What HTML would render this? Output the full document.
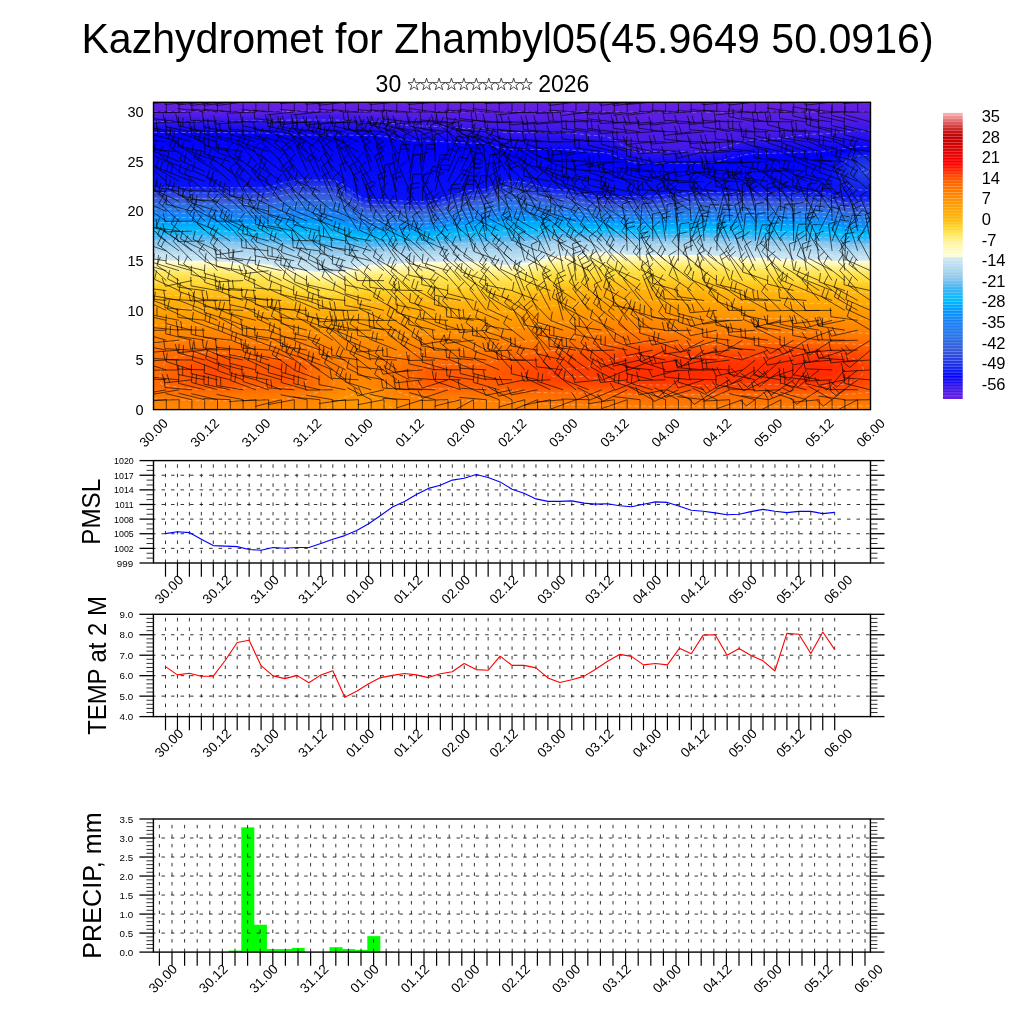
<!DOCTYPE html><html><head><meta charset="utf-8"><style>html,body{margin:0;padding:0;background:#fff;width:1024px;height:1024px;overflow:hidden}svg{display:block;will-change:transform}text{font-family:"Liberation Sans", sans-serif;fill:#000}</style></head><body><svg width="1024" height="1024" viewBox="0 0 1024 1024"><rect width="1024" height="1024" fill="#fff"/><text x="81.4" y="53.1" font-size="42.7" text-anchor="start" textLength="852.2" lengthAdjust="spacingAndGlyphs">Kazhydromet for Zhambyl05(45.9649 50.0916)</text><text x="375.6" y="92.3" font-size="23.0" text-anchor="start" >30</text><text x="589.4" y="92.3" font-size="23.0" text-anchor="end" >2026</text><polygon points="414.10,78.20 415.54,82.62 420.19,82.62 416.43,85.36 417.86,89.78 414.10,87.04 410.34,89.78 411.77,85.36 408.01,82.62 412.66,82.62" fill="none" stroke="#000" stroke-width="0.7"/><polygon points="426.55,78.20 427.99,82.62 432.64,82.62 428.88,85.36 430.31,89.78 426.55,87.04 422.79,89.78 424.22,85.36 420.46,82.62 425.11,82.62" fill="none" stroke="#000" stroke-width="0.7"/><polygon points="439.00,78.20 440.44,82.62 445.09,82.62 441.33,85.36 442.76,89.78 439.00,87.04 435.24,89.78 436.67,85.36 432.91,82.62 437.56,82.62" fill="none" stroke="#000" stroke-width="0.7"/><polygon points="451.45,78.20 452.89,82.62 457.54,82.62 453.78,85.36 455.21,89.78 451.45,87.04 447.69,89.78 449.12,85.36 445.36,82.62 450.01,82.62" fill="none" stroke="#000" stroke-width="0.7"/><polygon points="463.90,78.20 465.34,82.62 469.99,82.62 466.23,85.36 467.66,89.78 463.90,87.04 460.14,89.78 461.57,85.36 457.81,82.62 462.46,82.62" fill="none" stroke="#000" stroke-width="0.7"/><polygon points="476.35,78.20 477.79,82.62 482.44,82.62 478.68,85.36 480.11,89.78 476.35,87.04 472.59,89.78 474.02,85.36 470.26,82.62 474.91,82.62" fill="none" stroke="#000" stroke-width="0.7"/><polygon points="488.80,78.20 490.24,82.62 494.89,82.62 491.13,85.36 492.56,89.78 488.80,87.04 485.04,89.78 486.47,85.36 482.71,82.62 487.36,82.62" fill="none" stroke="#000" stroke-width="0.7"/><polygon points="501.25,78.20 502.69,82.62 507.34,82.62 503.58,85.36 505.01,89.78 501.25,87.04 497.49,89.78 498.92,85.36 495.16,82.62 499.81,82.62" fill="none" stroke="#000" stroke-width="0.7"/><polygon points="513.70,78.20 515.14,82.62 519.79,82.62 516.03,85.36 517.46,89.78 513.70,87.04 509.94,89.78 511.37,85.36 507.61,82.62 512.26,82.62" fill="none" stroke="#000" stroke-width="0.7"/><polygon points="526.15,78.20 527.59,82.62 532.24,82.62 528.48,85.36 529.91,89.78 526.15,87.04 522.39,89.78 523.82,85.36 520.06,82.62 524.71,82.62" fill="none" stroke="#000" stroke-width="0.7"/><defs><linearGradient id="g0" x2="0" y2="1"><stop offset="0.000" stop-color="#6920e0"/><stop offset="0.033" stop-color="#5c1ee2"/><stop offset="0.078" stop-color="#2010f0"/><stop offset="0.107" stop-color="#0101fe"/><stop offset="0.270" stop-color="#0911f7"/><stop offset="0.273" stop-color="#0a14f6"/><stop offset="0.293" stop-color="#2139e7"/><stop offset="0.312" stop-color="#3757d9"/><stop offset="0.316" stop-color="#375ad9"/><stop offset="0.345" stop-color="#2878e8"/><stop offset="0.364" stop-color="#1880f8"/><stop offset="0.384" stop-color="#0099ff"/><stop offset="0.410" stop-color="#00b9ff"/><stop offset="0.417" stop-color="#07bbfe"/><stop offset="0.436" stop-color="#3fb4f4"/><stop offset="0.449" stop-color="#73c1ef"/><stop offset="0.459" stop-color="#91c9ec"/><stop offset="0.488" stop-color="#b9ddf0"/><stop offset="0.511" stop-color="#cee7f4"/><stop offset="0.514" stop-color="#fffedd"/><stop offset="0.521" stop-color="#fffac1"/><stop offset="0.530" stop-color="#fff7ab"/><stop offset="0.547" stop-color="#ffec6f"/><stop offset="0.586" stop-color="#ffd831"/><stop offset="0.628" stop-color="#ffb810"/><stop offset="0.687" stop-color="#ffa000"/><stop offset="0.836" stop-color="#ff6c00"/><stop offset="0.921" stop-color="#ff6900"/><stop offset="1.000" stop-color="#ff8b00"/></linearGradient><linearGradient id="g1" x2="0" y2="1"><stop offset="0.000" stop-color="#6920e0"/><stop offset="0.033" stop-color="#5c1ee2"/><stop offset="0.078" stop-color="#2010f0"/><stop offset="0.107" stop-color="#0101fe"/><stop offset="0.270" stop-color="#0911f7"/><stop offset="0.273" stop-color="#0a14f6"/><stop offset="0.293" stop-color="#2139e7"/><stop offset="0.312" stop-color="#3757d9"/><stop offset="0.316" stop-color="#375ad9"/><stop offset="0.345" stop-color="#2878e8"/><stop offset="0.364" stop-color="#1880f8"/><stop offset="0.384" stop-color="#0099ff"/><stop offset="0.413" stop-color="#01bcff"/><stop offset="0.436" stop-color="#3eb4f4"/><stop offset="0.449" stop-color="#72c1ef"/><stop offset="0.459" stop-color="#91c9ec"/><stop offset="0.488" stop-color="#b9ddf0"/><stop offset="0.511" stop-color="#cde7f4"/><stop offset="0.514" stop-color="#fffede"/><stop offset="0.521" stop-color="#fffac3"/><stop offset="0.530" stop-color="#fff7ac"/><stop offset="0.547" stop-color="#ffec6f"/><stop offset="0.586" stop-color="#ffd932"/><stop offset="0.628" stop-color="#ffb810"/><stop offset="0.690" stop-color="#ff9f00"/><stop offset="0.836" stop-color="#ff6900"/><stop offset="0.918" stop-color="#ff6700"/><stop offset="1.000" stop-color="#ff8b00"/></linearGradient><linearGradient id="g2" x2="0" y2="1"><stop offset="0.000" stop-color="#6920e0"/><stop offset="0.033" stop-color="#5c1ee2"/><stop offset="0.078" stop-color="#2010f0"/><stop offset="0.107" stop-color="#0101fe"/><stop offset="0.270" stop-color="#0911f7"/><stop offset="0.273" stop-color="#0a14f6"/><stop offset="0.293" stop-color="#2139e7"/><stop offset="0.312" stop-color="#3756d9"/><stop offset="0.316" stop-color="#375ad9"/><stop offset="0.345" stop-color="#2878e8"/><stop offset="0.364" stop-color="#1980f7"/><stop offset="0.384" stop-color="#0099ff"/><stop offset="0.413" stop-color="#00bcff"/><stop offset="0.436" stop-color="#3db4f5"/><stop offset="0.452" stop-color="#7dc3ee"/><stop offset="0.459" stop-color="#90c8ec"/><stop offset="0.488" stop-color="#b9dcf0"/><stop offset="0.514" stop-color="#d0e8f4"/><stop offset="0.517" stop-color="#fffcd3"/><stop offset="0.521" stop-color="#fffbc5"/><stop offset="0.530" stop-color="#fff8ae"/><stop offset="0.547" stop-color="#ffec70"/><stop offset="0.589" stop-color="#ffd72f"/><stop offset="0.628" stop-color="#ffb810"/><stop offset="0.690" stop-color="#ff9f00"/><stop offset="0.797" stop-color="#ff7800"/><stop offset="0.836" stop-color="#ff6500"/><stop offset="0.856" stop-color="#ff6200"/><stop offset="0.918" stop-color="#ff6300"/><stop offset="0.953" stop-color="#ff7900"/><stop offset="1.000" stop-color="#ff8b00"/></linearGradient><linearGradient id="g3" x2="0" y2="1"><stop offset="0.000" stop-color="#6920e0"/><stop offset="0.033" stop-color="#5c1ee2"/><stop offset="0.078" stop-color="#2010f0"/><stop offset="0.107" stop-color="#0101fe"/><stop offset="0.270" stop-color="#0911f7"/><stop offset="0.273" stop-color="#0a14f6"/><stop offset="0.293" stop-color="#2139e7"/><stop offset="0.316" stop-color="#375ad9"/><stop offset="0.345" stop-color="#2877e8"/><stop offset="0.364" stop-color="#1980f7"/><stop offset="0.384" stop-color="#0098ff"/><stop offset="0.413" stop-color="#00bcff"/><stop offset="0.420" stop-color="#0ebafd"/><stop offset="0.436" stop-color="#3cb5f5"/><stop offset="0.452" stop-color="#7bc3ee"/><stop offset="0.459" stop-color="#8fc8ec"/><stop offset="0.488" stop-color="#b8dcf0"/><stop offset="0.514" stop-color="#cfe8f4"/><stop offset="0.517" stop-color="#fffdd5"/><stop offset="0.524" stop-color="#fffabe"/><stop offset="0.530" stop-color="#fff8b0"/><stop offset="0.547" stop-color="#ffec72"/><stop offset="0.550" stop-color="#ffeb6c"/><stop offset="0.589" stop-color="#ffd72f"/><stop offset="0.631" stop-color="#ffb70f"/><stop offset="0.690" stop-color="#ffa000"/><stop offset="0.794" stop-color="#ff7800"/><stop offset="0.836" stop-color="#ff6000"/><stop offset="0.859" stop-color="#ff5b00"/><stop offset="0.918" stop-color="#ff5f00"/><stop offset="0.953" stop-color="#ff7800"/><stop offset="1.000" stop-color="#ff8b00"/></linearGradient><linearGradient id="g4" x2="0" y2="1"><stop offset="0.000" stop-color="#6920e0"/><stop offset="0.033" stop-color="#5c1ee2"/><stop offset="0.078" stop-color="#2010f0"/><stop offset="0.107" stop-color="#0101fe"/><stop offset="0.270" stop-color="#0911f7"/><stop offset="0.273" stop-color="#0a14f6"/><stop offset="0.293" stop-color="#2139e8"/><stop offset="0.316" stop-color="#375ad9"/><stop offset="0.345" stop-color="#2877e8"/><stop offset="0.364" stop-color="#197ff7"/><stop offset="0.384" stop-color="#0098ff"/><stop offset="0.413" stop-color="#00bbff"/><stop offset="0.420" stop-color="#0cbafd"/><stop offset="0.439" stop-color="#45b5f4"/><stop offset="0.452" stop-color="#79c2ee"/><stop offset="0.459" stop-color="#8ec7ec"/><stop offset="0.488" stop-color="#b7dcf0"/><stop offset="0.514" stop-color="#cee7f4"/><stop offset="0.517" stop-color="#fffdd8"/><stop offset="0.524" stop-color="#fffabf"/><stop offset="0.530" stop-color="#fff8b2"/><stop offset="0.547" stop-color="#ffed75"/><stop offset="0.550" stop-color="#ffeb6d"/><stop offset="0.589" stop-color="#ffd830"/><stop offset="0.631" stop-color="#ffb710"/><stop offset="0.690" stop-color="#ffa000"/><stop offset="0.791" stop-color="#ff7800"/><stop offset="0.840" stop-color="#ff5900"/><stop offset="0.859" stop-color="#ff5500"/><stop offset="0.918" stop-color="#ff5c00"/><stop offset="0.957" stop-color="#ff7800"/><stop offset="1.000" stop-color="#ff8b00"/></linearGradient><linearGradient id="g5" x2="0" y2="1"><stop offset="0.000" stop-color="#6920e0"/><stop offset="0.033" stop-color="#5c1ee2"/><stop offset="0.078" stop-color="#2010f0"/><stop offset="0.107" stop-color="#0101fe"/><stop offset="0.270" stop-color="#0911f7"/><stop offset="0.273" stop-color="#0a14f6"/><stop offset="0.293" stop-color="#2139e8"/><stop offset="0.316" stop-color="#375ad9"/><stop offset="0.345" stop-color="#2977e7"/><stop offset="0.364" stop-color="#197ff7"/><stop offset="0.384" stop-color="#0197ff"/><stop offset="0.413" stop-color="#00bbff"/><stop offset="0.420" stop-color="#0bbbfd"/><stop offset="0.436" stop-color="#39b5f5"/><stop offset="0.452" stop-color="#78c2ee"/><stop offset="0.459" stop-color="#8cc7ec"/><stop offset="0.488" stop-color="#b6dbf0"/><stop offset="0.514" stop-color="#cee7f4"/><stop offset="0.517" stop-color="#fffddb"/><stop offset="0.524" stop-color="#fffac0"/><stop offset="0.534" stop-color="#fff7a9"/><stop offset="0.550" stop-color="#ffeb6e"/><stop offset="0.589" stop-color="#ffd831"/><stop offset="0.631" stop-color="#ffb810"/><stop offset="0.690" stop-color="#ffa000"/><stop offset="0.788" stop-color="#ff7800"/><stop offset="0.840" stop-color="#ff5500"/><stop offset="0.862" stop-color="#ff5000"/><stop offset="0.918" stop-color="#ff5800"/><stop offset="0.957" stop-color="#ff7800"/><stop offset="1.000" stop-color="#ff8b00"/></linearGradient><linearGradient id="g6" x2="0" y2="1"><stop offset="0.000" stop-color="#6920e0"/><stop offset="0.033" stop-color="#5c1ee2"/><stop offset="0.078" stop-color="#2010f0"/><stop offset="0.107" stop-color="#0101fe"/><stop offset="0.270" stop-color="#0911f7"/><stop offset="0.273" stop-color="#0a14f6"/><stop offset="0.293" stop-color="#2139e8"/><stop offset="0.316" stop-color="#375ad9"/><stop offset="0.345" stop-color="#2977e7"/><stop offset="0.364" stop-color="#197ff7"/><stop offset="0.384" stop-color="#0197ff"/><stop offset="0.413" stop-color="#00bbff"/><stop offset="0.420" stop-color="#0bbbfd"/><stop offset="0.439" stop-color="#42b5f4"/><stop offset="0.452" stop-color="#77c2ef"/><stop offset="0.462" stop-color="#93c9ec"/><stop offset="0.488" stop-color="#b6dbf0"/><stop offset="0.514" stop-color="#cee7f4"/><stop offset="0.517" stop-color="#fffedc"/><stop offset="0.524" stop-color="#fffac1"/><stop offset="0.534" stop-color="#fff7aa"/><stop offset="0.550" stop-color="#ffec6e"/><stop offset="0.589" stop-color="#ffd831"/><stop offset="0.631" stop-color="#ffb810"/><stop offset="0.690" stop-color="#ffa000"/><stop offset="0.784" stop-color="#ff7900"/><stop offset="0.814" stop-color="#ff6800"/><stop offset="0.840" stop-color="#ff5200"/><stop offset="0.862" stop-color="#ff4b00"/><stop offset="0.885" stop-color="#ff4c00"/><stop offset="0.918" stop-color="#ff5600"/><stop offset="0.957" stop-color="#ff7700"/><stop offset="1.000" stop-color="#ff8b00"/></linearGradient><linearGradient id="g7" x2="0" y2="1"><stop offset="0.000" stop-color="#6920e0"/><stop offset="0.033" stop-color="#5c1ee2"/><stop offset="0.078" stop-color="#2010f0"/><stop offset="0.107" stop-color="#0101fe"/><stop offset="0.270" stop-color="#0911f7"/><stop offset="0.273" stop-color="#0a14f6"/><stop offset="0.293" stop-color="#2139e8"/><stop offset="0.316" stop-color="#375ad9"/><stop offset="0.345" stop-color="#2977e7"/><stop offset="0.364" stop-color="#197ff7"/><stop offset="0.384" stop-color="#0197ff"/><stop offset="0.413" stop-color="#00baff"/><stop offset="0.420" stop-color="#0bbbfd"/><stop offset="0.439" stop-color="#42b5f4"/><stop offset="0.452" stop-color="#76c2ef"/><stop offset="0.462" stop-color="#92c9ec"/><stop offset="0.488" stop-color="#b6dbf0"/><stop offset="0.514" stop-color="#cde7f4"/><stop offset="0.517" stop-color="#fffedd"/><stop offset="0.524" stop-color="#fffac1"/><stop offset="0.534" stop-color="#fff7ab"/><stop offset="0.550" stop-color="#ffec6f"/><stop offset="0.589" stop-color="#ffd831"/><stop offset="0.631" stop-color="#ffb810"/><stop offset="0.690" stop-color="#ffa000"/><stop offset="0.784" stop-color="#ff7900"/><stop offset="0.814" stop-color="#ff6800"/><stop offset="0.840" stop-color="#ff5100"/><stop offset="0.862" stop-color="#ff4a00"/><stop offset="0.885" stop-color="#ff4b00"/><stop offset="0.918" stop-color="#ff5600"/><stop offset="0.957" stop-color="#ff7700"/><stop offset="1.000" stop-color="#ff8a00"/></linearGradient><linearGradient id="g8" x2="0" y2="1"><stop offset="0.000" stop-color="#6920e0"/><stop offset="0.033" stop-color="#5c1ee2"/><stop offset="0.078" stop-color="#2010f0"/><stop offset="0.107" stop-color="#0101ff"/><stop offset="0.270" stop-color="#0911f7"/><stop offset="0.273" stop-color="#0a14f6"/><stop offset="0.293" stop-color="#2139e8"/><stop offset="0.316" stop-color="#375ad9"/><stop offset="0.345" stop-color="#2976e7"/><stop offset="0.364" stop-color="#1a7ff6"/><stop offset="0.384" stop-color="#0296ff"/><stop offset="0.413" stop-color="#00baff"/><stop offset="0.420" stop-color="#09bbfd"/><stop offset="0.439" stop-color="#3fb4f4"/><stop offset="0.452" stop-color="#73c1ef"/><stop offset="0.462" stop-color="#91c9ec"/><stop offset="0.491" stop-color="#b9dcf0"/><stop offset="0.517" stop-color="#cfe8f4"/><stop offset="0.521" stop-color="#fffcd3"/><stop offset="0.524" stop-color="#fffbc6"/><stop offset="0.534" stop-color="#fff8af"/><stop offset="0.550" stop-color="#ffec70"/><stop offset="0.592" stop-color="#ffd72f"/><stop offset="0.631" stop-color="#ffb810"/><stop offset="0.693" stop-color="#ff9f00"/><stop offset="0.788" stop-color="#ff7800"/><stop offset="0.814" stop-color="#ff6900"/><stop offset="0.840" stop-color="#ff5300"/><stop offset="0.862" stop-color="#ff4d00"/><stop offset="0.882" stop-color="#ff4d00"/><stop offset="0.918" stop-color="#ff5700"/><stop offset="0.957" stop-color="#ff7700"/><stop offset="1.000" stop-color="#ff8b00"/></linearGradient><linearGradient id="g9" x2="0" y2="1"><stop offset="0.000" stop-color="#6920e0"/><stop offset="0.033" stop-color="#5c1ee2"/><stop offset="0.078" stop-color="#2010f0"/><stop offset="0.107" stop-color="#0000ff"/><stop offset="0.111" stop-color="#0204fd"/><stop offset="0.114" stop-color="#0000ff"/><stop offset="0.270" stop-color="#0911f7"/><stop offset="0.273" stop-color="#0a14f6"/><stop offset="0.293" stop-color="#2038e8"/><stop offset="0.316" stop-color="#3759d9"/><stop offset="0.348" stop-color="#2779e9"/><stop offset="0.368" stop-color="#1880f8"/><stop offset="0.387" stop-color="#0099ff"/><stop offset="0.417" stop-color="#00bcff"/><stop offset="0.439" stop-color="#3cb5f5"/><stop offset="0.456" stop-color="#7ac3ee"/><stop offset="0.462" stop-color="#8ec8ec"/><stop offset="0.491" stop-color="#b7dbf0"/><stop offset="0.517" stop-color="#cee7f4"/><stop offset="0.521" stop-color="#fffddc"/><stop offset="0.527" stop-color="#fffac1"/><stop offset="0.537" stop-color="#fff7aa"/><stop offset="0.553" stop-color="#ffeb6e"/><stop offset="0.592" stop-color="#ffd831"/><stop offset="0.635" stop-color="#ffb710"/><stop offset="0.693" stop-color="#ffa000"/><stop offset="0.788" stop-color="#ff7900"/><stop offset="0.817" stop-color="#ff6900"/><stop offset="0.840" stop-color="#ff5600"/><stop offset="0.862" stop-color="#ff5100"/><stop offset="0.918" stop-color="#ff5900"/><stop offset="0.957" stop-color="#ff7800"/><stop offset="1.000" stop-color="#ff8b00"/></linearGradient><linearGradient id="g10" x2="0" y2="1"><stop offset="0.000" stop-color="#6920e0"/><stop offset="0.033" stop-color="#5c1ee2"/><stop offset="0.078" stop-color="#2010f0"/><stop offset="0.107" stop-color="#0000ff"/><stop offset="0.270" stop-color="#0911f7"/><stop offset="0.273" stop-color="#0a14f6"/><stop offset="0.293" stop-color="#2038e8"/><stop offset="0.316" stop-color="#3859d8"/><stop offset="0.348" stop-color="#2878e8"/><stop offset="0.368" stop-color="#1880f8"/><stop offset="0.387" stop-color="#0098ff"/><stop offset="0.417" stop-color="#00bbff"/><stop offset="0.423" stop-color="#0bbbfd"/><stop offset="0.443" stop-color="#40b4f4"/><stop offset="0.456" stop-color="#73c1ef"/><stop offset="0.465" stop-color="#91c9ec"/><stop offset="0.495" stop-color="#b8dcf0"/><stop offset="0.521" stop-color="#cee7f4"/><stop offset="0.524" stop-color="#fffdd8"/><stop offset="0.530" stop-color="#fffabf"/><stop offset="0.537" stop-color="#fff8b2"/><stop offset="0.553" stop-color="#ffed74"/><stop offset="0.556" stop-color="#ffeb6d"/><stop offset="0.596" stop-color="#ffd72f"/><stop offset="0.635" stop-color="#ffb911"/><stop offset="0.696" stop-color="#ff9f00"/><stop offset="0.794" stop-color="#ff7800"/><stop offset="0.843" stop-color="#ff5900"/><stop offset="0.862" stop-color="#ff5500"/><stop offset="0.918" stop-color="#ff5c00"/><stop offset="0.957" stop-color="#ff7900"/><stop offset="1.000" stop-color="#ff8b00"/></linearGradient><linearGradient id="g11" x2="0" y2="1"><stop offset="0.000" stop-color="#6920e0"/><stop offset="0.033" stop-color="#5c1ee2"/><stop offset="0.049" stop-color="#4419e7"/><stop offset="0.078" stop-color="#2010f0"/><stop offset="0.107" stop-color="#0101fe"/><stop offset="0.270" stop-color="#0911f7"/><stop offset="0.273" stop-color="#0a14f6"/><stop offset="0.293" stop-color="#2038e8"/><stop offset="0.316" stop-color="#3858d8"/><stop offset="0.351" stop-color="#2679ea"/><stop offset="0.368" stop-color="#197ff7"/><stop offset="0.387" stop-color="#0197ff"/><stop offset="0.417" stop-color="#00b9ff"/><stop offset="0.423" stop-color="#07bbfe"/><stop offset="0.443" stop-color="#3cb4f5"/><stop offset="0.459" stop-color="#7ac2ee"/><stop offset="0.465" stop-color="#8dc7ec"/><stop offset="0.495" stop-color="#b6dbf0"/><stop offset="0.524" stop-color="#cfe8f4"/><stop offset="0.527" stop-color="#fffcd4"/><stop offset="0.534" stop-color="#fffabd"/><stop offset="0.540" stop-color="#fff8af"/><stop offset="0.556" stop-color="#ffec70"/><stop offset="0.596" stop-color="#ffd932"/><stop offset="0.638" stop-color="#ffb810"/><stop offset="0.696" stop-color="#ffa000"/><stop offset="0.797" stop-color="#ff7800"/><stop offset="0.843" stop-color="#ff5d00"/><stop offset="0.862" stop-color="#ff5800"/><stop offset="0.918" stop-color="#ff5e00"/><stop offset="0.953" stop-color="#ff7700"/><stop offset="1.000" stop-color="#ff8b00"/></linearGradient><linearGradient id="g12" x2="0" y2="1"><stop offset="0.000" stop-color="#6920e0"/><stop offset="0.033" stop-color="#5c1ee2"/><stop offset="0.049" stop-color="#4319e7"/><stop offset="0.078" stop-color="#2010f0"/><stop offset="0.107" stop-color="#0201fe"/><stop offset="0.270" stop-color="#0911f7"/><stop offset="0.273" stop-color="#0a14f6"/><stop offset="0.293" stop-color="#2038e8"/><stop offset="0.316" stop-color="#3858d8"/><stop offset="0.351" stop-color="#2679ea"/><stop offset="0.371" stop-color="#1682f8"/><stop offset="0.390" stop-color="#009aff"/><stop offset="0.420" stop-color="#00bcff"/><stop offset="0.426" stop-color="#0dbafd"/><stop offset="0.446" stop-color="#43b5f4"/><stop offset="0.459" stop-color="#75c1ef"/><stop offset="0.469" stop-color="#91c9ec"/><stop offset="0.498" stop-color="#b8dcf0"/><stop offset="0.524" stop-color="#cee7f4"/><stop offset="0.527" stop-color="#fffdda"/><stop offset="0.534" stop-color="#fffac0"/><stop offset="0.540" stop-color="#fff8b2"/><stop offset="0.556" stop-color="#ffed76"/><stop offset="0.560" stop-color="#ffeb6d"/><stop offset="0.599" stop-color="#ffd830"/><stop offset="0.638" stop-color="#ffb911"/><stop offset="0.700" stop-color="#ff9f00"/><stop offset="0.801" stop-color="#ff7800"/><stop offset="0.846" stop-color="#ff5d00"/><stop offset="0.862" stop-color="#ff5a00"/><stop offset="0.918" stop-color="#ff5f00"/><stop offset="0.953" stop-color="#ff7800"/><stop offset="1.000" stop-color="#ff8b00"/></linearGradient><linearGradient id="g13" x2="0" y2="1"><stop offset="0.000" stop-color="#6920e0"/><stop offset="0.033" stop-color="#5c1ee2"/><stop offset="0.049" stop-color="#4319e7"/><stop offset="0.078" stop-color="#2010f0"/><stop offset="0.107" stop-color="#0201fe"/><stop offset="0.270" stop-color="#0911f7"/><stop offset="0.293" stop-color="#2038e8"/><stop offset="0.316" stop-color="#3858d8"/><stop offset="0.351" stop-color="#2679ea"/><stop offset="0.371" stop-color="#1781f8"/><stop offset="0.390" stop-color="#009aff"/><stop offset="0.420" stop-color="#00bbff"/><stop offset="0.426" stop-color="#0cbafd"/><stop offset="0.446" stop-color="#42b4f4"/><stop offset="0.459" stop-color="#74c1ef"/><stop offset="0.469" stop-color="#91c9ec"/><stop offset="0.498" stop-color="#b7dcf0"/><stop offset="0.524" stop-color="#cee7f4"/><stop offset="0.527" stop-color="#fffedd"/><stop offset="0.534" stop-color="#fffac1"/><stop offset="0.543" stop-color="#fff7aa"/><stop offset="0.560" stop-color="#ffeb6e"/><stop offset="0.599" stop-color="#ffd830"/><stop offset="0.641" stop-color="#ffb70f"/><stop offset="0.700" stop-color="#ff9f00"/><stop offset="0.801" stop-color="#ff7800"/><stop offset="0.846" stop-color="#ff5d00"/><stop offset="0.866" stop-color="#ff5900"/><stop offset="0.918" stop-color="#ff5f00"/><stop offset="0.953" stop-color="#ff7800"/><stop offset="1.000" stop-color="#ff8b00"/></linearGradient><linearGradient id="g14" x2="0" y2="1"><stop offset="0.000" stop-color="#6920e0"/><stop offset="0.033" stop-color="#5c1ee2"/><stop offset="0.049" stop-color="#4218e8"/><stop offset="0.078" stop-color="#2010f0"/><stop offset="0.111" stop-color="#0001ff"/><stop offset="0.267" stop-color="#0911f7"/><stop offset="0.270" stop-color="#0a13f6"/><stop offset="0.290" stop-color="#1f37e8"/><stop offset="0.312" stop-color="#3757d9"/><stop offset="0.316" stop-color="#375ad9"/><stop offset="0.348" stop-color="#2778e9"/><stop offset="0.368" stop-color="#1980f7"/><stop offset="0.387" stop-color="#0296ff"/><stop offset="0.420" stop-color="#00bbff"/><stop offset="0.426" stop-color="#0cbbfd"/><stop offset="0.446" stop-color="#40b4f4"/><stop offset="0.462" stop-color="#7cc3ee"/><stop offset="0.469" stop-color="#8fc8ec"/><stop offset="0.501" stop-color="#b9dcf0"/><stop offset="0.527" stop-color="#cee7f4"/><stop offset="0.530" stop-color="#fffdd8"/><stop offset="0.537" stop-color="#fffabf"/><stop offset="0.543" stop-color="#fff8b1"/><stop offset="0.560" stop-color="#ffed73"/><stop offset="0.563" stop-color="#ffeb6c"/><stop offset="0.602" stop-color="#ffd72f"/><stop offset="0.641" stop-color="#ffb810"/><stop offset="0.700" stop-color="#ffa000"/><stop offset="0.801" stop-color="#ff7900"/><stop offset="0.846" stop-color="#ff5c00"/><stop offset="0.866" stop-color="#ff5700"/><stop offset="0.918" stop-color="#ff5e00"/><stop offset="0.953" stop-color="#ff7800"/><stop offset="1.000" stop-color="#ff8b00"/></linearGradient><linearGradient id="g15" x2="0" y2="1"><stop offset="0.000" stop-color="#6920e0"/><stop offset="0.033" stop-color="#5c1ee2"/><stop offset="0.046" stop-color="#4419e7"/><stop offset="0.078" stop-color="#2010f0"/><stop offset="0.111" stop-color="#0201fe"/><stop offset="0.260" stop-color="#0911f7"/><stop offset="0.283" stop-color="#1e36e9"/><stop offset="0.309" stop-color="#3859d8"/><stop offset="0.345" stop-color="#2778e9"/><stop offset="0.364" stop-color="#1a7ff6"/><stop offset="0.387" stop-color="#0098ff"/><stop offset="0.420" stop-color="#00bbff"/><stop offset="0.426" stop-color="#0bbbfd"/><stop offset="0.446" stop-color="#3cb4f5"/><stop offset="0.462" stop-color="#75c1ef"/><stop offset="0.472" stop-color="#91c8ec"/><stop offset="0.504" stop-color="#b8dcf0"/><stop offset="0.534" stop-color="#d0e8f4"/><stop offset="0.537" stop-color="#fffcd2"/><stop offset="0.540" stop-color="#fffbc4"/><stop offset="0.550" stop-color="#fff7ad"/><stop offset="0.566" stop-color="#ffec6f"/><stop offset="0.605" stop-color="#ffd830"/><stop offset="0.644" stop-color="#ffb810"/><stop offset="0.703" stop-color="#ffa000"/><stop offset="0.804" stop-color="#ff7800"/><stop offset="0.849" stop-color="#ff5900"/><stop offset="0.866" stop-color="#ff5500"/><stop offset="0.888" stop-color="#ff5500"/><stop offset="0.918" stop-color="#ff5d00"/><stop offset="0.953" stop-color="#ff7800"/><stop offset="1.000" stop-color="#ff8c00"/></linearGradient><linearGradient id="g16" x2="0" y2="1"><stop offset="0.000" stop-color="#6920e0"/><stop offset="0.029" stop-color="#5f1ee2"/><stop offset="0.046" stop-color="#4218e8"/><stop offset="0.078" stop-color="#2010f0"/><stop offset="0.114" stop-color="#0101ff"/><stop offset="0.254" stop-color="#0911f7"/><stop offset="0.277" stop-color="#1f36e9"/><stop offset="0.303" stop-color="#3858d8"/><stop offset="0.342" stop-color="#2778e9"/><stop offset="0.364" stop-color="#1880f8"/><stop offset="0.387" stop-color="#009aff"/><stop offset="0.420" stop-color="#00bbff"/><stop offset="0.426" stop-color="#0abbfd"/><stop offset="0.449" stop-color="#41b4f4"/><stop offset="0.465" stop-color="#79c2ee"/><stop offset="0.475" stop-color="#91c9ec"/><stop offset="0.508" stop-color="#b7dcf0"/><stop offset="0.537" stop-color="#cde7f4"/><stop offset="0.540" stop-color="#fffede"/><stop offset="0.547" stop-color="#fffac2"/><stop offset="0.556" stop-color="#fff7aa"/><stop offset="0.569" stop-color="#ffed76"/><stop offset="0.573" stop-color="#ffeb6d"/><stop offset="0.612" stop-color="#ffd72f"/><stop offset="0.651" stop-color="#ffb710"/><stop offset="0.706" stop-color="#ffa000"/><stop offset="0.804" stop-color="#ff7900"/><stop offset="0.853" stop-color="#ff5800"/><stop offset="0.866" stop-color="#ff5500"/><stop offset="0.888" stop-color="#ff5500"/><stop offset="0.918" stop-color="#ff5d00"/><stop offset="0.953" stop-color="#ff7900"/><stop offset="1.000" stop-color="#ff8c00"/></linearGradient><linearGradient id="g17" x2="0" y2="1"><stop offset="0.000" stop-color="#6920e0"/><stop offset="0.029" stop-color="#5f1ee2"/><stop offset="0.033" stop-color="#5b1de3"/><stop offset="0.042" stop-color="#4319e7"/><stop offset="0.078" stop-color="#2110f0"/><stop offset="0.117" stop-color="#0000ff"/><stop offset="0.247" stop-color="#0911f7"/><stop offset="0.273" stop-color="#2139e7"/><stop offset="0.299" stop-color="#3859d8"/><stop offset="0.338" stop-color="#2778e9"/><stop offset="0.361" stop-color="#1980f7"/><stop offset="0.384" stop-color="#0098ff"/><stop offset="0.420" stop-color="#00bbff"/><stop offset="0.426" stop-color="#09bbfd"/><stop offset="0.449" stop-color="#3eb4f4"/><stop offset="0.465" stop-color="#73c1ef"/><stop offset="0.475" stop-color="#8dc7ec"/><stop offset="0.511" stop-color="#b7dcf0"/><stop offset="0.543" stop-color="#cfe7f4"/><stop offset="0.547" stop-color="#fffdd6"/><stop offset="0.553" stop-color="#fffabd"/><stop offset="0.560" stop-color="#fff8af"/><stop offset="0.576" stop-color="#ffec6f"/><stop offset="0.615" stop-color="#ffd72f"/><stop offset="0.654" stop-color="#ffb810"/><stop offset="0.709" stop-color="#ffa000"/><stop offset="0.807" stop-color="#ff7900"/><stop offset="0.853" stop-color="#ff5b00"/><stop offset="0.866" stop-color="#ff5700"/><stop offset="0.888" stop-color="#ff5800"/><stop offset="0.918" stop-color="#ff6000"/><stop offset="0.950" stop-color="#ff7800"/><stop offset="1.000" stop-color="#ff8c00"/></linearGradient><linearGradient id="g18" x2="0" y2="1"><stop offset="0.000" stop-color="#6920e0"/><stop offset="0.029" stop-color="#5f1ee2"/><stop offset="0.033" stop-color="#5b1de3"/><stop offset="0.042" stop-color="#4319e7"/><stop offset="0.078" stop-color="#2110f0"/><stop offset="0.117" stop-color="#0100ff"/><stop offset="0.244" stop-color="#0911f7"/><stop offset="0.270" stop-color="#1f37e8"/><stop offset="0.299" stop-color="#375ad9"/><stop offset="0.338" stop-color="#2779e9"/><stop offset="0.361" stop-color="#1880f8"/><stop offset="0.384" stop-color="#0098ff"/><stop offset="0.420" stop-color="#00bbff"/><stop offset="0.426" stop-color="#09bbfe"/><stop offset="0.449" stop-color="#3db4f5"/><stop offset="0.469" stop-color="#7bc3ee"/><stop offset="0.478" stop-color="#92c9ec"/><stop offset="0.514" stop-color="#b9dcf0"/><stop offset="0.543" stop-color="#cee7f4"/><stop offset="0.547" stop-color="#fffedc"/><stop offset="0.553" stop-color="#fffac0"/><stop offset="0.560" stop-color="#fff8b2"/><stop offset="0.576" stop-color="#ffec73"/><stop offset="0.579" stop-color="#ffeb6c"/><stop offset="0.615" stop-color="#ffd830"/><stop offset="0.654" stop-color="#ffb810"/><stop offset="0.713" stop-color="#ff9f00"/><stop offset="0.810" stop-color="#ff7800"/><stop offset="0.862" stop-color="#ff5e00"/><stop offset="0.885" stop-color="#ff5e00"/><stop offset="0.918" stop-color="#ff6500"/><stop offset="0.953" stop-color="#ff7c00"/><stop offset="1.000" stop-color="#ff8d00"/></linearGradient><linearGradient id="g19" x2="0" y2="1"><stop offset="0.000" stop-color="#6920e0"/><stop offset="0.029" stop-color="#5f1ee2"/><stop offset="0.033" stop-color="#5b1de3"/><stop offset="0.042" stop-color="#4319e7"/><stop offset="0.078" stop-color="#2110f0"/><stop offset="0.117" stop-color="#0100ff"/><stop offset="0.244" stop-color="#0911f7"/><stop offset="0.270" stop-color="#1f37e8"/><stop offset="0.299" stop-color="#3759d9"/><stop offset="0.338" stop-color="#2778e9"/><stop offset="0.361" stop-color="#1980f7"/><stop offset="0.384" stop-color="#0197ff"/><stop offset="0.420" stop-color="#00baff"/><stop offset="0.426" stop-color="#07bbfe"/><stop offset="0.452" stop-color="#42b4f4"/><stop offset="0.469" stop-color="#77c2ef"/><stop offset="0.478" stop-color="#90c8ec"/><stop offset="0.514" stop-color="#b8dcf0"/><stop offset="0.547" stop-color="#cfe7f4"/><stop offset="0.550" stop-color="#fffdd7"/><stop offset="0.556" stop-color="#fffabd"/><stop offset="0.563" stop-color="#fff8af"/><stop offset="0.579" stop-color="#ffec6f"/><stop offset="0.618" stop-color="#ffd72f"/><stop offset="0.657" stop-color="#ffb710"/><stop offset="0.713" stop-color="#ffa000"/><stop offset="0.859" stop-color="#ff6600"/><stop offset="0.918" stop-color="#ff6b00"/><stop offset="0.960" stop-color="#ff8200"/><stop offset="1.000" stop-color="#ff8f00"/></linearGradient><linearGradient id="g20" x2="0" y2="1"><stop offset="0.000" stop-color="#6920e0"/><stop offset="0.029" stop-color="#5f1ee2"/><stop offset="0.033" stop-color="#5b1de3"/><stop offset="0.042" stop-color="#4319e7"/><stop offset="0.078" stop-color="#2110f0"/><stop offset="0.117" stop-color="#0100ff"/><stop offset="0.244" stop-color="#0911f7"/><stop offset="0.270" stop-color="#1f36e9"/><stop offset="0.299" stop-color="#3859d8"/><stop offset="0.338" stop-color="#2878e8"/><stop offset="0.361" stop-color="#1a7ff6"/><stop offset="0.387" stop-color="#0098ff"/><stop offset="0.423" stop-color="#00bbff"/><stop offset="0.430" stop-color="#08bbfe"/><stop offset="0.456" stop-color="#44b5f4"/><stop offset="0.472" stop-color="#78c2ee"/><stop offset="0.482" stop-color="#90c8ec"/><stop offset="0.517" stop-color="#b7dcf0"/><stop offset="0.550" stop-color="#cee7f4"/><stop offset="0.553" stop-color="#fffdd9"/><stop offset="0.560" stop-color="#fffabf"/><stop offset="0.566" stop-color="#fff8b1"/><stop offset="0.582" stop-color="#ffec70"/><stop offset="0.622" stop-color="#ffd72f"/><stop offset="0.661" stop-color="#ffb710"/><stop offset="0.716" stop-color="#ffa000"/><stop offset="0.859" stop-color="#ff6d00"/><stop offset="0.921" stop-color="#ff7200"/><stop offset="0.960" stop-color="#ff8500"/><stop offset="1.000" stop-color="#ff9100"/></linearGradient><linearGradient id="g21" x2="0" y2="1"><stop offset="0.000" stop-color="#6920e0"/><stop offset="0.029" stop-color="#5f1ee2"/><stop offset="0.033" stop-color="#5b1de3"/><stop offset="0.042" stop-color="#4319e7"/><stop offset="0.078" stop-color="#2110f0"/><stop offset="0.117" stop-color="#0100ff"/><stop offset="0.244" stop-color="#0911f7"/><stop offset="0.270" stop-color="#1f36e9"/><stop offset="0.299" stop-color="#3858d8"/><stop offset="0.342" stop-color="#2779e9"/><stop offset="0.364" stop-color="#1880f8"/><stop offset="0.387" stop-color="#0197ff"/><stop offset="0.426" stop-color="#00bcff"/><stop offset="0.456" stop-color="#3eb4f4"/><stop offset="0.475" stop-color="#7ac3ee"/><stop offset="0.485" stop-color="#91c9ec"/><stop offset="0.521" stop-color="#b8dcf0"/><stop offset="0.553" stop-color="#cee7f4"/><stop offset="0.556" stop-color="#fffdd9"/><stop offset="0.563" stop-color="#fffabf"/><stop offset="0.569" stop-color="#fff8b0"/><stop offset="0.586" stop-color="#ffec6f"/><stop offset="0.625" stop-color="#ffd72f"/><stop offset="0.664" stop-color="#ffb70f"/><stop offset="0.719" stop-color="#ffa000"/><stop offset="0.791" stop-color="#ff8500"/><stop offset="0.859" stop-color="#ff7400"/><stop offset="0.921" stop-color="#ff7900"/><stop offset="0.960" stop-color="#ff8900"/><stop offset="1.000" stop-color="#ff9300"/></linearGradient><linearGradient id="g22" x2="0" y2="1"><stop offset="0.000" stop-color="#6920e0"/><stop offset="0.029" stop-color="#5f1ee2"/><stop offset="0.033" stop-color="#5b1de3"/><stop offset="0.042" stop-color="#4319e7"/><stop offset="0.078" stop-color="#2110f0"/><stop offset="0.117" stop-color="#0100ff"/><stop offset="0.247" stop-color="#0911f7"/><stop offset="0.270" stop-color="#1e35e9"/><stop offset="0.299" stop-color="#3858d8"/><stop offset="0.342" stop-color="#2779e9"/><stop offset="0.364" stop-color="#1980f7"/><stop offset="0.390" stop-color="#009aff"/><stop offset="0.426" stop-color="#00bcff"/><stop offset="0.433" stop-color="#0abbfd"/><stop offset="0.456" stop-color="#3db4f5"/><stop offset="0.475" stop-color="#79c2ee"/><stop offset="0.485" stop-color="#91c8ec"/><stop offset="0.521" stop-color="#b7dcf0"/><stop offset="0.553" stop-color="#cee7f4"/><stop offset="0.556" stop-color="#fffddb"/><stop offset="0.563" stop-color="#fffabf"/><stop offset="0.569" stop-color="#fff8b1"/><stop offset="0.586" stop-color="#ffec70"/><stop offset="0.625" stop-color="#ffd72f"/><stop offset="0.664" stop-color="#ffb710"/><stop offset="0.719" stop-color="#ffa000"/><stop offset="0.791" stop-color="#ff8600"/><stop offset="0.859" stop-color="#ff7900"/><stop offset="0.921" stop-color="#ff7e00"/><stop offset="0.960" stop-color="#ff8d00"/><stop offset="1.000" stop-color="#ff9500"/></linearGradient><linearGradient id="g23" x2="0" y2="1"><stop offset="0.000" stop-color="#6920e0"/><stop offset="0.029" stop-color="#5f1ee2"/><stop offset="0.033" stop-color="#5b1de3"/><stop offset="0.042" stop-color="#4419e7"/><stop offset="0.078" stop-color="#2110f0"/><stop offset="0.117" stop-color="#0100ff"/><stop offset="0.257" stop-color="#0911f7"/><stop offset="0.280" stop-color="#1e35e9"/><stop offset="0.309" stop-color="#3759d9"/><stop offset="0.348" stop-color="#2779e9"/><stop offset="0.371" stop-color="#1781f8"/><stop offset="0.394" stop-color="#0099ff"/><stop offset="0.426" stop-color="#00baff"/><stop offset="0.433" stop-color="#07bbfe"/><stop offset="0.456" stop-color="#3bb5f5"/><stop offset="0.475" stop-color="#7ac3ee"/><stop offset="0.485" stop-color="#92c9ec"/><stop offset="0.517" stop-color="#b7dbf0"/><stop offset="0.550" stop-color="#cfe7f4"/><stop offset="0.553" stop-color="#fffdd7"/><stop offset="0.560" stop-color="#fffabe"/><stop offset="0.566" stop-color="#fff8b0"/><stop offset="0.582" stop-color="#ffec6f"/><stop offset="0.622" stop-color="#ffd830"/><stop offset="0.661" stop-color="#ffb810"/><stop offset="0.719" stop-color="#ffa000"/><stop offset="0.791" stop-color="#ff8700"/><stop offset="0.853" stop-color="#ff7e00"/><stop offset="0.921" stop-color="#ff8300"/><stop offset="0.960" stop-color="#ff9100"/><stop offset="1.000" stop-color="#ff9800"/></linearGradient><linearGradient id="g24" x2="0" y2="1"><stop offset="0.000" stop-color="#6920e0"/><stop offset="0.033" stop-color="#5c1ee2"/><stop offset="0.046" stop-color="#4319e7"/><stop offset="0.081" stop-color="#1f10f0"/><stop offset="0.117" stop-color="#0100ff"/><stop offset="0.277" stop-color="#0912f7"/><stop offset="0.296" stop-color="#1e35e9"/><stop offset="0.322" stop-color="#3858d8"/><stop offset="0.358" stop-color="#2778e9"/><stop offset="0.377" stop-color="#197ff7"/><stop offset="0.400" stop-color="#0099ff"/><stop offset="0.430" stop-color="#00b9ff"/><stop offset="0.436" stop-color="#07bbfe"/><stop offset="0.459" stop-color="#41b4f4"/><stop offset="0.475" stop-color="#7cc3ee"/><stop offset="0.482" stop-color="#8fc8ec"/><stop offset="0.514" stop-color="#b8dcf0"/><stop offset="0.543" stop-color="#d0e8f4"/><stop offset="0.547" stop-color="#fffcd3"/><stop offset="0.550" stop-color="#fffbc5"/><stop offset="0.560" stop-color="#fff8ae"/><stop offset="0.576" stop-color="#ffec70"/><stop offset="0.615" stop-color="#ffd932"/><stop offset="0.657" stop-color="#ffb810"/><stop offset="0.719" stop-color="#ff9f00"/><stop offset="0.791" stop-color="#ff8800"/><stop offset="0.840" stop-color="#ff8100"/><stop offset="0.866" stop-color="#ff8000"/><stop offset="0.921" stop-color="#ff8700"/><stop offset="0.960" stop-color="#ff9400"/><stop offset="1.000" stop-color="#ff9900"/></linearGradient><linearGradient id="g25" x2="0" y2="1"><stop offset="0.000" stop-color="#6920e0"/><stop offset="0.033" stop-color="#5c1ee2"/><stop offset="0.046" stop-color="#4519e7"/><stop offset="0.081" stop-color="#2010f0"/><stop offset="0.117" stop-color="#0100ff"/><stop offset="0.296" stop-color="#0912f7"/><stop offset="0.316" stop-color="#2038e8"/><stop offset="0.338" stop-color="#375ad9"/><stop offset="0.368" stop-color="#2877e8"/><stop offset="0.387" stop-color="#1980f7"/><stop offset="0.407" stop-color="#0099ff"/><stop offset="0.433" stop-color="#00b9ff"/><stop offset="0.439" stop-color="#07bbfe"/><stop offset="0.459" stop-color="#3fb4f4"/><stop offset="0.472" stop-color="#73c1ef"/><stop offset="0.482" stop-color="#92c9ec"/><stop offset="0.508" stop-color="#b6dbf0"/><stop offset="0.534" stop-color="#cee7f4"/><stop offset="0.537" stop-color="#fffddb"/><stop offset="0.543" stop-color="#fffac1"/><stop offset="0.553" stop-color="#fff7ac"/><stop offset="0.569" stop-color="#ffec70"/><stop offset="0.612" stop-color="#ffd830"/><stop offset="0.654" stop-color="#ffb810"/><stop offset="0.716" stop-color="#ffa000"/><stop offset="0.794" stop-color="#ff8800"/><stop offset="0.833" stop-color="#ff8300"/><stop offset="0.866" stop-color="#ff8100"/><stop offset="0.918" stop-color="#ff8800"/><stop offset="0.960" stop-color="#ff9500"/><stop offset="1.000" stop-color="#ff9a00"/></linearGradient><linearGradient id="g26" x2="0" y2="1"><stop offset="0.000" stop-color="#6920e0"/><stop offset="0.033" stop-color="#5c1ee2"/><stop offset="0.049" stop-color="#4319e7"/><stop offset="0.081" stop-color="#2110f0"/><stop offset="0.117" stop-color="#0100ff"/><stop offset="0.309" stop-color="#0912f7"/><stop offset="0.325" stop-color="#1e35e9"/><stop offset="0.348" stop-color="#375ad9"/><stop offset="0.377" stop-color="#2679ea"/><stop offset="0.394" stop-color="#1880f8"/><stop offset="0.410" stop-color="#0197ff"/><stop offset="0.436" stop-color="#00b9ff"/><stop offset="0.443" stop-color="#0abbfd"/><stop offset="0.459" stop-color="#3db4f5"/><stop offset="0.472" stop-color="#75c1ef"/><stop offset="0.478" stop-color="#8cc7ec"/><stop offset="0.504" stop-color="#b5dbf0"/><stop offset="0.530" stop-color="#d0e8f4"/><stop offset="0.534" stop-color="#fffcd4"/><stop offset="0.540" stop-color="#fffabe"/><stop offset="0.547" stop-color="#fff8b1"/><stop offset="0.566" stop-color="#ffeb6e"/><stop offset="0.609" stop-color="#ffd830"/><stop offset="0.651" stop-color="#ffb911"/><stop offset="0.716" stop-color="#ffa000"/><stop offset="0.794" stop-color="#ff8900"/><stop offset="0.836" stop-color="#ff8300"/><stop offset="0.869" stop-color="#ff8100"/><stop offset="0.918" stop-color="#ff8700"/><stop offset="0.960" stop-color="#ff9500"/><stop offset="1.000" stop-color="#ff9a00"/></linearGradient><linearGradient id="g27" x2="0" y2="1"><stop offset="0.000" stop-color="#6920e0"/><stop offset="0.033" stop-color="#5c1ee2"/><stop offset="0.049" stop-color="#4319e7"/><stop offset="0.081" stop-color="#2110f0"/><stop offset="0.117" stop-color="#0101fe"/><stop offset="0.309" stop-color="#0911f7"/><stop offset="0.312" stop-color="#0a14f6"/><stop offset="0.329" stop-color="#1f37e8"/><stop offset="0.348" stop-color="#3857d8"/><stop offset="0.377" stop-color="#2878e8"/><stop offset="0.394" stop-color="#197ff7"/><stop offset="0.413" stop-color="#009aff"/><stop offset="0.436" stop-color="#00b9ff"/><stop offset="0.443" stop-color="#09bbfd"/><stop offset="0.459" stop-color="#3cb4f5"/><stop offset="0.472" stop-color="#75c1ef"/><stop offset="0.478" stop-color="#8dc7ec"/><stop offset="0.504" stop-color="#b6dbf0"/><stop offset="0.527" stop-color="#cde7f4"/><stop offset="0.530" stop-color="#fffedc"/><stop offset="0.537" stop-color="#fffac3"/><stop offset="0.547" stop-color="#fff8ae"/><stop offset="0.563" stop-color="#ffed74"/><stop offset="0.566" stop-color="#ffeb6d"/><stop offset="0.609" stop-color="#ffd72f"/><stop offset="0.651" stop-color="#ffb810"/><stop offset="0.716" stop-color="#ffa000"/><stop offset="0.794" stop-color="#ff8900"/><stop offset="0.846" stop-color="#ff8100"/><stop offset="0.921" stop-color="#ff8500"/><stop offset="0.960" stop-color="#ff9300"/><stop offset="1.000" stop-color="#ff9900"/></linearGradient><linearGradient id="g28" x2="0" y2="1"><stop offset="0.000" stop-color="#6920e0"/><stop offset="0.033" stop-color="#5c1ee2"/><stop offset="0.049" stop-color="#4519e7"/><stop offset="0.085" stop-color="#2010f0"/><stop offset="0.120" stop-color="#0000ff"/><stop offset="0.312" stop-color="#0912f7"/><stop offset="0.329" stop-color="#1e36e9"/><stop offset="0.348" stop-color="#3757d9"/><stop offset="0.377" stop-color="#2878e8"/><stop offset="0.394" stop-color="#197ff7"/><stop offset="0.413" stop-color="#009aff"/><stop offset="0.436" stop-color="#00b9ff"/><stop offset="0.443" stop-color="#0abbfd"/><stop offset="0.459" stop-color="#3eb4f4"/><stop offset="0.472" stop-color="#78c2ee"/><stop offset="0.478" stop-color="#8fc8ec"/><stop offset="0.504" stop-color="#b8dcf0"/><stop offset="0.527" stop-color="#cee7f4"/><stop offset="0.530" stop-color="#fffdd8"/><stop offset="0.537" stop-color="#fffac0"/><stop offset="0.547" stop-color="#fff7ab"/><stop offset="0.563" stop-color="#ffec71"/><stop offset="0.605" stop-color="#ffd932"/><stop offset="0.651" stop-color="#ffb810"/><stop offset="0.716" stop-color="#ffa000"/><stop offset="0.797" stop-color="#ff8700"/><stop offset="0.866" stop-color="#ff7d00"/><stop offset="0.921" stop-color="#ff8100"/><stop offset="0.960" stop-color="#ff9000"/><stop offset="1.000" stop-color="#ff9700"/></linearGradient><linearGradient id="g29" x2="0" y2="1"><stop offset="0.000" stop-color="#6920e0"/><stop offset="0.033" stop-color="#5c1ee2"/><stop offset="0.052" stop-color="#4419e7"/><stop offset="0.088" stop-color="#2010f0"/><stop offset="0.124" stop-color="#0100ff"/><stop offset="0.312" stop-color="#0911f7"/><stop offset="0.332" stop-color="#213ae7"/><stop offset="0.351" stop-color="#375ad9"/><stop offset="0.381" stop-color="#2579eb"/><stop offset="0.394" stop-color="#197ff7"/><stop offset="0.410" stop-color="#0296fe"/><stop offset="0.436" stop-color="#00baff"/><stop offset="0.443" stop-color="#0cbafd"/><stop offset="0.459" stop-color="#41b4f4"/><stop offset="0.472" stop-color="#7cc3ee"/><stop offset="0.478" stop-color="#92c9ec"/><stop offset="0.504" stop-color="#b9ddf0"/><stop offset="0.524" stop-color="#cde7f4"/><stop offset="0.527" stop-color="#fffedd"/><stop offset="0.534" stop-color="#fffbc4"/><stop offset="0.543" stop-color="#fff8b0"/><stop offset="0.563" stop-color="#ffeb6e"/><stop offset="0.605" stop-color="#ffd831"/><stop offset="0.651" stop-color="#ffb810"/><stop offset="0.716" stop-color="#ffa000"/><stop offset="0.797" stop-color="#ff8700"/><stop offset="0.869" stop-color="#ff7800"/><stop offset="0.921" stop-color="#ff7c00"/><stop offset="0.960" stop-color="#ff8b00"/><stop offset="1.000" stop-color="#ff9500"/></linearGradient><linearGradient id="g30" x2="0" y2="1"><stop offset="0.000" stop-color="#6920e0"/><stop offset="0.033" stop-color="#5d1ee2"/><stop offset="0.091" stop-color="#2010f0"/><stop offset="0.130" stop-color="#0101ff"/><stop offset="0.312" stop-color="#0911f7"/><stop offset="0.316" stop-color="#0913f6"/><stop offset="0.332" stop-color="#2038e8"/><stop offset="0.351" stop-color="#3859d8"/><stop offset="0.381" stop-color="#2679ea"/><stop offset="0.397" stop-color="#1682f9"/><stop offset="0.410" stop-color="#0296fe"/><stop offset="0.436" stop-color="#00bbff"/><stop offset="0.443" stop-color="#0fbafc"/><stop offset="0.456" stop-color="#3ab5f5"/><stop offset="0.475" stop-color="#8dc7ec"/><stop offset="0.501" stop-color="#b8dcf0"/><stop offset="0.524" stop-color="#d0e8f4"/><stop offset="0.527" stop-color="#fffdd4"/><stop offset="0.534" stop-color="#fffabe"/><stop offset="0.543" stop-color="#fff7a9"/><stop offset="0.560" stop-color="#ffec70"/><stop offset="0.605" stop-color="#ffd72f"/><stop offset="0.651" stop-color="#ffb710"/><stop offset="0.716" stop-color="#ffa000"/><stop offset="0.869" stop-color="#ff7400"/><stop offset="0.921" stop-color="#ff7600"/><stop offset="0.960" stop-color="#ff8700"/><stop offset="1.000" stop-color="#ff9200"/></linearGradient><linearGradient id="g31" x2="0" y2="1"><stop offset="0.000" stop-color="#6920e0"/><stop offset="0.033" stop-color="#5d1ee2"/><stop offset="0.094" stop-color="#2110f0"/><stop offset="0.133" stop-color="#0000ff"/><stop offset="0.316" stop-color="#0911f7"/><stop offset="0.332" stop-color="#1e35e9"/><stop offset="0.351" stop-color="#3858d8"/><stop offset="0.381" stop-color="#2679ea"/><stop offset="0.397" stop-color="#1682f9"/><stop offset="0.410" stop-color="#0197ff"/><stop offset="0.436" stop-color="#00bcff"/><stop offset="0.456" stop-color="#3db4f4"/><stop offset="0.469" stop-color="#7ac2ee"/><stop offset="0.475" stop-color="#91c8ec"/><stop offset="0.498" stop-color="#b6dbf0"/><stop offset="0.521" stop-color="#cee7f4"/><stop offset="0.524" stop-color="#fffdd8"/><stop offset="0.530" stop-color="#fffac0"/><stop offset="0.540" stop-color="#fff7ad"/><stop offset="0.556" stop-color="#ffed74"/><stop offset="0.560" stop-color="#ffeb6d"/><stop offset="0.602" stop-color="#ffd831"/><stop offset="0.648" stop-color="#ffb810"/><stop offset="0.716" stop-color="#ffa000"/><stop offset="0.872" stop-color="#ff6e00"/><stop offset="0.921" stop-color="#ff6f00"/><stop offset="0.960" stop-color="#ff8300"/><stop offset="1.000" stop-color="#ff9000"/></linearGradient><linearGradient id="g32" x2="0" y2="1"><stop offset="0.000" stop-color="#6920e0"/><stop offset="0.033" stop-color="#5d1ee2"/><stop offset="0.098" stop-color="#2010f0"/><stop offset="0.137" stop-color="#0000ff"/><stop offset="0.316" stop-color="#0911f7"/><stop offset="0.351" stop-color="#3757d9"/><stop offset="0.381" stop-color="#2679ea"/><stop offset="0.397" stop-color="#1682f9"/><stop offset="0.410" stop-color="#0197ff"/><stop offset="0.433" stop-color="#00b8ff"/><stop offset="0.436" stop-color="#01bcff"/><stop offset="0.439" stop-color="#09bbfe"/><stop offset="0.456" stop-color="#40b4f4"/><stop offset="0.469" stop-color="#7dc3ee"/><stop offset="0.475" stop-color="#93c9ec"/><stop offset="0.498" stop-color="#b8dcf0"/><stop offset="0.517" stop-color="#cde6f3"/><stop offset="0.521" stop-color="#fffedf"/><stop offset="0.527" stop-color="#fffbc6"/><stop offset="0.540" stop-color="#fff6a8"/><stop offset="0.556" stop-color="#ffec70"/><stop offset="0.602" stop-color="#ffd830"/><stop offset="0.648" stop-color="#ffb810"/><stop offset="0.716" stop-color="#ffa000"/><stop offset="0.872" stop-color="#ff6900"/><stop offset="0.921" stop-color="#ff6a00"/><stop offset="0.960" stop-color="#ff7f00"/><stop offset="1.000" stop-color="#ff8e00"/></linearGradient><linearGradient id="g33" x2="0" y2="1"><stop offset="0.000" stop-color="#6920e0"/><stop offset="0.033" stop-color="#5d1ee2"/><stop offset="0.098" stop-color="#2110f0"/><stop offset="0.137" stop-color="#0100ff"/><stop offset="0.316" stop-color="#0911f7"/><stop offset="0.319" stop-color="#0a14f6"/><stop offset="0.335" stop-color="#2139e7"/><stop offset="0.351" stop-color="#3757d9"/><stop offset="0.381" stop-color="#2679ea"/><stop offset="0.397" stop-color="#1682f9"/><stop offset="0.410" stop-color="#0197ff"/><stop offset="0.433" stop-color="#00b8ff"/><stop offset="0.436" stop-color="#01bcff"/><stop offset="0.439" stop-color="#09bbfd"/><stop offset="0.456" stop-color="#41b4f4"/><stop offset="0.469" stop-color="#7ec4ee"/><stop offset="0.475" stop-color="#93caec"/><stop offset="0.498" stop-color="#b8dcf0"/><stop offset="0.517" stop-color="#cde7f4"/><stop offset="0.521" stop-color="#fffedd"/><stop offset="0.527" stop-color="#fffbc4"/><stop offset="0.537" stop-color="#fff8b1"/><stop offset="0.556" stop-color="#ffec6f"/><stop offset="0.602" stop-color="#ffd830"/><stop offset="0.648" stop-color="#ffb810"/><stop offset="0.716" stop-color="#ffa000"/><stop offset="0.882" stop-color="#ff6200"/><stop offset="0.918" stop-color="#ff6300"/><stop offset="0.953" stop-color="#ff7a00"/><stop offset="1.000" stop-color="#ff8d00"/></linearGradient><linearGradient id="g34" x2="0" y2="1"><stop offset="0.000" stop-color="#6920e0"/><stop offset="0.033" stop-color="#5d1ee2"/><stop offset="0.098" stop-color="#2110f0"/><stop offset="0.137" stop-color="#0100ff"/><stop offset="0.316" stop-color="#0911f7"/><stop offset="0.332" stop-color="#1f37e8"/><stop offset="0.351" stop-color="#3759d9"/><stop offset="0.377" stop-color="#2878e8"/><stop offset="0.394" stop-color="#1880f8"/><stop offset="0.410" stop-color="#0099ff"/><stop offset="0.433" stop-color="#00b9ff"/><stop offset="0.439" stop-color="#0cbbfd"/><stop offset="0.452" stop-color="#38b5f5"/><stop offset="0.456" stop-color="#44b5f4"/><stop offset="0.465" stop-color="#73c1ef"/><stop offset="0.472" stop-color="#8cc7ec"/><stop offset="0.498" stop-color="#b9dcf0"/><stop offset="0.517" stop-color="#cde7f4"/><stop offset="0.521" stop-color="#fffedd"/><stop offset="0.527" stop-color="#fffbc4"/><stop offset="0.537" stop-color="#fff8b1"/><stop offset="0.556" stop-color="#ffec6f"/><stop offset="0.602" stop-color="#ffd830"/><stop offset="0.648" stop-color="#ffb810"/><stop offset="0.716" stop-color="#ff9f00"/><stop offset="0.810" stop-color="#ff7f00"/><stop offset="0.872" stop-color="#ff5f00"/><stop offset="0.885" stop-color="#ff5d00"/><stop offset="0.921" stop-color="#ff5f00"/><stop offset="0.953" stop-color="#ff7800"/><stop offset="1.000" stop-color="#ff8c00"/></linearGradient><linearGradient id="g35" x2="0" y2="1"><stop offset="0.000" stop-color="#6920e0"/><stop offset="0.033" stop-color="#5d1ee2"/><stop offset="0.098" stop-color="#2211ef"/><stop offset="0.137" stop-color="#0201fe"/><stop offset="0.309" stop-color="#0911f7"/><stop offset="0.329" stop-color="#213ae7"/><stop offset="0.345" stop-color="#3656d9"/><stop offset="0.348" stop-color="#375ad9"/><stop offset="0.374" stop-color="#2778e9"/><stop offset="0.390" stop-color="#1880f8"/><stop offset="0.407" stop-color="#0098ff"/><stop offset="0.430" stop-color="#00b8ff"/><stop offset="0.433" stop-color="#01bcff"/><stop offset="0.436" stop-color="#08bbfe"/><stop offset="0.452" stop-color="#3db4f4"/><stop offset="0.465" stop-color="#79c2ee"/><stop offset="0.472" stop-color="#90c8ec"/><stop offset="0.498" stop-color="#b9ddf0"/><stop offset="0.517" stop-color="#cde7f4"/><stop offset="0.521" stop-color="#fffedd"/><stop offset="0.527" stop-color="#fffbc4"/><stop offset="0.537" stop-color="#fff8b1"/><stop offset="0.556" stop-color="#ffec6f"/><stop offset="0.602" stop-color="#ffd72f"/><stop offset="0.648" stop-color="#ffb810"/><stop offset="0.713" stop-color="#ffa000"/><stop offset="0.810" stop-color="#ff7e00"/><stop offset="0.869" stop-color="#ff5e00"/><stop offset="0.885" stop-color="#ff5b00"/><stop offset="0.921" stop-color="#ff5d00"/><stop offset="0.957" stop-color="#ff7800"/><stop offset="1.000" stop-color="#ff8b00"/></linearGradient><linearGradient id="g36" x2="0" y2="1"><stop offset="0.000" stop-color="#6920e0"/><stop offset="0.033" stop-color="#5d1ee2"/><stop offset="0.068" stop-color="#4118e8"/><stop offset="0.101" stop-color="#2010f0"/><stop offset="0.140" stop-color="#0000ff"/><stop offset="0.303" stop-color="#0911f7"/><stop offset="0.322" stop-color="#213ae7"/><stop offset="0.342" stop-color="#375ad9"/><stop offset="0.368" stop-color="#2977e7"/><stop offset="0.384" stop-color="#1a7ff6"/><stop offset="0.404" stop-color="#0099ff"/><stop offset="0.430" stop-color="#00bcff"/><stop offset="0.436" stop-color="#11bafc"/><stop offset="0.452" stop-color="#47b6f3"/><stop offset="0.465" stop-color="#80c4ee"/><stop offset="0.472" stop-color="#93c9ec"/><stop offset="0.495" stop-color="#b6dbf0"/><stop offset="0.517" stop-color="#cde7f4"/><stop offset="0.521" stop-color="#fffedd"/><stop offset="0.527" stop-color="#fffbc4"/><stop offset="0.537" stop-color="#fff8b0"/><stop offset="0.556" stop-color="#ffec6f"/><stop offset="0.602" stop-color="#ffd72f"/><stop offset="0.644" stop-color="#ffb911"/><stop offset="0.713" stop-color="#ffa000"/><stop offset="0.810" stop-color="#ff7d00"/><stop offset="0.869" stop-color="#ff5d00"/><stop offset="0.885" stop-color="#ff5a00"/><stop offset="0.921" stop-color="#ff5c00"/><stop offset="0.957" stop-color="#ff7800"/><stop offset="1.000" stop-color="#ff8b00"/></linearGradient><linearGradient id="g37" x2="0" y2="1"><stop offset="0.000" stop-color="#6920e0"/><stop offset="0.033" stop-color="#5d1ee2"/><stop offset="0.065" stop-color="#4519e7"/><stop offset="0.104" stop-color="#1f10f0"/><stop offset="0.140" stop-color="#0101fe"/><stop offset="0.293" stop-color="#0911f7"/><stop offset="0.296" stop-color="#0a13f6"/><stop offset="0.312" stop-color="#1e36e9"/><stop offset="0.335" stop-color="#375ad9"/><stop offset="0.364" stop-color="#2779e9"/><stop offset="0.381" stop-color="#1980f7"/><stop offset="0.400" stop-color="#009aff"/><stop offset="0.423" stop-color="#00b8ff"/><stop offset="0.426" stop-color="#01bcff"/><stop offset="0.430" stop-color="#07bbfe"/><stop offset="0.446" stop-color="#38b5f5"/><stop offset="0.462" stop-color="#7cc3ee"/><stop offset="0.469" stop-color="#91c8ec"/><stop offset="0.495" stop-color="#b7dcf0"/><stop offset="0.517" stop-color="#cde7f4"/><stop offset="0.521" stop-color="#fffedd"/><stop offset="0.527" stop-color="#fffac4"/><stop offset="0.537" stop-color="#fff8b0"/><stop offset="0.556" stop-color="#ffeb6e"/><stop offset="0.599" stop-color="#ffd932"/><stop offset="0.644" stop-color="#ffb810"/><stop offset="0.709" stop-color="#ffa000"/><stop offset="0.807" stop-color="#ff7e00"/><stop offset="0.866" stop-color="#ff5f00"/><stop offset="0.885" stop-color="#ff5b00"/><stop offset="0.921" stop-color="#ff5d00"/><stop offset="0.957" stop-color="#ff7800"/><stop offset="1.000" stop-color="#ff8b00"/></linearGradient><linearGradient id="g38" x2="0" y2="1"><stop offset="0.000" stop-color="#6920e0"/><stop offset="0.033" stop-color="#5d1ee2"/><stop offset="0.068" stop-color="#4419e7"/><stop offset="0.104" stop-color="#2110f0"/><stop offset="0.143" stop-color="#0001ff"/><stop offset="0.286" stop-color="#0911f7"/><stop offset="0.306" stop-color="#1f36e9"/><stop offset="0.329" stop-color="#375ad9"/><stop offset="0.358" stop-color="#2878e8"/><stop offset="0.374" stop-color="#1a7ff6"/><stop offset="0.394" stop-color="#0197ff"/><stop offset="0.423" stop-color="#00bcff"/><stop offset="0.446" stop-color="#40b4f4"/><stop offset="0.459" stop-color="#77c2ef"/><stop offset="0.465" stop-color="#8dc7ec"/><stop offset="0.495" stop-color="#b8dcf0"/><stop offset="0.517" stop-color="#cde7f4"/><stop offset="0.521" stop-color="#fffedd"/><stop offset="0.527" stop-color="#fffac4"/><stop offset="0.537" stop-color="#fff8b0"/><stop offset="0.556" stop-color="#ffeb6e"/><stop offset="0.599" stop-color="#ffd831"/><stop offset="0.644" stop-color="#ffb810"/><stop offset="0.709" stop-color="#ffa000"/><stop offset="0.807" stop-color="#ff7e00"/><stop offset="0.862" stop-color="#ff6100"/><stop offset="0.882" stop-color="#ff5d00"/><stop offset="0.921" stop-color="#ff5e00"/><stop offset="0.957" stop-color="#ff7800"/><stop offset="1.000" stop-color="#ff8a00"/></linearGradient><linearGradient id="g39" x2="0" y2="1"><stop offset="0.000" stop-color="#6920e0"/><stop offset="0.033" stop-color="#5d1ee2"/><stop offset="0.068" stop-color="#4519e7"/><stop offset="0.104" stop-color="#2210f0"/><stop offset="0.143" stop-color="#0000ff"/><stop offset="0.280" stop-color="#0911f7"/><stop offset="0.322" stop-color="#3858d8"/><stop offset="0.355" stop-color="#2778e9"/><stop offset="0.374" stop-color="#1781f8"/><stop offset="0.390" stop-color="#0197ff"/><stop offset="0.420" stop-color="#00bbff"/><stop offset="0.426" stop-color="#0dbafd"/><stop offset="0.443" stop-color="#3cb5f5"/><stop offset="0.459" stop-color="#7cc3ee"/><stop offset="0.465" stop-color="#90c8ec"/><stop offset="0.495" stop-color="#b9dcf0"/><stop offset="0.517" stop-color="#cee7f4"/><stop offset="0.521" stop-color="#fffedd"/><stop offset="0.527" stop-color="#fffac3"/><stop offset="0.537" stop-color="#fff8b0"/><stop offset="0.556" stop-color="#ffeb6e"/><stop offset="0.599" stop-color="#ffd830"/><stop offset="0.644" stop-color="#ffb810"/><stop offset="0.709" stop-color="#ffa000"/><stop offset="0.820" stop-color="#ff7800"/><stop offset="0.862" stop-color="#ff6200"/><stop offset="0.882" stop-color="#ff5e00"/><stop offset="0.921" stop-color="#ff5f00"/><stop offset="0.957" stop-color="#ff7800"/><stop offset="1.000" stop-color="#ff8a00"/></linearGradient><linearGradient id="g40" x2="0" y2="1"><stop offset="0.000" stop-color="#6920e0"/><stop offset="0.033" stop-color="#5d1ee2"/><stop offset="0.072" stop-color="#4319e7"/><stop offset="0.107" stop-color="#1f10f0"/><stop offset="0.143" stop-color="#0100ff"/><stop offset="0.277" stop-color="#0811f7"/><stop offset="0.280" stop-color="#0a13f6"/><stop offset="0.299" stop-color="#2139e8"/><stop offset="0.319" stop-color="#3756d9"/><stop offset="0.322" stop-color="#375ad9"/><stop offset="0.351" stop-color="#2878e8"/><stop offset="0.371" stop-color="#1980f7"/><stop offset="0.390" stop-color="#0099ff"/><stop offset="0.417" stop-color="#00b9ff"/><stop offset="0.423" stop-color="#07bbfe"/><stop offset="0.443" stop-color="#3eb4f4"/><stop offset="0.456" stop-color="#73c1ef"/><stop offset="0.465" stop-color="#91c9ec"/><stop offset="0.495" stop-color="#b9ddf0"/><stop offset="0.517" stop-color="#cee7f4"/><stop offset="0.521" stop-color="#fffedd"/><stop offset="0.527" stop-color="#fffac3"/><stop offset="0.537" stop-color="#fff8b0"/><stop offset="0.556" stop-color="#ffeb6e"/><stop offset="0.599" stop-color="#ffd830"/><stop offset="0.644" stop-color="#ffb710"/><stop offset="0.709" stop-color="#ff9f00"/><stop offset="0.817" stop-color="#ff7900"/><stop offset="0.862" stop-color="#ff6200"/><stop offset="0.879" stop-color="#ff5f00"/><stop offset="0.921" stop-color="#ff5f00"/><stop offset="0.957" stop-color="#ff7800"/><stop offset="1.000" stop-color="#ff8a00"/></linearGradient><linearGradient id="g41" x2="0" y2="1"><stop offset="0.000" stop-color="#6920e0"/><stop offset="0.033" stop-color="#5d1ee2"/><stop offset="0.072" stop-color="#4419e7"/><stop offset="0.107" stop-color="#2010f0"/><stop offset="0.146" stop-color="#0001ff"/><stop offset="0.277" stop-color="#0911f7"/><stop offset="0.296" stop-color="#1f37e8"/><stop offset="0.319" stop-color="#3859d8"/><stop offset="0.351" stop-color="#2778e9"/><stop offset="0.371" stop-color="#1781f8"/><stop offset="0.390" stop-color="#009aff"/><stop offset="0.417" stop-color="#00b9ff"/><stop offset="0.423" stop-color="#08bbfe"/><stop offset="0.443" stop-color="#3fb4f4"/><stop offset="0.456" stop-color="#73c1ef"/><stop offset="0.465" stop-color="#91c9ec"/><stop offset="0.495" stop-color="#b9dcf0"/><stop offset="0.517" stop-color="#cde6f3"/><stop offset="0.521" stop-color="#fffedf"/><stop offset="0.527" stop-color="#fffbc6"/><stop offset="0.537" stop-color="#fff8b1"/><stop offset="0.556" stop-color="#ffeb6e"/><stop offset="0.599" stop-color="#ffd830"/><stop offset="0.644" stop-color="#ffb710"/><stop offset="0.706" stop-color="#ffa000"/><stop offset="0.817" stop-color="#ff7800"/><stop offset="0.859" stop-color="#ff6200"/><stop offset="0.879" stop-color="#ff5e00"/><stop offset="0.921" stop-color="#ff5f00"/><stop offset="0.957" stop-color="#ff7800"/><stop offset="1.000" stop-color="#ff8a00"/></linearGradient><linearGradient id="g42" x2="0" y2="1"><stop offset="0.000" stop-color="#6920e0"/><stop offset="0.033" stop-color="#5d1ee2"/><stop offset="0.075" stop-color="#4419e7"/><stop offset="0.114" stop-color="#1f10f0"/><stop offset="0.153" stop-color="#0000ff"/><stop offset="0.267" stop-color="#0911f7"/><stop offset="0.286" stop-color="#1e35e9"/><stop offset="0.312" stop-color="#3759d9"/><stop offset="0.345" stop-color="#2878e8"/><stop offset="0.364" stop-color="#197ff7"/><stop offset="0.384" stop-color="#0197ff"/><stop offset="0.417" stop-color="#00bcff"/><stop offset="0.423" stop-color="#0dbafd"/><stop offset="0.443" stop-color="#42b5f4"/><stop offset="0.456" stop-color="#74c1ef"/><stop offset="0.465" stop-color="#91c8ec"/><stop offset="0.495" stop-color="#b7dcf0"/><stop offset="0.521" stop-color="#cde7f4"/><stop offset="0.524" stop-color="#fffedf"/><stop offset="0.530" stop-color="#fffbc5"/><stop offset="0.540" stop-color="#fff8af"/><stop offset="0.556" stop-color="#ffed73"/><stop offset="0.560" stop-color="#ffeb6c"/><stop offset="0.599" stop-color="#ffd831"/><stop offset="0.641" stop-color="#ffb911"/><stop offset="0.706" stop-color="#ff9f00"/><stop offset="0.810" stop-color="#ff7800"/><stop offset="0.856" stop-color="#ff6000"/><stop offset="0.875" stop-color="#ff5c00"/><stop offset="0.921" stop-color="#ff5e00"/><stop offset="0.957" stop-color="#ff7700"/><stop offset="1.000" stop-color="#ff8900"/></linearGradient><linearGradient id="g43" x2="0" y2="1"><stop offset="0.000" stop-color="#6920e0"/><stop offset="0.033" stop-color="#5d1ee2"/><stop offset="0.078" stop-color="#4419e7"/><stop offset="0.120" stop-color="#1f0ff0"/><stop offset="0.159" stop-color="#0201fe"/><stop offset="0.254" stop-color="#0811f7"/><stop offset="0.277" stop-color="#1f36e9"/><stop offset="0.303" stop-color="#3859d8"/><stop offset="0.338" stop-color="#2778e9"/><stop offset="0.358" stop-color="#1a7ff6"/><stop offset="0.381" stop-color="#0098ff"/><stop offset="0.413" stop-color="#00bbff"/><stop offset="0.420" stop-color="#0bbbfd"/><stop offset="0.439" stop-color="#3cb5f5"/><stop offset="0.456" stop-color="#75c1ef"/><stop offset="0.465" stop-color="#91c8ec"/><stop offset="0.498" stop-color="#b8dcf0"/><stop offset="0.527" stop-color="#cfe8f4"/><stop offset="0.530" stop-color="#fffcd4"/><stop offset="0.537" stop-color="#fffabd"/><stop offset="0.543" stop-color="#fff8af"/><stop offset="0.560" stop-color="#ffec71"/><stop offset="0.602" stop-color="#ffd72f"/><stop offset="0.641" stop-color="#ffb810"/><stop offset="0.703" stop-color="#ff9f00"/><stop offset="0.804" stop-color="#ff7800"/><stop offset="0.849" stop-color="#ff5e00"/><stop offset="0.872" stop-color="#ff5900"/><stop offset="0.918" stop-color="#ff5a00"/><stop offset="0.960" stop-color="#ff7800"/><stop offset="1.000" stop-color="#ff8900"/></linearGradient><linearGradient id="g44" x2="0" y2="1"><stop offset="0.000" stop-color="#6920e0"/><stop offset="0.033" stop-color="#5d1ee2"/><stop offset="0.081" stop-color="#4319e7"/><stop offset="0.124" stop-color="#1f0ff0"/><stop offset="0.166" stop-color="#0000ff"/><stop offset="0.247" stop-color="#0811f7"/><stop offset="0.273" stop-color="#2139e7"/><stop offset="0.299" stop-color="#375ad9"/><stop offset="0.335" stop-color="#2778e9"/><stop offset="0.355" stop-color="#1a7ff6"/><stop offset="0.377" stop-color="#0197ff"/><stop offset="0.410" stop-color="#00b9ff"/><stop offset="0.417" stop-color="#06bbfe"/><stop offset="0.439" stop-color="#3db4f4"/><stop offset="0.456" stop-color="#75c1ef"/><stop offset="0.465" stop-color="#90c8ec"/><stop offset="0.498" stop-color="#b7dcf0"/><stop offset="0.527" stop-color="#cee7f4"/><stop offset="0.530" stop-color="#fffedc"/><stop offset="0.537" stop-color="#fffac1"/><stop offset="0.547" stop-color="#fff7a9"/><stop offset="0.560" stop-color="#ffed76"/><stop offset="0.563" stop-color="#ffeb6d"/><stop offset="0.602" stop-color="#ffd72f"/><stop offset="0.641" stop-color="#ffb810"/><stop offset="0.700" stop-color="#ffa000"/><stop offset="0.801" stop-color="#ff7800"/><stop offset="0.846" stop-color="#ff5b00"/><stop offset="0.872" stop-color="#ff5500"/><stop offset="0.918" stop-color="#ff5700"/><stop offset="0.960" stop-color="#ff7700"/><stop offset="1.000" stop-color="#ff8800"/></linearGradient><linearGradient id="g45" x2="0" y2="1"><stop offset="0.000" stop-color="#6920e0"/><stop offset="0.033" stop-color="#5d1ee2"/><stop offset="0.081" stop-color="#4319e7"/><stop offset="0.124" stop-color="#1f0ff0"/><stop offset="0.166" stop-color="#0000ff"/><stop offset="0.251" stop-color="#0911f7"/><stop offset="0.273" stop-color="#2038e8"/><stop offset="0.299" stop-color="#3759d9"/><stop offset="0.335" stop-color="#2878e8"/><stop offset="0.355" stop-color="#1a7ff6"/><stop offset="0.377" stop-color="#0197ff"/><stop offset="0.410" stop-color="#00b9ff"/><stop offset="0.417" stop-color="#07bbfe"/><stop offset="0.439" stop-color="#3fb4f4"/><stop offset="0.456" stop-color="#78c2ee"/><stop offset="0.465" stop-color="#91c9ec"/><stop offset="0.498" stop-color="#b8dcf0"/><stop offset="0.527" stop-color="#cfe7f4"/><stop offset="0.530" stop-color="#fffdd6"/><stop offset="0.537" stop-color="#fffabe"/><stop offset="0.543" stop-color="#fff8b0"/><stop offset="0.560" stop-color="#ffec71"/><stop offset="0.599" stop-color="#ffd832"/><stop offset="0.641" stop-color="#ffb710"/><stop offset="0.700" stop-color="#ff9f00"/><stop offset="0.797" stop-color="#ff7800"/><stop offset="0.846" stop-color="#ff5700"/><stop offset="0.872" stop-color="#ff5100"/><stop offset="0.918" stop-color="#ff5400"/><stop offset="0.960" stop-color="#ff7600"/><stop offset="1.000" stop-color="#ff8800"/></linearGradient><linearGradient id="g46" x2="0" y2="1"><stop offset="0.000" stop-color="#6920e0"/><stop offset="0.033" stop-color="#5d1ee2"/><stop offset="0.081" stop-color="#4319e7"/><stop offset="0.124" stop-color="#1f0ff0"/><stop offset="0.166" stop-color="#0000ff"/><stop offset="0.254" stop-color="#0811f7"/><stop offset="0.277" stop-color="#1f37e8"/><stop offset="0.303" stop-color="#3759d9"/><stop offset="0.338" stop-color="#2679ea"/><stop offset="0.358" stop-color="#1880f8"/><stop offset="0.377" stop-color="#0296ff"/><stop offset="0.410" stop-color="#00baff"/><stop offset="0.417" stop-color="#09bbfe"/><stop offset="0.436" stop-color="#3bb5f5"/><stop offset="0.452" stop-color="#74c1ef"/><stop offset="0.462" stop-color="#90c8ec"/><stop offset="0.495" stop-color="#b9dcf0"/><stop offset="0.521" stop-color="#cde7f4"/><stop offset="0.524" stop-color="#fffede"/><stop offset="0.530" stop-color="#fffac3"/><stop offset="0.540" stop-color="#fff7ac"/><stop offset="0.556" stop-color="#ffec6e"/><stop offset="0.596" stop-color="#ffd830"/><stop offset="0.638" stop-color="#ffb70f"/><stop offset="0.696" stop-color="#ff9f00"/><stop offset="0.791" stop-color="#ff7900"/><stop offset="0.820" stop-color="#ff6800"/><stop offset="0.843" stop-color="#ff5500"/><stop offset="0.875" stop-color="#ff4b00"/><stop offset="0.918" stop-color="#ff5100"/><stop offset="0.960" stop-color="#ff7500"/><stop offset="1.000" stop-color="#ff8700"/></linearGradient><linearGradient id="g47" x2="0" y2="1"><stop offset="0.000" stop-color="#6920e0"/><stop offset="0.033" stop-color="#5d1ee2"/><stop offset="0.081" stop-color="#4319e7"/><stop offset="0.124" stop-color="#1f0ff0"/><stop offset="0.166" stop-color="#0000ff"/><stop offset="0.260" stop-color="#0811f7"/><stop offset="0.283" stop-color="#2038e8"/><stop offset="0.306" stop-color="#3858d8"/><stop offset="0.342" stop-color="#2679ea"/><stop offset="0.361" stop-color="#1781f8"/><stop offset="0.381" stop-color="#009aff"/><stop offset="0.410" stop-color="#00bbff"/><stop offset="0.417" stop-color="#0cbafd"/><stop offset="0.436" stop-color="#41b4f4"/><stop offset="0.449" stop-color="#73c1ef"/><stop offset="0.459" stop-color="#91c8ec"/><stop offset="0.488" stop-color="#b7dcf0"/><stop offset="0.514" stop-color="#cde7f4"/><stop offset="0.517" stop-color="#fffedd"/><stop offset="0.524" stop-color="#fffac2"/><stop offset="0.534" stop-color="#fff7ab"/><stop offset="0.550" stop-color="#ffec6f"/><stop offset="0.589" stop-color="#ffd831"/><stop offset="0.631" stop-color="#ffb810"/><stop offset="0.690" stop-color="#ffa000"/><stop offset="0.788" stop-color="#ff7900"/><stop offset="0.817" stop-color="#ff6700"/><stop offset="0.840" stop-color="#ff5300"/><stop offset="0.875" stop-color="#ff4600"/><stop offset="0.918" stop-color="#ff4d00"/><stop offset="0.953" stop-color="#ff6f00"/><stop offset="1.000" stop-color="#ff8700"/></linearGradient><linearGradient id="g48" x2="0" y2="1"><stop offset="0.000" stop-color="#6920e0"/><stop offset="0.033" stop-color="#5d1ee2"/><stop offset="0.081" stop-color="#4319e7"/><stop offset="0.124" stop-color="#1f0ff0"/><stop offset="0.166" stop-color="#0000ff"/><stop offset="0.267" stop-color="#0811f7"/><stop offset="0.270" stop-color="#0912f6"/><stop offset="0.290" stop-color="#2039e8"/><stop offset="0.312" stop-color="#375ad9"/><stop offset="0.342" stop-color="#2878e8"/><stop offset="0.361" stop-color="#1880f8"/><stop offset="0.381" stop-color="#0099ff"/><stop offset="0.407" stop-color="#00b9ff"/><stop offset="0.413" stop-color="#08bbfe"/><stop offset="0.433" stop-color="#3fb4f4"/><stop offset="0.446" stop-color="#74c1ef"/><stop offset="0.456" stop-color="#92c9ec"/><stop offset="0.482" stop-color="#b6dbf0"/><stop offset="0.508" stop-color="#cee7f4"/><stop offset="0.511" stop-color="#fffdda"/><stop offset="0.517" stop-color="#fffac0"/><stop offset="0.527" stop-color="#fff7a9"/><stop offset="0.543" stop-color="#ffeb6e"/><stop offset="0.582" stop-color="#ffd832"/><stop offset="0.625" stop-color="#ffb810"/><stop offset="0.687" stop-color="#ffa000"/><stop offset="0.784" stop-color="#ff7900"/><stop offset="0.810" stop-color="#ff6900"/><stop offset="0.833" stop-color="#ff5300"/><stop offset="0.875" stop-color="#ff4300"/><stop offset="0.918" stop-color="#ff4a00"/><stop offset="0.947" stop-color="#ff6a00"/><stop offset="1.000" stop-color="#ff8700"/></linearGradient><linearGradient id="g49" x2="0" y2="1"><stop offset="0.000" stop-color="#6920e0"/><stop offset="0.033" stop-color="#5d1ee2"/><stop offset="0.081" stop-color="#4319e7"/><stop offset="0.124" stop-color="#1f0ff0"/><stop offset="0.166" stop-color="#0000ff"/><stop offset="0.273" stop-color="#0811f7"/><stop offset="0.296" stop-color="#223be6"/><stop offset="0.316" stop-color="#3759d9"/><stop offset="0.345" stop-color="#2778e9"/><stop offset="0.361" stop-color="#1a7ff6"/><stop offset="0.381" stop-color="#0098ff"/><stop offset="0.407" stop-color="#00baff"/><stop offset="0.413" stop-color="#0bbbfd"/><stop offset="0.430" stop-color="#3cb5f5"/><stop offset="0.446" stop-color="#7ec4ee"/><stop offset="0.452" stop-color="#92c9ec"/><stop offset="0.478" stop-color="#b8dcf0"/><stop offset="0.501" stop-color="#cde7f4"/><stop offset="0.504" stop-color="#fffedd"/><stop offset="0.511" stop-color="#fffac2"/><stop offset="0.521" stop-color="#fff7ac"/><stop offset="0.537" stop-color="#ffec70"/><stop offset="0.579" stop-color="#ffd72f"/><stop offset="0.622" stop-color="#ffb710"/><stop offset="0.680" stop-color="#ffa000"/><stop offset="0.778" stop-color="#ff7b00"/><stop offset="0.807" stop-color="#ff6900"/><stop offset="0.830" stop-color="#ff5300"/><stop offset="0.875" stop-color="#ff4000"/><stop offset="0.895" stop-color="#ff4100"/><stop offset="0.918" stop-color="#ff4900"/><stop offset="0.947" stop-color="#ff6900"/><stop offset="1.000" stop-color="#ff8600"/></linearGradient><linearGradient id="g50" x2="0" y2="1"><stop offset="0.000" stop-color="#6920e0"/><stop offset="0.033" stop-color="#5d1ee2"/><stop offset="0.081" stop-color="#4319e7"/><stop offset="0.124" stop-color="#1f0ff0"/><stop offset="0.166" stop-color="#0000ff"/><stop offset="0.277" stop-color="#0911f7"/><stop offset="0.316" stop-color="#3757d9"/><stop offset="0.348" stop-color="#2679ea"/><stop offset="0.364" stop-color="#1781f8"/><stop offset="0.381" stop-color="#0098ff"/><stop offset="0.407" stop-color="#00bbff"/><stop offset="0.413" stop-color="#0dbafd"/><stop offset="0.430" stop-color="#3fb4f4"/><stop offset="0.443" stop-color="#78c2ee"/><stop offset="0.449" stop-color="#8fc8ec"/><stop offset="0.475" stop-color="#b7dbf0"/><stop offset="0.498" stop-color="#cde7f4"/><stop offset="0.501" stop-color="#fffede"/><stop offset="0.508" stop-color="#fffac3"/><stop offset="0.517" stop-color="#fff8ad"/><stop offset="0.534" stop-color="#ffec71"/><stop offset="0.576" stop-color="#ffd830"/><stop offset="0.618" stop-color="#ffb810"/><stop offset="0.680" stop-color="#ffa000"/><stop offset="0.774" stop-color="#ff7b00"/><stop offset="0.807" stop-color="#ff6800"/><stop offset="0.830" stop-color="#ff5200"/><stop offset="0.872" stop-color="#ff4000"/><stop offset="0.895" stop-color="#ff4000"/><stop offset="0.918" stop-color="#ff4800"/><stop offset="0.947" stop-color="#ff6900"/><stop offset="1.000" stop-color="#ff8600"/></linearGradient><linearGradient id="g51" x2="0" y2="1"><stop offset="0.000" stop-color="#6920e0"/><stop offset="0.033" stop-color="#5d1ee2"/><stop offset="0.081" stop-color="#4319e7"/><stop offset="0.124" stop-color="#1f10f0"/><stop offset="0.166" stop-color="#0000ff"/><stop offset="0.280" stop-color="#0912f7"/><stop offset="0.296" stop-color="#1e35e9"/><stop offset="0.319" stop-color="#375ad9"/><stop offset="0.345" stop-color="#2976e7"/><stop offset="0.361" stop-color="#1b7ff5"/><stop offset="0.381" stop-color="#0098ff"/><stop offset="0.407" stop-color="#00baff"/><stop offset="0.413" stop-color="#0dbafd"/><stop offset="0.430" stop-color="#3fb4f4"/><stop offset="0.443" stop-color="#79c2ee"/><stop offset="0.449" stop-color="#90c8ec"/><stop offset="0.475" stop-color="#b7dcf0"/><stop offset="0.498" stop-color="#cee7f4"/><stop offset="0.501" stop-color="#fffddb"/><stop offset="0.508" stop-color="#fffac1"/><stop offset="0.517" stop-color="#fff7ab"/><stop offset="0.534" stop-color="#ffec6f"/><stop offset="0.576" stop-color="#ffd72f"/><stop offset="0.618" stop-color="#ffb710"/><stop offset="0.677" stop-color="#ffa000"/><stop offset="0.774" stop-color="#ff7b00"/><stop offset="0.804" stop-color="#ff6900"/><stop offset="0.830" stop-color="#ff5100"/><stop offset="0.872" stop-color="#ff3f00"/><stop offset="0.892" stop-color="#ff4000"/><stop offset="0.918" stop-color="#ff4800"/><stop offset="0.947" stop-color="#ff6900"/><stop offset="1.000" stop-color="#ff8600"/></linearGradient><linearGradient id="g52" x2="0" y2="1"><stop offset="0.000" stop-color="#6920e0"/><stop offset="0.081" stop-color="#4519e7"/><stop offset="0.169" stop-color="#0001ff"/><stop offset="0.283" stop-color="#0911f7"/><stop offset="0.303" stop-color="#213ae7"/><stop offset="0.322" stop-color="#375ad9"/><stop offset="0.351" stop-color="#2579eb"/><stop offset="0.368" stop-color="#1682f9"/><stop offset="0.384" stop-color="#009aff"/><stop offset="0.407" stop-color="#00b9ff"/><stop offset="0.413" stop-color="#0bbbfd"/><stop offset="0.430" stop-color="#3fb4f4"/><stop offset="0.443" stop-color="#7ac3ee"/><stop offset="0.449" stop-color="#91c8ec"/><stop offset="0.475" stop-color="#b9dcf0"/><stop offset="0.498" stop-color="#d0e8f4"/><stop offset="0.501" stop-color="#fffcd3"/><stop offset="0.504" stop-color="#fffbc5"/><stop offset="0.514" stop-color="#fff8af"/><stop offset="0.530" stop-color="#ffec72"/><stop offset="0.534" stop-color="#ffeb6c"/><stop offset="0.573" stop-color="#ffd830"/><stop offset="0.615" stop-color="#ffb810"/><stop offset="0.677" stop-color="#ffa000"/><stop offset="0.771" stop-color="#ff7b00"/><stop offset="0.804" stop-color="#ff6700"/><stop offset="0.827" stop-color="#ff5200"/><stop offset="0.872" stop-color="#ff3f00"/><stop offset="0.892" stop-color="#ff4000"/><stop offset="0.918" stop-color="#ff4800"/><stop offset="0.947" stop-color="#ff6900"/><stop offset="1.000" stop-color="#ff8600"/></linearGradient><linearGradient id="g53" x2="0" y2="1"><stop offset="0.000" stop-color="#6920e0"/><stop offset="0.085" stop-color="#4419e7"/><stop offset="0.127" stop-color="#2110f0"/><stop offset="0.172" stop-color="#0001ff"/><stop offset="0.290" stop-color="#0911f7"/><stop offset="0.309" stop-color="#223ae7"/><stop offset="0.325" stop-color="#3857d8"/><stop offset="0.355" stop-color="#2679ea"/><stop offset="0.371" stop-color="#1682f9"/><stop offset="0.384" stop-color="#0197ff"/><stop offset="0.410" stop-color="#00bcff"/><stop offset="0.413" stop-color="#08bbfe"/><stop offset="0.430" stop-color="#3eb4f4"/><stop offset="0.443" stop-color="#7cc3ee"/><stop offset="0.449" stop-color="#92c9ec"/><stop offset="0.472" stop-color="#b7dbf0"/><stop offset="0.495" stop-color="#cfe8f4"/><stop offset="0.498" stop-color="#fffdd4"/><stop offset="0.504" stop-color="#fffabd"/><stop offset="0.511" stop-color="#fff8b0"/><stop offset="0.527" stop-color="#ffec73"/><stop offset="0.530" stop-color="#ffeb6c"/><stop offset="0.569" stop-color="#ffd830"/><stop offset="0.612" stop-color="#ffb710"/><stop offset="0.670" stop-color="#ffa000"/><stop offset="0.768" stop-color="#ff7b00"/><stop offset="0.797" stop-color="#ff6900"/><stop offset="0.820" stop-color="#ff5400"/><stop offset="0.869" stop-color="#ff3f00"/><stop offset="0.892" stop-color="#ff4000"/><stop offset="0.918" stop-color="#ff4900"/><stop offset="0.947" stop-color="#ff6900"/><stop offset="1.000" stop-color="#ff8500"/></linearGradient><linearGradient id="g54" x2="0" y2="1"><stop offset="0.000" stop-color="#6920e0"/><stop offset="0.088" stop-color="#4419e7"/><stop offset="0.130" stop-color="#2010f0"/><stop offset="0.172" stop-color="#0101fe"/><stop offset="0.296" stop-color="#0911f7"/><stop offset="0.312" stop-color="#1e35e9"/><stop offset="0.332" stop-color="#3759d9"/><stop offset="0.358" stop-color="#2679ea"/><stop offset="0.371" stop-color="#197ff7"/><stop offset="0.387" stop-color="#0098ff"/><stop offset="0.410" stop-color="#00bbff"/><stop offset="0.417" stop-color="#10bafc"/><stop offset="0.430" stop-color="#3eb4f4"/><stop offset="0.443" stop-color="#7dc3ee"/><stop offset="0.449" stop-color="#93c9ec"/><stop offset="0.472" stop-color="#b9ddf0"/><stop offset="0.491" stop-color="#cfe7f4"/><stop offset="0.495" stop-color="#fffdd6"/><stop offset="0.501" stop-color="#fffabe"/><stop offset="0.508" stop-color="#fff8b1"/><stop offset="0.524" stop-color="#ffed73"/><stop offset="0.527" stop-color="#ffeb6c"/><stop offset="0.566" stop-color="#ffd830"/><stop offset="0.609" stop-color="#ffb710"/><stop offset="0.667" stop-color="#ffa000"/><stop offset="0.768" stop-color="#ff7900"/><stop offset="0.794" stop-color="#ff6900"/><stop offset="0.817" stop-color="#ff5300"/><stop offset="0.869" stop-color="#ff3e00"/><stop offset="0.892" stop-color="#ff3f00"/><stop offset="0.918" stop-color="#ff4800"/><stop offset="0.947" stop-color="#ff6900"/><stop offset="1.000" stop-color="#ff8500"/></linearGradient><linearGradient id="g55" x2="0" y2="1"><stop offset="0.000" stop-color="#6920e0"/><stop offset="0.091" stop-color="#4319e7"/><stop offset="0.133" stop-color="#1f0ff1"/><stop offset="0.176" stop-color="#0000ff"/><stop offset="0.299" stop-color="#0911f7"/><stop offset="0.319" stop-color="#233ce6"/><stop offset="0.335" stop-color="#375ad9"/><stop offset="0.358" stop-color="#2877e8"/><stop offset="0.371" stop-color="#1b7ef5"/><stop offset="0.387" stop-color="#0296fe"/><stop offset="0.410" stop-color="#00baff"/><stop offset="0.417" stop-color="#0ebafd"/><stop offset="0.430" stop-color="#3db4f4"/><stop offset="0.446" stop-color="#8bc7ec"/><stop offset="0.469" stop-color="#b6dbf0"/><stop offset="0.488" stop-color="#cde6f3"/><stop offset="0.491" stop-color="#fffedd"/><stop offset="0.498" stop-color="#fffac2"/><stop offset="0.508" stop-color="#fff7ab"/><stop offset="0.524" stop-color="#ffec6f"/><stop offset="0.563" stop-color="#ffd832"/><stop offset="0.605" stop-color="#ffb810"/><stop offset="0.664" stop-color="#ffa000"/><stop offset="0.761" stop-color="#ff7a00"/><stop offset="0.791" stop-color="#ff6900"/><stop offset="0.814" stop-color="#ff5300"/><stop offset="0.866" stop-color="#ff3d00"/><stop offset="0.888" stop-color="#ff3d00"/><stop offset="0.918" stop-color="#ff4800"/><stop offset="0.947" stop-color="#ff6800"/><stop offset="1.000" stop-color="#ff8500"/></linearGradient><linearGradient id="g56" x2="0" y2="1"><stop offset="0.000" stop-color="#6920e0"/><stop offset="0.091" stop-color="#4419e7"/><stop offset="0.133" stop-color="#2010f0"/><stop offset="0.176" stop-color="#0100ff"/><stop offset="0.299" stop-color="#0911f7"/><stop offset="0.303" stop-color="#0a14f5"/><stop offset="0.316" stop-color="#1e35e9"/><stop offset="0.335" stop-color="#375ad9"/><stop offset="0.361" stop-color="#2579eb"/><stop offset="0.374" stop-color="#1880f8"/><stop offset="0.387" stop-color="#0296fe"/><stop offset="0.410" stop-color="#00b9ff"/><stop offset="0.417" stop-color="#0dbafd"/><stop offset="0.430" stop-color="#3db4f5"/><stop offset="0.443" stop-color="#7dc3ee"/><stop offset="0.449" stop-color="#93caec"/><stop offset="0.469" stop-color="#b6dbf0"/><stop offset="0.488" stop-color="#cde6f3"/><stop offset="0.491" stop-color="#fffedd"/><stop offset="0.498" stop-color="#fffac2"/><stop offset="0.508" stop-color="#fff7ac"/><stop offset="0.524" stop-color="#ffec6f"/><stop offset="0.563" stop-color="#ffd831"/><stop offset="0.605" stop-color="#ffb810"/><stop offset="0.664" stop-color="#ffa000"/><stop offset="0.758" stop-color="#ff7b00"/><stop offset="0.791" stop-color="#ff6700"/><stop offset="0.814" stop-color="#ff5100"/><stop offset="0.843" stop-color="#ff4100"/><stop offset="0.866" stop-color="#ff3a00"/><stop offset="0.888" stop-color="#ff3b00"/><stop offset="0.918" stop-color="#ff4600"/><stop offset="0.947" stop-color="#ff6800"/><stop offset="1.000" stop-color="#ff8500"/></linearGradient><linearGradient id="g57" x2="0" y2="1"><stop offset="0.000" stop-color="#6920e0"/><stop offset="0.104" stop-color="#4419e7"/><stop offset="0.143" stop-color="#2010f0"/><stop offset="0.182" stop-color="#0100ff"/><stop offset="0.299" stop-color="#0811f7"/><stop offset="0.303" stop-color="#0a14f6"/><stop offset="0.316" stop-color="#1e35e9"/><stop offset="0.335" stop-color="#3759d9"/><stop offset="0.361" stop-color="#2679ea"/><stop offset="0.374" stop-color="#1980f7"/><stop offset="0.390" stop-color="#009aff"/><stop offset="0.410" stop-color="#00b8ff"/><stop offset="0.413" stop-color="#02bcff"/><stop offset="0.417" stop-color="#0bbbfd"/><stop offset="0.430" stop-color="#39b5f5"/><stop offset="0.443" stop-color="#79c2ee"/><stop offset="0.449" stop-color="#92c9ec"/><stop offset="0.472" stop-color="#b9dcf0"/><stop offset="0.491" stop-color="#cfe7f4"/><stop offset="0.495" stop-color="#fffdd5"/><stop offset="0.501" stop-color="#fffabd"/><stop offset="0.508" stop-color="#fff8b0"/><stop offset="0.524" stop-color="#ffec71"/><stop offset="0.563" stop-color="#ffd932"/><stop offset="0.605" stop-color="#ffb810"/><stop offset="0.664" stop-color="#ffa000"/><stop offset="0.758" stop-color="#ff7a00"/><stop offset="0.788" stop-color="#ff6800"/><stop offset="0.820" stop-color="#ff4a00"/><stop offset="0.846" stop-color="#ff3c00"/><stop offset="0.866" stop-color="#ff3700"/><stop offset="0.888" stop-color="#ff3900"/><stop offset="0.918" stop-color="#ff4500"/><stop offset="0.950" stop-color="#ff6a00"/><stop offset="1.000" stop-color="#ff8400"/></linearGradient><linearGradient id="g58" x2="0" y2="1"><stop offset="0.000" stop-color="#6920e0"/><stop offset="0.120" stop-color="#4419e7"/><stop offset="0.156" stop-color="#2010f0"/><stop offset="0.192" stop-color="#0000ff"/><stop offset="0.299" stop-color="#0811f7"/><stop offset="0.303" stop-color="#0a14f6"/><stop offset="0.316" stop-color="#1d34e9"/><stop offset="0.335" stop-color="#3759d9"/><stop offset="0.361" stop-color="#2679ea"/><stop offset="0.374" stop-color="#197ff7"/><stop offset="0.390" stop-color="#0099ff"/><stop offset="0.413" stop-color="#00bbff"/><stop offset="0.417" stop-color="#07bbfe"/><stop offset="0.433" stop-color="#40b4f4"/><stop offset="0.443" stop-color="#72c1ef"/><stop offset="0.449" stop-color="#8ec7ec"/><stop offset="0.472" stop-color="#b6dbf0"/><stop offset="0.491" stop-color="#cde6f3"/><stop offset="0.495" stop-color="#fffedd"/><stop offset="0.501" stop-color="#fffac1"/><stop offset="0.511" stop-color="#fff7aa"/><stop offset="0.527" stop-color="#ffeb6d"/><stop offset="0.566" stop-color="#ffd72f"/><stop offset="0.605" stop-color="#ffb810"/><stop offset="0.664" stop-color="#ffa000"/><stop offset="0.758" stop-color="#ff7900"/><stop offset="0.784" stop-color="#ff6900"/><stop offset="0.817" stop-color="#ff4900"/><stop offset="0.843" stop-color="#ff3a00"/><stop offset="0.862" stop-color="#ff3400"/><stop offset="0.888" stop-color="#ff3600"/><stop offset="0.918" stop-color="#ff4300"/><stop offset="0.950" stop-color="#ff6900"/><stop offset="1.000" stop-color="#ff8400"/></linearGradient><linearGradient id="g59" x2="0" y2="1"><stop offset="0.000" stop-color="#6920e0"/><stop offset="0.137" stop-color="#4419e7"/><stop offset="0.169" stop-color="#2010f0"/><stop offset="0.202" stop-color="#0000ff"/><stop offset="0.299" stop-color="#0811f7"/><stop offset="0.303" stop-color="#0a14f6"/><stop offset="0.316" stop-color="#1d34e9"/><stop offset="0.335" stop-color="#3859d8"/><stop offset="0.361" stop-color="#2779e9"/><stop offset="0.374" stop-color="#1a7ff6"/><stop offset="0.390" stop-color="#0197ff"/><stop offset="0.413" stop-color="#00baff"/><stop offset="0.420" stop-color="#0ebafd"/><stop offset="0.433" stop-color="#3cb5f5"/><stop offset="0.446" stop-color="#7bc3ee"/><stop offset="0.452" stop-color="#92c9ec"/><stop offset="0.475" stop-color="#b9dcf0"/><stop offset="0.495" stop-color="#cee7f4"/><stop offset="0.498" stop-color="#fffdd7"/><stop offset="0.504" stop-color="#fffabe"/><stop offset="0.511" stop-color="#fff8b0"/><stop offset="0.527" stop-color="#ffec70"/><stop offset="0.566" stop-color="#ffd830"/><stop offset="0.605" stop-color="#ffb810"/><stop offset="0.664" stop-color="#ffa000"/><stop offset="0.758" stop-color="#ff7800"/><stop offset="0.781" stop-color="#ff6900"/><stop offset="0.817" stop-color="#ff4700"/><stop offset="0.843" stop-color="#ff3700"/><stop offset="0.862" stop-color="#ff3100"/><stop offset="0.888" stop-color="#ff3400"/><stop offset="0.918" stop-color="#ff4100"/><stop offset="0.950" stop-color="#ff6900"/><stop offset="1.000" stop-color="#ff8400"/></linearGradient><linearGradient id="g60" x2="0" y2="1"><stop offset="0.000" stop-color="#6920e0"/><stop offset="0.033" stop-color="#5d1ee2"/><stop offset="0.146" stop-color="#4419e7"/><stop offset="0.176" stop-color="#2110f0"/><stop offset="0.205" stop-color="#0101fe"/><stop offset="0.299" stop-color="#0811f7"/><stop offset="0.303" stop-color="#0a14f6"/><stop offset="0.316" stop-color="#1d34e9"/><stop offset="0.335" stop-color="#3858d8"/><stop offset="0.361" stop-color="#2778e9"/><stop offset="0.377" stop-color="#1781f8"/><stop offset="0.390" stop-color="#0296ff"/><stop offset="0.413" stop-color="#00b9ff"/><stop offset="0.417" stop-color="#03bcff"/><stop offset="0.420" stop-color="#0cbbfd"/><stop offset="0.433" stop-color="#39b5f5"/><stop offset="0.446" stop-color="#78c2ee"/><stop offset="0.452" stop-color="#91c8ec"/><stop offset="0.475" stop-color="#b8dcf0"/><stop offset="0.495" stop-color="#cde7f4"/><stop offset="0.498" stop-color="#fffddc"/><stop offset="0.504" stop-color="#fffac0"/><stop offset="0.511" stop-color="#fff8b2"/><stop offset="0.527" stop-color="#ffec72"/><stop offset="0.530" stop-color="#ffeb6c"/><stop offset="0.566" stop-color="#ffd830"/><stop offset="0.605" stop-color="#ffb810"/><stop offset="0.661" stop-color="#ffa100"/><stop offset="0.758" stop-color="#ff7800"/><stop offset="0.781" stop-color="#ff6800"/><stop offset="0.817" stop-color="#ff4500"/><stop offset="0.843" stop-color="#ff3500"/><stop offset="0.862" stop-color="#ff2f00"/><stop offset="0.888" stop-color="#ff3200"/><stop offset="0.918" stop-color="#ff3f00"/><stop offset="0.950" stop-color="#ff6800"/><stop offset="1.000" stop-color="#ff8400"/></linearGradient><linearGradient id="g61" x2="0" y2="1"><stop offset="0.000" stop-color="#6920e0"/><stop offset="0.033" stop-color="#5d1ee2"/><stop offset="0.150" stop-color="#4319e7"/><stop offset="0.179" stop-color="#1e0ff1"/><stop offset="0.208" stop-color="#0102fe"/><stop offset="0.299" stop-color="#0811f7"/><stop offset="0.335" stop-color="#3859d8"/><stop offset="0.361" stop-color="#2778e9"/><stop offset="0.377" stop-color="#1781f8"/><stop offset="0.390" stop-color="#0197ff"/><stop offset="0.413" stop-color="#00b9ff"/><stop offset="0.420" stop-color="#0cbbfd"/><stop offset="0.433" stop-color="#39b5f5"/><stop offset="0.446" stop-color="#78c2ee"/><stop offset="0.452" stop-color="#91c8ec"/><stop offset="0.475" stop-color="#b7dcf0"/><stop offset="0.495" stop-color="#cde7f4"/><stop offset="0.498" stop-color="#fffedc"/><stop offset="0.504" stop-color="#fffac0"/><stop offset="0.511" stop-color="#fff8b2"/><stop offset="0.527" stop-color="#ffec73"/><stop offset="0.530" stop-color="#ffeb6c"/><stop offset="0.566" stop-color="#ffd830"/><stop offset="0.605" stop-color="#ffb810"/><stop offset="0.664" stop-color="#ff9f00"/><stop offset="0.755" stop-color="#ff7900"/><stop offset="0.781" stop-color="#ff6800"/><stop offset="0.817" stop-color="#ff4400"/><stop offset="0.843" stop-color="#ff3400"/><stop offset="0.862" stop-color="#ff2e00"/><stop offset="0.888" stop-color="#ff3000"/><stop offset="0.918" stop-color="#ff3e00"/><stop offset="0.950" stop-color="#ff6700"/><stop offset="1.000" stop-color="#ff8300"/></linearGradient><linearGradient id="g62" x2="0" y2="1"><stop offset="0.000" stop-color="#6920e0"/><stop offset="0.033" stop-color="#5d1ee2"/><stop offset="0.150" stop-color="#4319e7"/><stop offset="0.179" stop-color="#1e0ff1"/><stop offset="0.208" stop-color="#0102fe"/><stop offset="0.299" stop-color="#0911f7"/><stop offset="0.316" stop-color="#1f37e8"/><stop offset="0.335" stop-color="#375ad9"/><stop offset="0.361" stop-color="#2679ea"/><stop offset="0.374" stop-color="#1a7ff6"/><stop offset="0.390" stop-color="#0098ff"/><stop offset="0.413" stop-color="#00baff"/><stop offset="0.420" stop-color="#0dbafd"/><stop offset="0.433" stop-color="#3bb5f5"/><stop offset="0.446" stop-color="#79c2ee"/><stop offset="0.452" stop-color="#91c9ec"/><stop offset="0.475" stop-color="#b8dcf0"/><stop offset="0.495" stop-color="#cde7f4"/><stop offset="0.498" stop-color="#fffedc"/><stop offset="0.504" stop-color="#fffac0"/><stop offset="0.511" stop-color="#fff8b2"/><stop offset="0.527" stop-color="#ffed73"/><stop offset="0.530" stop-color="#ffeb6c"/><stop offset="0.566" stop-color="#ffd831"/><stop offset="0.605" stop-color="#ffb810"/><stop offset="0.664" stop-color="#ffa000"/><stop offset="0.758" stop-color="#ff7800"/><stop offset="0.781" stop-color="#ff6800"/><stop offset="0.817" stop-color="#ff4400"/><stop offset="0.843" stop-color="#ff3400"/><stop offset="0.862" stop-color="#ff2d00"/><stop offset="0.888" stop-color="#ff2f00"/><stop offset="0.918" stop-color="#ff3d00"/><stop offset="0.950" stop-color="#ff6700"/><stop offset="1.000" stop-color="#ff8300"/></linearGradient><linearGradient id="g63" x2="0" y2="1"><stop offset="0.000" stop-color="#6920e0"/><stop offset="0.033" stop-color="#5d1ee2"/><stop offset="0.150" stop-color="#4319e7"/><stop offset="0.179" stop-color="#1e0ff1"/><stop offset="0.208" stop-color="#0102fe"/><stop offset="0.296" stop-color="#0811f7"/><stop offset="0.332" stop-color="#3858d8"/><stop offset="0.358" stop-color="#2878e8"/><stop offset="0.374" stop-color="#1880f8"/><stop offset="0.390" stop-color="#0099ff"/><stop offset="0.413" stop-color="#00bbff"/><stop offset="0.417" stop-color="#06bbfe"/><stop offset="0.433" stop-color="#3db4f4"/><stop offset="0.446" stop-color="#7bc3ee"/><stop offset="0.452" stop-color="#92c9ec"/><stop offset="0.475" stop-color="#b8dcf0"/><stop offset="0.495" stop-color="#cde7f4"/><stop offset="0.498" stop-color="#fffedc"/><stop offset="0.504" stop-color="#fffac0"/><stop offset="0.511" stop-color="#fff8b2"/><stop offset="0.527" stop-color="#ffed73"/><stop offset="0.530" stop-color="#ffeb6c"/><stop offset="0.566" stop-color="#ffd831"/><stop offset="0.609" stop-color="#ffb70f"/><stop offset="0.664" stop-color="#ffa000"/><stop offset="0.758" stop-color="#ff7900"/><stop offset="0.781" stop-color="#ff6900"/><stop offset="0.807" stop-color="#ff4c00"/><stop offset="0.823" stop-color="#ff4000"/><stop offset="0.846" stop-color="#ff3200"/><stop offset="0.866" stop-color="#ff2c00"/><stop offset="0.888" stop-color="#ff2f00"/><stop offset="0.918" stop-color="#ff3d00"/><stop offset="0.950" stop-color="#ff6700"/><stop offset="1.000" stop-color="#ff8300"/></linearGradient><linearGradient id="g64" x2="0" y2="1"><stop offset="0.000" stop-color="#6920e0"/><stop offset="0.033" stop-color="#5d1ee2"/><stop offset="0.150" stop-color="#4319e7"/><stop offset="0.179" stop-color="#1e0ff1"/><stop offset="0.208" stop-color="#0102fe"/><stop offset="0.293" stop-color="#0811f7"/><stop offset="0.296" stop-color="#0a13f6"/><stop offset="0.312" stop-color="#2139e8"/><stop offset="0.329" stop-color="#3756d9"/><stop offset="0.332" stop-color="#375bd9"/><stop offset="0.358" stop-color="#2679ea"/><stop offset="0.371" stop-color="#1a7ff6"/><stop offset="0.387" stop-color="#0197ff"/><stop offset="0.410" stop-color="#00b8ff"/><stop offset="0.413" stop-color="#01bcff"/><stop offset="0.417" stop-color="#09bbfe"/><stop offset="0.433" stop-color="#40b4f4"/><stop offset="0.446" stop-color="#7ec3ee"/><stop offset="0.452" stop-color="#93c9ec"/><stop offset="0.475" stop-color="#b8dcf0"/><stop offset="0.495" stop-color="#cde7f4"/><stop offset="0.498" stop-color="#fffedc"/><stop offset="0.504" stop-color="#fffac0"/><stop offset="0.511" stop-color="#fff8b3"/><stop offset="0.527" stop-color="#ffed74"/><stop offset="0.530" stop-color="#ffeb6c"/><stop offset="0.566" stop-color="#ffd932"/><stop offset="0.609" stop-color="#ffb70f"/><stop offset="0.664" stop-color="#ffa000"/><stop offset="0.758" stop-color="#ff7900"/><stop offset="0.784" stop-color="#ff6800"/><stop offset="0.810" stop-color="#ff4b00"/><stop offset="0.827" stop-color="#ff3f00"/><stop offset="0.866" stop-color="#ff2c00"/><stop offset="0.888" stop-color="#ff2e00"/><stop offset="0.918" stop-color="#ff3d00"/><stop offset="0.950" stop-color="#ff6700"/><stop offset="1.000" stop-color="#ff8300"/></linearGradient><linearGradient id="g65" x2="0" y2="1"><stop offset="0.000" stop-color="#6920e0"/><stop offset="0.033" stop-color="#5d1ee2"/><stop offset="0.150" stop-color="#4319e7"/><stop offset="0.179" stop-color="#1e0ff1"/><stop offset="0.208" stop-color="#0102fe"/><stop offset="0.293" stop-color="#0911f7"/><stop offset="0.309" stop-color="#2037e8"/><stop offset="0.329" stop-color="#3759d9"/><stop offset="0.355" stop-color="#2878e8"/><stop offset="0.371" stop-color="#1880f8"/><stop offset="0.387" stop-color="#0099ff"/><stop offset="0.410" stop-color="#00baff"/><stop offset="0.417" stop-color="#0cbafd"/><stop offset="0.430" stop-color="#38b5f5"/><stop offset="0.449" stop-color="#8dc7ec"/><stop offset="0.475" stop-color="#b9dcf0"/><stop offset="0.495" stop-color="#cde7f4"/><stop offset="0.498" stop-color="#fffedc"/><stop offset="0.504" stop-color="#fffac0"/><stop offset="0.514" stop-color="#fff7a8"/><stop offset="0.527" stop-color="#ffed75"/><stop offset="0.530" stop-color="#ffeb6d"/><stop offset="0.569" stop-color="#ffd72f"/><stop offset="0.609" stop-color="#ffb710"/><stop offset="0.664" stop-color="#ffa000"/><stop offset="0.761" stop-color="#ff7800"/><stop offset="0.784" stop-color="#ff6900"/><stop offset="0.810" stop-color="#ff4c00"/><stop offset="0.830" stop-color="#ff3d00"/><stop offset="0.849" stop-color="#ff3100"/><stop offset="0.869" stop-color="#ff2b00"/><stop offset="0.892" stop-color="#ff2e00"/><stop offset="0.918" stop-color="#ff3c00"/><stop offset="0.953" stop-color="#ff6a00"/><stop offset="1.000" stop-color="#ff8300"/></linearGradient><linearGradient id="g66" x2="0" y2="1"><stop offset="0.000" stop-color="#6920e0"/><stop offset="0.033" stop-color="#5d1ee2"/><stop offset="0.150" stop-color="#4319e7"/><stop offset="0.179" stop-color="#1e0ff1"/><stop offset="0.208" stop-color="#0102fe"/><stop offset="0.290" stop-color="#0911f7"/><stop offset="0.306" stop-color="#1e35e9"/><stop offset="0.325" stop-color="#3858d8"/><stop offset="0.355" stop-color="#2679ea"/><stop offset="0.371" stop-color="#1682f8"/><stop offset="0.387" stop-color="#009bff"/><stop offset="0.410" stop-color="#00bbff"/><stop offset="0.417" stop-color="#0fbafc"/><stop offset="0.430" stop-color="#3ab5f5"/><stop offset="0.443" stop-color="#76c1ef"/><stop offset="0.449" stop-color="#8fc8ec"/><stop offset="0.475" stop-color="#b9dcf0"/><stop offset="0.495" stop-color="#cde7f4"/><stop offset="0.498" stop-color="#fffedc"/><stop offset="0.504" stop-color="#fffac1"/><stop offset="0.514" stop-color="#fff7a9"/><stop offset="0.527" stop-color="#ffed75"/><stop offset="0.530" stop-color="#ffeb6d"/><stop offset="0.569" stop-color="#ffd72f"/><stop offset="0.609" stop-color="#ffb810"/><stop offset="0.667" stop-color="#ffa000"/><stop offset="0.761" stop-color="#ff7900"/><stop offset="0.788" stop-color="#ff6800"/><stop offset="0.814" stop-color="#ff4a00"/><stop offset="0.830" stop-color="#ff3e00"/><stop offset="0.853" stop-color="#ff2f00"/><stop offset="0.869" stop-color="#ff2a00"/><stop offset="0.892" stop-color="#ff2d00"/><stop offset="0.918" stop-color="#ff3b00"/><stop offset="0.953" stop-color="#ff6a00"/><stop offset="1.000" stop-color="#ff8300"/></linearGradient><linearGradient id="g67" x2="0" y2="1"><stop offset="0.000" stop-color="#6920e0"/><stop offset="0.033" stop-color="#5d1ee2"/><stop offset="0.150" stop-color="#4319e7"/><stop offset="0.179" stop-color="#1e0ff1"/><stop offset="0.208" stop-color="#0102fe"/><stop offset="0.286" stop-color="#0811f7"/><stop offset="0.290" stop-color="#0913f6"/><stop offset="0.306" stop-color="#2038e8"/><stop offset="0.325" stop-color="#3759d9"/><stop offset="0.351" stop-color="#2878e8"/><stop offset="0.368" stop-color="#197ff7"/><stop offset="0.384" stop-color="#0197ff"/><stop offset="0.410" stop-color="#00bcff"/><stop offset="0.413" stop-color="#07bbfe"/><stop offset="0.430" stop-color="#3cb4f5"/><stop offset="0.443" stop-color="#78c2ee"/><stop offset="0.449" stop-color="#90c8ec"/><stop offset="0.475" stop-color="#b9ddf0"/><stop offset="0.495" stop-color="#cde7f4"/><stop offset="0.498" stop-color="#fffedc"/><stop offset="0.504" stop-color="#fffac1"/><stop offset="0.514" stop-color="#fff7a9"/><stop offset="0.527" stop-color="#ffed76"/><stop offset="0.530" stop-color="#ffeb6d"/><stop offset="0.569" stop-color="#ffd72f"/><stop offset="0.609" stop-color="#ffb810"/><stop offset="0.667" stop-color="#ffa000"/><stop offset="0.765" stop-color="#ff7800"/><stop offset="0.788" stop-color="#ff6800"/><stop offset="0.814" stop-color="#ff4b00"/><stop offset="0.833" stop-color="#ff3c00"/><stop offset="0.869" stop-color="#ff2a00"/><stop offset="0.892" stop-color="#ff2d00"/><stop offset="0.918" stop-color="#ff3b00"/><stop offset="0.953" stop-color="#ff6a00"/><stop offset="1.000" stop-color="#ff8300"/></linearGradient><linearGradient id="g68" x2="0" y2="1"><stop offset="0.000" stop-color="#6920e0"/><stop offset="0.033" stop-color="#5d1ee2"/><stop offset="0.150" stop-color="#4319e7"/><stop offset="0.179" stop-color="#1e0ff1"/><stop offset="0.208" stop-color="#0102fe"/><stop offset="0.286" stop-color="#0811f7"/><stop offset="0.290" stop-color="#0a14f6"/><stop offset="0.306" stop-color="#2038e8"/><stop offset="0.325" stop-color="#375ad9"/><stop offset="0.351" stop-color="#2878e8"/><stop offset="0.368" stop-color="#1980f7"/><stop offset="0.384" stop-color="#0197ff"/><stop offset="0.410" stop-color="#00bcff"/><stop offset="0.430" stop-color="#3cb4f5"/><stop offset="0.443" stop-color="#78c2ee"/><stop offset="0.449" stop-color="#90c8ec"/><stop offset="0.475" stop-color="#b9ddf0"/><stop offset="0.495" stop-color="#cde7f4"/><stop offset="0.498" stop-color="#fffedc"/><stop offset="0.504" stop-color="#fffac1"/><stop offset="0.514" stop-color="#fff7a9"/><stop offset="0.527" stop-color="#ffed76"/><stop offset="0.530" stop-color="#ffeb6d"/><stop offset="0.569" stop-color="#ffd72f"/><stop offset="0.609" stop-color="#ffb810"/><stop offset="0.667" stop-color="#ffa000"/><stop offset="0.765" stop-color="#ff7800"/><stop offset="0.788" stop-color="#ff6900"/><stop offset="0.814" stop-color="#ff4b00"/><stop offset="0.833" stop-color="#ff3c00"/><stop offset="0.869" stop-color="#ff2b00"/><stop offset="0.892" stop-color="#ff2d00"/><stop offset="0.918" stop-color="#ff3b00"/><stop offset="0.953" stop-color="#ff6a00"/><stop offset="1.000" stop-color="#ff8300"/></linearGradient><linearGradient id="g69" x2="0" y2="1"><stop offset="0.000" stop-color="#6920e0"/><stop offset="0.033" stop-color="#5d1ee2"/><stop offset="0.146" stop-color="#4419e7"/><stop offset="0.176" stop-color="#1f10f0"/><stop offset="0.205" stop-color="#0000ff"/><stop offset="0.286" stop-color="#0811f7"/><stop offset="0.290" stop-color="#0a14f6"/><stop offset="0.306" stop-color="#2038e8"/><stop offset="0.325" stop-color="#3759d9"/><stop offset="0.351" stop-color="#2878e8"/><stop offset="0.368" stop-color="#197ff7"/><stop offset="0.384" stop-color="#0197ff"/><stop offset="0.410" stop-color="#00bcff"/><stop offset="0.413" stop-color="#07bbfe"/><stop offset="0.430" stop-color="#3bb5f5"/><stop offset="0.443" stop-color="#76c2ef"/><stop offset="0.449" stop-color="#8fc8ec"/><stop offset="0.475" stop-color="#b9dcf0"/><stop offset="0.495" stop-color="#cde6f3"/><stop offset="0.498" stop-color="#fffedf"/><stop offset="0.504" stop-color="#fffac2"/><stop offset="0.514" stop-color="#fff7ab"/><stop offset="0.530" stop-color="#ffeb6e"/><stop offset="0.569" stop-color="#ffd72f"/><stop offset="0.609" stop-color="#ffb810"/><stop offset="0.667" stop-color="#ffa000"/><stop offset="0.765" stop-color="#ff7800"/><stop offset="0.788" stop-color="#ff6900"/><stop offset="0.814" stop-color="#ff4c00"/><stop offset="0.833" stop-color="#ff3d00"/><stop offset="0.869" stop-color="#ff2c00"/><stop offset="0.892" stop-color="#ff2e00"/><stop offset="0.918" stop-color="#ff3c00"/><stop offset="0.950" stop-color="#ff6700"/><stop offset="0.973" stop-color="#ff7700"/><stop offset="1.000" stop-color="#ff8300"/></linearGradient><linearGradient id="g70" x2="0" y2="1"><stop offset="0.000" stop-color="#6920e0"/><stop offset="0.140" stop-color="#4419e7"/><stop offset="0.169" stop-color="#2210f0"/><stop offset="0.202" stop-color="#0001ff"/><stop offset="0.286" stop-color="#0811f7"/><stop offset="0.290" stop-color="#0a14f6"/><stop offset="0.306" stop-color="#2038e8"/><stop offset="0.325" stop-color="#3759d9"/><stop offset="0.355" stop-color="#2579eb"/><stop offset="0.371" stop-color="#1682f9"/><stop offset="0.384" stop-color="#0296fe"/><stop offset="0.410" stop-color="#00bbff"/><stop offset="0.417" stop-color="#0ebafd"/><stop offset="0.433" stop-color="#44b5f4"/><stop offset="0.446" stop-color="#7fc4ee"/><stop offset="0.452" stop-color="#93caec"/><stop offset="0.475" stop-color="#b7dcf0"/><stop offset="0.498" stop-color="#cfe7f4"/><stop offset="0.501" stop-color="#fffdd6"/><stop offset="0.508" stop-color="#fffabd"/><stop offset="0.514" stop-color="#fff8b0"/><stop offset="0.530" stop-color="#ffec70"/><stop offset="0.569" stop-color="#ffd830"/><stop offset="0.609" stop-color="#ffb911"/><stop offset="0.667" stop-color="#ffa000"/><stop offset="0.765" stop-color="#ff7800"/><stop offset="0.788" stop-color="#ff6900"/><stop offset="0.814" stop-color="#ff4c00"/><stop offset="0.830" stop-color="#ff4000"/><stop offset="0.869" stop-color="#ff2e00"/><stop offset="0.892" stop-color="#ff3000"/><stop offset="0.918" stop-color="#ff3d00"/><stop offset="0.950" stop-color="#ff6800"/><stop offset="1.000" stop-color="#ff8300"/></linearGradient><linearGradient id="g71" x2="0" y2="1"><stop offset="0.000" stop-color="#6920e0"/><stop offset="0.133" stop-color="#4419e7"/><stop offset="0.163" stop-color="#2110f0"/><stop offset="0.195" stop-color="#0000ff"/><stop offset="0.286" stop-color="#0811f7"/><stop offset="0.290" stop-color="#0a14f6"/><stop offset="0.306" stop-color="#2038e8"/><stop offset="0.325" stop-color="#3859d8"/><stop offset="0.355" stop-color="#2679ea"/><stop offset="0.371" stop-color="#1781f8"/><stop offset="0.387" stop-color="#009aff"/><stop offset="0.410" stop-color="#00b9ff"/><stop offset="0.417" stop-color="#0abbfd"/><stop offset="0.433" stop-color="#3fb4f4"/><stop offset="0.446" stop-color="#7bc3ee"/><stop offset="0.452" stop-color="#91c8ec"/><stop offset="0.478" stop-color="#b9ddf0"/><stop offset="0.498" stop-color="#cde6f3"/><stop offset="0.501" stop-color="#fffede"/><stop offset="0.508" stop-color="#fffac1"/><stop offset="0.517" stop-color="#fff7a9"/><stop offset="0.530" stop-color="#ffed75"/><stop offset="0.534" stop-color="#ffeb6d"/><stop offset="0.569" stop-color="#ffd932"/><stop offset="0.612" stop-color="#ffb710"/><stop offset="0.667" stop-color="#ffa000"/><stop offset="0.761" stop-color="#ff7900"/><stop offset="0.788" stop-color="#ff6800"/><stop offset="0.814" stop-color="#ff4c00"/><stop offset="0.827" stop-color="#ff4300"/><stop offset="0.849" stop-color="#ff3500"/><stop offset="0.869" stop-color="#ff2f00"/><stop offset="0.892" stop-color="#ff3200"/><stop offset="0.918" stop-color="#ff3f00"/><stop offset="0.950" stop-color="#ff6800"/><stop offset="1.000" stop-color="#ff8300"/></linearGradient><linearGradient id="g72" x2="0" y2="1"><stop offset="0.000" stop-color="#6920e0"/><stop offset="0.124" stop-color="#4419e7"/><stop offset="0.156" stop-color="#2010f0"/><stop offset="0.189" stop-color="#0100ff"/><stop offset="0.286" stop-color="#0811f7"/><stop offset="0.325" stop-color="#3858d8"/><stop offset="0.355" stop-color="#2779e9"/><stop offset="0.368" stop-color="#1b7ff5"/><stop offset="0.387" stop-color="#0098ff"/><stop offset="0.413" stop-color="#00bcff"/><stop offset="0.433" stop-color="#3bb5f5"/><stop offset="0.452" stop-color="#8cc7ec"/><stop offset="0.478" stop-color="#b7dbf0"/><stop offset="0.501" stop-color="#cee7f4"/><stop offset="0.504" stop-color="#fffdd8"/><stop offset="0.511" stop-color="#fffabe"/><stop offset="0.517" stop-color="#fff8b1"/><stop offset="0.534" stop-color="#ffec70"/><stop offset="0.573" stop-color="#ffd830"/><stop offset="0.612" stop-color="#ffb810"/><stop offset="0.667" stop-color="#ffa000"/><stop offset="0.761" stop-color="#ff7900"/><stop offset="0.788" stop-color="#ff6800"/><stop offset="0.820" stop-color="#ff4700"/><stop offset="0.846" stop-color="#ff3700"/><stop offset="0.866" stop-color="#ff3100"/><stop offset="0.888" stop-color="#ff3300"/><stop offset="0.918" stop-color="#ff4000"/><stop offset="0.950" stop-color="#ff6800"/><stop offset="1.000" stop-color="#ff8300"/></linearGradient><linearGradient id="g73" x2="0" y2="1"><stop offset="0.000" stop-color="#6920e0"/><stop offset="0.117" stop-color="#4319e7"/><stop offset="0.150" stop-color="#1f10f0"/><stop offset="0.182" stop-color="#0101fe"/><stop offset="0.286" stop-color="#0811f7"/><stop offset="0.325" stop-color="#3858d8"/><stop offset="0.355" stop-color="#2778e9"/><stop offset="0.371" stop-color="#1980f7"/><stop offset="0.387" stop-color="#0197ff"/><stop offset="0.413" stop-color="#00bbff"/><stop offset="0.420" stop-color="#0dbafd"/><stop offset="0.436" stop-color="#41b4f4"/><stop offset="0.449" stop-color="#7cc3ee"/><stop offset="0.456" stop-color="#91c9ec"/><stop offset="0.482" stop-color="#b9dcf0"/><stop offset="0.504" stop-color="#d0e8f4"/><stop offset="0.508" stop-color="#fffcd2"/><stop offset="0.511" stop-color="#fffac4"/><stop offset="0.521" stop-color="#fff7ab"/><stop offset="0.534" stop-color="#ffed76"/><stop offset="0.537" stop-color="#ffeb6d"/><stop offset="0.573" stop-color="#ffd932"/><stop offset="0.612" stop-color="#ffb810"/><stop offset="0.670" stop-color="#ff9f00"/><stop offset="0.761" stop-color="#ff7900"/><stop offset="0.788" stop-color="#ff6700"/><stop offset="0.814" stop-color="#ff4b00"/><stop offset="0.843" stop-color="#ff3900"/><stop offset="0.866" stop-color="#ff3200"/><stop offset="0.888" stop-color="#ff3400"/><stop offset="0.918" stop-color="#ff4100"/><stop offset="0.950" stop-color="#ff6800"/><stop offset="1.000" stop-color="#ff8300"/></linearGradient><linearGradient id="g74" x2="0" y2="1"><stop offset="0.000" stop-color="#6920e0"/><stop offset="0.111" stop-color="#4319e7"/><stop offset="0.143" stop-color="#2110f0"/><stop offset="0.179" stop-color="#0000ff"/><stop offset="0.286" stop-color="#0811f7"/><stop offset="0.325" stop-color="#3858d8"/><stop offset="0.355" stop-color="#2778e9"/><stop offset="0.371" stop-color="#197ff7"/><stop offset="0.387" stop-color="#0296fe"/><stop offset="0.413" stop-color="#00b9ff"/><stop offset="0.420" stop-color="#0bbbfd"/><stop offset="0.436" stop-color="#3eb4f4"/><stop offset="0.449" stop-color="#78c2ee"/><stop offset="0.456" stop-color="#8fc8ec"/><stop offset="0.482" stop-color="#b7dcf0"/><stop offset="0.504" stop-color="#cee7f4"/><stop offset="0.508" stop-color="#fffdd9"/><stop offset="0.514" stop-color="#fffabe"/><stop offset="0.521" stop-color="#fff8b0"/><stop offset="0.537" stop-color="#ffec6f"/><stop offset="0.576" stop-color="#ffd72f"/><stop offset="0.615" stop-color="#ffb70f"/><stop offset="0.670" stop-color="#ffa000"/><stop offset="0.761" stop-color="#ff7900"/><stop offset="0.788" stop-color="#ff6700"/><stop offset="0.814" stop-color="#ff4a00"/><stop offset="0.840" stop-color="#ff3a00"/><stop offset="0.862" stop-color="#ff3200"/><stop offset="0.888" stop-color="#ff3400"/><stop offset="0.918" stop-color="#ff4100"/><stop offset="0.950" stop-color="#ff6800"/><stop offset="1.000" stop-color="#ff8300"/></linearGradient><linearGradient id="g75" x2="0" y2="1"><stop offset="0.000" stop-color="#6920e0"/><stop offset="0.107" stop-color="#4319e7"/><stop offset="0.140" stop-color="#2110f0"/><stop offset="0.176" stop-color="#0101fe"/><stop offset="0.286" stop-color="#0811f7"/><stop offset="0.325" stop-color="#3858d8"/><stop offset="0.355" stop-color="#2878e8"/><stop offset="0.371" stop-color="#197ff7"/><stop offset="0.390" stop-color="#009aff"/><stop offset="0.413" stop-color="#00b9ff"/><stop offset="0.420" stop-color="#09bbfd"/><stop offset="0.436" stop-color="#3cb4f5"/><stop offset="0.449" stop-color="#75c1ef"/><stop offset="0.456" stop-color="#8dc7ec"/><stop offset="0.482" stop-color="#b6dbf0"/><stop offset="0.504" stop-color="#cde7f4"/><stop offset="0.508" stop-color="#fffddc"/><stop offset="0.514" stop-color="#fffac0"/><stop offset="0.521" stop-color="#fff8b2"/><stop offset="0.524" stop-color="#fff6a6"/><stop offset="0.537" stop-color="#ffec71"/><stop offset="0.576" stop-color="#ffd72f"/><stop offset="0.615" stop-color="#ffb710"/><stop offset="0.670" stop-color="#ffa000"/><stop offset="0.761" stop-color="#ff7900"/><stop offset="0.784" stop-color="#ff6900"/><stop offset="0.814" stop-color="#ff4800"/><stop offset="0.840" stop-color="#ff3800"/><stop offset="0.862" stop-color="#ff3100"/><stop offset="0.888" stop-color="#ff3300"/><stop offset="0.918" stop-color="#ff4000"/><stop offset="0.950" stop-color="#ff6800"/><stop offset="1.000" stop-color="#ff8300"/></linearGradient><linearGradient id="g76" x2="0" y2="1"><stop offset="0.000" stop-color="#6920e0"/><stop offset="0.107" stop-color="#4319e7"/><stop offset="0.140" stop-color="#2110f0"/><stop offset="0.176" stop-color="#0100ff"/><stop offset="0.286" stop-color="#0811f7"/><stop offset="0.325" stop-color="#3858d8"/><stop offset="0.355" stop-color="#2878e8"/><stop offset="0.371" stop-color="#197ff7"/><stop offset="0.390" stop-color="#009aff"/><stop offset="0.413" stop-color="#00b9ff"/><stop offset="0.420" stop-color="#09bbfd"/><stop offset="0.436" stop-color="#3cb5f5"/><stop offset="0.449" stop-color="#75c1ef"/><stop offset="0.456" stop-color="#8cc7ec"/><stop offset="0.482" stop-color="#b6dbf0"/><stop offset="0.504" stop-color="#cde7f4"/><stop offset="0.508" stop-color="#fffedd"/><stop offset="0.514" stop-color="#fffac0"/><stop offset="0.524" stop-color="#fff6a7"/><stop offset="0.537" stop-color="#ffec71"/><stop offset="0.576" stop-color="#ffd72f"/><stop offset="0.615" stop-color="#ffb710"/><stop offset="0.670" stop-color="#ffa000"/><stop offset="0.761" stop-color="#ff7800"/><stop offset="0.784" stop-color="#ff6900"/><stop offset="0.814" stop-color="#ff4700"/><stop offset="0.840" stop-color="#ff3700"/><stop offset="0.862" stop-color="#ff3000"/><stop offset="0.888" stop-color="#ff3300"/><stop offset="0.918" stop-color="#ff4000"/><stop offset="0.950" stop-color="#ff6800"/><stop offset="1.000" stop-color="#ff8300"/></linearGradient><linearGradient id="g77" x2="0" y2="1"><stop offset="0.000" stop-color="#6920e0"/><stop offset="0.104" stop-color="#4419e7"/><stop offset="0.140" stop-color="#2010f0"/><stop offset="0.176" stop-color="#0100ff"/><stop offset="0.286" stop-color="#0811f7"/><stop offset="0.325" stop-color="#3857d8"/><stop offset="0.355" stop-color="#2878e8"/><stop offset="0.374" stop-color="#1682f9"/><stop offset="0.390" stop-color="#009aff"/><stop offset="0.413" stop-color="#00b8ff"/><stop offset="0.420" stop-color="#08bbfe"/><stop offset="0.436" stop-color="#3bb5f5"/><stop offset="0.452" stop-color="#7fc4ee"/><stop offset="0.459" stop-color="#93c9ec"/><stop offset="0.482" stop-color="#b5dbf0"/><stop offset="0.504" stop-color="#cde6f3"/><stop offset="0.508" stop-color="#fffedf"/><stop offset="0.514" stop-color="#fffac2"/><stop offset="0.524" stop-color="#fff7a9"/><stop offset="0.537" stop-color="#ffed73"/><stop offset="0.540" stop-color="#ffeb6c"/><stop offset="0.576" stop-color="#ffd830"/><stop offset="0.615" stop-color="#ffb810"/><stop offset="0.670" stop-color="#ffa000"/><stop offset="0.761" stop-color="#ff7800"/><stop offset="0.784" stop-color="#ff6800"/><stop offset="0.814" stop-color="#ff4600"/><stop offset="0.840" stop-color="#ff3600"/><stop offset="0.862" stop-color="#ff2f00"/><stop offset="0.888" stop-color="#ff3200"/><stop offset="0.918" stop-color="#ff3f00"/><stop offset="0.950" stop-color="#ff6800"/><stop offset="1.000" stop-color="#ff8300"/></linearGradient><linearGradient id="g78" x2="0" y2="1"><stop offset="0.000" stop-color="#6920e0"/><stop offset="0.101" stop-color="#4319e7"/><stop offset="0.137" stop-color="#2110f0"/><stop offset="0.176" stop-color="#0100ff"/><stop offset="0.286" stop-color="#0811f7"/><stop offset="0.325" stop-color="#3757d8"/><stop offset="0.355" stop-color="#2878e8"/><stop offset="0.374" stop-color="#1682f8"/><stop offset="0.390" stop-color="#0099ff"/><stop offset="0.417" stop-color="#00bcff"/><stop offset="0.423" stop-color="#10bafc"/><stop offset="0.439" stop-color="#44b5f4"/><stop offset="0.452" stop-color="#7dc3ee"/><stop offset="0.459" stop-color="#91c9ec"/><stop offset="0.485" stop-color="#b9dcf0"/><stop offset="0.508" stop-color="#cfe7f4"/><stop offset="0.511" stop-color="#fffdd5"/><stop offset="0.514" stop-color="#fffbc7"/><stop offset="0.524" stop-color="#fff7ad"/><stop offset="0.540" stop-color="#ffeb6d"/><stop offset="0.576" stop-color="#ffd831"/><stop offset="0.615" stop-color="#ffb810"/><stop offset="0.670" stop-color="#ffa000"/><stop offset="0.761" stop-color="#ff7800"/><stop offset="0.784" stop-color="#ff6800"/><stop offset="0.814" stop-color="#ff4500"/><stop offset="0.840" stop-color="#ff3500"/><stop offset="0.862" stop-color="#ff2e00"/><stop offset="0.888" stop-color="#ff3000"/><stop offset="0.918" stop-color="#ff3e00"/><stop offset="0.950" stop-color="#ff6700"/><stop offset="1.000" stop-color="#ff8300"/></linearGradient><linearGradient id="g79" x2="0" y2="1"><stop offset="0.000" stop-color="#6920e0"/><stop offset="0.094" stop-color="#4419e7"/><stop offset="0.133" stop-color="#2110f0"/><stop offset="0.176" stop-color="#0000ff"/><stop offset="0.286" stop-color="#0811f7"/><stop offset="0.325" stop-color="#3757d9"/><stop offset="0.358" stop-color="#2679ea"/><stop offset="0.374" stop-color="#1781f8"/><stop offset="0.390" stop-color="#0098ff"/><stop offset="0.417" stop-color="#00bbff"/><stop offset="0.423" stop-color="#0dbafd"/><stop offset="0.439" stop-color="#40b4f4"/><stop offset="0.452" stop-color="#79c2ee"/><stop offset="0.459" stop-color="#90c8ec"/><stop offset="0.485" stop-color="#b7dcf0"/><stop offset="0.508" stop-color="#cee7f4"/><stop offset="0.511" stop-color="#fffddb"/><stop offset="0.517" stop-color="#fffabf"/><stop offset="0.524" stop-color="#fff8b1"/><stop offset="0.540" stop-color="#ffec6f"/><stop offset="0.576" stop-color="#ffd933"/><stop offset="0.615" stop-color="#ffb810"/><stop offset="0.670" stop-color="#ffa000"/><stop offset="0.761" stop-color="#ff7800"/><stop offset="0.784" stop-color="#ff6800"/><stop offset="0.814" stop-color="#ff4400"/><stop offset="0.840" stop-color="#ff3400"/><stop offset="0.862" stop-color="#ff2c00"/><stop offset="0.888" stop-color="#ff2f00"/><stop offset="0.918" stop-color="#ff3e00"/><stop offset="0.953" stop-color="#ff6a00"/><stop offset="1.000" stop-color="#ff8300"/></linearGradient><linearGradient id="g80" x2="0" y2="1"><stop offset="0.000" stop-color="#6920e0"/><stop offset="0.091" stop-color="#4419e7"/><stop offset="0.133" stop-color="#1f10f0"/><stop offset="0.176" stop-color="#0000ff"/><stop offset="0.286" stop-color="#0811f7"/><stop offset="0.325" stop-color="#3756d9"/><stop offset="0.329" stop-color="#375ad9"/><stop offset="0.355" stop-color="#2977e7"/><stop offset="0.371" stop-color="#1b7ff5"/><stop offset="0.390" stop-color="#0197ff"/><stop offset="0.417" stop-color="#00baff"/><stop offset="0.423" stop-color="#0bbbfd"/><stop offset="0.439" stop-color="#3db4f5"/><stop offset="0.452" stop-color="#75c1ef"/><stop offset="0.459" stop-color="#8cc7ec"/><stop offset="0.485" stop-color="#b5dbf0"/><stop offset="0.511" stop-color="#cfe8f4"/><stop offset="0.514" stop-color="#fffcd3"/><stop offset="0.517" stop-color="#fffac4"/><stop offset="0.527" stop-color="#fff7aa"/><stop offset="0.540" stop-color="#ffed73"/><stop offset="0.543" stop-color="#ffeb6c"/><stop offset="0.579" stop-color="#ffd72f"/><stop offset="0.618" stop-color="#ffb70f"/><stop offset="0.670" stop-color="#ffa000"/><stop offset="0.761" stop-color="#ff7800"/><stop offset="0.784" stop-color="#ff6700"/><stop offset="0.814" stop-color="#ff4300"/><stop offset="0.840" stop-color="#ff3200"/><stop offset="0.862" stop-color="#ff2b00"/><stop offset="0.888" stop-color="#ff2e00"/><stop offset="0.918" stop-color="#ff3d00"/><stop offset="0.953" stop-color="#ff6a00"/><stop offset="1.000" stop-color="#ff8300"/></linearGradient><linearGradient id="g81" x2="0" y2="1"><stop offset="0.000" stop-color="#6920e0"/><stop offset="0.088" stop-color="#4319e7"/><stop offset="0.130" stop-color="#2010f0"/><stop offset="0.176" stop-color="#0000ff"/><stop offset="0.286" stop-color="#0911f7"/><stop offset="0.290" stop-color="#0a14f6"/><stop offset="0.309" stop-color="#233ce6"/><stop offset="0.329" stop-color="#375ad9"/><stop offset="0.355" stop-color="#2976e7"/><stop offset="0.374" stop-color="#1880f8"/><stop offset="0.390" stop-color="#0197ff"/><stop offset="0.417" stop-color="#00b9ff"/><stop offset="0.423" stop-color="#09bbfd"/><stop offset="0.439" stop-color="#3bb5f5"/><stop offset="0.456" stop-color="#7ec4ee"/><stop offset="0.462" stop-color="#92c9ec"/><stop offset="0.488" stop-color="#b8dcf0"/><stop offset="0.511" stop-color="#cee7f4"/><stop offset="0.514" stop-color="#fffdd8"/><stop offset="0.521" stop-color="#fffabd"/><stop offset="0.527" stop-color="#fff8ae"/><stop offset="0.543" stop-color="#ffeb6d"/><stop offset="0.579" stop-color="#ffd830"/><stop offset="0.618" stop-color="#ffb70f"/><stop offset="0.670" stop-color="#ffa000"/><stop offset="0.761" stop-color="#ff7800"/><stop offset="0.784" stop-color="#ff6700"/><stop offset="0.814" stop-color="#ff4200"/><stop offset="0.840" stop-color="#ff3100"/><stop offset="0.862" stop-color="#ff2a00"/><stop offset="0.888" stop-color="#ff2d00"/><stop offset="0.918" stop-color="#ff3c00"/><stop offset="0.953" stop-color="#ff6900"/><stop offset="1.000" stop-color="#ff8300"/></linearGradient><linearGradient id="g82" x2="0" y2="1"><stop offset="0.000" stop-color="#6920e0"/><stop offset="0.085" stop-color="#4419e7"/><stop offset="0.176" stop-color="#0001ff"/><stop offset="0.286" stop-color="#0911f7"/><stop offset="0.290" stop-color="#0a14f6"/><stop offset="0.309" stop-color="#233ce6"/><stop offset="0.329" stop-color="#375ad9"/><stop offset="0.358" stop-color="#2779e9"/><stop offset="0.374" stop-color="#1980f7"/><stop offset="0.390" stop-color="#0296fe"/><stop offset="0.417" stop-color="#00b8ff"/><stop offset="0.423" stop-color="#08bbfe"/><stop offset="0.439" stop-color="#39b5f5"/><stop offset="0.456" stop-color="#7cc3ee"/><stop offset="0.462" stop-color="#91c9ec"/><stop offset="0.488" stop-color="#b8dcf0"/><stop offset="0.511" stop-color="#cee7f4"/><stop offset="0.514" stop-color="#fffddb"/><stop offset="0.521" stop-color="#fffabf"/><stop offset="0.527" stop-color="#fff8b1"/><stop offset="0.543" stop-color="#ffec6f"/><stop offset="0.579" stop-color="#ffd831"/><stop offset="0.618" stop-color="#ffb710"/><stop offset="0.670" stop-color="#ffa000"/><stop offset="0.761" stop-color="#ff7700"/><stop offset="0.784" stop-color="#ff6700"/><stop offset="0.814" stop-color="#ff4200"/><stop offset="0.840" stop-color="#ff3100"/><stop offset="0.862" stop-color="#ff2900"/><stop offset="0.888" stop-color="#ff2c00"/><stop offset="0.918" stop-color="#ff3b00"/><stop offset="0.953" stop-color="#ff6900"/><stop offset="1.000" stop-color="#ff8300"/></linearGradient><linearGradient id="g83" x2="0" y2="1"><stop offset="0.000" stop-color="#6920e0"/><stop offset="0.085" stop-color="#4319e7"/><stop offset="0.127" stop-color="#2110f0"/><stop offset="0.172" stop-color="#0000ff"/><stop offset="0.179" stop-color="#0204fd"/><stop offset="0.286" stop-color="#0912f7"/><stop offset="0.290" stop-color="#0a14f5"/><stop offset="0.309" stop-color="#233ce6"/><stop offset="0.329" stop-color="#375ad9"/><stop offset="0.358" stop-color="#2779e9"/><stop offset="0.374" stop-color="#1980f7"/><stop offset="0.394" stop-color="#009aff"/><stop offset="0.420" stop-color="#01bcff"/><stop offset="0.443" stop-color="#44b5f4"/><stop offset="0.456" stop-color="#7cc3ee"/><stop offset="0.462" stop-color="#91c8ec"/><stop offset="0.488" stop-color="#b7dcf0"/><stop offset="0.511" stop-color="#cde7f4"/><stop offset="0.514" stop-color="#fffedc"/><stop offset="0.521" stop-color="#fffac0"/><stop offset="0.527" stop-color="#fff8b1"/><stop offset="0.543" stop-color="#ffec6f"/><stop offset="0.579" stop-color="#ffd831"/><stop offset="0.618" stop-color="#ffb710"/><stop offset="0.670" stop-color="#ffa000"/><stop offset="0.761" stop-color="#ff7700"/><stop offset="0.784" stop-color="#ff6700"/><stop offset="0.814" stop-color="#ff4200"/><stop offset="0.840" stop-color="#ff3100"/><stop offset="0.862" stop-color="#ff2900"/><stop offset="0.888" stop-color="#ff2c00"/><stop offset="0.918" stop-color="#ff3b00"/><stop offset="0.953" stop-color="#ff6900"/><stop offset="1.000" stop-color="#ff8300"/></linearGradient><linearGradient id="g84" x2="0" y2="1"><stop offset="0.000" stop-color="#6920e0"/><stop offset="0.033" stop-color="#5d1ee2"/><stop offset="0.081" stop-color="#4419e7"/><stop offset="0.127" stop-color="#2010f0"/><stop offset="0.169" stop-color="#0000ff"/><stop offset="0.179" stop-color="#0408fb"/><stop offset="0.221" stop-color="#080ff8"/><stop offset="0.293" stop-color="#0a13f6"/><stop offset="0.309" stop-color="#1e35e9"/><stop offset="0.332" stop-color="#375ad9"/><stop offset="0.361" stop-color="#2679ea"/><stop offset="0.377" stop-color="#1880f8"/><stop offset="0.394" stop-color="#0197ff"/><stop offset="0.420" stop-color="#00baff"/><stop offset="0.426" stop-color="#0bbbfd"/><stop offset="0.443" stop-color="#3db4f4"/><stop offset="0.456" stop-color="#76c1ef"/><stop offset="0.462" stop-color="#8dc7ec"/><stop offset="0.488" stop-color="#b6dbf0"/><stop offset="0.511" stop-color="#cde6f3"/><stop offset="0.514" stop-color="#fffedf"/><stop offset="0.521" stop-color="#fffac1"/><stop offset="0.527" stop-color="#fff8b2"/><stop offset="0.543" stop-color="#ffec70"/><stop offset="0.579" stop-color="#ffd932"/><stop offset="0.618" stop-color="#ffb810"/><stop offset="0.670" stop-color="#ffa000"/><stop offset="0.761" stop-color="#ff7800"/><stop offset="0.784" stop-color="#ff6700"/><stop offset="0.814" stop-color="#ff4300"/><stop offset="0.840" stop-color="#ff3200"/><stop offset="0.862" stop-color="#ff2a00"/><stop offset="0.888" stop-color="#ff2d00"/><stop offset="0.918" stop-color="#ff3c00"/><stop offset="0.953" stop-color="#ff6900"/><stop offset="1.000" stop-color="#ff8300"/></linearGradient><linearGradient id="g85" x2="0" y2="1"><stop offset="0.000" stop-color="#6920e0"/><stop offset="0.033" stop-color="#5d1ee2"/><stop offset="0.081" stop-color="#4218e8"/><stop offset="0.124" stop-color="#2010f0"/><stop offset="0.163" stop-color="#0101fe"/><stop offset="0.179" stop-color="#070ef8"/><stop offset="0.221" stop-color="#0d1af3"/><stop offset="0.299" stop-color="#0a14f6"/><stop offset="0.319" stop-color="#223ae7"/><stop offset="0.338" stop-color="#375ad9"/><stop offset="0.368" stop-color="#2679ea"/><stop offset="0.384" stop-color="#1781f8"/><stop offset="0.400" stop-color="#0099ff"/><stop offset="0.423" stop-color="#00b9ff"/><stop offset="0.430" stop-color="#09bbfd"/><stop offset="0.446" stop-color="#3db4f5"/><stop offset="0.459" stop-color="#77c2ef"/><stop offset="0.465" stop-color="#8fc8ec"/><stop offset="0.491" stop-color="#b8dcf0"/><stop offset="0.514" stop-color="#cfe7f4"/><stop offset="0.517" stop-color="#fffdd6"/><stop offset="0.521" stop-color="#fffbc7"/><stop offset="0.530" stop-color="#fff7ac"/><stop offset="0.543" stop-color="#ffed75"/><stop offset="0.547" stop-color="#ffeb6c"/><stop offset="0.582" stop-color="#ffd72f"/><stop offset="0.618" stop-color="#ffb810"/><stop offset="0.674" stop-color="#ff9f00"/><stop offset="0.761" stop-color="#ff7800"/><stop offset="0.784" stop-color="#ff6800"/><stop offset="0.814" stop-color="#ff4500"/><stop offset="0.840" stop-color="#ff3400"/><stop offset="0.862" stop-color="#ff2d00"/><stop offset="0.888" stop-color="#ff3000"/><stop offset="0.918" stop-color="#ff3e00"/><stop offset="0.950" stop-color="#ff6700"/><stop offset="1.000" stop-color="#ff8300"/></linearGradient><linearGradient id="g86" x2="0" y2="1"><stop offset="0.000" stop-color="#6920e0"/><stop offset="0.033" stop-color="#5d1ee2"/><stop offset="0.081" stop-color="#4018e8"/><stop offset="0.120" stop-color="#2110f0"/><stop offset="0.159" stop-color="#0101ff"/><stop offset="0.179" stop-color="#0c17f4"/><stop offset="0.218" stop-color="#1427ee"/><stop offset="0.241" stop-color="#1426ee"/><stop offset="0.306" stop-color="#0a14f5"/><stop offset="0.342" stop-color="#3757d9"/><stop offset="0.371" stop-color="#2778e9"/><stop offset="0.387" stop-color="#1880f8"/><stop offset="0.404" stop-color="#0098ff"/><stop offset="0.426" stop-color="#00b8ff"/><stop offset="0.433" stop-color="#09bbfd"/><stop offset="0.449" stop-color="#3eb4f4"/><stop offset="0.462" stop-color="#7ac3ee"/><stop offset="0.469" stop-color="#91c8ec"/><stop offset="0.495" stop-color="#b9ddf0"/><stop offset="0.514" stop-color="#cde7f4"/><stop offset="0.517" stop-color="#fffddb"/><stop offset="0.524" stop-color="#fffabf"/><stop offset="0.530" stop-color="#fff8b0"/><stop offset="0.547" stop-color="#ffeb6e"/><stop offset="0.582" stop-color="#ffd830"/><stop offset="0.618" stop-color="#ffb810"/><stop offset="0.674" stop-color="#ffa000"/><stop offset="0.761" stop-color="#ff7800"/><stop offset="0.784" stop-color="#ff6900"/><stop offset="0.814" stop-color="#ff4800"/><stop offset="0.840" stop-color="#ff3800"/><stop offset="0.862" stop-color="#ff3100"/><stop offset="0.888" stop-color="#ff3400"/><stop offset="0.918" stop-color="#ff4100"/><stop offset="0.950" stop-color="#ff6800"/><stop offset="1.000" stop-color="#ff8300"/></linearGradient><linearGradient id="g87" x2="0" y2="1"><stop offset="0.000" stop-color="#6920e0"/><stop offset="0.033" stop-color="#5d1ee2"/><stop offset="0.081" stop-color="#3f18e8"/><stop offset="0.120" stop-color="#2010f0"/><stop offset="0.153" stop-color="#0101fe"/><stop offset="0.179" stop-color="#1121f0"/><stop offset="0.218" stop-color="#1d34e9"/><stop offset="0.241" stop-color="#1b31ea"/><stop offset="0.306" stop-color="#0b16f5"/><stop offset="0.309" stop-color="#0c18f4"/><stop offset="0.325" stop-color="#2139e7"/><stop offset="0.345" stop-color="#375ad9"/><stop offset="0.371" stop-color="#2878e8"/><stop offset="0.387" stop-color="#1980f7"/><stop offset="0.404" stop-color="#0197ff"/><stop offset="0.430" stop-color="#00bcff"/><stop offset="0.449" stop-color="#3db4f5"/><stop offset="0.462" stop-color="#78c2ee"/><stop offset="0.469" stop-color="#90c8ec"/><stop offset="0.495" stop-color="#b9ddf0"/><stop offset="0.514" stop-color="#cde7f4"/><stop offset="0.517" stop-color="#fffddc"/><stop offset="0.524" stop-color="#fffabf"/><stop offset="0.530" stop-color="#fff8b1"/><stop offset="0.547" stop-color="#ffeb6e"/><stop offset="0.582" stop-color="#ffd830"/><stop offset="0.618" stop-color="#ffb911"/><stop offset="0.674" stop-color="#ffa000"/><stop offset="0.761" stop-color="#ff7900"/><stop offset="0.788" stop-color="#ff6700"/><stop offset="0.814" stop-color="#ff4c00"/><stop offset="0.859" stop-color="#ff3700"/><stop offset="0.885" stop-color="#ff3800"/><stop offset="0.918" stop-color="#ff4500"/><stop offset="0.950" stop-color="#ff6900"/><stop offset="1.000" stop-color="#ff8300"/></linearGradient><linearGradient id="g88" x2="0" y2="1"><stop offset="0.000" stop-color="#6920e0"/><stop offset="0.033" stop-color="#5d1ee2"/><stop offset="0.078" stop-color="#4018e8"/><stop offset="0.117" stop-color="#2110f0"/><stop offset="0.153" stop-color="#0101fe"/><stop offset="0.179" stop-color="#1426ee"/><stop offset="0.205" stop-color="#2038e8"/><stop offset="0.218" stop-color="#233ce6"/><stop offset="0.241" stop-color="#2039e8"/><stop offset="0.286" stop-color="#0f1ef1"/><stop offset="0.306" stop-color="#0b17f4"/><stop offset="0.309" stop-color="#0c19f3"/><stop offset="0.325" stop-color="#213ae7"/><stop offset="0.345" stop-color="#375ad9"/><stop offset="0.371" stop-color="#2878e8"/><stop offset="0.387" stop-color="#1980f7"/><stop offset="0.404" stop-color="#0197ff"/><stop offset="0.430" stop-color="#00bcff"/><stop offset="0.449" stop-color="#3db4f5"/><stop offset="0.462" stop-color="#78c2ee"/><stop offset="0.469" stop-color="#90c8ec"/><stop offset="0.495" stop-color="#b9ddf0"/><stop offset="0.514" stop-color="#cde7f4"/><stop offset="0.517" stop-color="#fffddc"/><stop offset="0.524" stop-color="#fffabf"/><stop offset="0.530" stop-color="#fff8b1"/><stop offset="0.547" stop-color="#ffeb6e"/><stop offset="0.582" stop-color="#ffd830"/><stop offset="0.618" stop-color="#ffb911"/><stop offset="0.674" stop-color="#ffa000"/><stop offset="0.761" stop-color="#ff7900"/><stop offset="0.788" stop-color="#ff6900"/><stop offset="0.814" stop-color="#ff5000"/><stop offset="0.859" stop-color="#ff3e00"/><stop offset="0.885" stop-color="#ff3f00"/><stop offset="0.918" stop-color="#ff4900"/><stop offset="0.947" stop-color="#ff6800"/><stop offset="1.000" stop-color="#ff8400"/></linearGradient><linearGradient id="g89" x2="0" y2="1"><stop offset="0.000" stop-color="#6920e0"/><stop offset="0.033" stop-color="#5d1ee2"/><stop offset="0.078" stop-color="#3f18e8"/><stop offset="0.117" stop-color="#2110f0"/><stop offset="0.153" stop-color="#0102fe"/><stop offset="0.179" stop-color="#1426ee"/><stop offset="0.205" stop-color="#2038e8"/><stop offset="0.218" stop-color="#233ce6"/><stop offset="0.241" stop-color="#2039e8"/><stop offset="0.286" stop-color="#0f1ef1"/><stop offset="0.306" stop-color="#0b17f4"/><stop offset="0.309" stop-color="#0c19f3"/><stop offset="0.325" stop-color="#213ae7"/><stop offset="0.345" stop-color="#375ad9"/><stop offset="0.371" stop-color="#2878e8"/><stop offset="0.387" stop-color="#1980f7"/><stop offset="0.404" stop-color="#0197ff"/><stop offset="0.430" stop-color="#00bcff"/><stop offset="0.449" stop-color="#3db4f5"/><stop offset="0.462" stop-color="#78c2ee"/><stop offset="0.469" stop-color="#90c8ec"/><stop offset="0.495" stop-color="#b9ddf0"/><stop offset="0.514" stop-color="#cde7f4"/><stop offset="0.517" stop-color="#fffddc"/><stop offset="0.524" stop-color="#fffabf"/><stop offset="0.530" stop-color="#fff8b1"/><stop offset="0.547" stop-color="#ffeb6e"/><stop offset="0.582" stop-color="#ffd830"/><stop offset="0.618" stop-color="#ffb911"/><stop offset="0.674" stop-color="#ffa000"/><stop offset="0.765" stop-color="#ff7800"/><stop offset="0.791" stop-color="#ff6800"/><stop offset="0.814" stop-color="#ff5400"/><stop offset="0.859" stop-color="#ff4600"/><stop offset="0.885" stop-color="#ff4600"/><stop offset="0.918" stop-color="#ff4e00"/><stop offset="0.947" stop-color="#ff6a00"/><stop offset="1.000" stop-color="#ff8400"/></linearGradient></defs><rect x="153.0" y="102.3" width="8.0" height="307.3" fill="url(#g0)"/><rect x="161.0" y="102.3" width="8.0" height="307.3" fill="url(#g1)"/><rect x="169.0" y="102.3" width="8.0" height="307.3" fill="url(#g2)"/><rect x="177.0" y="102.3" width="8.0" height="307.3" fill="url(#g3)"/><rect x="185.0" y="102.3" width="8.0" height="307.3" fill="url(#g4)"/><rect x="193.0" y="102.3" width="8.0" height="307.3" fill="url(#g5)"/><rect x="201.0" y="102.3" width="8.0" height="307.3" fill="url(#g6)"/><rect x="209.0" y="102.3" width="8.0" height="307.3" fill="url(#g7)"/><rect x="217.0" y="102.3" width="8.0" height="307.3" fill="url(#g8)"/><rect x="225.0" y="102.3" width="8.0" height="307.3" fill="url(#g9)"/><rect x="233.0" y="102.3" width="8.0" height="307.3" fill="url(#g10)"/><rect x="241.0" y="102.3" width="8.0" height="307.3" fill="url(#g11)"/><rect x="249.0" y="102.3" width="8.0" height="307.3" fill="url(#g12)"/><rect x="257.0" y="102.3" width="8.0" height="307.3" fill="url(#g13)"/><rect x="265.0" y="102.3" width="8.0" height="307.3" fill="url(#g14)"/><rect x="273.0" y="102.3" width="8.0" height="307.3" fill="url(#g15)"/><rect x="281.0" y="102.3" width="8.0" height="307.3" fill="url(#g16)"/><rect x="289.0" y="102.3" width="8.0" height="307.3" fill="url(#g17)"/><rect x="297.0" y="102.3" width="8.0" height="307.3" fill="url(#g18)"/><rect x="305.0" y="102.3" width="8.0" height="307.3" fill="url(#g19)"/><rect x="313.0" y="102.3" width="8.0" height="307.3" fill="url(#g20)"/><rect x="321.0" y="102.3" width="8.0" height="307.3" fill="url(#g21)"/><rect x="329.0" y="102.3" width="8.0" height="307.3" fill="url(#g22)"/><rect x="337.0" y="102.3" width="8.0" height="307.3" fill="url(#g23)"/><rect x="345.0" y="102.3" width="8.0" height="307.3" fill="url(#g24)"/><rect x="353.0" y="102.3" width="8.0" height="307.3" fill="url(#g25)"/><rect x="361.0" y="102.3" width="8.0" height="307.3" fill="url(#g26)"/><rect x="369.0" y="102.3" width="8.0" height="307.3" fill="url(#g27)"/><rect x="377.0" y="102.3" width="8.0" height="307.3" fill="url(#g28)"/><rect x="385.0" y="102.3" width="8.0" height="307.3" fill="url(#g29)"/><rect x="393.0" y="102.3" width="8.0" height="307.3" fill="url(#g30)"/><rect x="401.0" y="102.3" width="8.0" height="307.3" fill="url(#g31)"/><rect x="409.0" y="102.3" width="8.0" height="307.3" fill="url(#g32)"/><rect x="417.0" y="102.3" width="8.0" height="307.3" fill="url(#g33)"/><rect x="425.0" y="102.3" width="8.0" height="307.3" fill="url(#g34)"/><rect x="433.0" y="102.3" width="8.0" height="307.3" fill="url(#g35)"/><rect x="441.0" y="102.3" width="8.0" height="307.3" fill="url(#g36)"/><rect x="449.0" y="102.3" width="8.0" height="307.3" fill="url(#g37)"/><rect x="457.0" y="102.3" width="8.0" height="307.3" fill="url(#g38)"/><rect x="465.0" y="102.3" width="8.0" height="307.3" fill="url(#g39)"/><rect x="473.0" y="102.3" width="8.0" height="307.3" fill="url(#g40)"/><rect x="481.0" y="102.3" width="8.0" height="307.3" fill="url(#g41)"/><rect x="489.0" y="102.3" width="8.0" height="307.3" fill="url(#g42)"/><rect x="497.0" y="102.3" width="8.0" height="307.3" fill="url(#g43)"/><rect x="505.0" y="102.3" width="8.0" height="307.3" fill="url(#g44)"/><rect x="513.0" y="102.3" width="8.0" height="307.3" fill="url(#g45)"/><rect x="521.0" y="102.3" width="8.0" height="307.3" fill="url(#g46)"/><rect x="529.0" y="102.3" width="8.0" height="307.3" fill="url(#g47)"/><rect x="537.0" y="102.3" width="8.0" height="307.3" fill="url(#g48)"/><rect x="545.0" y="102.3" width="8.0" height="307.3" fill="url(#g49)"/><rect x="553.0" y="102.3" width="8.0" height="307.3" fill="url(#g50)"/><rect x="561.0" y="102.3" width="8.0" height="307.3" fill="url(#g51)"/><rect x="569.0" y="102.3" width="8.0" height="307.3" fill="url(#g52)"/><rect x="577.0" y="102.3" width="8.0" height="307.3" fill="url(#g53)"/><rect x="585.0" y="102.3" width="8.0" height="307.3" fill="url(#g54)"/><rect x="593.0" y="102.3" width="8.0" height="307.3" fill="url(#g55)"/><rect x="601.0" y="102.3" width="8.0" height="307.3" fill="url(#g56)"/><rect x="609.0" y="102.3" width="8.0" height="307.3" fill="url(#g57)"/><rect x="617.0" y="102.3" width="8.0" height="307.3" fill="url(#g58)"/><rect x="625.0" y="102.3" width="8.0" height="307.3" fill="url(#g59)"/><rect x="633.0" y="102.3" width="8.0" height="307.3" fill="url(#g60)"/><rect x="641.0" y="102.3" width="8.0" height="307.3" fill="url(#g61)"/><rect x="649.0" y="102.3" width="8.0" height="307.3" fill="url(#g62)"/><rect x="657.0" y="102.3" width="8.0" height="307.3" fill="url(#g63)"/><rect x="665.0" y="102.3" width="8.0" height="307.3" fill="url(#g64)"/><rect x="673.0" y="102.3" width="8.0" height="307.3" fill="url(#g65)"/><rect x="681.0" y="102.3" width="8.0" height="307.3" fill="url(#g66)"/><rect x="689.0" y="102.3" width="8.0" height="307.3" fill="url(#g67)"/><rect x="697.0" y="102.3" width="8.0" height="307.3" fill="url(#g68)"/><rect x="705.0" y="102.3" width="8.0" height="307.3" fill="url(#g69)"/><rect x="713.0" y="102.3" width="8.0" height="307.3" fill="url(#g70)"/><rect x="721.0" y="102.3" width="8.0" height="307.3" fill="url(#g71)"/><rect x="729.0" y="102.3" width="8.0" height="307.3" fill="url(#g72)"/><rect x="737.0" y="102.3" width="8.0" height="307.3" fill="url(#g73)"/><rect x="745.0" y="102.3" width="8.0" height="307.3" fill="url(#g74)"/><rect x="753.0" y="102.3" width="8.0" height="307.3" fill="url(#g75)"/><rect x="761.0" y="102.3" width="8.0" height="307.3" fill="url(#g76)"/><rect x="769.0" y="102.3" width="8.0" height="307.3" fill="url(#g77)"/><rect x="777.0" y="102.3" width="8.0" height="307.3" fill="url(#g78)"/><rect x="785.0" y="102.3" width="8.0" height="307.3" fill="url(#g79)"/><rect x="793.0" y="102.3" width="8.0" height="307.3" fill="url(#g80)"/><rect x="801.0" y="102.3" width="8.0" height="307.3" fill="url(#g81)"/><rect x="809.0" y="102.3" width="8.0" height="307.3" fill="url(#g82)"/><rect x="817.0" y="102.3" width="8.0" height="307.3" fill="url(#g83)"/><rect x="825.0" y="102.3" width="8.0" height="307.3" fill="url(#g84)"/><rect x="833.0" y="102.3" width="8.0" height="307.3" fill="url(#g85)"/><rect x="841.0" y="102.3" width="8.0" height="307.3" fill="url(#g86)"/><rect x="849.0" y="102.3" width="8.0" height="307.3" fill="url(#g87)"/><rect x="857.0" y="102.3" width="8.0" height="307.3" fill="url(#g88)"/><rect x="865.0" y="102.3" width="5.5" height="307.3" fill="url(#g89)"/><clipPath id="pc"><rect x="153.5" y="102.3" width="717.0" height="307.3"/></clipPath><path d="M153.5 111.5 157.5 111.5 161.5 111.5 165.5 111.5 169.5 111.5 173.5 111.5 177.5 111.5 181.5 111.5 185.5 111.5 189.5 111.5 193.5 111.5 197.5 111.5 201.5 111.5 205.5 111.5 209.5 111.5 213.5 111.5 217.5 111.5 221.5 111.5 225.5 111.5 229.5 111.5 233.5 111.5 237.5 111.5 241.5 111.5 245.5 111.5 249.5 111.4 253.5 111.4 257.5 111.4 261.5 111.4 265.5 111.4 269.5 111.4 273.5 111.4 277.5 111.4 281.5 111.3 285.5 111.3 289.5 111.2 293.5 111.2 297.5 111.2 301.5 111.2 305.5 111.2 309.5 111.2 313.5 111.2 317.5 111.2 321.5 111.2 325.5 111.2 329.5 111.2 333.5 111.2 337.5 111.2 341.5 111.2 345.5 111.3 349.5 111.3 353.5 111.4 357.5 111.4 361.5 111.4 365.5 111.4 369.5 111.4 373.5 111.4 377.5 111.5 381.5 111.5 385.5 111.5 389.5 111.6 393.5 111.6 397.5 111.6 401.5 111.6 405.5 111.7 409.5 111.7 413.5 111.7 417.5 111.7 421.5 111.7 425.5 111.7 429.5 111.7 433.5 111.7 437.5 111.7 441.5 111.7 445.5 111.8 449.5 111.8 453.5 111.8 457.5 111.8 461.5 111.8 465.5 111.8 469.5 111.8 473.5 111.8 477.5 111.8 481.5 111.8 485.5 111.8 489.5 111.8 493.5 111.9 497.5 111.9 501.5 111.9 505.5 111.9 509.5 111.9 513.5 111.9 517.5 111.9 521.5 111.9 525.5 111.9 529.5 111.9 533.5 111.9 537.5 111.9 541.5 111.9 545.5 111.9 549.5 111.9 553.5 111.9 557.5 111.9 561.5 111.9 565.5 111.9 569.5 111.9 573.5 111.9 577.5 111.9 581.5 111.9 585.5 111.9 589.5 111.9 593.5 112.0 597.5 112.0 601.5 112.0 605.5 112.0 609.5 112.0 613.5 112.0 617.5 112.0 621.5 112.1 625.5 112.1 629.5 112.1 633.5 112.1 637.5 112.1 641.5 112.1 645.5 112.1 649.5 112.1 653.5 112.1 657.5 112.1 661.5 112.1 665.5 112.1 669.5 112.1 673.5 112.1 677.5 112.1 681.5 112.1 685.5 112.1 689.5 112.1 693.5 112.1 697.5 112.1 701.5 112.1 705.5 112.1 709.5 112.1 713.5 112.1 717.5 112.1 721.5 112.1 725.5 112.1 729.5 112.1 733.5 112.1 737.5 112.1 741.5 112.0 745.5 112.0 749.5 112.0 753.5 112.0 757.5 112.0 761.5 112.0 765.5 112.0 769.5 112.0 773.5 112.0 777.5 112.0 781.5 112.0 785.5 112.0 789.5 112.0 793.5 112.0 797.5 112.0 801.5 111.9 805.5 111.9 809.5 111.9 813.5 111.9 817.5 111.9 821.5 111.9 825.5 111.9 829.5 111.9 833.5 111.9 837.5 111.9 841.5 111.9 845.5 111.9 849.5 111.8 853.5 111.8 857.5 111.8 861.5 111.8 865.5 111.8 869.5 111.8 869.5 111.8M153.5 121.6 157.5 121.6 161.5 121.6 165.5 121.6 169.5 121.6 173.5 121.6 177.5 121.6 181.5 121.6 185.5 121.6 189.5 121.6 193.5 121.6 197.5 121.6 201.5 121.6 205.5 121.6 209.5 121.6 213.5 121.6 217.5 121.6 221.5 121.5 225.5 121.5 229.5 121.4 233.5 121.3 237.5 121.3 241.5 121.2 245.5 121.1 249.5 121.1 253.5 121.0 257.5 121.0 261.5 121.0 265.5 121.0 269.5 120.9 273.5 120.7 277.5 120.6 281.5 120.4 285.2 120.3 287.5 120.2 291.5 120.1 295.5 120.0 299.5 120.0 303.5 120.0 307.5 120.0 311.5 120.0 315.5 120.0 319.5 120.0 323.5 120.0 327.5 120.0 331.5 120.0 335.5 120.1 339.5 120.2 341.5 120.3 345.5 120.5 349.5 120.8 353.5 121.0 357.5 121.2 361.5 121.4 365.5 121.6 369.5 121.6 373.5 121.7 377.5 121.8 381.5 122.1 383.5 122.3 387.5 122.8 391.5 123.3 395.5 123.9 398.7 124.3 401.5 124.7 405.5 125.1 409.5 125.5 413.5 125.8 417.5 126.0 421.5 126.0 425.5 126.1 429.5 126.2 432.7 126.3 435.5 126.4 439.5 126.7 443.5 126.9 447.5 127.2 451.5 127.5 455.5 127.8 459.5 128.1 463.3 128.3 465.5 128.4 469.5 128.6 473.5 128.7 477.5 128.8 481.5 128.8 485.5 129.1 489.5 129.7 493.0 130.3 495.5 130.8 499.5 131.6 503.5 132.2 505.5 132.4 509.5 132.6 513.5 132.6 517.5 132.6 521.5 132.6 525.5 132.6 529.5 132.6 533.5 132.6 537.5 132.6 541.5 132.6 545.5 132.6 549.5 132.6 553.5 132.6 557.5 132.6 561.5 132.6 565.5 132.7 569.5 133.0 573.5 133.4 577.5 133.8 581.5 134.3 583.5 134.5 587.5 134.9 591.5 135.3 595.5 135.5 599.5 135.6 603.5 135.9 605.5 136.3 609.5 137.8 611.5 138.7 614.5 140.3 617.5 142.1 619.5 143.4 621.5 144.7 624.2 146.3 627.5 148.2 629.5 149.2 632.2 150.3 635.5 151.3 639.5 151.8 643.5 151.8 647.5 151.8 651.5 151.8 655.5 151.8 659.5 151.8 663.5 151.8 667.5 151.8 671.5 151.8 675.5 151.8 679.5 151.8 683.5 151.8 687.5 151.8 691.5 151.8 695.5 151.8 699.5 151.8 703.5 151.7 707.5 151.3 711.5 150.7 713.7 150.3 717.5 149.4 721.5 148.3 723.5 147.7 727.5 146.5 729.5 145.9 733.5 144.6 735.5 144.0 739.5 142.8 741.5 142.2 745.5 141.3 749.5 140.5 751.5 140.2 755.5 139.8 759.5 139.6 763.5 139.6 767.5 139.4 771.5 139.1 775.5 138.7 779.2 138.3 781.5 138.0 785.5 137.5 789.5 136.9 793.4 136.3 795.5 136.0 799.5 135.5 803.5 135.0 807.5 134.6 811.1 134.3 813.5 134.2 817.5 134.0 821.5 134.0 825.5 133.8 829.5 133.4 833.5 132.9 837.5 132.4 839.5 132.2 843.5 131.8 847.5 131.5 851.5 131.4 855.5 131.3 859.5 131.1 863.5 130.9 867.5 130.7 869.5 130.7M153.5 132.4 157.5 132.4 161.5 132.4 165.5 132.4 169.5 132.4 173.5 132.4 177.5 132.4 181.5 132.4 185.5 132.4 189.5 132.4 193.5 132.4 197.5 132.4 201.5 132.4 205.5 132.4 209.5 132.4 213.5 132.4 217.5 132.4 221.5 132.5 225.5 132.5 229.5 132.6 233.5 132.7 237.5 132.7 241.5 132.8 245.5 132.9 249.5 132.9 253.5 133.0 257.5 133.0 261.5 133.0 265.5 133.1 269.5 133.3 273.5 133.5 277.5 133.8 281.5 134.1 283.9 134.3 287.5 134.6 291.5 134.8 295.5 134.9 299.5 135.0 303.5 135.0 307.5 135.0 311.5 135.0 315.5 135.0 319.5 135.0 323.5 135.0 327.5 135.0 331.5 135.0 335.5 135.0 339.5 135.1 343.5 135.1 347.5 135.2 351.5 135.2 355.5 135.3 359.5 135.3 363.5 135.4 367.5 135.4 371.5 135.4 375.5 135.6 379.5 135.9 383.1 136.3 385.5 136.6 389.5 137.3 393.5 137.9 395.6 138.3 399.5 139.0 403.5 139.6 407.5 140.2 409.5 140.4 413.5 140.8 417.5 141.0 421.5 141.0 425.5 141.0 429.5 141.1 433.5 141.3 437.5 141.4 441.5 141.6 445.5 141.8 449.5 142.1 453.5 142.3 455.5 142.4 459.5 142.6 463.5 142.8 467.5 143.0 471.5 143.1 475.5 143.2 479.5 143.2 483.5 143.4 487.5 144.1 489.5 144.6 493.5 145.8 495.5 146.5 499.5 147.7 501.7 148.3 505.5 149.1 509.5 149.4 513.5 149.4 517.5 149.4 521.5 149.4 525.5 149.4 529.5 149.4 533.5 149.4 537.5 149.4 541.5 149.4 545.5 149.4 549.5 149.4 553.5 149.4 557.5 149.4 561.5 149.4 565.5 149.5 569.5 149.8 573.5 150.2 575.5 150.4 579.5 150.8 583.5 151.3 587.5 151.7 591.5 152.1 595.4 152.3 597.5 152.4 601.5 152.4 605.5 152.9 609.5 153.8 611.5 154.5 615.5 155.9 617.5 156.7 621.2 158.3 623.5 159.3 626.1 160.3 629.5 161.5 632.6 162.3 635.5 162.9 639.5 163.2 643.5 163.2 647.5 163.2 651.5 163.2 655.5 163.2 659.5 163.2 663.5 163.2 667.5 163.2 671.5 163.2 675.5 163.2 679.5 163.2 683.5 163.2 687.5 163.2 691.5 163.2 695.5 163.2 699.5 163.2 703.5 163.1 707.5 162.8 711.5 162.3 713.5 162.0 717.5 161.3 721.5 160.4 723.5 159.9 727.5 158.9 730.0 158.3 733.5 157.4 737.5 156.4 739.5 156.0 743.5 155.1 747.5 154.4 749.5 154.1 753.5 153.7 757.5 153.4 761.5 153.4 765.5 153.4 769.5 153.3 773.5 153.2 777.5 153.1 781.5 153.0 785.5 152.9 789.5 152.7 793.5 152.6 797.5 152.4 801.1 152.3 803.5 152.2 807.5 152.1 811.5 152.0 815.5 151.8 819.5 151.6 823.5 151.3 827.5 150.9 831.5 150.4 833.5 150.0 837.5 149.3 841.5 148.7 843.7 148.3 847.5 147.7 851.5 147.2 855.5 146.8 859.5 146.6 863.5 146.4 867.5 146.4 869.5 146.4M869.5 189.9 865.5 190.1 861.5 190.0 857.5 189.4 853.9 188.3 851.5 187.4 849.3 186.3 846.1 184.3 843.8 182.3 842.1 180.3 840.8 178.3 839.6 174.3 839.8 170.3 841.4 166.3 842.8 164.3 844.7 162.3 847.3 160.3 849.5 159.0 851.5 158.0 855.4 156.3 857.5 155.9 861.5 155.5 865.5 155.4 869.5 155.6 869.5 155.6M153.5 187.7 157.5 187.7 161.5 187.7 165.5 187.7 169.5 187.7 173.5 187.7 177.5 187.7 181.5 187.7 185.5 187.7 189.5 187.7 193.5 187.7 197.5 187.7 201.5 187.7 205.5 187.7 209.5 187.7 213.5 187.8 217.5 187.8 221.5 187.8 225.5 187.8 229.5 187.8 233.5 187.8 237.5 187.8 241.5 187.8 245.5 187.8 249.5 187.8 253.5 187.8 257.5 187.8 261.5 187.8 265.5 187.5 269.5 186.8 271.7 186.3 275.5 185.3 278.9 184.3 281.5 183.5 285.5 182.4 287.5 181.9 291.5 181.0 295.5 180.4 297.5 180.2 301.5 180.1 305.5 180.2 309.5 180.2 313.5 180.2 317.5 180.2 321.5 180.2 325.5 180.2 329.5 180.2 331.6 180.3 335.5 181.1 338.5 182.3 341.5 183.9 343.5 185.2 345.5 186.5 347.9 188.3 350.5 190.3 353.2 192.3 355.5 193.9 357.5 195.3 359.5 196.5 363.4 198.3 365.5 199.0 369.5 199.6 373.5 199.6 377.5 199.7 381.5 199.8 385.5 200.0 389.5 200.2 391.5 200.3 395.5 200.5 399.5 200.8 403.5 201.0 407.5 201.2 411.5 201.3 415.5 201.4 419.5 201.4 423.5 201.3 427.5 201.0 431.5 200.4 433.5 200.0 437.5 199.2 440.8 198.3 443.5 197.5 447.5 196.4 449.5 195.7 453.5 194.5 455.5 193.9 459.5 192.8 461.5 192.3 465.5 191.3 469.5 190.6 471.5 190.3 475.5 189.9 479.5 189.7 483.5 189.4 487.5 188.4 489.5 187.7 492.9 186.3 495.5 185.1 497.5 184.2 501.5 182.6 503.5 182.0 507.5 181.2 511.5 181.0 515.5 181.3 519.5 181.7 522.7 182.3 525.5 182.9 529.5 183.8 531.5 184.4 535.5 185.4 538.8 186.3 541.5 187.0 545.5 187.9 547.5 188.3 551.5 189.0 555.5 189.4 559.5 189.6 563.5 189.7 567.5 190.1 569.5 190.5 573.5 191.3 577.5 192.3 579.5 192.8 583.5 193.9 585.5 194.4 589.5 195.3 593.5 195.9 597.5 196.3 599.5 196.4 603.5 196.4 607.5 196.4 611.5 196.4 615.5 196.4 619.5 196.4 623.5 196.4 627.5 196.4 631.5 196.4 635.5 196.4 639.5 196.4 643.5 196.4 646.1 196.3 649.5 196.1 653.5 195.9 657.5 195.6 661.5 195.3 665.5 194.9 669.5 194.5 671.5 194.3 675.5 193.9 679.5 193.5 683.5 193.2 687.5 192.9 691.5 192.7 695.5 192.5 699.5 192.5 703.5 192.5 707.5 192.5 711.5 192.5 715.5 192.5 719.5 192.5 723.5 192.5 727.5 192.5 731.5 192.5 735.5 192.5 739.5 192.5 743.5 192.6 747.5 192.6 751.5 192.6 755.5 192.6 759.5 192.6 763.5 192.6 767.5 192.6 771.5 192.6 775.5 192.6 779.5 192.6 783.5 192.6 787.5 192.6 791.5 192.6 795.5 192.6 799.5 192.6 803.5 192.6 807.5 192.6 811.5 192.6 815.5 192.6 819.5 192.6 823.5 192.7 827.5 193.3 831.4 194.3 833.5 194.9 837.5 196.0 839.5 196.6 843.5 197.6 847.5 198.0 851.5 198.0 855.5 197.9 859.5 197.9 863.5 197.8 867.5 197.8 869.5 197.8M867.5 172.8 863.5 173.2 861.5 171.7 861.5 170.0 865.5 168.4 868.6 170.3 867.5 172.8 867.5 172.8M153.5 192.9 157.5 192.9 161.5 192.9 165.5 192.9 169.5 192.9 173.5 192.9 177.5 192.9 181.5 193.0 185.5 193.0 189.5 193.0 193.5 193.0 197.5 193.0 201.5 193.0 205.5 193.0 209.5 193.0 213.5 193.0 217.5 193.0 221.5 193.0 225.5 193.1 229.5 193.1 233.5 193.1 237.5 193.2 241.5 193.2 245.5 193.2 249.5 193.3 253.5 193.3 257.5 193.3 261.5 193.3 265.5 193.0 269.5 192.4 271.5 192.0 275.5 191.1 278.6 190.3 281.5 189.5 285.5 188.5 287.5 188.1 291.5 187.3 295.5 186.8 299.5 186.6 303.5 186.6 307.5 186.6 311.5 186.7 315.5 186.7 319.5 186.8 323.5 186.8 327.5 186.9 331.5 186.9 335.5 187.7 337.5 188.3 341.5 190.2 343.5 191.3 345.5 192.6 348.1 194.3 351.1 196.3 353.5 197.9 355.5 199.2 357.5 200.4 361.3 202.3 363.5 203.1 367.5 204.1 371.5 204.3 375.5 204.3 377.5 204.3 381.5 204.4 385.5 204.6 389.5 204.8 393.5 204.9 397.5 205.1 401.5 205.3 405.5 205.5 409.5 205.6 413.5 205.7 417.5 205.8 421.5 205.8 425.5 205.6 429.5 205.1 433.5 204.5 435.5 204.1 439.5 203.2 443.0 202.3 445.5 201.6 449.5 200.5 451.5 199.9 455.5 198.8 457.5 198.3 461.5 197.3 465.5 196.4 467.5 196.0 471.5 195.4 475.5 195.1 479.5 194.9 483.5 194.6 485.5 194.3 489.5 193.1 491.7 192.3 495.5 190.8 497.5 189.9 501.5 188.5 503.5 187.9 507.5 187.2 511.5 187.0 515.5 187.2 519.5 187.7 523.5 188.3 525.5 188.6 529.5 189.4 533.3 190.3 535.5 190.8 539.5 191.7 542.3 192.3 545.5 192.9 549.5 193.6 553.5 194.0 557.5 194.3 559.5 194.3 563.5 194.5 567.5 194.9 571.5 195.5 575.4 196.3 577.5 196.8 581.5 197.7 583.9 198.3 587.5 199.1 591.5 199.8 595.5 200.2 597.5 200.4 601.5 200.4 605.5 200.4 609.5 200.4 613.5 200.5 617.5 200.5 621.5 200.5 625.5 200.5 629.5 200.6 633.5 200.6 637.5 200.6 641.5 200.6 645.5 200.5 649.5 200.4 651.5 200.3 655.5 200.0 659.5 199.7 663.5 199.4 667.5 199.0 671.5 198.6 675.2 198.3 677.5 198.1 681.5 197.8 685.5 197.5 689.5 197.2 693.5 197.1 697.5 197.0 701.5 197.0 705.5 197.0 709.5 197.0 713.5 197.0 717.5 197.0 721.5 197.1 725.5 197.1 729.5 197.1 733.5 197.1 737.5 197.2 741.5 197.2 745.5 197.2 749.5 197.2 753.5 197.2 757.5 197.3 761.5 197.3 765.5 197.3 769.5 197.3 773.5 197.3 777.5 197.3 781.5 197.3 785.5 197.3 789.5 197.3 793.5 197.4 797.5 197.4 801.5 197.4 805.5 197.4 809.5 197.4 813.5 197.4 817.5 197.4 821.5 197.4 825.5 197.8 828.0 198.3 831.5 199.1 835.5 200.3 837.5 200.8 841.5 201.9 843.8 202.3 847.5 202.8 851.5 202.8 855.5 202.8 859.5 202.8 863.5 202.8 867.5 202.8 869.5 202.8M153.5 198.2 157.5 198.2 161.5 198.2 165.5 198.2 169.5 198.2 173.5 198.3 177.5 198.3 181.5 198.3 183.5 198.3 187.5 198.3 191.5 198.3 195.5 198.4 199.5 198.4 203.5 198.4 207.5 198.4 211.5 198.4 215.5 198.4 219.5 198.4 223.5 198.5 227.5 198.5 231.5 198.6 235.5 198.6 239.5 198.7 243.5 198.7 247.5 198.8 251.5 198.8 255.5 198.9 259.5 198.9 263.5 198.8 267.5 198.4 269.5 198.1 273.5 197.4 277.5 196.6 279.5 196.1 283.5 195.3 287.5 194.4 289.5 194.1 293.5 193.5 297.5 193.2 301.5 193.2 305.5 193.2 309.5 193.3 313.5 193.4 317.5 193.5 321.5 193.6 325.5 193.6 329.5 193.7 333.5 194.0 335.5 194.4 339.5 195.7 341.5 196.6 344.8 198.3 347.5 199.9 349.5 201.1 351.6 202.3 355.0 204.3 357.5 205.6 359.5 206.6 363.5 208.1 365.5 208.6 369.5 209.0 373.5 209.1 377.5 209.1 381.5 209.2 385.5 209.3 389.5 209.4 393.5 209.6 397.5 209.7 401.5 209.9 405.5 210.0 409.5 210.1 413.5 210.2 417.5 210.2 421.5 210.2 425.5 210.0 429.5 209.6 433.5 209.0 437.4 208.3 439.5 207.8 443.5 206.9 445.9 206.3 449.5 205.4 453.5 204.3 455.5 203.8 459.5 202.8 461.9 202.3 465.5 201.6 469.5 200.9 473.5 200.5 476.5 200.3 479.5 200.2 483.5 200.0 487.5 199.2 490.5 198.3 493.5 197.2 496.1 196.3 499.5 195.1 502.2 194.3 505.5 193.6 509.5 193.2 513.5 193.3 517.5 193.5 521.5 193.9 524.1 194.3 527.5 194.8 531.5 195.5 535.5 196.3 537.5 196.7 541.5 197.4 545.5 198.1 547.5 198.3 551.5 198.8 555.5 199.1 559.5 199.2 563.5 199.3 567.5 199.7 571.5 200.2 573.5 200.6 577.5 201.4 581.5 202.2 583.5 202.6 587.5 203.4 591.5 204.0 594.3 204.3 597.5 204.5 601.5 204.6 605.5 204.6 609.5 204.6 613.5 204.7 617.5 204.7 621.5 204.8 625.5 204.8 629.5 204.8 633.5 204.9 637.5 204.9 641.5 204.9 645.5 204.8 649.5 204.7 653.5 204.5 656.7 204.3 659.5 204.1 663.5 203.8 667.5 203.4 671.5 203.1 675.5 202.8 679.5 202.4 681.5 202.3 685.5 202.0 689.5 201.8 693.5 201.7 697.5 201.6 701.5 201.6 705.5 201.6 709.5 201.6 713.5 201.6 717.5 201.7 721.5 201.7 725.5 201.7 729.5 201.8 733.5 201.9 737.5 201.9 741.5 201.9 745.5 202.0 749.5 202.0 753.5 202.0 757.5 202.1 761.5 202.1 765.5 202.1 769.5 202.1 773.5 202.1 777.5 202.1 781.5 202.1 785.5 202.2 789.5 202.2 793.5 202.3 797.5 202.3 799.7 202.3 803.5 202.3 807.5 202.3 811.5 202.4 815.5 202.4 819.5 202.4 823.5 202.5 827.5 203.1 831.5 204.0 833.5 204.5 837.5 205.6 840.3 206.3 843.5 206.9 847.5 207.4 851.5 207.5 855.5 207.5 859.5 207.5 863.5 207.5 867.5 207.5 869.5 207.5M153.5 203.8 157.5 203.8 161.5 203.8 165.5 203.8 169.5 203.8 173.5 203.8 177.5 203.9 181.5 203.9 185.5 203.9 189.5 203.9 193.5 204.0 197.5 204.0 201.5 204.0 205.5 204.0 209.5 204.0 213.5 204.0 217.5 204.0 221.5 204.1 225.5 204.2 229.5 204.2 232.3 204.3 235.5 204.4 239.5 204.5 243.5 204.5 247.5 204.6 251.5 204.7 255.5 204.7 259.5 204.7 263.5 204.6 267.5 204.3 269.5 204.1 273.5 203.5 277.5 202.9 280.6 202.3 283.5 201.8 287.5 201.1 291.5 200.6 294.5 200.3 297.5 200.1 301.5 200.1 305.5 200.1 309.5 200.2 311.5 200.3 315.5 200.5 319.5 200.6 323.5 200.7 327.5 200.8 331.5 200.8 335.5 201.4 338.7 202.3 341.5 203.3 343.7 204.3 347.5 206.1 349.5 207.2 351.7 208.3 355.5 210.2 357.5 211.1 360.5 212.3 363.5 213.2 367.5 214.0 371.5 214.1 375.5 214.1 379.5 214.1 383.5 214.2 387.5 214.3 389.5 214.3 393.5 214.4 397.5 214.5 401.5 214.6 405.5 214.7 409.5 214.8 413.5 214.8 417.5 214.9 421.5 214.9 425.5 214.7 429.5 214.3 431.5 214.1 435.5 213.5 439.5 212.7 441.5 212.3 445.5 211.4 449.5 210.4 451.5 210.0 455.5 209.0 458.8 208.3 461.5 207.7 465.5 207.0 469.5 206.4 471.5 206.2 475.5 205.9 479.5 205.8 483.5 205.6 487.5 204.9 489.7 204.3 493.5 203.2 496.3 202.3 499.5 201.3 503.5 200.3 505.5 200.0 509.5 199.6 513.5 199.7 517.5 199.9 521.5 200.2 523.5 200.4 527.5 200.9 531.5 201.5 535.5 202.1 537.5 202.3 541.5 202.9 545.5 203.4 549.5 203.8 553.5 204.1 557.5 204.3 559.5 204.3 563.5 204.4 567.5 204.7 571.5 205.2 575.5 205.8 578.2 206.3 581.5 206.9 585.5 207.6 589.5 208.2 591.5 208.4 595.5 208.8 599.5 208.9 603.5 208.9 607.5 209.0 611.5 209.0 615.5 209.1 619.5 209.2 623.5 209.2 627.5 209.3 631.5 209.3 635.5 209.4 639.5 209.4 643.5 209.4 647.5 209.3 651.5 209.1 655.5 208.9 659.5 208.7 663.5 208.4 665.5 208.2 669.5 207.9 673.5 207.6 677.5 207.3 681.5 207.0 685.5 206.8 689.5 206.6 693.5 206.4 697.5 206.4 701.5 206.4 705.5 206.4 709.5 206.4 713.5 206.4 717.5 206.5 721.5 206.6 725.5 206.6 729.5 206.7 733.5 206.8 737.5 206.9 741.5 206.9 745.5 207.0 749.5 207.0 753.5 207.1 757.5 207.1 761.5 207.1 765.5 207.1 769.5 207.1 773.5 207.1 777.5 207.2 781.5 207.2 785.5 207.3 789.5 207.3 793.5 207.4 797.5 207.4 801.5 207.5 805.5 207.5 809.5 207.5 813.5 207.5 817.5 207.6 821.5 207.6 825.5 207.9 827.7 208.3 831.5 209.1 835.5 210.1 837.5 210.6 841.5 211.5 845.5 212.1 848.3 212.3 851.5 212.3 855.5 212.3 859.5 212.3 863.5 212.3 867.5 212.3 869.5 212.3M153.5 208.9 157.5 208.9 161.5 208.9 165.5 208.9 169.5 208.9 173.5 208.9 177.5 209.0 181.5 209.0 185.5 209.0 189.5 209.1 193.5 209.1 197.5 209.1 201.5 209.2 205.5 209.2 209.5 209.2 213.5 209.2 217.5 209.2 221.5 209.3 225.5 209.4 229.5 209.5 233.5 209.6 237.5 209.7 241.5 209.8 245.5 209.9 249.5 210.0 253.5 210.0 257.5 210.1 261.5 210.1 265.5 209.9 269.5 209.6 273.5 209.2 277.5 208.6 279.7 208.3 283.5 207.8 287.5 207.2 291.5 206.8 295.5 206.5 299.5 206.4 303.5 206.4 307.5 206.6 311.5 206.7 315.5 206.9 319.5 207.1 323.5 207.2 327.5 207.3 331.5 207.4 335.5 207.9 337.5 208.3 341.5 209.5 343.6 210.3 347.5 211.9 349.5 212.8 352.9 214.3 355.5 215.4 357.9 216.3 361.5 217.5 365.3 218.3 367.5 218.6 371.5 218.7 375.5 218.7 379.5 218.7 383.5 218.8 387.5 218.8 391.5 218.9 395.5 218.9 399.5 219.0 403.5 219.0 407.5 219.1 411.5 219.1 415.5 219.1 419.5 219.2 423.5 219.1 427.5 218.8 431.5 218.4 433.5 218.1 437.5 217.5 441.5 216.8 443.9 216.3 447.5 215.5 451.5 214.7 453.5 214.2 457.5 213.4 461.5 212.7 463.6 212.3 467.5 211.7 471.5 211.3 475.5 211.0 479.5 210.9 483.5 210.7 486.3 210.3 489.5 209.7 493.5 208.6 495.5 208.1 499.5 207.0 502.8 206.3 505.5 205.9 509.5 205.6 513.5 205.6 517.5 205.8 521.5 206.0 525.3 206.3 527.5 206.5 531.5 206.9 535.5 207.3 539.5 207.8 543.5 208.2 545.5 208.3 549.5 208.6 553.5 208.9 557.5 209.0 561.5 209.0 565.5 209.2 569.5 209.5 573.5 210.0 575.6 210.3 579.5 210.9 583.5 211.5 587.5 212.0 589.6 212.3 593.5 212.7 597.5 212.9 601.5 212.9 605.5 212.9 609.5 213.0 613.5 213.1 617.5 213.2 621.5 213.3 625.5 213.4 629.5 213.4 633.5 213.5 637.5 213.5 641.5 213.5 645.5 213.5 649.5 213.4 653.5 213.2 657.5 213.0 661.5 212.7 665.5 212.5 667.9 212.3 671.5 212.0 675.5 211.7 679.5 211.5 683.5 211.3 687.5 211.1 691.5 210.9 695.5 210.8 699.5 210.8 703.5 210.8 707.5 210.8 711.5 210.9 715.5 210.9 719.5 211.0 723.5 211.1 727.5 211.2 731.5 211.3 735.5 211.4 739.5 211.5 743.5 211.5 747.5 211.6 751.5 211.6 755.5 211.7 759.5 211.7 763.5 211.7 767.5 211.7 771.5 211.7 775.5 211.8 779.5 211.8 783.5 211.9 787.5 211.9 791.5 212.0 795.5 212.1 799.5 212.1 803.5 212.2 807.5 212.2 811.5 212.3 814.5 212.3 817.5 212.3 821.5 212.3 825.5 212.7 829.5 213.3 833.5 214.2 835.5 214.7 839.5 215.5 843.5 216.3 845.5 216.5 849.5 216.8 853.5 216.8 857.5 216.8 861.5 216.8 865.5 216.8 869.5 216.8 869.5 216.8M153.5 213.1 157.5 213.1 161.5 213.1 165.5 213.1 169.5 213.1 173.5 213.2 177.5 213.2 181.5 213.2 185.5 213.3 189.5 213.3 193.5 213.3 197.5 213.4 201.5 213.4 205.5 213.4 209.5 213.4 213.5 213.4 217.5 213.5 221.5 213.6 225.5 213.7 229.5 213.8 233.5 213.9 237.5 214.1 241.5 214.2 245.5 214.3 247.5 214.4 251.5 214.4 255.5 214.5 259.5 214.5 263.5 214.5 267.0 214.3 269.5 214.1 273.5 213.8 277.5 213.4 281.5 212.9 285.5 212.5 287.5 212.3 291.5 211.9 295.5 211.7 299.5 211.6 303.5 211.7 307.5 211.8 311.5 212.0 315.5 212.2 317.5 212.3 321.5 212.5 325.5 212.7 329.5 212.7 333.5 212.9 337.5 213.6 340.5 214.3 343.5 215.2 346.5 216.3 349.5 217.4 351.8 218.3 355.5 219.7 357.5 220.3 361.5 221.4 365.5 222.2 367.5 222.4 371.5 222.5 375.5 222.5 379.5 222.5 383.5 222.5 387.5 222.5 391.5 222.6 395.5 222.6 399.5 222.6 403.5 222.6 407.5 222.6 411.5 222.7 415.5 222.7 419.5 222.7 423.5 222.6 427.5 222.4 429.5 222.2 433.5 221.8 437.5 221.2 441.5 220.5 443.5 220.1 447.5 219.4 451.5 218.6 453.5 218.2 457.5 217.4 461.5 216.7 464.1 216.3 467.5 215.8 471.5 215.4 475.5 215.2 479.5 215.1 483.5 214.9 487.5 214.4 489.5 214.0 493.5 213.1 496.9 212.3 499.5 211.7 503.5 211.0 507.5 210.5 511.5 210.4 515.5 210.5 519.5 210.6 523.5 210.8 527.5 211.1 531.5 211.4 535.5 211.7 539.5 212.0 543.5 212.3 545.5 212.4 549.5 212.6 553.5 212.8 557.5 212.8 561.5 212.9 565.5 213.0 569.5 213.3 573.5 213.7 577.5 214.2 579.5 214.5 583.5 215.0 587.5 215.5 591.5 215.8 595.5 216.1 599.5 216.2 603.5 216.2 607.5 216.3 609.5 216.3 613.5 216.4 617.5 216.5 621.5 216.6 625.5 216.7 629.5 216.8 633.5 216.9 637.5 216.9 641.5 216.9 645.5 216.9 649.5 216.8 653.5 216.6 657.5 216.4 660.0 216.3 663.5 216.1 667.5 215.8 671.5 215.6 675.5 215.3 679.5 215.1 683.5 214.8 687.5 214.7 691.5 214.5 695.5 214.4 699.5 214.4 703.5 214.4 707.5 214.4 711.5 214.5 715.5 214.6 719.5 214.7 723.5 214.8 727.5 214.9 731.5 215.0 735.5 215.1 739.5 215.2 743.5 215.3 747.5 215.4 751.5 215.4 755.5 215.5 759.5 215.5 763.5 215.5 767.5 215.5 771.5 215.6 775.5 215.6 779.5 215.7 783.5 215.7 787.5 215.8 791.5 215.9 795.5 216.0 799.5 216.0 803.5 216.1 807.5 216.1 811.5 216.2 815.5 216.2 819.5 216.2 822.4 216.3 825.5 216.6 829.5 217.2 833.5 218.0 835.5 218.4 839.5 219.3 843.5 219.9 847.2 220.3 849.5 220.4 853.5 220.4 857.5 220.4 861.5 220.4 865.5 220.4 869.5 220.4 869.5 220.4M153.5 217.2 157.5 217.3 161.5 217.3 165.5 217.3 169.5 217.3 173.5 217.4 177.5 217.4 181.5 217.5 185.5 217.5 189.5 217.5 193.5 217.6 197.5 217.6 201.5 217.6 205.5 217.7 209.5 217.7 213.5 217.7 217.5 217.7 221.5 217.8 225.5 217.9 229.5 218.1 233.5 218.2 235.5 218.3 239.5 218.5 243.5 218.6 247.5 218.7 251.5 218.8 255.5 218.9 259.5 218.9 263.5 218.9 267.5 218.8 271.5 218.5 274.8 218.3 277.5 218.1 281.5 217.8 285.5 217.5 289.5 217.2 293.5 217.0 297.5 216.9 301.5 216.9 305.5 216.9 309.5 217.1 313.5 217.4 317.5 217.6 321.5 217.9 325.5 218.0 329.5 218.1 333.5 218.3 335.5 218.5 339.5 219.2 343.5 220.2 345.5 220.8 349.5 222.0 351.5 222.7 355.5 223.9 357.5 224.5 361.5 225.4 365.5 226.0 369.5 226.3 373.5 226.3 377.5 226.3 381.5 226.3 385.5 226.3 389.5 226.3 393.5 226.2 397.5 226.2 401.5 226.2 405.5 226.2 409.5 226.2 413.5 226.2 417.5 226.2 421.5 226.2 425.5 226.0 429.5 225.8 433.5 225.3 437.5 224.8 440.9 224.3 443.5 223.9 447.5 223.2 451.5 222.4 453.5 222.1 457.5 221.4 461.5 220.7 464.7 220.3 467.5 220.0 471.5 219.6 475.5 219.3 479.5 219.2 483.5 219.1 487.5 218.7 489.8 218.3 493.5 217.6 497.5 216.8 500.0 216.3 503.5 215.7 507.5 215.4 511.5 215.3 515.5 215.4 519.5 215.4 523.5 215.5 527.5 215.7 531.5 215.9 535.5 216.0 539.5 216.2 541.8 216.3 545.5 216.4 549.5 216.6 553.5 216.7 557.5 216.7 561.5 216.7 565.5 216.8 569.5 217.1 573.5 217.4 577.5 217.8 581.5 218.3 583.5 218.5 587.5 218.9 591.5 219.2 595.5 219.4 599.5 219.5 603.5 219.5 607.5 219.6 611.5 219.6 615.5 219.8 619.5 219.9 623.5 220.0 627.5 220.1 631.5 220.2 635.0 220.3 637.5 220.3 641.5 220.3 644.5 220.3 647.5 220.2 651.5 220.1 655.5 220.0 659.5 219.8 663.5 219.6 667.5 219.3 671.5 219.1 675.5 218.8 679.5 218.6 683.5 218.4 686.5 218.3 689.5 218.2 693.5 218.1 697.5 218.0 701.5 218.0 705.5 218.0 709.5 218.1 713.5 218.2 717.5 218.3 719.5 218.3 723.5 218.4 727.5 218.6 731.5 218.7 735.5 218.8 739.5 219.0 743.5 219.1 747.5 219.2 751.5 219.2 755.5 219.3 759.5 219.3 763.5 219.3 767.5 219.3 771.5 219.4 775.5 219.4 779.5 219.5 783.5 219.6 787.5 219.7 791.5 219.7 795.5 219.8 799.5 219.9 803.5 220.0 807.5 220.0 811.5 220.1 815.5 220.1 819.5 220.1 823.5 220.3 825.5 220.4 829.5 221.0 833.5 221.8 836.1 222.3 839.5 223.0 843.5 223.6 847.5 224.0 851.5 224.0 855.5 224.0 859.5 224.0 863.5 224.0 867.5 224.0 869.5 224.0M153.5 222.6 157.5 222.6 161.5 222.7 165.5 222.7 169.5 222.7 173.5 222.8 177.5 222.8 181.5 222.9 185.5 222.9 189.5 223.0 193.5 223.0 197.5 223.1 201.5 223.1 205.5 223.1 209.5 223.1 213.5 223.1 217.5 223.2 221.5 223.3 225.5 223.5 229.5 223.6 233.5 223.8 237.5 224.0 241.5 224.2 244.9 224.3 247.5 224.4 251.5 224.5 255.5 224.6 259.5 224.6 263.5 224.6 267.5 224.5 271.5 224.4 274.5 224.3 277.5 224.2 281.5 224.0 285.5 223.9 289.5 223.7 293.5 223.6 297.5 223.6 301.5 223.5 305.5 223.7 309.5 223.9 313.5 224.2 315.5 224.3 319.5 224.6 323.5 224.9 327.5 225.0 331.5 225.0 335.5 225.3 339.5 225.8 342.0 226.3 345.5 227.0 349.5 228.0 351.5 228.5 355.5 229.4 359.5 230.2 361.5 230.5 365.5 231.0 369.5 231.2 373.5 231.2 377.5 231.1 381.5 231.1 385.5 231.1 389.5 231.0 393.5 230.9 397.5 230.9 401.5 230.8 405.5 230.8 409.5 230.7 413.5 230.7 417.5 230.7 421.5 230.7 425.5 230.6 429.5 230.3 431.5 230.2 435.5 229.7 439.5 229.2 443.5 228.7 445.9 228.3 449.5 227.7 453.5 227.1 457.5 226.5 459.5 226.2 463.5 225.7 467.5 225.3 471.5 224.9 475.5 224.7 479.5 224.6 483.5 224.5 486.3 224.3 489.5 223.9 493.5 223.3 497.5 222.7 500.3 222.3 503.5 221.9 507.5 221.6 511.5 221.6 515.5 221.6 519.5 221.6 523.5 221.6 527.5 221.6 531.5 221.6 535.5 221.6 539.5 221.6 543.5 221.6 547.5 221.6 551.5 221.7 555.5 221.7 559.5 221.7 563.5 221.7 567.5 221.8 571.5 222.1 575.1 222.3 577.5 222.5 581.5 222.8 585.5 223.1 589.5 223.4 593.5 223.6 597.5 223.7 601.5 223.7 605.5 223.8 609.5 223.8 613.5 224.0 617.5 224.1 621.5 224.3 623.5 224.3 627.5 224.5 631.5 224.6 635.5 224.7 639.5 224.7 643.5 224.7 647.5 224.6 651.5 224.5 655.5 224.4 657.6 224.3 661.5 224.1 665.5 223.9 669.5 223.7 673.5 223.5 677.5 223.3 681.5 223.1 685.5 223.0 689.5 222.8 693.5 222.7 697.5 222.7 701.5 222.7 705.5 222.7 709.5 222.8 713.5 222.9 717.5 223.0 721.5 223.1 725.5 223.2 729.5 223.4 733.5 223.6 737.5 223.7 741.5 223.8 745.5 224.0 749.5 224.1 753.5 224.1 757.5 224.2 761.5 224.2 765.5 224.2 769.5 224.2 773.5 224.3 775.5 224.3 779.5 224.4 783.5 224.5 787.5 224.6 791.5 224.7 795.5 224.8 799.5 224.9 803.5 225.0 807.5 225.1 811.5 225.1 815.5 225.1 819.5 225.2 823.5 225.3 827.5 225.7 831.5 226.3 833.5 226.6 837.5 227.4 841.5 228.0 843.6 228.3 847.5 228.6 851.5 228.7 855.5 228.7 859.5 228.7 863.5 228.7 867.5 228.7 869.5 228.7M153.5 230.4 157.5 230.4 161.5 230.4 165.5 230.4 169.5 230.4 173.5 230.5 177.5 230.5 181.5 230.6 185.5 230.6 189.5 230.7 193.5 230.7 197.5 230.8 201.5 230.8 205.5 230.8 209.5 230.8 213.5 230.8 217.5 230.9 221.5 231.0 225.5 231.2 229.5 231.4 233.5 231.7 237.5 231.9 241.5 232.2 243.5 232.3 247.5 232.5 251.5 232.6 255.5 232.6 259.5 232.7 263.5 232.7 267.5 232.7 271.5 232.7 275.5 232.8 279.5 232.8 283.5 232.9 287.5 232.9 291.5 233.0 295.5 233.0 299.5 233.0 303.5 233.1 307.5 233.3 311.5 233.6 315.5 234.1 317.5 234.3 321.5 234.6 325.5 234.7 329.5 234.8 333.5 234.9 337.5 235.1 341.5 235.4 345.5 235.9 347.6 236.3 351.5 236.7 355.5 237.1 359.5 237.5 363.5 237.9 367.5 238.1 371.5 238.2 375.5 238.1 379.5 238.0 383.5 237.9 387.5 237.8 391.5 237.6 395.5 237.5 399.5 237.4 403.5 237.2 407.5 237.1 411.5 237.1 415.5 237.0 419.5 237.0 423.5 237.0 427.5 236.8 431.5 236.6 435.5 236.4 437.5 236.2 441.5 235.7 445.5 235.2 449.5 234.7 453.5 234.3 455.5 234.0 459.5 233.5 463.5 233.0 467.5 232.7 471.5 232.5 475.5 232.4 479.5 232.4 483.5 232.3 485.5 232.2 489.5 231.9 493.5 231.5 497.5 231.1 501.5 230.8 505.5 230.6 509.5 230.5 513.5 230.5 517.5 230.4 521.5 230.4 523.5 230.3 527.5 230.0 531.5 229.7 535.5 229.5 539.5 229.2 543.5 229.0 547.5 228.9 551.5 228.8 555.5 228.7 559.5 228.7 563.5 228.7 567.5 228.7 571.5 228.8 575.5 228.9 579.5 229.1 583.5 229.2 587.5 229.4 591.5 229.5 595.5 229.6 599.5 229.6 603.5 229.7 607.5 229.8 611.5 229.9 615.5 230.1 618.0 230.3 621.5 230.4 625.5 230.5 629.5 230.7 633.5 230.8 637.5 230.8 641.5 230.8 645.5 230.8 649.5 230.7 653.5 230.7 657.5 230.6 661.5 230.5 665.5 230.4 667.6 230.3 671.5 230.1 675.5 229.8 679.5 229.7 683.5 229.5 687.5 229.4 691.5 229.3 695.5 229.2 699.5 229.2 703.5 229.2 707.5 229.3 711.5 229.4 715.5 229.5 719.5 229.7 723.5 229.9 727.5 230.1 730.2 230.3 733.5 230.4 737.5 230.5 741.5 230.7 745.5 230.8 749.5 230.9 753.5 231.0 757.5 231.0 761.5 231.0 765.5 231.0 769.5 231.1 773.5 231.1 777.5 231.2 781.5 231.3 785.5 231.5 789.5 231.6 793.5 231.8 797.5 231.9 801.5 232.1 805.5 232.2 809.0 232.3 811.5 232.3 815.5 232.4 819.5 232.4 823.5 232.4 827.5 232.7 831.5 233.2 835.5 233.9 837.6 234.3 841.5 234.7 845.5 235.0 849.5 235.2 853.5 235.2 857.5 235.2 861.5 235.2 865.5 235.2 869.5 235.2 869.5 235.2M153.5 235.6 157.5 235.6 161.5 235.6 165.5 235.7 169.5 235.7 173.5 235.8 177.5 235.8 181.5 235.9 185.5 236.0 189.5 236.1 193.5 236.1 197.5 236.2 201.5 236.2 205.5 236.2 209.5 236.2 213.5 236.3 215.5 236.3 219.5 236.4 223.5 236.6 227.5 236.8 231.5 237.0 235.5 237.3 239.5 237.5 243.5 237.8 247.5 238.0 251.5 238.1 255.5 238.2 259.5 238.3 263.5 238.3 265.5 238.3 269.5 238.4 273.5 238.6 277.5 238.8 281.5 239.0 285.5 239.2 289.5 239.4 293.5 239.6 297.5 239.6 301.5 239.7 305.5 239.8 309.5 240.1 311.6 240.3 315.5 240.7 319.5 241.1 323.5 241.4 327.5 241.6 331.5 241.7 335.5 241.7 339.5 241.8 343.5 242.0 347.5 242.1 350.6 242.3 353.5 242.4 357.5 242.6 361.5 242.8 365.5 242.9 369.5 242.9 373.5 242.9 377.5 242.8 381.5 242.7 385.5 242.6 389.5 242.4 393.0 242.3 395.5 242.2 399.5 242.0 403.5 241.9 407.5 241.7 411.5 241.6 415.5 241.6 419.5 241.5 423.5 241.5 427.5 241.4 431.5 241.2 435.5 240.9 439.5 240.6 442.7 240.3 445.5 240.0 449.5 239.6 453.5 239.2 457.5 238.8 461.5 238.4 463.5 238.3 467.5 238.0 471.5 237.8 475.5 237.6 479.5 237.6 483.5 237.5 487.5 237.4 491.5 237.3 495.5 237.1 499.5 236.9 503.5 236.7 507.5 236.6 511.5 236.6 515.5 236.5 519.5 236.4 521.5 236.2 525.5 235.9 529.5 235.6 533.5 235.2 537.5 234.9 541.5 234.5 543.6 234.3 547.5 234.0 551.5 233.8 555.5 233.6 559.5 233.6 563.5 233.6 567.5 233.6 571.5 233.6 575.5 233.7 579.5 233.7 583.5 233.8 587.5 233.8 591.5 233.8 595.5 233.9 599.5 233.9 603.5 233.9 607.5 234.0 611.5 234.1 615.5 234.3 617.5 234.4 621.5 234.6 625.5 234.8 629.5 235.0 633.5 235.1 637.5 235.2 641.5 235.2 645.5 235.2 649.5 235.1 653.5 235.0 657.5 234.9 661.5 234.8 665.5 234.7 669.5 234.6 673.5 234.4 677.1 234.3 679.5 234.2 683.5 234.1 687.5 234.0 691.5 233.9 695.5 233.9 699.5 233.9 703.5 233.9 707.5 234.0 711.5 234.1 715.5 234.2 718.1 234.3 721.5 234.5 725.5 234.7 729.5 234.9 733.5 235.1 737.5 235.3 741.5 235.5 745.5 235.6 749.5 235.7 753.5 235.8 757.5 235.9 761.5 235.9 765.5 235.9 769.5 236.0 773.5 236.1 777.5 236.2 781.5 236.3 783.5 236.3 787.5 236.5 791.5 236.6 795.5 236.8 799.5 236.9 803.5 237.0 807.5 237.1 811.5 237.2 815.5 237.2 819.5 237.2 823.5 237.3 827.5 237.6 831.5 238.1 833.5 238.3 837.5 238.9 841.5 239.4 845.5 239.7 849.5 239.9 853.5 239.9 857.5 239.9 861.5 239.9 865.5 239.9 869.5 239.9 869.5 239.9M153.5 240.9 157.5 240.9 161.5 240.9 165.5 240.9 169.5 241.0 173.5 241.1 177.5 241.2 181.5 241.3 185.5 241.3 189.5 241.4 193.5 241.5 197.5 241.5 201.5 241.6 205.5 241.6 209.5 241.6 213.5 241.6 217.5 241.7 221.5 241.9 225.5 242.0 229.5 242.2 231.5 242.4 235.5 242.7 239.5 243.0 243.5 243.3 247.5 243.5 251.5 243.7 255.5 243.8 259.5 243.8 263.5 243.9 267.5 244.0 271.5 244.2 273.5 244.3 277.5 244.8 281.5 245.2 285.5 245.5 289.5 245.8 293.5 246.0 297.5 246.1 301.5 246.1 305.5 246.3 307.5 246.4 311.5 246.9 315.5 247.4 319.5 247.8 323.5 248.1 327.5 248.3 331.5 248.3 335.5 248.3 339.5 248.2 343.5 248.2 347.5 248.1 351.5 248.0 355.5 247.9 359.5 247.8 363.5 247.7 367.5 247.7 371.5 247.7 375.5 247.6 379.5 247.6 383.5 247.4 387.5 247.2 391.5 247.0 395.5 246.8 399.5 246.5 403.5 246.3 405.5 246.2 409.5 246.1 413.5 246.0 417.5 246.0 421.5 246.0 425.5 245.9 429.5 245.8 433.5 245.6 437.5 245.4 441.5 245.1 445.5 244.8 449.5 244.4 451.5 244.2 455.5 244.0 459.5 243.7 463.5 243.4 467.5 243.2 471.5 243.0 475.5 242.9 479.5 242.9 483.5 242.9 487.5 242.8 491.5 242.8 495.5 242.8 499.5 242.8 503.5 242.7 507.5 242.7 511.5 242.7 515.5 242.6 519.1 242.3 521.5 242.1 525.5 241.8 529.5 241.3 533.5 240.8 536.4 240.3 539.5 240.0 543.5 239.5 547.5 239.1 551.5 238.7 555.5 238.4 559.5 238.3 563.5 238.3 565.8 238.3 569.5 238.3 573.5 238.2 577.5 238.2 581.5 238.1 585.5 238.1 589.5 238.0 593.5 238.0 597.5 238.0 601.5 238.0 605.5 238.0 609.5 238.2 613.5 238.3 615.5 238.4 619.5 238.7 623.5 239.0 627.5 239.2 631.5 239.4 635.5 239.5 639.5 239.5 643.5 239.5 647.5 239.5 651.5 239.4 655.5 239.4 659.5 239.3 663.5 239.2 667.5 239.1 671.5 238.9 675.5 238.8 679.5 238.7 683.5 238.6 687.5 238.5 691.5 238.4 695.5 238.4 699.5 238.4 703.5 238.4 707.5 238.5 711.5 238.6 715.5 238.8 719.5 239.0 723.5 239.2 727.5 239.4 731.5 239.7 735.5 239.9 739.5 240.1 743.5 240.2 746.1 240.3 749.5 240.4 753.5 240.6 757.5 240.6 761.5 240.6 765.5 240.7 769.5 240.8 773.5 240.9 777.5 241.0 781.5 241.1 785.5 241.3 789.5 241.4 793.5 241.6 797.5 241.7 801.5 241.8 805.5 241.9 809.5 242.0 813.5 242.1 817.5 242.1 821.5 242.1 825.5 242.3 827.5 242.4 831.5 242.9 835.5 243.4 839.5 243.8 843.5 244.1 846.9 244.3 849.5 244.4 853.5 244.4 857.5 244.4 861.5 244.4 865.5 244.4 869.5 244.4 869.5 244.4M153.5 247.4 157.5 247.4 161.5 247.5 165.5 247.5 169.5 247.6 173.5 247.7 177.5 247.7 181.5 247.8 185.5 247.9 189.5 248.0 193.5 248.1 197.5 248.2 201.5 248.2 205.5 248.2 209.5 248.2 213.5 248.3 215.5 248.3 219.5 248.5 223.5 248.7 227.5 248.9 231.5 249.2 235.5 249.5 239.5 249.8 243.5 250.1 246.2 250.3 249.5 250.5 253.5 250.6 257.5 250.7 261.5 250.8 265.5 250.9 269.5 251.2 273.5 251.7 277.5 252.2 279.5 252.5 283.5 253.0 287.5 253.6 291.5 254.0 295.5 254.2 297.5 254.3 301.5 254.4 305.5 254.6 309.5 254.9 313.5 255.4 317.5 255.9 320.7 256.3 323.5 256.6 327.5 256.8 331.5 256.8 335.5 256.7 339.5 256.4 341.5 256.2 345.5 255.8 349.5 255.3 353.5 254.8 357.5 254.3 359.5 254.1 363.5 253.8 367.5 253.6 371.5 253.6 375.5 253.5 379.5 253.4 383.5 253.2 387.5 253.0 391.5 252.8 395.5 252.5 398.5 252.3 401.5 252.1 405.5 251.9 409.5 251.7 413.5 251.5 417.5 251.5 421.5 251.5 425.5 251.4 429.5 251.3 433.5 251.2 437.5 251.1 441.5 250.9 445.5 250.7 449.5 250.5 452.6 250.3 455.5 250.2 459.5 250.0 463.5 249.8 467.5 249.6 471.5 249.5 475.5 249.4 479.5 249.4 483.5 249.5 487.5 249.6 491.5 249.7 495.5 249.9 499.5 250.1 503.5 250.3 505.5 250.3 509.5 250.4 513.5 250.3 515.5 250.2 519.5 249.9 523.5 249.4 527.5 248.8 530.1 248.3 533.5 247.7 537.5 246.9 541.1 246.3 543.5 245.9 547.5 245.3 551.5 244.9 555.5 244.6 559.5 244.4 563.5 244.4 567.5 244.3 569.5 244.3 573.5 244.1 577.5 243.9 581.5 243.7 585.5 243.5 589.5 243.3 593.5 243.2 597.5 243.2 601.5 243.1 605.5 243.2 609.5 243.4 613.5 243.6 617.5 243.8 621.5 244.1 625.2 244.3 627.5 244.4 631.5 244.6 635.5 244.7 639.5 244.8 643.5 244.8 647.5 244.8 651.5 244.7 655.5 244.7 659.5 244.6 663.5 244.6 667.5 244.5 671.5 244.4 675.5 244.4 679.4 244.3 681.5 244.3 685.5 244.2 689.5 244.2 693.5 244.1 697.5 244.1 701.5 244.1 705.5 244.2 709.5 244.3 711.5 244.3 715.5 244.5 719.5 244.7 723.5 244.9 727.5 245.2 731.5 245.5 735.5 245.7 739.5 246.0 743.5 246.2 746.3 246.3 749.5 246.4 753.5 246.5 757.5 246.6 761.5 246.6 765.5 246.6 769.5 246.7 773.5 246.8 777.5 246.9 781.5 247.1 785.5 247.2 789.5 247.4 793.5 247.6 797.5 247.8 801.5 247.9 805.5 248.0 809.5 248.1 813.5 248.2 817.5 248.3 821.5 248.3 823.5 248.3 827.5 248.5 831.5 248.9 835.5 249.2 839.5 249.6 843.5 249.9 847.5 250.1 851.5 250.1 855.5 250.1 859.5 250.1 863.5 250.1 867.5 250.1 869.5 250.1M153.5 254.9 157.5 254.9 161.5 254.9 165.5 255.0 169.5 255.1 173.5 255.1 177.5 255.2 181.5 255.3 185.5 255.4 189.5 255.5 193.5 255.6 197.5 255.7 201.5 255.8 205.5 255.8 209.5 255.8 213.5 255.8 217.5 256.0 221.5 256.2 223.8 256.3 227.5 256.6 231.5 256.9 235.5 257.2 239.5 257.6 243.5 257.9 247.5 258.2 249.5 258.3 253.5 258.5 257.5 258.6 261.5 258.6 265.5 258.8 269.5 259.3 273.5 259.9 275.8 260.3 279.5 261.0 283.5 261.8 286.3 262.3 289.5 262.8 293.5 263.3 297.5 263.6 301.5 263.6 305.5 263.9 309.5 264.3 311.5 264.5 315.5 265.1 319.5 265.7 323.5 266.1 326.1 266.3 329.5 266.4 333.5 266.3 335.5 266.1 339.5 265.6 343.5 264.9 346.1 264.3 349.5 263.5 353.5 262.6 355.5 262.1 359.5 261.3 363.5 260.7 367.5 260.4 371.5 260.4 374.7 260.3 377.5 260.2 381.5 260.0 385.5 259.8 389.5 259.5 393.5 259.2 397.5 258.8 401.5 258.5 404.3 258.3 407.5 258.1 411.5 257.9 415.5 257.8 419.5 257.7 423.5 257.7 427.5 257.7 431.5 257.6 435.5 257.6 439.5 257.5 443.5 257.4 447.5 257.3 451.5 257.3 455.5 257.2 459.5 257.1 463.5 257.0 467.5 257.0 471.5 256.9 475.5 256.9 479.5 256.9 483.5 256.9 487.5 257.2 491.5 257.6 495.5 258.0 498.1 258.3 501.5 258.6 505.5 258.9 509.5 259.0 513.5 259.0 517.5 258.6 520.0 258.3 523.5 257.7 527.5 256.9 530.3 256.3 533.5 255.5 537.5 254.6 539.5 254.1 543.5 253.2 547.5 252.4 549.5 252.1 553.5 251.6 557.5 251.3 561.5 251.3 565.5 251.2 569.5 251.0 573.5 250.7 577.5 250.4 579.5 250.2 583.5 249.8 587.5 249.5 591.5 249.2 595.5 249.1 599.5 249.0 603.5 249.0 607.5 249.1 611.5 249.3 615.5 249.6 619.5 249.9 623.5 250.2 625.5 250.3 629.5 250.5 633.5 250.7 637.5 250.8 641.5 250.8 645.5 250.8 649.5 250.8 653.5 250.8 657.5 250.8 661.5 250.8 665.5 250.7 669.5 250.7 673.5 250.7 677.5 250.7 681.5 250.6 685.5 250.6 689.5 250.6 693.5 250.6 697.5 250.6 701.5 250.6 705.5 250.6 709.5 250.7 713.5 250.9 717.5 251.1 721.5 251.4 725.5 251.6 729.5 251.9 733.5 252.2 735.5 252.4 739.5 252.6 743.5 252.9 747.5 253.1 751.5 253.2 755.5 253.3 759.5 253.4 763.5 253.4 767.5 253.4 771.5 253.5 775.5 253.6 779.5 253.8 783.5 254.0 787.5 254.2 790.2 254.3 793.5 254.5 797.5 254.6 801.5 254.8 805.5 255.0 809.5 255.1 813.5 255.2 817.5 255.2 821.5 255.2 825.5 255.3 829.5 255.5 833.5 255.8 837.5 256.1 841.2 256.3 843.5 256.4 847.5 256.5 851.5 256.6 855.5 256.6 859.5 256.6 863.5 256.6 867.5 256.6 869.5 256.6M153.5 261.1 157.5 261.1 161.5 261.1 165.5 261.2 169.5 261.3 173.5 261.4 177.5 261.4 181.5 261.5 185.5 261.6 189.5 261.7 193.5 261.8 197.5 261.9 201.5 261.9 205.5 262.0 209.5 262.0 213.5 262.0 217.5 262.2 219.5 262.3 223.5 262.6 227.5 262.9 231.5 263.2 235.5 263.5 239.5 263.9 243.2 264.3 245.5 264.5 249.5 264.8 253.5 265.0 257.5 265.0 261.5 265.1 265.5 265.3 269.5 265.7 272.0 266.3 275.5 267.0 279.5 267.8 281.5 268.4 285.5 269.3 289.5 270.0 291.5 270.4 295.5 270.9 299.5 271.0 303.5 271.1 307.5 271.4 311.5 271.9 313.7 272.3 317.5 272.9 321.5 273.4 325.5 273.7 329.5 273.9 333.5 273.7 337.5 273.3 341.5 272.5 343.5 271.9 347.5 270.9 349.5 270.2 353.5 269.0 356.0 268.3 359.5 267.4 363.5 266.7 366.5 266.3 369.5 266.1 373.5 266.1 377.5 265.9 381.5 265.7 385.5 265.5 389.5 265.2 393.5 264.8 397.5 264.5 399.5 264.2 403.5 263.9 407.5 263.6 411.5 263.4 415.5 263.3 419.5 263.2 423.5 263.2 427.5 263.2 431.5 263.2 435.5 263.2 439.5 263.2 443.5 263.2 447.5 263.2 451.5 263.2 455.5 263.2 459.5 263.2 463.5 263.2 467.5 263.2 471.5 263.2 475.5 263.2 479.5 263.2 483.5 263.3 487.5 263.5 491.5 264.0 493.5 264.4 497.5 265.0 501.5 265.5 505.5 265.8 509.5 265.9 513.5 265.8 517.5 265.5 521.5 265.0 524.5 264.3 527.5 263.5 531.5 262.6 533.5 261.9 537.5 260.9 539.6 260.3 543.5 259.3 547.5 258.4 549.5 258.0 553.5 257.4 557.5 257.2 561.5 257.1 565.5 257.0 569.5 256.7 573.5 256.3 575.5 256.0 579.5 255.6 583.5 255.2 587.5 254.8 591.5 254.4 593.5 254.3 597.5 254.0 601.5 254.0 605.5 254.1 608.8 254.3 611.5 254.5 615.5 254.8 619.5 255.0 623.5 255.3 627.5 255.5 631.5 255.7 635.5 255.9 639.5 255.9 643.5 255.9 647.5 255.9 651.5 255.9 655.5 255.9 659.5 255.9 663.5 255.9 667.5 255.9 671.5 255.9 675.5 256.0 679.5 256.0 683.5 256.0 687.5 256.0 691.5 256.0 695.5 256.0 699.5 256.0 703.5 256.0 707.5 256.1 711.4 256.3 713.5 256.4 717.5 256.7 721.5 256.9 725.5 257.2 729.5 257.4 733.5 257.7 737.5 258.0 740.6 258.3 743.5 258.5 747.5 258.7 751.5 258.9 755.5 259.0 759.5 259.0 763.5 259.0 767.5 259.1 771.5 259.2 775.5 259.3 779.5 259.4 783.5 259.6 787.5 259.7 791.5 260.0 795.5 260.3 797.5 260.4 801.5 260.6 805.5 260.8 809.5 260.9 813.5 261.0 817.5 261.0 821.5 261.0 825.5 261.1 829.5 261.2 833.5 261.3 837.5 261.5 841.5 261.7 845.5 261.8 849.5 261.8 853.5 261.8 857.5 261.8 861.5 261.8 865.5 261.8 869.5 261.8 869.5 261.8M153.5 264.9 157.5 264.9 161.5 264.9 165.5 265.0 169.5 265.1 173.5 265.2 177.5 265.3 181.5 265.4 185.5 265.5 189.5 265.6 193.5 265.7 197.5 265.8 201.5 265.8 205.5 265.9 209.5 265.9 213.5 265.9 217.5 266.0 221.5 266.2 223.5 266.4 227.5 266.7 231.5 267.0 235.5 267.4 239.5 267.8 243.5 268.1 246.3 268.3 249.5 268.5 253.5 268.7 257.5 268.8 261.5 268.8 265.5 269.1 269.5 269.6 273.5 270.3 275.5 270.7 279.5 271.6 282.6 272.3 285.5 272.9 289.5 273.7 293.5 274.3 295.5 274.4 299.5 274.6 303.5 274.7 307.5 275.1 311.5 275.6 315.5 276.2 317.5 276.5 321.5 277.0 325.5 277.4 329.5 277.6 333.5 277.4 337.5 276.9 340.8 276.3 343.5 275.7 347.5 274.6 349.5 274.0 353.5 272.9 355.6 272.3 359.5 271.4 363.5 270.7 367.0 270.3 369.5 270.2 373.5 270.2 377.5 270.0 381.5 269.9 385.5 269.6 389.5 269.3 393.5 268.9 397.5 268.6 401.2 268.3 403.5 268.1 407.5 267.8 411.5 267.6 415.5 267.5 419.5 267.4 423.5 267.4 427.5 267.4 431.5 267.4 435.5 267.4 439.5 267.4 443.5 267.4 447.5 267.4 451.5 267.3 455.5 267.3 459.5 267.3 463.5 267.3 467.5 267.3 471.5 267.3 475.5 267.3 479.5 267.3 483.5 267.3 487.5 267.6 491.5 268.1 493.5 268.3 497.5 268.8 501.5 269.3 505.5 269.6 509.5 269.7 513.5 269.6 517.5 269.3 521.5 268.7 523.5 268.3 527.5 267.4 531.5 266.3 533.5 265.8 537.5 264.7 539.5 264.2 543.5 263.2 547.4 262.3 549.5 261.9 553.5 261.4 557.5 261.1 561.5 261.0 565.5 260.9 569.5 260.6 572.6 260.3 575.5 260.0 579.5 259.5 583.5 259.0 587.5 258.6 590.4 258.3 593.5 258.1 597.5 257.9 601.5 257.9 605.5 258.0 609.5 258.1 613.1 258.3 615.5 258.4 619.5 258.7 623.5 259.0 627.5 259.2 631.5 259.4 635.5 259.6 639.5 259.6 643.5 259.6 647.5 259.6 651.5 259.6 655.5 259.6 659.5 259.7 663.5 259.7 667.5 259.7 671.5 259.7 675.5 259.7 679.5 259.7 683.5 259.7 687.5 259.7 691.5 259.7 695.5 259.7 699.5 259.7 703.5 259.8 707.5 259.9 711.5 260.0 715.5 260.2 717.5 260.3 721.5 260.6 725.5 260.8 729.5 261.1 733.5 261.4 737.5 261.7 741.5 262.0 745.5 262.2 748.2 262.3 751.5 262.4 755.5 262.5 759.5 262.6 763.5 262.6 767.5 262.6 771.5 262.7 775.5 262.9 779.5 263.0 783.5 263.2 787.5 263.4 791.5 263.6 795.5 263.8 799.5 263.9 803.5 264.1 807.5 264.2 809.7 264.3 813.5 264.4 817.5 264.4 821.5 264.4 825.5 264.5 829.5 264.6 833.5 264.8 837.5 265.0 841.5 265.2 845.5 265.3 849.5 265.4 853.5 265.4 857.5 265.4 861.5 265.4 865.5 265.4 869.5 265.4 869.5 265.4M153.5 270.2 157.5 270.2 161.5 270.2 165.5 270.2 169.5 270.3 173.5 270.3 175.5 270.4 179.5 270.6 183.5 270.8 187.5 271.0 191.5 271.2 195.5 271.3 199.5 271.4 203.5 271.4 207.5 271.4 211.5 271.5 215.5 271.5 219.5 271.7 223.5 271.9 227.5 272.1 231.5 272.2 233.5 272.3 237.5 273.0 241.5 273.5 245.5 273.7 249.5 273.9 253.5 274.0 257.5 274.1 261.5 274.1 265.5 274.2 267.5 274.4 271.5 275.4 275.5 276.0 277.9 276.3 281.5 277.5 285.5 278.1 287.6 278.3 291.5 279.3 295.5 279.7 299.5 279.9 303.5 279.9 307.5 280.1 310.2 280.3 313.5 281.1 317.5 281.7 321.5 282.1 325.5 282.3 327.5 282.3 331.5 282.4 333.5 282.3 337.5 282.1 341.5 281.5 345.2 280.3 347.5 280.0 351.5 278.9 353.5 278.2 357.5 277.6 361.5 276.5 363.5 276.2 367.5 276.0 371.5 276.0 375.5 275.9 379.5 275.8 383.5 275.7 387.5 275.4 391.5 275.0 395.5 274.5 397.5 274.3 401.5 274.1 405.5 274.0 409.5 273.8 413.5 273.7 417.5 273.6 421.5 273.6 425.5 273.6 429.5 273.6 433.5 273.6 437.5 273.5 441.5 273.5 445.5 273.5 449.5 273.4 453.5 273.4 457.5 273.3 461.5 273.3 465.5 273.3 469.5 273.2 473.5 273.2 477.5 273.2 481.5 273.2 485.5 273.4 489.5 273.7 493.5 273.9 497.5 274.2 500.1 274.3 503.5 274.8 507.5 275.1 511.5 275.1 515.5 274.7 517.5 274.3 521.5 274.0 525.5 273.3 528.5 272.3 531.5 271.8 535.5 270.5 537.5 270.1 541.5 269.2 544.0 268.3 547.5 267.9 551.5 267.3 555.5 266.6 558.8 266.3 561.5 266.3 565.5 266.2 569.5 266.1 573.5 265.8 577.5 265.4 581.5 264.6 583.5 264.3 587.5 264.0 591.5 263.8 595.5 263.5 599.5 263.4 603.5 263.5 607.5 263.6 611.5 263.7 615.5 263.9 619.5 264.0 623.5 264.1 627.5 264.2 630.3 264.3 633.5 264.5 637.5 264.7 641.5 264.7 645.5 264.7 649.5 264.7 653.5 264.8 657.5 264.8 661.5 264.8 665.5 264.9 669.5 264.9 673.5 265.0 677.5 265.0 681.5 265.0 685.5 265.1 689.5 265.1 693.5 265.1 697.5 265.1 701.5 265.1 705.5 265.2 709.5 265.3 713.5 265.5 717.5 265.7 721.5 265.9 725.5 266.0 729.5 266.2 733.5 266.3 735.5 266.6 739.5 267.0 743.5 267.3 747.5 267.5 751.5 267.7 755.5 267.7 759.5 267.8 763.5 267.8 767.5 267.8 771.5 267.9 775.5 268.0 779.5 268.0 783.5 268.1 787.5 268.2 791.5 268.3 793.5 268.5 797.5 268.8 801.5 269.1 805.5 269.3 809.5 269.4 813.5 269.5 817.5 269.5 821.5 269.5 825.5 269.6 829.5 269.7 833.5 269.8 837.5 270.0 841.5 270.1 845.5 270.1 849.5 270.2 853.5 270.2 857.5 270.2 861.5 270.2 865.5 270.2 869.5 270.2 869.5 270.2M153.5 282.6 157.5 282.6 161.5 282.6 165.5 282.7 169.5 282.7 173.5 282.8 177.5 282.9 181.5 283.0 185.5 283.2 189.5 283.3 193.5 283.4 197.5 283.4 201.5 283.5 205.5 283.5 209.5 283.5 213.5 283.6 217.5 283.7 221.5 283.9 225.5 284.1 227.6 284.3 231.5 284.6 235.5 284.9 239.5 285.3 243.5 285.6 247.5 285.9 251.5 286.1 255.5 286.2 259.5 286.3 262.1 286.3 265.5 286.5 269.5 286.9 273.5 287.6 277.4 288.3 279.5 288.7 283.5 289.5 287.5 290.2 289.5 290.6 293.5 291.1 297.5 291.3 301.5 291.4 305.5 291.6 309.5 292.0 311.9 292.3 315.5 292.8 319.5 293.3 323.5 293.8 327.5 294.0 331.5 294.1 335.5 293.9 339.5 293.4 343.5 292.8 346.2 292.3 349.5 291.6 353.5 290.9 356.6 290.3 359.5 289.8 363.5 289.3 367.5 289.1 371.5 289.0 375.5 289.0 379.5 288.9 383.5 288.7 387.5 288.5 391.5 288.3 393.5 288.2 397.5 288.0 401.5 287.7 405.5 287.5 409.5 287.4 413.5 287.3 417.5 287.2 421.5 287.2 425.5 287.2 429.5 287.1 433.5 287.1 437.5 287.0 441.5 286.9 445.5 286.8 449.5 286.8 453.5 286.7 457.5 286.6 461.5 286.5 465.5 286.4 469.5 286.4 473.5 286.3 477.5 286.3 481.5 286.3 485.5 286.4 489.5 286.5 493.5 286.6 497.5 286.7 501.5 286.8 505.5 286.9 509.5 287.0 513.5 286.9 517.5 286.5 519.5 286.3 523.5 285.6 527.5 284.8 529.8 284.3 533.5 283.4 537.5 282.4 539.5 282.0 543.5 281.1 547.4 280.3 549.5 280.0 553.5 279.5 557.5 279.2 561.5 279.1 565.5 279.0 569.5 278.7 572.8 278.3 575.5 278.0 579.5 277.4 583.5 276.9 587.5 276.3 589.5 276.1 593.5 275.8 597.5 275.6 601.5 275.6 605.5 275.6 609.5 275.7 613.5 275.8 617.5 275.9 621.5 276.0 625.5 276.1 629.5 276.2 632.1 276.3 635.5 276.4 639.5 276.4 643.5 276.4 647.5 276.4 651.5 276.4 655.5 276.5 659.5 276.5 663.5 276.6 667.5 276.6 671.5 276.7 675.5 276.8 679.5 276.8 683.5 276.9 687.5 276.9 691.5 276.9 695.5 277.0 699.5 277.0 703.5 277.0 707.5 277.0 711.5 277.2 715.5 277.3 719.5 277.5 723.5 277.7 727.5 277.9 731.5 278.1 735.0 278.3 737.5 278.4 741.5 278.6 745.5 278.8 749.5 278.9 753.5 279.0 757.5 279.1 761.5 279.1 765.5 279.1 769.5 279.2 773.5 279.3 777.5 279.4 781.5 279.5 785.5 279.6 789.5 279.8 793.5 279.9 797.5 280.1 801.5 280.2 805.3 280.3 807.5 280.4 811.5 280.4 815.5 280.5 819.5 280.5 823.5 280.5 827.5 280.6 831.5 280.7 835.5 280.9 839.5 281.0 843.5 281.1 847.5 281.2 851.5 281.2 855.5 281.2 859.5 281.2 863.5 281.2 867.5 281.2 869.5 281.2M153.5 295.1 157.5 295.2 161.5 295.2 165.5 295.3 169.5 295.3 173.5 295.4 177.5 295.5 181.5 295.6 185.5 295.7 189.5 295.9 193.5 295.9 197.5 296.0 201.5 296.1 205.5 296.1 209.5 296.1 213.5 296.2 217.5 296.3 219.5 296.4 223.5 296.6 227.5 296.8 231.5 297.1 235.5 297.4 239.5 297.8 243.5 298.1 247.3 298.3 249.5 298.4 253.5 298.6 257.5 298.7 261.5 298.7 265.5 298.9 269.5 299.3 273.5 299.9 276.1 300.3 279.5 300.9 283.5 301.6 287.5 302.3 289.5 302.6 293.5 303.0 297.5 303.3 301.5 303.3 305.5 303.5 309.5 303.9 312.8 304.3 315.5 304.7 319.5 305.2 323.5 305.6 327.5 305.8 331.5 305.8 335.5 305.7 339.5 305.4 343.5 305.0 347.5 304.5 349.5 304.2 353.5 303.7 357.5 303.2 361.5 302.8 365.5 302.5 369.5 302.4 373.5 302.4 377.5 302.4 380.5 302.3 383.5 302.2 387.5 302.1 391.5 302.0 395.5 301.8 399.5 301.7 403.5 301.5 407.5 301.4 411.5 301.3 415.5 301.3 419.5 301.2 423.5 301.2 427.5 301.2 431.5 301.1 435.5 301.0 439.5 300.9 443.5 300.8 447.5 300.7 451.5 300.5 455.5 300.4 457.5 300.3 461.5 300.2 465.5 300.1 469.5 300.0 473.5 299.9 477.5 299.9 481.5 299.9 485.5 299.8 489.5 299.7 493.5 299.6 497.5 299.5 501.5 299.3 505.5 299.3 509.5 299.2 513.5 299.1 517.5 298.8 521.5 298.3 523.5 298.0 527.5 297.3 531.5 296.4 533.5 296.0 537.5 295.1 541.1 294.3 543.5 293.8 547.5 293.1 551.5 292.6 554.1 292.3 557.5 292.1 561.5 292.0 565.5 291.9 569.5 291.5 573.5 291.1 577.5 290.5 579.5 290.2 583.5 289.6 587.5 289.0 591.5 288.6 594.9 288.3 597.5 288.2 601.5 288.1 605.5 288.1 609.5 288.2 613.5 288.2 617.5 288.2 621.5 288.2 625.5 288.3 629.5 288.3 632.8 288.3 635.5 288.3 639.5 288.3 643.5 288.3 647.5 288.3 651.5 288.4 655.5 288.5 659.5 288.5 663.5 288.6 667.5 288.7 671.5 288.8 675.5 288.9 679.5 289.0 683.5 289.1 687.5 289.1 691.5 289.2 695.5 289.2 699.5 289.2 703.5 289.2 707.5 289.3 711.5 289.4 715.5 289.5 719.5 289.6 723.5 289.8 727.5 289.9 731.5 290.1 735.5 290.3 737.5 290.4 741.5 290.5 745.5 290.6 749.5 290.7 753.5 290.8 757.5 290.8 761.5 290.9 765.5 290.9 769.5 290.9 773.5 291.0 777.5 291.1 781.5 291.2 785.5 291.3 789.5 291.4 793.5 291.5 797.5 291.6 801.5 291.7 805.5 291.8 809.5 291.9 813.5 291.9 817.5 291.9 821.5 291.9 825.5 292.0 829.5 292.1 833.5 292.2 837.5 292.3 839.5 292.3 843.5 292.4 847.5 292.5 851.5 292.5 855.5 292.5 859.5 292.5 863.5 292.5 867.5 292.5 869.5 292.5M153.5 307.9 157.5 307.9 161.5 307.9 165.5 307.9 169.5 308.0 173.5 308.1 177.5 308.2 181.5 308.2 184.4 308.3 187.5 308.4 191.5 308.5 195.5 308.6 199.5 308.7 203.5 308.8 207.5 308.8 211.5 308.8 215.5 308.9 219.5 309.1 223.5 309.3 227.5 309.5 231.5 309.8 235.5 310.0 239.5 310.2 241.5 310.4 245.5 310.7 249.5 311.0 253.5 311.2 257.5 311.2 261.5 311.3 265.5 311.5 269.5 311.8 273.5 312.2 275.5 312.5 279.5 313.3 283.5 313.9 287.2 314.3 289.5 314.7 293.5 315.1 297.5 315.4 301.5 315.4 305.5 315.6 309.5 315.9 313.5 316.3 315.5 316.6 319.5 317.2 323.5 317.6 327.5 317.8 331.5 317.8 335.5 317.7 339.5 317.6 343.5 317.4 347.5 317.1 351.5 316.8 355.5 316.4 357.5 316.3 361.5 316.1 365.5 316.0 369.5 316.0 373.5 316.0 377.5 315.9 381.5 315.9 385.5 315.9 389.5 315.8 393.5 315.8 397.5 315.7 401.5 315.6 405.5 315.6 409.5 315.5 413.5 315.5 417.5 315.5 421.5 315.5 425.5 315.4 429.5 315.4 433.5 315.3 437.5 315.1 441.5 314.9 445.5 314.7 449.5 314.4 451.8 314.3 455.5 314.2 459.5 314.0 463.5 313.9 467.5 313.8 471.5 313.7 475.5 313.6 479.5 313.6 483.5 313.5 487.5 313.3 491.5 313.0 495.5 312.5 497.5 312.2 501.5 312.0 505.5 311.7 509.5 311.6 513.5 311.6 517.5 311.3 521.5 310.8 524.1 310.3 527.5 309.8 531.5 309.1 534.8 308.3 537.5 307.8 541.5 307.1 545.2 306.3 547.5 306.0 551.5 305.6 555.5 305.3 559.5 305.1 563.5 305.0 567.5 304.7 570.5 304.3 573.5 304.0 577.5 303.4 581.5 302.7 583.5 302.3 587.5 301.8 591.5 301.4 595.5 301.0 599.5 300.9 603.5 300.8 607.5 300.8 611.5 300.7 615.5 300.7 619.5 300.6 623.5 300.5 627.5 300.4 631.5 300.3 633.5 300.3 637.5 300.3 641.5 300.3 645.5 300.3 647.8 300.3 651.5 300.4 655.5 300.5 659.5 300.6 663.5 300.8 667.5 300.9 671.5 301.1 675.5 301.2 679.5 301.3 683.5 301.4 687.5 301.5 691.5 301.6 695.5 301.6 699.5 301.6 703.5 301.7 707.5 301.7 711.5 301.7 715.5 301.8 719.5 301.9 723.5 302.0 727.5 302.1 731.5 302.1 735.5 302.2 738.4 302.3 741.5 302.4 745.5 302.5 749.5 302.6 753.5 302.7 757.5 302.7 761.5 302.7 765.5 302.7 769.5 302.8 773.5 302.8 777.5 302.9 781.5 303.0 785.5 303.1 789.5 303.1 793.5 303.2 797.5 303.3 801.5 303.4 805.5 303.4 809.5 303.5 813.5 303.5 817.5 303.5 821.5 303.5 825.5 303.6 829.5 303.6 833.5 303.7 837.5 303.7 841.5 303.8 845.5 303.9 849.5 303.9 853.5 303.9 857.5 303.9 861.5 303.9 865.5 303.9 869.5 303.9 869.5 303.9M153.5 325.2 157.5 325.2 161.5 325.1 165.5 325.2 169.5 325.2 173.5 325.2 177.5 325.3 181.5 325.3 185.5 325.3 189.5 325.4 193.5 325.4 197.5 325.4 201.5 325.5 205.5 325.5 209.5 325.5 213.5 325.5 217.5 325.6 221.5 325.8 225.5 326.0 229.5 326.2 231.5 326.4 235.5 326.7 239.5 327.0 243.5 327.3 247.5 327.6 251.5 327.8 255.5 328.0 259.5 328.1 263.5 328.2 265.9 328.3 269.5 328.6 273.5 329.0 277.5 329.5 281.5 330.1 283.5 330.3 287.5 330.8 291.5 331.2 295.5 331.5 299.5 331.6 303.5 331.8 307.5 332.1 309.9 332.3 313.5 332.7 317.5 333.2 321.5 333.7 325.5 334.1 329.5 334.3 331.5 334.3 335.5 334.4 339.5 334.6 343.5 334.7 347.5 334.8 351.5 335.0 355.5 335.1 359.5 335.2 363.5 335.2 367.5 335.3 371.5 335.2 375.5 335.2 379.5 335.1 383.5 335.1 387.5 335.0 391.5 335.0 395.5 335.0 399.5 334.9 403.5 334.9 407.5 334.9 411.5 334.8 415.5 334.8 419.5 334.7 423.5 334.6 427.5 334.5 431.5 334.4 433.5 334.3 437.5 334.1 441.5 333.9 445.5 333.6 449.5 333.4 453.5 333.1 457.5 332.9 461.5 332.6 465.5 332.4 468.2 332.3 471.5 332.2 475.5 332.1 479.5 332.0 483.5 331.8 487.5 331.4 491.5 330.7 493.8 330.3 497.5 329.6 501.5 328.9 505.5 328.4 507.5 328.2 511.5 328.1 515.5 328.0 519.5 327.6 523.5 327.2 527.5 326.6 529.5 326.3 533.5 325.6 537.5 324.9 541.4 324.3 543.5 324.0 547.5 323.4 551.5 323.0 555.5 322.7 559.5 322.6 563.5 322.5 566.7 322.3 569.5 322.0 573.5 321.4 577.5 320.8 580.1 320.3 583.5 319.7 587.5 319.0 591.5 318.5 593.6 318.3 597.5 318.0 601.5 318.0 605.5 317.9 609.5 317.8 613.5 317.6 617.5 317.4 621.5 317.2 625.5 317.0 629.5 316.8 633.5 316.7 637.5 316.6 641.5 316.6 645.5 316.6 649.5 316.7 653.5 316.8 657.5 316.9 661.5 317.1 665.5 317.2 669.5 317.4 673.5 317.6 677.5 317.8 681.5 317.9 685.5 318.1 689.5 318.2 693.5 318.3 697.0 318.3 699.5 318.3 703.5 318.3 707.5 318.3 711.5 318.3 715.5 318.4 719.5 318.4 723.5 318.4 727.5 318.5 731.5 318.5 735.5 318.5 739.5 318.6 743.5 318.6 747.5 318.6 751.5 318.6 755.5 318.6 759.5 318.6 763.5 318.6 767.5 318.6 771.5 318.6 775.5 318.6 779.5 318.6 783.5 318.7 787.5 318.7 791.5 318.7 795.5 318.7 799.5 318.8 803.5 318.8 807.5 318.8 811.5 318.8 815.5 318.8 819.5 318.8 823.5 318.8 827.5 318.8 831.5 318.9 835.5 318.9 839.5 319.0 843.5 319.0 847.5 319.0 851.5 319.1 855.5 319.1 859.5 319.1 863.5 319.1 867.5 319.2 869.5 319.2M392.2 408.3 389.5 406.9 387.5 405.8 385.1 404.3 382.1 402.3 379.5 400.5 377.5 399.2 375.5 398.0 371.7 396.3 369.5 395.6 365.5 394.5 363.5 394.2 359.5 393.9 355.5 394.2 353.5 394.5 349.5 395.6 347.3 396.3 343.5 398.0 341.5 399.2 339.5 400.6 337.0 402.3 334.0 404.3 331.5 405.9 329.5 407.0 326.9 408.3 326.9 408.3M869.5 405.6 865.5 405.8 861.5 405.9 857.5 406.0 853.5 406.1 849.5 406.2 845.5 406.3 843.5 406.3 839.5 406.4 835.5 406.5 831.5 406.5 827.5 406.5 823.5 406.5 819.5 406.6 815.5 406.6 811.5 406.6 807.5 406.5 803.5 406.5 799.5 406.5 795.5 406.5 791.5 406.5 787.5 406.4 783.5 406.4 779.5 406.4 775.5 406.4 771.5 406.4 767.5 406.3 763.5 406.3 760.6 406.3 757.5 406.3 753.5 406.3 749.5 406.2 745.5 406.2 741.5 406.2 737.5 406.2 733.5 406.2 729.5 406.2 725.5 406.2 721.5 406.2 717.5 406.2 713.5 406.2 709.5 406.2 705.5 406.2 701.5 406.2 697.5 406.2 693.5 406.2 689.5 406.3 685.5 406.3 681.5 406.3 677.5 406.3 673.5 406.3 671.5 406.3 667.5 406.3 663.5 406.3 659.5 406.4 655.5 406.4 651.5 406.4 647.5 406.3 645.5 406.3 641.5 406.2 637.5 406.1 633.5 406.0 629.5 405.9 625.5 405.8 621.5 405.7 617.5 405.6 613.5 405.5 609.5 405.3 605.5 405.2 601.5 405.1 597.5 405.0 593.5 404.9 589.5 404.9 585.5 404.8 581.5 404.7 577.5 404.7 573.5 404.6 569.5 404.5 565.5 404.5 561.5 404.4 557.5 404.4 554.7 404.3 551.5 404.2 547.5 404.1 543.5 404.0 539.5 403.9 535.5 403.7 531.5 403.6 527.5 403.4 523.5 403.2 519.5 403.0 515.5 402.7 511.5 402.5 508.3 402.3 505.5 402.1 501.5 401.9 497.5 401.7 493.5 401.5 489.5 401.3 485.5 401.1 481.5 401.0 477.5 400.9 473.5 400.8 469.5 400.8 465.5 400.7 461.5 400.7 457.5 400.7 453.5 400.6 449.5 400.6 445.5 400.5 441.5 400.5 437.5 400.3 435.5 400.2 431.5 399.9 427.5 399.5 423.5 398.9 420.0 398.3 417.5 397.8 413.5 396.9 411.3 396.3 407.5 395.1 405.1 394.3 401.5 392.9 399.5 392.1 395.6 390.3 393.5 389.3 391.4 388.3 387.5 386.5 385.5 385.2 383.8 382.3 383.2 380.3 381.5 376.4 380.2 374.3 378.7 372.3 376.7 370.3 377.4 366.3 379.3 364.3 381.5 362.6 383.5 361.2 385.5 360.1 389.4 358.3 391.5 357.5 395.4 356.3 397.5 355.7 401.5 354.8 404.0 354.3 407.5 353.7 411.5 353.1 415.5 352.6 417.9 352.3 421.5 351.9 425.5 351.6 429.5 351.3 433.5 351.0 437.5 350.7 441.5 350.5 444.6 350.3 447.5 350.1 451.5 349.9 455.5 349.7 459.5 349.6 463.5 349.4 467.5 349.2 471.5 349.1 475.5 348.9 479.5 348.8 483.5 348.5 485.5 348.2 489.5 347.4 493.5 346.4 495.5 345.9 499.5 344.9 502.3 344.3 505.5 343.7 509.5 343.3 513.5 343.0 517.5 342.7 520.7 342.3 523.5 342.0 527.5 341.4 531.5 340.9 535.4 340.3 537.5 340.0 541.5 339.5 545.5 339.0 549.5 338.6 553.5 338.3 555.5 338.2 559.5 338.1 563.5 337.9 567.5 337.6 571.5 337.2 575.5 336.6 577.5 336.2 581.5 335.5 585.5 334.9 589.2 334.3 591.5 334.0 595.5 333.6 599.5 333.3 603.5 333.2 607.5 333.0 611.5 332.7 615.5 332.4 617.5 332.3 621.5 331.9 625.5 331.6 629.5 331.4 633.5 331.2 637.5 331.0 641.5 331.0 645.5 331.0 649.5 331.1 653.5 331.2 657.5 331.4 661.5 331.6 665.5 331.8 669.5 332.0 673.5 332.3 675.5 332.4 679.5 332.6 683.5 332.8 687.5 333.0 691.5 333.1 695.5 333.2 699.5 333.2 703.5 333.2 707.5 333.2 711.5 333.2 715.5 333.2 719.5 333.2 723.5 333.1 727.5 333.1 731.5 333.0 735.5 332.9 739.5 332.9 743.5 332.8 747.5 332.8 751.5 332.7 755.5 332.6 759.5 332.6 763.5 332.5 767.5 332.5 771.5 332.5 775.5 332.4 779.5 332.4 783.5 332.4 787.5 332.4 791.5 332.3 795.5 332.3 797.5 332.3 801.5 332.3 805.5 332.3 809.5 332.2 813.5 332.2 817.5 332.2 821.5 332.2 825.5 332.2 829.5 332.3 831.9 332.3 835.5 332.3 839.5 332.4 843.5 332.5 847.5 332.6 851.5 332.7 855.5 332.8 859.5 333.0 863.5 333.1 867.5 333.3 869.5 333.3M153.5 343.1 157.5 342.8 161.5 342.4 163.5 342.3 167.5 341.9 171.5 341.6 175.5 341.3 179.5 341.0 183.5 340.7 187.5 340.4 189.5 340.3 193.5 340.0 197.5 339.8 201.5 339.7 205.5 339.6 209.5 339.5 213.5 339.6 217.5 339.7 221.5 339.9 225.5 340.2 227.5 340.4 231.5 340.8 235.5 341.3 239.5 341.8 243.5 342.2 245.5 342.5 249.5 342.9 253.5 343.2 257.5 343.5 261.5 343.6 265.5 343.8 269.5 344.0 273.5 344.3 275.5 344.4 279.5 344.8 283.5 345.1 287.5 345.5 291.5 345.9 295.5 346.2 297.5 346.4 301.5 346.8 305.5 347.3 309.5 348.1 311.5 348.6 315.5 349.6 317.8 350.3 321.5 351.5 323.9 352.3 327.5 353.6 329.5 354.4 333.5 356.0 335.5 357.1 337.6 358.3 340.3 360.3 342.4 362.3 344.1 364.3 345.3 368.3 342.6 370.3 340.5 372.3 338.8 374.3 337.4 376.3 335.5 379.9 334.7 382.3 333.5 384.8 331.1 386.3 327.5 387.9 325.5 388.8 322.2 390.3 319.5 391.5 317.5 392.3 313.5 393.8 311.5 394.4 307.5 395.6 304.6 396.3 301.5 397.0 297.5 397.7 293.5 398.2 291.5 398.4 287.5 398.8 283.5 399.1 279.5 399.3 275.5 399.4 271.5 399.5 267.5 399.5 263.5 399.6 259.5 399.6 255.5 399.7 251.5 399.8 247.5 399.9 243.5 400.1 239.5 400.2 237.3 400.3 233.5 400.5 229.5 400.6 225.5 400.7 221.5 400.8 217.5 400.9 213.5 400.9 209.5 400.9 205.5 400.9 201.5 400.8 197.5 400.7 193.5 400.6 189.5 400.4 187.1 400.3 183.5 400.1 179.5 399.9 175.5 399.7 171.5 399.5 167.5 399.2 163.5 399.0 159.5 398.9 155.5 398.7 153.5 398.6M869.5 392.5 865.5 392.9 861.5 393.2 857.5 393.5 853.5 393.8 849.5 394.0 845.5 394.2 843.5 394.3 839.5 394.5 835.5 394.6 831.5 394.7 827.5 394.8 823.5 394.8 819.5 394.8 815.5 394.8 811.5 394.8 807.5 394.8 803.5 394.8 799.5 394.7 795.5 394.7 791.5 394.6 787.5 394.6 783.5 394.5 779.5 394.5 775.5 394.4 771.5 394.4 767.5 394.4 763.5 394.3 761.5 394.3 757.5 394.3 753.5 394.2 749.5 394.2 745.5 394.2 741.5 394.2 737.5 394.2 733.5 394.2 729.5 394.3 726.0 394.3 723.5 394.3 719.5 394.4 715.5 394.5 711.5 394.5 707.5 394.6 703.5 394.6 699.5 394.6 695.5 394.6 691.5 394.7 687.5 394.6 683.5 394.6 679.5 394.6 675.5 394.6 671.5 394.6 667.5 394.6 663.5 394.6 659.5 394.6 655.5 394.6 651.5 394.6 647.5 394.5 643.5 394.4 639.5 394.4 637.2 394.3 633.5 394.2 629.5 394.1 625.5 394.0 621.5 393.9 617.5 393.7 613.5 393.6 609.5 393.5 605.5 393.4 601.5 393.3 597.5 393.2 593.5 393.1 589.5 393.1 585.5 393.0 581.5 393.0 577.5 393.0 573.5 393.0 569.5 393.0 565.5 393.0 561.5 393.0 557.5 393.0 553.5 392.9 549.5 392.8 545.5 392.7 541.5 392.6 537.5 392.4 535.3 392.3 531.5 392.1 527.5 391.8 523.5 391.5 519.5 391.2 515.5 390.8 511.5 390.4 509.5 390.2 505.5 389.8 501.5 389.5 497.5 389.1 493.5 388.8 489.5 388.6 485.5 388.4 483.5 388.3 479.5 388.2 475.5 388.2 471.5 388.3 469.5 388.3 465.5 388.4 461.5 388.5 457.5 388.7 453.5 388.8 449.5 388.8 445.5 388.9 441.5 388.9 437.5 388.7 433.5 388.5 431.5 388.3 427.5 387.8 423.5 387.2 419.5 386.3 417.5 385.6 414.4 384.3 413.5 381.2 413.0 378.3 413.2 374.3 413.8 372.3 415.5 370.0 419.5 368.3 421.5 367.7 425.5 366.7 427.6 366.3 431.5 365.7 435.5 365.2 439.5 364.9 443.5 364.6 447.5 364.5 451.5 364.5 455.5 364.4 459.5 364.4 463.5 364.4 467.5 364.4 471.5 364.4 475.5 364.3 477.5 364.2 481.5 364.0 485.5 363.5 489.5 362.5 491.5 361.9 495.5 360.7 497.5 360.0 501.5 358.8 503.5 358.2 507.5 357.3 511.5 356.7 514.1 356.3 517.5 355.7 521.5 355.0 525.5 354.3 527.5 354.0 531.5 353.3 535.5 352.6 537.5 352.3 541.5 351.7 545.5 351.2 549.5 350.8 553.5 350.5 556.3 350.3 559.5 350.2 563.5 350.0 567.5 349.7 571.5 349.3 575.5 348.7 578.4 348.3 581.5 347.8 585.5 347.2 589.5 346.6 591.5 346.3 595.5 345.8 599.5 345.5 603.5 345.2 607.5 344.9 611.5 344.5 613.7 344.3 617.5 343.9 621.5 343.5 625.5 343.2 629.5 342.8 633.5 342.6 637.5 342.4 641.5 342.4 645.5 342.4 649.5 342.4 653.5 342.5 657.5 342.7 661.5 342.9 665.5 343.1 669.5 343.3 673.5 343.6 677.5 343.8 681.5 344.0 685.5 344.2 688.0 344.3 691.5 344.4 695.5 344.5 699.5 344.6 703.5 344.6 707.5 344.6 711.5 344.6 715.5 344.6 719.5 344.6 723.5 344.5 727.5 344.4 731.5 344.4 734.6 344.3 737.5 344.2 741.5 344.1 745.5 344.0 749.5 343.9 753.5 343.8 757.5 343.7 761.5 343.6 765.5 343.5 769.5 343.5 773.5 343.4 777.5 343.3 781.5 343.3 785.5 343.2 789.5 343.2 793.5 343.1 797.5 343.1 801.5 343.0 805.5 343.0 809.5 342.9 813.5 342.9 817.5 342.9 821.5 342.9 825.5 342.9 829.5 343.0 833.5 343.1 837.5 343.2 841.5 343.4 845.5 343.6 849.5 343.8 853.5 344.1 855.9 344.3 859.5 344.6 863.5 345.0 867.5 345.4 869.5 345.6M239.5 388.3 235.5 388.6 231.5 388.9 227.5 389.2 223.5 389.4 219.5 389.6 215.5 389.7 211.5 389.8 207.5 389.7 203.5 389.6 199.5 389.4 195.5 389.1 191.5 388.8 187.5 388.4 185.5 388.1 181.5 387.7 177.5 387.1 173.5 386.6 171.4 386.3 167.5 385.5 163.5 384.7 161.3 384.3 160.3 380.3 159.9 376.3 160.3 372.3 161.5 368.4 162.5 366.3 163.6 364.3 165.5 361.8 167.5 360.0 171.2 358.3 173.5 357.7 177.5 356.7 179.5 356.2 183.5 355.3 187.5 354.4 189.5 354.1 193.5 353.4 197.5 352.9 201.5 352.5 204.8 352.3 207.5 352.2 211.5 352.1 215.5 352.2 217.5 352.3 221.5 352.7 225.5 353.2 229.5 353.8 232.2 354.3 235.5 354.9 239.5 355.7 242.7 356.3 245.5 356.8 249.5 357.3 253.5 357.7 257.5 357.8 261.5 357.8 265.5 357.7 269.5 357.7 273.5 357.7 277.5 357.7 281.5 357.9 285.5 358.2 287.5 358.4 291.5 358.9 295.5 359.6 298.5 360.3 301.5 361.1 304.7 362.3 307.5 363.7 309.5 365.1 311.0 368.3 310.7 372.3 309.5 376.0 308.3 378.3 307.1 380.3 305.5 382.5 303.5 384.5 299.5 385.8 297.4 386.3 293.5 386.9 289.5 387.4 285.5 387.7 281.5 387.8 277.5 387.9 273.5 387.8 269.5 387.8 265.5 387.7 261.5 387.6 257.5 387.6 253.5 387.6 249.5 387.7 245.5 387.9 241.5 388.2 239.5 388.3 239.5 388.3M841.5 384.4 837.5 384.7 833.5 385.0 829.5 385.2 825.5 385.3 821.5 385.4 817.5 385.4 813.5 385.4 809.5 385.3 805.5 385.3 801.5 385.2 797.5 385.1 793.5 385.0 789.5 384.9 785.5 384.8 781.5 384.7 777.5 384.6 773.5 384.5 769.5 384.4 765.5 384.3 763.5 384.3 759.5 384.1 755.5 384.0 751.5 383.9 747.5 383.8 743.5 383.9 739.5 384.0 735.5 384.2 733.5 384.3 729.5 384.4 725.5 384.6 721.5 384.8 717.5 385.0 713.5 385.1 709.5 385.3 705.5 385.4 701.5 385.5 697.5 385.5 693.5 385.5 689.5 385.5 685.5 385.5 681.5 385.4 677.5 385.3 673.5 385.2 669.5 385.1 665.5 385.1 661.5 385.0 657.5 385.0 653.5 384.9 649.5 384.9 645.5 384.8 641.5 384.6 637.5 384.5 633.7 384.3 631.5 384.1 627.5 383.6 623.5 383.1 619.5 382.5 617.5 382.1 613.5 381.4 609.5 380.7 607.3 380.3 603.5 379.5 599.5 378.8 596.4 378.3 593.5 377.8 589.5 377.2 585.5 376.8 581.5 376.6 577.5 376.5 573.5 376.6 569.5 376.8 565.5 376.9 561.5 377.0 557.5 376.9 553.5 376.5 551.5 375.9 548.5 374.3 549.5 371.8 552.7 370.3 555.5 369.8 559.5 369.4 563.5 369.2 567.5 369.0 571.5 368.9 575.5 368.6 577.9 368.3 581.5 367.9 585.5 367.2 589.0 366.3 591.5 365.7 595.5 364.6 597.5 364.0 601.5 362.9 603.5 362.3 607.5 361.2 610.6 360.3 613.5 359.6 617.5 358.6 619.5 358.1 623.5 357.4 627.5 356.7 630.0 356.3 633.5 355.9 637.5 355.5 641.5 355.2 645.5 355.1 649.5 355.0 653.5 355.1 657.5 355.2 661.5 355.4 665.5 355.6 669.5 355.8 673.5 355.9 677.5 356.1 681.5 356.2 685.0 356.3 687.5 356.4 691.5 356.5 695.5 356.6 699.5 356.7 703.5 356.8 707.5 357.0 711.5 357.1 715.5 357.2 719.5 357.4 723.5 357.5 727.5 357.5 731.5 357.5 735.5 357.4 739.5 357.3 743.5 357.1 747.5 356.9 751.5 356.6 755.3 356.3 757.5 356.1 761.5 355.8 765.5 355.6 769.5 355.3 773.5 355.0 777.5 354.8 781.5 354.5 785.3 354.3 787.5 354.2 791.5 354.0 795.5 353.8 799.5 353.6 803.5 353.4 807.5 353.2 811.5 353.1 815.5 353.1 819.5 353.1 823.5 353.1 827.5 353.3 831.5 353.6 835.5 354.1 837.5 354.4 841.5 355.1 845.5 356.0 847.5 356.6 851.5 357.9 853.5 358.8 856.4 360.3 859.3 362.3 861.3 364.3 862.7 366.3 863.5 369.7 863.5 370.5 862.1 374.3 860.4 376.3 858.0 378.3 855.5 379.8 853.5 380.8 849.8 382.3 847.5 383.1 843.5 384.1 841.5 384.4 841.5 384.4" fill="none" stroke="#fff" stroke-opacity="0.45" stroke-width="0.7" stroke-dasharray="4 3"/><g clip-path="url(#pc)"><path d="M153.5 399.7l-26.9 -2.5M153.5 399.7V409.6M166.3 399.7l-26.9 2.1M166.3 399.7V409.6M179.1 399.7l-27.0 0.5M179.1 399.7V409.6M191.9 399.7l-26.3 -6.2M191.9 399.7V409.6M204.7 399.7l-26.2 -6.5M204.7 399.7V409.6M217.5 399.7l-26.3 -6.0M217.5 399.7V409.6M230.3 399.7l-27.0 -1.1M230.3 399.7V409.6M243.1 399.7l-26.5 -5.3M243.1 399.7V409.6M255.9 399.7l-26.9 1.8M255.9 399.7V409.6M268.7 399.7l-27.0 1.1M268.7 399.7V409.6M281.5 399.7l-26.2 6.7M281.5 399.7V409.6M294.3 399.7l-26.5 5.0M294.3 399.7V409.6M307.1 399.7l-26.5 -5.0M307.1 399.7V409.6M319.9 399.7l-26.9 -2.7M319.9 399.7V409.6M332.8 399.7l-26.6 -4.5M332.8 399.7V409.6M345.6 399.7l-26.7 3.9M345.6 399.7V409.6M358.4 399.7l-27.0 1.3M358.4 399.7V409.6M371.2 399.7l-24.2 -12.0M371.2 399.7V409.6M384.0 399.7l-26.5 5.1M384.0 399.7V409.6M396.8 399.7l-26.5 -5.2M396.8 399.7V409.6M409.6 399.7l-27.0 -1.3M409.6 399.7V409.6M422.4 399.7l-25.7 8.2M422.4 399.7V409.6M435.2 399.7l-26.0 -7.1M435.2 399.7V409.6M448.0 399.7l-27.0 0.7M448.0 399.7V409.6M460.8 399.7l-26.2 6.4M460.8 399.7V409.6M473.6 399.7l-23.7 13.0M473.6 399.7V409.6M486.4 399.7l-26.9 -2.3M486.4 399.7V409.6M499.2 399.7l-25.2 -9.6M499.2 399.7V409.6M512.0 399.7l-23.9 -12.5M512.0 399.7V409.6M524.8 399.7l-26.0 7.4M524.8 399.7V409.6M537.6 399.7l-24.9 10.3M537.6 399.7V409.6M550.4 399.7l-26.4 5.5M550.4 399.7V409.6M563.2 399.7l-26.9 2.3M563.2 399.7V409.6M576.0 399.7l-25.3 9.4M576.0 399.7V409.6M588.8 399.7l-27.0 -0.7M588.8 399.7V409.6M601.6 399.7l-24.2 -12.0M601.6 399.7V409.6M614.4 399.7l-26.7 4.1M614.4 399.7V409.6M627.2 399.7l-25.5 8.9M627.2 399.7V409.6M640.0 399.7l-26.8 -3.2M640.0 399.7V409.6M652.8 399.7l-23.7 -12.9M652.8 399.7V409.6M665.6 399.7l-25.4 -9.2M665.6 399.7V409.6M678.4 399.7l-24.2 -12.0M678.4 399.7V409.6M691.2 399.7l-25.0 -10.2M691.2 399.7V409.6M704.1 399.7l-26.8 -3.1M704.1 399.7V409.6M716.9 399.7l-24.4 -11.5M716.9 399.7V409.6M729.7 399.7l-27.0 1.4M729.7 399.7V409.6M742.5 399.7l-25.5 8.9M742.5 399.7V409.6M755.3 399.7l-26.3 -6.2M755.3 399.7V409.6M768.1 399.7l-26.7 -4.0M768.1 399.7V409.6M780.9 399.7l-24.0 12.5M780.9 399.7V409.6M793.7 399.7l-25.5 -9.0M793.7 399.7V409.6M806.5 399.7l-26.0 -7.4M806.5 399.7V409.6M819.3 399.7l-26.9 2.5M819.3 399.7V409.6M832.1 399.7l-23.4 -13.4M832.1 399.7V409.6M844.9 399.7l-26.7 -3.7M844.9 399.7V409.6M857.7 399.7l-24.0 12.3M857.7 399.7V409.6M870.5 399.7l-27.0 0.4M870.5 399.7V409.6M153.5 389.8l-26.9 1.7M126.6 391.5l-2.4 -8.7M131.0 391.2l-2.4 -8.7M166.3 389.8l-26.6 4.8M139.7 394.6l-3.4 -8.4M179.1 389.8l-26.6 4.5M152.5 394.2l-3.2 -8.4M191.9 389.8l-26.9 -2.3M165.0 387.5l-1.0 -8.9M204.7 389.8l-26.2 -6.5M178.5 383.3l0.4 -9.0M217.5 389.8l-26.0 -7.4M191.5 382.4l0.7 -9.0M195.9 383.6l0.7 -9.0M230.3 389.8l-26.4 -5.7M203.9 384.0l0.1 -9.0M208.3 385.0l0.1 -9.0M243.1 389.8l-26.7 -4.3M216.5 385.5l-0.4 -9.0M220.9 386.2l-0.4 -9.0M255.9 389.8l-25.3 -9.3M230.6 380.5l1.3 -8.9M234.8 382.0l1.3 -8.9M268.7 389.8l-25.7 -8.3M243.0 381.5l1.0 -8.9M281.5 389.8l-25.2 -9.7M256.3 380.1l1.5 -8.9M294.3 389.8l-26.9 -2.0M267.4 387.8l-1.2 -8.9M271.9 388.1l-1.2 -8.9M307.1 389.8l-26.0 -7.4M281.2 382.4l0.7 -9.0M319.9 389.8l-26.3 -6.2M293.7 383.5l0.3 -9.0M298.1 384.6l0.3 -9.0M332.8 389.8l-27.0 0.3M305.8 390.1l-1.9 -8.8M345.6 389.8l-26.5 -5.2M319.1 384.6l-0.1 -9.0M358.4 389.8l-22.6 -14.8M335.8 375.0l3.3 -8.4M339.5 377.5l3.3 -8.4M371.2 389.8l-25.8 -7.9M345.3 381.8l0.9 -9.0M349.6 383.2l0.9 -9.0M384.0 389.8l-26.3 6.0M357.6 395.8l-3.7 -8.2M362.0 394.8l-3.7 -8.2M396.8 389.8l-22.2 -15.4M374.6 374.3l3.6 -8.3M409.6 389.8l-26.9 -1.8M382.6 388.0l-1.2 -8.9M387.1 388.3l-1.2 -8.9M422.4 389.8l-27.0 -1.0M395.4 388.7l-1.5 -8.9M399.9 388.9l-1.5 -8.9M435.2 389.8l-27.0 -1.1M408.2 388.6l-1.4 -8.9M448.0 389.8l-25.6 8.5M422.4 398.3l-4.5 -7.8M460.8 389.8l-25.6 -8.4M435.1 381.3l1.1 -8.9M473.6 389.8l-24.6 -11.2M449.0 378.5l2.0 -8.8M486.4 389.8l-27.0 -1.6M459.4 388.2l-1.3 -8.9M499.2 389.8l-25.9 -7.5M473.3 382.2l0.7 -9.0M477.6 383.5l0.7 -9.0M512.0 389.8l-26.4 5.6M485.6 395.4l-3.6 -8.3M524.8 389.8l-26.2 6.4M498.6 396.2l-3.8 -8.1M537.6 389.8l-26.5 5.2M511.1 394.9l-3.5 -8.3M550.4 389.8l-24.4 -11.5M526.0 378.3l2.1 -8.7M563.2 389.8l-25.7 -8.4M537.6 381.3l1.0 -8.9M541.8 382.7l1.0 -8.9M576.0 389.8l-21.5 -16.4M554.6 373.4l3.9 -8.1M558.1 376.1l3.9 -8.1M588.8 389.8l-25.1 -10.0M563.7 379.8l1.6 -8.9M601.6 389.8l-25.0 10.1M576.6 399.8l-5.0 -7.5M614.4 389.8l-24.9 10.4M589.5 400.1l-5.0 -7.5M627.2 389.8l-24.4 11.6M602.8 401.4l-5.4 -7.2M640.0 389.8l-25.8 -7.8M614.2 381.9l0.8 -9.0M618.5 383.2l0.8 -9.0M652.8 389.8l-25.9 -7.6M626.9 382.1l0.8 -9.0M631.3 383.4l0.8 -9.0M665.6 389.8l-26.5 5.1M639.1 394.9l-3.4 -8.3M678.4 389.8l-24.3 11.7M654.1 401.5l-5.5 -7.2M691.2 389.8l-25.9 7.6M665.3 397.3l-4.2 -8.0M704.1 389.8l-25.9 -7.7M678.2 382.0l0.8 -9.0M716.9 389.8l-22.7 14.6M694.2 404.4l-6.3 -6.4M729.7 389.8l-24.8 10.7M704.9 400.4l-5.1 -7.4M742.5 389.8l-26.5 -5.2M716.0 384.6l-0.1 -9.0M755.3 389.8l-27.0 -0.8M728.3 388.9l-1.5 -8.9M768.1 389.8l-21.7 16.1M746.4 405.8l-6.7 -6.0M780.9 389.8l-27.0 1.1M753.9 390.9l-2.2 -8.7M793.7 389.8l-25.1 10.0M768.6 399.8l-4.9 -7.5M772.8 398.1l-4.9 -7.5M806.5 389.8l-26.2 -6.6M780.3 383.2l0.4 -9.0M784.7 384.3l0.4 -9.0M819.3 389.8l-22.8 14.5M796.5 404.3l-6.3 -6.5M832.1 389.8l-26.3 -6.1M805.8 383.7l0.2 -9.0M844.9 389.8l-21.5 16.3M823.4 406.0l-6.8 -5.9M857.7 389.8l-27.0 -0.3M830.7 389.4l-1.7 -8.8M870.5 389.8l-26.2 -6.5M844.3 383.3l0.4 -9.0M848.7 384.4l0.4 -9.0M153.5 379.8l-26.5 5.1M127.0 384.9l-3.4 -8.3M166.3 379.8l-27.0 -1.2M139.3 378.6l-1.4 -8.9M179.1 379.8l-26.9 -2.5M152.2 377.3l-1.0 -8.9M191.9 379.8l-26.8 3.0M165.1 382.9l-2.8 -8.6M169.6 382.4l-2.8 -8.6M204.7 379.8l-26.5 -5.3M178.2 374.5l-0.0 -9.0M182.7 375.4l-0.0 -9.0M217.5 379.8l-26.3 -6.2M191.2 373.6l0.3 -9.0M230.3 379.8l-26.2 -6.7M204.2 373.1l0.4 -9.0M243.1 379.8l-25.4 -9.2M217.7 370.7l1.3 -8.9M255.9 379.8l-26.1 -6.9M229.8 372.9l0.5 -9.0M268.7 379.8l-26.6 -4.5M242.1 375.3l-0.3 -9.0M281.5 379.8l-25.9 -7.5M255.6 372.3l0.7 -9.0M294.3 379.8l-26.0 -7.2M268.3 372.7l0.6 -9.0M307.1 379.8l-25.9 -7.6M281.2 372.2l0.8 -9.0M285.6 373.5l0.8 -9.0M319.9 379.8l-25.3 -9.5M294.7 370.3l1.4 -8.9M298.9 371.9l1.4 -8.9M332.8 379.8l-22.2 -15.4M310.5 364.5l3.5 -8.3M345.6 379.8l-21.3 -16.6M324.3 363.2l4.0 -8.1M358.4 379.8l-27.0 -1.6M331.4 378.3l-1.3 -8.9M371.2 379.8l-24.3 -11.8M346.9 368.1l2.2 -8.7M384.0 379.8l-26.5 -5.0M357.4 374.9l-0.1 -9.0M396.8 379.8l-21.8 -15.9M375.0 363.9l3.8 -8.2M409.6 379.8l-24.2 -11.9M385.3 367.9l2.3 -8.7M389.4 369.9l2.3 -8.7M422.4 379.8l-26.8 3.1M395.6 383.0l-2.8 -8.6M435.2 379.8l-26.9 -2.2M408.3 377.7l-1.1 -8.9M448.0 379.8l-25.7 8.3M422.3 388.1l-4.4 -7.8M460.8 379.8l-27.0 -0.5M433.8 379.3l-1.6 -8.9M473.6 379.8l-26.7 -4.0M446.9 375.8l-0.5 -9.0M486.4 379.8l-26.3 -6.3M460.1 373.5l0.3 -9.0M499.2 379.8l-26.3 -6.3M472.9 373.6l0.3 -9.0M512.0 379.8l-27.0 -0.7M485.0 379.1l-1.6 -8.9M524.8 379.8l-26.5 5.4M498.4 385.3l-3.5 -8.3M502.8 384.4l-3.5 -8.3M537.6 379.8l-26.3 -6.0M511.3 373.8l0.2 -9.0M550.4 379.8l-27.0 1.2M523.4 381.0l-2.2 -8.7M527.9 380.8l-2.2 -8.7M563.2 379.8l-20.1 -18.1M543.2 361.8l4.6 -7.8M576.0 379.8l-19.4 -18.8M556.6 361.0l4.8 -7.6M559.9 364.2l4.8 -7.6M588.8 379.8l-20.5 -17.6M568.3 362.3l4.4 -7.9M601.6 379.8l-26.9 2.7M574.8 382.5l-2.7 -8.6M614.4 379.8l-23.8 -12.8M590.7 367.0l2.6 -8.6M627.2 379.8l-26.9 2.7M600.4 382.5l-2.7 -8.6M604.8 382.1l-2.7 -8.6M640.0 379.8l-24.9 10.5M615.2 390.3l-5.1 -7.4M652.8 379.8l-26.3 -6.2M626.6 373.7l0.3 -9.0M665.6 379.8l-27.0 0.6M638.6 380.4l-2.0 -8.8M678.4 379.8l-20.6 17.5M657.9 397.3l-7.1 -5.6M691.2 379.8l-26.9 -2.8M664.4 377.1l-0.9 -9.0M704.1 379.8l-25.7 8.2M678.3 388.0l-4.4 -7.9M716.9 379.8l-27.0 -0.7M689.9 379.1l-1.6 -8.9M729.7 379.8l-23.4 13.5M706.3 393.4l-6.0 -6.7M710.2 391.1l-6.0 -6.7M742.5 379.8l-25.4 9.2M717.1 389.1l-4.7 -7.7M755.3 379.8l-26.4 -5.7M728.9 374.1l0.1 -9.0M768.1 379.8l-24.6 11.1M743.4 390.9l-5.3 -7.3M780.9 379.8l-26.6 -4.4M754.2 375.4l-0.3 -9.0M793.7 379.8l-22.4 15.1M771.3 394.9l-6.4 -6.3M806.5 379.8l-26.8 -3.3M779.7 376.6l-0.7 -9.0M784.1 377.1l-0.7 -9.0M819.3 379.8l-26.5 -5.1M792.8 374.7l-0.1 -9.0M832.1 379.8l-27.0 1.4M805.1 381.2l-2.3 -8.7M809.6 381.0l-2.3 -8.7M844.9 379.8l-26.4 5.6M818.5 385.5l-3.6 -8.2M857.7 379.8l-21.9 15.8M835.8 395.7l-6.6 -6.1M839.5 393.0l-6.6 -6.1M870.5 379.8l-26.9 -2.0M843.6 377.8l-1.1 -8.9M153.5 369.9l-27.0 -1.4M126.5 368.6l-1.4 -8.9M166.3 369.9l-25.8 -8.0M140.5 361.9l0.9 -9.0M144.8 363.2l0.9 -9.0M179.1 369.9l-27.0 0.3M152.1 370.2l-1.9 -8.8M191.9 369.9l-25.7 -8.3M166.2 361.7l1.0 -8.9M204.7 369.9l-27.0 -0.9M177.7 369.0l-1.5 -8.9M217.5 369.9l-25.2 -9.6M192.3 360.3l1.4 -8.9M230.3 369.9l-24.7 -10.9M205.6 359.0l1.9 -8.8M243.1 369.9l-26.1 -6.8M217.0 363.1l0.5 -9.0M255.9 369.9l-26.2 -6.6M229.7 363.3l0.4 -9.0M268.7 369.9l-24.4 -11.5M244.3 358.4l2.1 -8.7M248.4 360.3l2.1 -8.7M281.5 369.9l-25.4 -9.2M256.2 360.7l1.3 -8.9M260.4 362.3l1.3 -8.9M294.3 369.9l-22.1 -15.5M272.2 354.5l3.6 -8.3M275.9 357.0l3.6 -8.3M307.1 369.9l-20.9 -17.1M286.2 352.9l4.2 -8.0M289.7 355.7l4.2 -8.0M319.9 369.9l-22.4 -15.0M297.5 354.9l3.4 -8.3M332.8 369.9l-25.1 -10.0M307.7 359.9l1.6 -8.9M311.9 361.6l1.6 -8.9M345.6 369.9l-24.0 -12.4M321.6 357.5l2.5 -8.7M325.6 359.6l2.5 -8.7M358.4 369.9l-22.3 -15.3M336.1 354.6l3.5 -8.3M339.8 357.2l3.5 -8.3M371.2 369.9l-21.2 -16.7M349.9 353.2l4.0 -8.0M353.5 356.0l4.0 -8.0M384.0 369.9l-26.8 -3.3M357.2 366.6l-0.7 -9.0M396.8 369.9l-21.4 -16.4M375.3 353.5l3.9 -8.1M409.6 369.9l-26.6 4.4M382.9 374.3l-3.2 -8.4M387.4 373.6l-3.2 -8.4M422.4 369.9l-26.9 2.2M395.5 372.1l-2.5 -8.6M435.2 369.9l-26.3 -6.0M408.8 364.0l0.2 -9.0M448.0 369.9l-25.9 -7.8M422.1 362.1l0.8 -9.0M460.8 369.9l-27.0 -0.2M433.8 369.7l-1.7 -8.8M473.6 369.9l-24.8 -10.7M448.8 359.2l1.8 -8.8M486.4 369.9l-26.9 -1.7M459.4 368.2l-1.2 -8.9M499.2 369.9l-24.7 -10.9M474.5 359.0l1.9 -8.8M512.0 369.9l-18.4 -19.8M493.6 350.1l5.2 -7.3M496.7 353.4l5.2 -7.3M524.8 369.9l-18.0 -20.1M506.8 349.8l5.4 -7.2M537.6 369.9l-20.9 -17.1M516.7 352.8l4.2 -8.0M520.2 355.7l4.2 -8.0M550.4 369.9l-16.7 -21.2M533.7 348.7l5.8 -6.9M563.2 369.9l-26.8 -3.1M536.4 366.8l-0.8 -9.0M576.0 369.9l-20.4 -17.7M555.6 352.3l4.4 -7.8M559.0 355.2l4.4 -7.8M588.8 369.9l-22.1 -15.6M566.8 354.4l3.6 -8.2M601.6 369.9l-21.3 -16.6M580.4 353.3l4.0 -8.1M614.4 369.9l-24.3 -11.9M590.2 358.1l2.3 -8.7M627.2 369.9l-25.0 10.2M602.3 380.2l-5.0 -7.5M640.0 369.9l-26.0 -7.2M614.0 362.7l0.6 -9.0M652.8 369.9l-26.9 -2.7M626.0 367.2l-0.9 -9.0M665.6 369.9l-25.6 -8.6M640.1 361.3l1.1 -8.9M678.4 369.9l-26.1 7.1M652.4 377.0l-4.0 -8.0M691.2 369.9l-26.9 1.8M664.3 371.7l-2.4 -8.7M704.1 369.9l-26.9 -2.2M677.1 367.7l-1.1 -8.9M681.6 368.1l-1.1 -8.9M716.9 369.9l-27.0 0.2M689.9 370.1l-1.9 -8.8M729.7 369.9l-27.0 -1.2M702.7 368.7l-1.4 -8.9M707.2 368.9l-1.4 -8.9M742.5 369.9l-26.3 6.2M716.2 376.1l-3.8 -8.2M720.6 375.1l-3.8 -8.2M755.3 369.9l-23.4 13.6M731.9 383.5l-6.0 -6.7M768.1 369.9l-20.7 17.4M747.4 387.3l-7.1 -5.6M780.9 369.9l-21.3 16.6M759.6 386.5l-6.8 -5.8M793.7 369.9l-25.6 8.5M768.1 378.4l-4.5 -7.8M806.5 369.9l-15.8 21.9M790.6 391.8l-8.2 -3.7M793.3 388.1l-8.2 -3.7M819.3 369.9l-21.1 16.8M798.1 386.7l-6.9 -5.8M832.1 369.9l-27.0 -1.1M805.1 368.8l-1.4 -8.9M844.9 369.9l-17.9 20.2M827.0 390.1l-7.8 -4.5M857.7 369.9l-21.0 17.0M836.7 386.9l-7.0 -5.7M870.5 369.9l-27.0 1.6M843.5 371.5l-2.3 -8.7M153.5 360.0l-26.9 -2.8M126.6 357.2l-0.9 -9.0M166.3 360.0l-27.0 1.5M139.3 361.5l-2.3 -8.7M179.1 360.0l-27.0 -1.6M152.2 358.4l-1.3 -8.9M191.9 360.0l-27.0 -0.2M164.9 359.8l-1.7 -8.8M204.7 360.0l-26.1 -6.9M178.6 353.1l0.5 -9.0M183.0 354.2l0.5 -9.0M217.5 360.0l-25.4 -9.2M192.1 350.8l1.3 -8.9M230.3 360.0l-24.9 -10.5M205.5 349.5l1.8 -8.8M243.1 360.0l-26.4 -5.4M216.7 354.6l0.0 -9.0M255.9 360.0l-26.4 -5.5M229.5 354.5l0.0 -9.0M268.7 360.0l-25.7 -8.4M243.1 351.6l1.0 -8.9M247.3 353.0l1.0 -8.9M281.5 360.0l-26.5 -5.2M255.0 354.8l-0.1 -9.0M294.3 360.0l-25.0 -10.2M269.3 349.8l1.7 -8.8M307.1 360.0l-25.4 -9.1M281.7 350.9l1.3 -8.9M286.0 352.4l1.3 -8.9M319.9 360.0l-25.5 -9.0M294.5 351.0l1.2 -8.9M298.7 352.5l1.2 -8.9M332.8 360.0l-20.5 -17.6M312.3 342.4l4.4 -7.9M315.7 345.3l4.4 -7.9M345.6 360.0l-26.4 -5.8M319.2 354.2l0.1 -9.0M323.6 355.2l0.1 -9.0M358.4 360.0l-26.6 -4.7M331.8 355.3l-0.3 -9.0M371.2 360.0l-24.9 -10.5M346.3 349.5l1.8 -8.8M384.0 360.0l-25.0 -10.1M358.9 349.9l1.6 -8.9M396.8 360.0l-27.0 -1.4M369.8 358.6l-1.4 -8.9M409.6 360.0l-26.7 -4.0M382.9 356.0l-0.5 -9.0M387.3 356.7l-0.5 -9.0M422.4 360.0l-21.7 -16.0M400.7 344.0l3.8 -8.2M404.3 346.6l3.8 -8.2M435.2 360.0l-27.0 0.5M408.2 360.5l-2.0 -8.8M448.0 360.0l-26.8 -3.6M421.2 356.4l-0.6 -9.0M425.7 357.0l-0.6 -9.0M460.8 360.0l-20.8 -17.3M440.0 342.7l4.3 -7.9M443.5 345.6l4.3 -7.9M473.6 360.0l-26.9 -2.5M446.7 357.5l-1.0 -8.9M486.4 360.0l-26.8 -3.5M459.6 356.5l-0.6 -9.0M464.1 357.1l-0.6 -9.0M499.2 360.0l-25.5 -9.0M473.7 351.0l1.2 -8.9M512.0 360.0l-24.5 -11.3M487.5 348.7l2.1 -8.8M491.6 350.6l2.1 -8.8M524.8 360.0l-27.0 -0.7M497.8 359.3l-1.6 -8.9M502.3 359.4l-1.6 -8.9M537.6 360.0l-27.0 0.5M510.6 360.5l-2.0 -8.8M550.4 360.0l-14.0 -23.1M536.5 336.9l6.6 -6.1M563.2 360.0l-26.3 -6.1M536.9 353.9l0.2 -9.0M576.0 360.0l-22.2 -15.3M553.8 344.7l3.5 -8.3M557.5 347.3l3.5 -8.3M588.8 360.0l-19.3 -18.9M569.5 341.1l4.9 -7.6M601.6 360.0l-20.8 -17.2M580.8 342.8l4.2 -8.0M614.4 360.0l-21.1 -16.8M593.3 343.2l4.1 -8.0M627.2 360.0l-26.0 7.2M601.2 367.2l-4.1 -8.0M605.5 366.0l-4.1 -8.0M640.0 360.0l-26.3 6.1M613.7 366.1l-3.7 -8.2M652.8 360.0l-25.0 10.3M627.9 370.3l-5.0 -7.5M665.6 360.0l-26.4 -5.4M639.2 354.6l0.0 -9.0M678.4 360.0l-26.7 4.2M651.8 364.2l-3.1 -8.4M656.2 363.5l-3.1 -8.4M691.2 360.0l-26.1 -7.0M665.2 353.0l0.6 -9.0M704.1 360.0l-26.1 7.0M678.0 367.0l-4.0 -8.1M716.9 360.0l-26.9 -1.7M689.9 358.3l-1.3 -8.9M729.7 360.0l-26.8 3.4M702.9 363.4l-2.9 -8.5M742.5 360.0l-26.4 -5.4M716.0 354.6l0.0 -9.0M755.3 360.0l-21.1 16.9M734.2 376.9l-6.9 -5.8M737.7 374.1l-6.9 -5.8M768.1 360.0l-19.4 18.8M748.7 378.8l-7.4 -5.1M780.9 360.0l-19.8 18.3M761.0 378.3l-7.3 -5.3M764.3 375.3l-7.3 -5.3M793.7 360.0l-26.5 5.2M767.2 365.2l-3.5 -8.3M806.5 360.0l-17.8 20.3M788.7 380.3l-7.8 -4.5M819.3 360.0l-26.5 5.0M792.7 365.0l-3.4 -8.3M832.1 360.0l-26.9 2.6M805.2 362.6l-2.6 -8.6M809.7 362.2l-2.6 -8.6M844.9 360.0l-26.9 -2.3M818.0 357.7l-1.0 -8.9M857.7 360.0l-26.8 2.9M830.9 362.9l-2.7 -8.6M870.5 360.0l-26.9 1.9M843.6 361.9l-2.4 -8.7M848.1 361.5l-2.4 -8.7M153.5 350.1l-26.8 -3.1M126.7 346.9l-0.8 -9.0M131.2 347.5l-0.8 -9.0M166.3 350.1l-26.5 -5.1M139.8 345.0l-0.1 -9.0M179.1 350.1l-26.9 2.1M152.2 352.2l-2.5 -8.7M191.9 350.1l-27.0 -1.4M164.9 348.6l-1.3 -8.9M204.7 350.1l-26.9 2.6M177.8 352.7l-2.6 -8.6M217.5 350.1l-27.0 -1.4M190.6 348.7l-1.3 -8.9M195.0 348.9l-1.3 -8.9M230.3 350.1l-26.9 -2.1M203.4 347.9l-1.1 -8.9M243.1 350.1l-26.9 -2.8M216.3 347.3l-0.9 -9.0M255.9 350.1l-25.1 -10.0M230.9 340.0l1.6 -8.9M235.0 341.7l1.6 -8.9M268.7 350.1l-26.9 -2.1M241.8 347.9l-1.1 -8.9M246.3 348.3l-1.1 -8.9M281.5 350.1l-25.4 -9.3M256.2 340.8l1.3 -8.9M294.3 350.1l-24.0 -12.4M270.3 337.7l2.4 -8.7M307.1 350.1l-26.7 -4.2M280.5 345.9l-0.4 -9.0M284.9 346.6l-0.4 -9.0M319.9 350.1l-25.3 -9.4M294.6 340.7l1.4 -8.9M332.8 350.1l-24.6 -11.2M308.2 338.9l2.0 -8.8M345.6 350.1l-19.2 -19.0M326.4 331.1l4.9 -7.5M329.6 334.2l4.9 -7.5M358.4 350.1l-20.4 -17.7M337.9 332.4l4.4 -7.8M371.2 350.1l-25.0 -10.1M346.1 339.9l1.6 -8.9M350.3 341.6l1.6 -8.9M384.0 350.1l-26.9 1.9M357.0 351.9l-2.4 -8.7M396.8 350.1l-25.0 -10.1M371.7 340.0l1.6 -8.9M375.9 341.7l1.6 -8.9M409.6 350.1l-21.9 -15.8M387.7 334.2l3.7 -8.2M391.3 336.9l3.7 -8.2M422.4 350.1l-24.4 -11.6M398.0 338.5l2.2 -8.7M402.1 340.4l2.2 -8.7M435.2 350.1l-23.3 -13.6M411.8 336.5l2.9 -8.5M415.7 338.8l2.9 -8.5M448.0 350.1l-26.7 -4.2M421.3 345.9l-0.4 -9.0M460.8 350.1l-27.0 0.0M433.8 350.1l-1.8 -8.8M473.6 350.1l-24.9 -10.4M448.7 339.7l1.7 -8.8M486.4 350.1l-24.0 -12.4M462.4 337.6l2.5 -8.7M499.2 350.1l-17.7 -20.4M481.5 329.7l5.5 -7.2M484.4 333.1l5.5 -7.2M512.0 350.1l-27.0 1.3M485.0 351.4l-2.2 -8.7M489.5 351.2l-2.2 -8.7M524.8 350.1l-23.9 -12.5M500.9 337.5l2.5 -8.6M537.6 350.1l-26.7 -4.1M510.9 346.0l-0.4 -9.0M515.4 346.7l-0.4 -9.0M550.4 350.1l-18.5 -19.7M532.0 330.4l5.2 -7.3M535.0 333.7l5.2 -7.3M563.2 350.1l-20.1 -18.0M543.1 332.1l4.5 -7.8M576.0 350.1l-26.7 -3.8M549.3 346.3l-0.6 -9.0M588.8 350.1l-26.7 -4.1M562.1 346.0l-0.4 -9.0M566.6 346.7l-0.4 -9.0M601.6 350.1l-15.5 -22.1M586.1 328.0l6.2 -6.6M614.4 350.1l-27.0 0.7M587.4 350.8l-2.0 -8.8M627.2 350.1l-26.4 -5.7M600.8 344.4l0.1 -9.0M605.2 345.3l0.1 -9.0M640.0 350.1l-25.5 -8.8M614.5 341.3l1.2 -8.9M652.8 350.1l-26.4 5.6M626.4 355.7l-3.6 -8.3M665.6 350.1l-24.3 11.7M641.3 361.8l-5.5 -7.2M645.4 359.9l-5.5 -7.2M678.4 350.1l-25.2 -9.8M653.3 340.3l1.5 -8.9M657.5 341.9l1.5 -8.9M691.2 350.1l-26.7 3.9M664.5 354.0l-3.1 -8.5M704.1 350.1l-21.7 16.1M682.4 366.2l-6.7 -6.0M716.9 350.1l-25.5 8.9M691.4 359.0l-4.6 -7.7M729.7 350.1l-26.7 3.8M702.9 353.9l-3.0 -8.5M742.5 350.1l-25.9 -7.7M716.6 342.3l0.8 -9.0M755.3 350.1l-26.9 -2.3M728.4 347.8l-1.1 -8.9M768.1 350.1l-25.3 9.3M742.7 359.4l-4.7 -7.7M780.9 350.1l-26.5 -4.9M754.3 345.1l-0.2 -9.0M758.8 346.0l-0.2 -9.0M793.7 350.1l-25.3 9.3M768.3 359.4l-4.7 -7.7M806.5 350.1l-26.5 -5.1M780.0 344.9l-0.1 -9.0M784.4 345.8l-0.1 -9.0M819.3 350.1l-26.2 6.5M793.1 356.6l-3.9 -8.1M832.1 350.1l-26.9 2.8M805.2 352.8l-2.7 -8.6M809.7 352.4l-2.7 -8.6M844.9 350.1l-25.6 8.6M819.3 358.7l-4.5 -7.8M823.6 357.3l-4.5 -7.8M857.7 350.1l-27.0 0.3M830.7 350.4l-1.9 -8.8M870.5 350.1l-20.7 17.4M849.8 367.5l-7.1 -5.6M153.5 340.2l-26.9 1.7M126.6 341.8l-2.3 -8.7M166.3 340.2l-26.0 -7.4M140.3 332.7l0.7 -9.0M144.7 334.0l0.7 -9.0M179.1 340.2l-26.9 2.7M152.2 342.9l-2.7 -8.6M191.9 340.2l-26.2 -6.4M165.7 333.7l0.4 -9.0M170.1 334.8l0.4 -9.0M204.7 340.2l-26.7 -4.1M178.0 336.1l-0.5 -9.0M217.5 340.2l-26.3 -5.9M191.2 334.3l0.2 -9.0M195.6 335.2l0.2 -9.0M230.3 340.2l-26.8 -3.2M203.5 336.9l-0.7 -9.0M243.1 340.2l-25.1 -10.0M218.0 330.2l1.6 -8.9M222.2 331.8l1.6 -8.9M255.9 340.2l-25.4 -9.3M230.6 330.9l1.3 -8.9M268.7 340.2l-26.5 -5.3M242.3 334.8l-0.0 -9.0M246.7 335.7l-0.0 -9.0M281.5 340.2l-26.6 -4.5M254.9 335.6l-0.3 -9.0M294.3 340.2l-25.4 -9.3M269.0 330.9l1.3 -8.9M273.2 332.4l1.3 -8.9M307.1 340.2l-26.7 -3.7M280.4 336.5l-0.6 -9.0M319.9 340.2l-26.2 -6.5M293.7 333.6l0.4 -9.0M298.1 334.7l0.4 -9.0M332.8 340.2l-22.7 -14.7M310.1 325.5l3.3 -8.4M345.6 340.2l-21.9 -15.8M323.7 324.4l3.7 -8.2M358.4 340.2l-24.9 -10.4M333.4 329.8l1.7 -8.8M337.6 331.5l1.7 -8.8M371.2 340.2l-21.3 -16.6M349.8 323.6l4.0 -8.1M384.0 340.2l-26.6 -4.8M357.4 335.4l-0.2 -9.0M396.8 340.2l-20.6 -17.4M376.1 322.7l4.3 -7.9M409.6 340.2l-22.1 -15.5M387.5 324.6l3.6 -8.3M422.4 340.2l-21.2 -16.7M401.2 323.5l4.0 -8.0M404.7 326.2l4.0 -8.0M435.2 340.2l-20.1 -18.1M415.1 322.1l4.6 -7.8M448.0 340.2l-26.6 4.4M421.3 344.6l-3.2 -8.4M460.8 340.2l-27.0 -1.2M433.8 338.9l-1.4 -8.9M473.6 340.2l-26.8 3.1M446.8 343.3l-2.8 -8.6M486.4 340.2l-20.4 -17.7M466.0 322.5l4.4 -7.8M499.2 340.2l-26.6 -4.8M472.6 335.4l-0.2 -9.0M477.0 336.2l-0.2 -9.0M512.0 340.2l-25.7 -8.3M486.3 331.8l1.0 -8.9M524.8 340.2l-21.2 -16.7M503.6 323.4l4.0 -8.0M537.6 340.2l-16.1 -21.7M521.5 318.5l6.0 -6.7M524.2 322.1l6.0 -6.7M550.4 340.2l-17.5 -20.6M532.9 319.6l5.6 -7.1M563.2 340.2l-26.4 -5.6M536.8 334.6l0.1 -9.0M541.2 335.5l0.1 -9.0M576.0 340.2l-26.5 -5.2M549.5 334.9l-0.1 -9.0M553.9 335.8l-0.1 -9.0M588.8 340.2l-19.4 -18.7M569.4 321.4l4.8 -7.6M601.6 340.2l-26.4 -5.7M575.2 334.5l0.1 -9.0M614.4 340.2l-15.7 -22.0M598.7 318.2l6.1 -6.6M627.2 340.2l-23.2 -13.8M604.0 326.3l3.0 -8.5M640.0 340.2l-21.5 -16.3M618.5 323.8l3.9 -8.1M652.8 340.2l-26.6 4.4M626.2 344.6l-3.2 -8.4M630.6 343.9l-3.2 -8.4M665.6 340.2l-26.0 -7.1M639.6 333.1l0.6 -9.0M678.4 340.2l-26.5 4.9M651.9 345.1l-3.4 -8.3M656.3 344.3l-3.4 -8.3M691.2 340.2l-23.6 -13.1M667.6 327.1l2.7 -8.6M671.6 329.2l2.7 -8.6M704.1 340.2l-24.0 12.3M680.0 352.5l-5.6 -7.0M684.0 350.4l-5.6 -7.0M716.9 340.2l-25.8 8.0M691.1 348.1l-4.3 -7.9M729.7 340.2l-26.8 -3.2M702.9 336.9l-0.7 -9.0M707.3 337.5l-0.7 -9.0M742.5 340.2l-23.2 13.8M719.3 354.0l-6.1 -6.7M755.3 340.2l-26.5 -5.0M728.7 335.2l-0.2 -9.0M768.1 340.2l-26.8 -3.2M741.3 336.9l-0.7 -9.0M745.7 337.5l-0.7 -9.0M780.9 340.2l-24.4 -11.5M756.4 328.7l2.1 -8.7M793.7 340.2l-23.4 13.5M770.3 353.7l-6.0 -6.7M806.5 340.2l-22.9 14.3M783.6 354.5l-6.2 -6.5M787.4 352.1l-6.2 -6.5M819.3 340.2l-26.6 -4.7M792.7 335.4l-0.2 -9.0M832.1 340.2l-22.6 14.8M809.5 355.0l-6.3 -6.4M844.9 340.2l-27.0 -0.4M817.9 339.7l-1.7 -8.8M822.4 339.8l-1.7 -8.8M857.7 340.2l-27.0 0.8M830.7 341.0l-2.1 -8.8M870.5 340.2l-23.0 14.1M847.5 354.3l-6.2 -6.6M851.3 351.9l-6.2 -6.6M153.5 330.2l-27.0 0.0M126.5 330.3l-1.8 -8.8M166.3 330.2l-27.0 0.3M139.3 330.6l-1.9 -8.8M179.1 330.2l-26.9 -2.7M152.2 327.5l-0.9 -9.0M191.9 330.2l-26.2 -6.7M165.8 323.5l0.5 -9.0M204.7 330.2l-27.0 -0.5M177.7 329.8l-1.6 -8.9M182.2 329.8l-1.6 -8.9M217.5 330.2l-25.4 -9.2M192.1 321.0l1.3 -8.9M230.3 330.2l-25.4 -9.2M204.9 321.1l1.3 -8.9M209.2 322.6l1.3 -8.9M243.1 330.2l-23.9 -12.5M219.2 317.7l2.5 -8.6M255.9 330.2l-25.3 -9.4M230.6 320.9l1.4 -8.9M268.7 330.2l-26.9 -2.3M241.8 327.9l-1.0 -8.9M281.5 330.2l-24.5 -11.4M257.0 318.9l2.1 -8.8M261.1 320.8l2.1 -8.8M294.3 330.2l-23.1 -14.1M271.3 316.2l3.1 -8.5M307.1 330.2l-26.2 -6.7M281.0 323.5l0.4 -9.0M319.9 330.2l-23.4 -13.5M296.6 316.7l2.9 -8.5M332.8 330.2l-25.5 -9.0M307.3 321.3l1.2 -8.9M345.6 330.2l-26.8 -3.4M318.8 326.8l-0.7 -9.0M358.4 330.2l-26.5 -5.4M331.9 324.8l-0.0 -9.0M336.3 325.7l-0.0 -9.0M371.2 330.2l-27.0 -0.1M344.2 330.2l-1.8 -8.8M348.7 330.2l-1.8 -8.8M384.0 330.2l-26.0 -7.3M358.0 322.9l0.7 -9.0M396.8 330.2l-26.9 -2.2M369.9 328.0l-1.1 -8.9M374.3 328.4l-1.1 -8.9M409.6 330.2l-22.5 -14.9M387.0 315.4l3.3 -8.4M390.8 317.9l3.3 -8.4M422.4 330.2l-21.2 -16.7M401.2 313.5l4.0 -8.0M435.2 330.2l-26.4 -5.6M408.8 324.7l0.1 -9.0M448.0 330.2l-25.0 -10.1M423.0 320.1l1.6 -8.8M460.8 330.2l-25.7 -8.2M435.1 322.0l1.0 -8.9M439.4 323.4l1.0 -8.9M473.6 330.2l-27.0 -1.2M446.6 329.0l-1.4 -8.9M486.4 330.2l-26.9 2.5M459.5 332.7l-2.6 -8.6M464.0 332.3l-2.6 -8.6M499.2 330.2l-23.7 -13.0M475.5 317.2l2.7 -8.6M512.0 330.2l-26.6 -4.7M485.4 325.6l-0.3 -9.0M524.8 330.2l-13.1 -23.6M511.7 306.6l6.8 -5.8M513.9 310.6l6.8 -5.8M537.6 330.2l-13.7 -23.2M523.9 307.0l6.7 -6.0M526.2 310.9l6.7 -6.0M550.4 330.2l-26.5 -5.3M523.9 324.9l-0.0 -9.0M563.2 330.2l-25.8 -7.9M537.4 322.4l0.8 -9.0M576.0 330.2l-25.2 -9.6M550.8 320.6l1.5 -8.9M588.8 330.2l-15.9 -21.8M572.9 308.4l6.1 -6.6M601.6 330.2l-26.6 -4.4M575.0 325.9l-0.3 -9.0M579.4 326.6l-0.3 -9.0M614.4 330.2l-24.1 -12.1M590.3 318.1l2.4 -8.7M627.2 330.2l-18.9 -19.3M608.4 310.9l5.1 -7.4M640.0 330.2l-18.6 -19.6M621.4 310.7l5.2 -7.4M624.5 313.9l5.2 -7.4M652.8 330.2l-21.9 -15.8M630.9 314.5l3.7 -8.2M665.6 330.2l-26.7 -3.8M638.9 326.5l-0.5 -9.0M643.4 327.1l-0.5 -9.0M678.4 330.2l-19.9 -18.3M658.6 312.0l4.6 -7.7M691.2 330.2l-27.0 0.6M664.3 330.9l-2.0 -8.8M668.8 330.8l-2.0 -8.8M704.1 330.2l-25.7 -8.3M678.3 322.0l1.0 -8.9M682.6 323.4l1.0 -8.9M716.9 330.2l-26.4 5.5M690.4 335.8l-3.6 -8.3M729.7 330.2l-23.0 -14.1M706.6 316.1l3.1 -8.5M710.5 318.5l3.1 -8.5M742.5 330.2l-26.5 -5.1M716.0 325.1l-0.1 -9.0M755.3 330.2l-26.9 2.1M728.3 332.3l-2.5 -8.7M732.8 331.9l-2.5 -8.7M768.1 330.2l-24.8 -10.8M743.3 319.5l1.9 -8.8M780.9 330.2l-26.7 -3.8M754.1 326.4l-0.5 -9.0M758.6 327.0l-0.5 -9.0M793.7 330.2l-26.2 -6.4M767.4 323.9l0.3 -9.0M806.5 330.2l-26.3 -6.0M780.2 324.3l0.2 -9.0M819.3 330.2l-26.6 -4.5M792.7 325.8l-0.3 -9.0M832.1 330.2l-25.2 9.7M806.9 339.9l-4.8 -7.6M844.9 330.2l-26.7 -4.3M818.2 326.0l-0.4 -9.0M822.7 326.7l-0.4 -9.0M857.7 330.2l-26.3 6.0M831.4 336.2l-3.7 -8.2M835.8 335.2l-3.7 -8.2M870.5 330.2l-23.3 -13.7M847.2 316.5l2.9 -8.5M153.5 320.3l-26.4 -5.7M127.1 314.6l0.1 -9.0M166.3 320.3l-26.3 -6.0M140.0 314.3l0.2 -9.0M179.1 320.3l-26.5 -5.2M152.6 315.1l-0.1 -9.0M157.0 316.0l-0.1 -9.0M191.9 320.3l-24.6 -11.2M167.4 309.1l2.0 -8.8M204.7 320.3l-26.8 -2.9M177.9 317.4l-0.8 -9.0M217.5 320.3l-24.7 -10.9M192.8 309.4l1.9 -8.8M230.3 320.3l-25.9 -7.7M204.4 312.6l0.8 -9.0M243.1 320.3l-24.6 -11.2M218.5 309.2l2.0 -8.8M222.6 311.0l2.0 -8.8M255.9 320.3l-26.2 -6.7M229.8 313.7l0.4 -9.0M268.7 320.3l-23.9 -12.6M244.8 307.7l2.5 -8.6M281.5 320.3l-26.7 -3.8M254.8 316.6l-0.6 -9.0M294.3 320.3l-24.0 -12.4M270.4 307.9l2.5 -8.7M274.4 310.0l2.5 -8.7M307.1 320.3l-26.8 -2.9M280.3 317.4l-0.8 -9.0M319.9 320.3l-25.2 -9.7M294.7 310.6l1.5 -8.9M298.9 312.2l1.5 -8.9M332.8 320.3l-26.7 -4.0M306.0 316.3l-0.5 -9.0M345.6 320.3l-27.0 1.6M318.6 321.9l-2.3 -8.7M358.4 320.3l-27.0 -0.4M331.4 319.9l-1.7 -8.8M335.9 320.0l-1.7 -8.8M371.2 320.3l-27.0 -1.3M344.2 319.0l-1.4 -8.9M348.7 319.2l-1.4 -8.9M384.0 320.3l-24.4 -11.5M359.5 308.8l2.1 -8.7M396.8 320.3l-27.0 0.3M369.8 320.7l-1.9 -8.8M374.3 320.6l-1.9 -8.8M409.6 320.3l-22.0 -15.7M387.6 304.6l3.7 -8.2M422.4 320.3l-25.8 -7.9M396.6 312.4l0.9 -9.0M435.2 320.3l-20.6 -17.5M414.6 302.9l4.3 -7.9M418.0 305.8l4.3 -7.9M448.0 320.3l-26.9 -1.8M421.0 318.6l-1.2 -8.9M460.8 320.3l-18.3 -19.8M442.5 300.5l5.3 -7.3M473.6 320.3l-26.8 -3.5M446.8 316.8l-0.6 -9.0M451.3 317.4l-0.6 -9.0M486.4 320.3l-26.9 -2.8M459.5 317.5l-0.9 -9.0M464.0 318.0l-0.9 -9.0M499.2 320.3l-24.7 -10.8M474.5 309.5l1.9 -8.8M512.0 320.3l-24.4 -11.5M487.6 308.8l2.1 -8.7M524.8 320.3l-20.3 -17.7M504.5 302.6l4.4 -7.8M537.6 320.3l-19.4 -18.8M518.2 301.5l4.8 -7.6M550.4 320.3l-18.7 -19.5M531.7 300.8l5.1 -7.4M563.2 320.3l-7.1 -26.1M556.1 294.3l8.0 -4.0M576.0 320.3l-18.3 -19.8M557.7 300.5l5.2 -7.3M560.7 303.8l5.2 -7.3M588.8 320.3l-23.9 -12.6M564.9 307.7l2.5 -8.6M601.6 320.3l-19.7 -18.4M581.9 301.9l4.7 -7.7M585.2 305.0l4.7 -7.7M614.4 320.3l-21.0 -17.0M593.4 303.3l4.2 -8.0M596.9 306.2l4.2 -8.0M627.2 320.3l-14.9 -22.5M612.3 297.8l6.4 -6.4M640.0 320.3l-15.4 -22.2M624.7 298.1l6.2 -6.5M652.8 320.3l-24.1 -12.2M628.8 308.1l2.4 -8.7M632.8 310.2l2.4 -8.7M665.6 320.3l-26.0 -7.4M639.7 312.9l0.7 -9.0M644.0 314.2l0.7 -9.0M678.4 320.3l-26.8 -3.1M651.6 317.2l-0.8 -9.0M691.2 320.3l-25.9 -7.7M665.4 312.6l0.8 -9.0M669.7 313.9l0.8 -9.0M704.1 320.3l-26.1 -6.8M677.9 313.5l0.5 -9.0M716.9 320.3l-26.3 6.1M690.6 326.4l-3.7 -8.2M694.9 325.4l-3.7 -8.2M729.7 320.3l-26.7 3.9M702.9 324.2l-3.0 -8.5M742.5 320.3l-27.0 0.7M715.5 321.1l-2.0 -8.8M755.3 320.3l-23.4 -13.5M731.9 306.8l2.8 -8.5M768.1 320.3l-26.5 -5.3M741.6 315.1l-0.0 -9.0M780.9 320.3l-26.1 7.0M754.8 327.3l-4.0 -8.1M759.1 326.1l-4.0 -8.1M793.7 320.3l-26.7 3.8M767.0 324.1l-3.0 -8.5M806.5 320.3l-22.3 -15.3M784.2 305.0l3.5 -8.3M819.3 320.3l-26.8 3.6M792.5 324.0l-3.0 -8.5M797.0 323.4l-3.0 -8.5M832.1 320.3l-25.9 7.5M806.2 327.9l-4.2 -8.0M810.5 326.6l-4.2 -8.0M844.9 320.3l-26.5 5.3M818.4 325.6l-3.5 -8.3M822.8 324.8l-3.5 -8.3M857.7 320.3l-26.8 -3.5M830.9 316.8l-0.6 -9.0M870.5 320.3l-24.5 -11.4M846.0 308.9l2.1 -8.8M850.1 310.8l2.1 -8.8M153.5 310.4l-26.5 -5.1M127.0 305.3l-0.1 -9.0M166.3 310.4l-24.5 -11.4M141.8 299.0l2.1 -8.8M145.9 300.9l2.1 -8.8M179.1 310.4l-25.2 -9.7M153.9 300.7l1.5 -8.9M191.9 310.4l-26.9 -2.6M165.0 307.8l-0.9 -9.0M204.7 310.4l-25.2 -9.8M179.6 300.6l1.5 -8.9M217.5 310.4l-24.7 -10.9M192.8 299.5l1.9 -8.8M230.3 310.4l-26.7 -4.2M203.6 306.2l-0.4 -9.0M243.1 310.4l-27.0 -1.3M216.2 309.1l-1.4 -8.9M255.9 310.4l-26.4 -5.8M229.6 304.6l0.1 -9.0M268.7 310.4l-24.0 -12.5M244.8 297.9l2.5 -8.7M281.5 310.4l-26.4 -5.9M255.2 304.5l0.2 -9.0M294.3 310.4l-26.7 -3.9M267.6 306.5l-0.5 -9.0M272.1 307.1l-0.5 -9.0M307.1 310.4l-27.0 -1.6M280.2 308.8l-1.3 -8.9M319.9 310.4l-24.8 -10.6M295.1 299.8l1.8 -8.8M332.8 310.4l-25.1 -9.9M307.6 300.5l1.5 -8.9M311.8 302.2l1.5 -8.9M345.6 310.4l-26.9 -2.3M318.7 308.1l-1.0 -8.9M323.1 308.5l-1.0 -8.9M358.4 310.4l-27.0 -0.1M331.4 310.3l-1.8 -8.8M335.9 310.3l-1.8 -8.8M371.2 310.4l-26.5 -5.1M344.7 305.3l-0.1 -9.0M384.0 310.4l-26.2 -6.6M357.8 303.8l0.4 -9.0M396.8 310.4l-23.3 -13.6M373.5 296.8l2.9 -8.5M377.3 299.0l2.9 -8.5M409.6 310.4l-18.4 -19.7M391.1 290.7l5.2 -7.3M394.2 294.0l5.2 -7.3M422.4 310.4l-26.4 -5.6M396.0 304.8l0.1 -9.0M435.2 310.4l-25.7 -8.3M409.5 302.1l1.0 -8.9M448.0 310.4l-20.5 -17.6M427.5 292.8l4.4 -7.9M430.9 295.7l4.4 -7.9M460.8 310.4l-26.4 -5.7M434.4 304.7l0.1 -9.0M438.8 305.6l0.1 -9.0M473.6 310.4l-15.6 -22.0M458.0 288.4l6.2 -6.6M486.4 310.4l-16.6 -21.3M469.8 289.1l5.8 -6.9M499.2 310.4l-17.9 -20.2M481.3 290.2l5.4 -7.2M512.0 310.4l-23.3 -13.6M488.7 296.8l2.9 -8.5M492.5 299.1l2.9 -8.5M524.8 310.4l-23.0 -14.2M501.8 296.2l3.1 -8.5M537.6 310.4l-11.6 -24.4M526.0 286.0l7.2 -5.4M550.4 310.4l-12.8 -23.8M537.6 286.6l6.9 -5.8M539.7 290.6l6.9 -5.8M563.2 310.4l-7.5 -25.9M555.8 284.5l8.0 -4.2M576.0 310.4l-23.8 -12.7M552.2 297.7l2.6 -8.6M588.8 310.4l-16.1 -21.7M572.8 288.7l6.0 -6.7M575.4 292.3l6.0 -6.7M601.6 310.4l-7.4 -26.0M594.3 284.4l8.0 -4.1M614.4 310.4l-21.2 -16.8M593.3 293.6l4.1 -8.0M627.2 310.4l-23.3 -13.7M604.0 296.7l2.9 -8.5M640.0 310.4l-26.6 -4.8M613.5 305.6l-0.2 -9.0M652.8 310.4l-17.9 -20.2M635.0 290.2l5.4 -7.2M665.6 310.4l-14.3 -22.9M651.3 287.5l6.5 -6.2M678.4 310.4l-22.6 -14.8M655.9 295.6l3.3 -8.4M659.6 298.0l3.3 -8.4M691.2 310.4l-16.9 -21.1M674.4 289.3l5.8 -6.9M704.1 310.4l-16.7 -21.2M687.4 289.2l5.8 -6.9M716.9 310.4l-26.9 2.3M690.0 312.7l-2.5 -8.6M694.4 312.3l-2.5 -8.6M729.7 310.4l-21.1 -16.9M708.6 293.5l4.1 -8.0M742.5 310.4l-25.5 -8.9M717.0 301.5l1.2 -8.9M755.3 310.4l-27.0 0.0M728.3 310.4l-1.8 -8.8M732.8 310.4l-1.8 -8.8M768.1 310.4l-23.6 -13.2M744.5 297.2l2.7 -8.6M780.9 310.4l-19.4 -18.7M761.4 291.7l4.8 -7.6M793.7 310.4l-27.0 0.5M766.7 310.9l-2.0 -8.8M806.5 310.4l-19.2 -19.0M787.3 291.4l4.9 -7.5M819.3 310.4l-27.0 0.3M792.3 310.7l-1.9 -8.8M832.1 310.4l-27.0 0.2M805.1 310.6l-1.9 -8.8M844.9 310.4l-23.3 -13.7M821.6 296.7l2.9 -8.5M825.5 299.0l2.9 -8.5M857.7 310.4l-23.4 -13.5M834.3 296.9l2.9 -8.5M838.2 299.1l2.9 -8.5M870.5 310.4l-24.7 -10.9M845.8 299.5l1.9 -8.8M153.5 300.5l-26.8 -2.9M126.7 297.6l-0.8 -9.0M166.3 300.5l-26.9 -2.7M139.4 297.8l-0.9 -9.0M143.9 298.3l-0.9 -9.0M179.1 300.5l-26.6 -4.9M152.5 295.6l-0.2 -9.0M191.9 300.5l-27.0 -1.6M165.0 298.9l-1.3 -8.9M204.7 300.5l-25.5 -8.9M179.2 291.6l1.2 -8.9M217.5 300.5l-27.0 0.5M190.5 301.0l-2.0 -8.8M195.0 300.9l-2.0 -8.8M230.3 300.5l-27.0 -0.9M203.3 299.5l-1.5 -8.9M207.8 299.7l-1.5 -8.9M243.1 300.5l-25.2 -9.8M217.9 290.7l1.5 -8.9M222.1 292.4l1.5 -8.9M255.9 300.5l-26.8 -3.4M229.1 297.1l-0.7 -9.0M268.7 300.5l-26.8 -3.7M242.0 296.8l-0.6 -9.0M281.5 300.5l-26.9 -2.1M254.6 298.4l-1.1 -8.9M294.3 300.5l-24.6 -11.1M269.7 289.4l2.0 -8.8M307.1 300.5l-26.3 -6.1M280.8 294.4l0.2 -9.0M319.9 300.5l-26.4 -5.9M293.6 294.6l0.2 -9.0M332.8 300.5l-25.5 -8.8M307.2 291.7l1.2 -8.9M345.6 300.5l-26.8 -3.0M318.7 297.5l-0.8 -9.0M358.4 300.5l-25.0 -10.2M333.4 290.3l1.7 -8.8M371.2 300.5l-26.1 -6.7M345.0 293.7l0.5 -9.0M384.0 300.5l-21.8 -15.9M362.2 284.5l3.8 -8.2M396.8 300.5l-19.3 -18.9M377.5 281.6l4.9 -7.6M409.6 300.5l-20.5 -17.6M389.1 282.9l4.4 -7.9M392.5 285.8l4.4 -7.9M422.4 300.5l-19.7 -18.5M402.7 282.0l4.7 -7.7M435.2 300.5l-23.6 -13.1M411.6 287.4l2.7 -8.6M415.5 289.6l2.7 -8.6M448.0 300.5l-18.0 -20.1M430.0 280.3l5.4 -7.2M433.0 283.7l5.4 -7.2M460.8 300.5l-26.5 -5.4M434.3 295.1l-0.0 -9.0M473.6 300.5l-26.1 -6.9M447.5 293.6l0.5 -9.0M486.4 300.5l-14.9 -22.5M471.5 278.0l6.4 -6.4M499.2 300.5l-19.9 -18.2M479.3 282.3l4.6 -7.7M512.0 300.5l-25.5 -8.8M486.5 291.7l1.2 -8.9M524.8 300.5l-10.1 -25.0M514.7 275.4l7.5 -5.0M537.6 300.5l-25.2 -9.6M512.4 290.9l1.5 -8.9M550.4 300.5l-7.9 -25.8M542.5 274.7l7.9 -4.3M543.9 279.0l7.9 -4.3M563.2 300.5l-6.3 -26.2M556.9 274.2l8.1 -3.8M557.9 278.6l8.1 -3.8M576.0 300.5l-22.6 -14.7M553.4 285.8l3.3 -8.4M588.8 300.5l-19.6 -18.6M569.2 281.9l4.8 -7.6M601.6 300.5l-20.3 -17.7M581.3 282.7l4.4 -7.8M584.7 285.7l4.4 -7.8M614.4 300.5l-9.0 -25.5M605.4 275.0l7.7 -4.6M606.9 279.3l7.7 -4.6M627.2 300.5l-23.7 -12.9M603.5 287.6l2.6 -8.6M607.5 289.7l2.6 -8.6M640.0 300.5l-16.5 -21.4M623.5 279.1l5.9 -6.8M652.8 300.5l-10.2 -25.0M642.6 275.5l7.5 -5.0M644.3 279.7l7.5 -5.0M665.6 300.5l-17.5 -20.6M648.1 279.9l5.5 -7.1M678.4 300.5l-20.1 -18.1M658.4 282.4l4.6 -7.8M691.2 300.5l-26.9 -1.8M664.3 298.7l-1.2 -8.9M704.1 300.5l-26.7 -4.0M677.4 296.5l-0.5 -9.0M716.9 300.5l-14.8 -22.6M702.0 277.9l6.4 -6.3M729.7 300.5l-23.1 -14.0M706.6 286.4l3.1 -8.5M742.5 300.5l-21.9 -15.7M720.5 284.7l3.7 -8.2M755.3 300.5l-24.8 -10.6M730.4 289.9l1.8 -8.8M734.6 291.6l1.8 -8.8M768.1 300.5l-27.0 -1.2M741.1 299.3l-1.4 -8.9M745.6 299.5l-1.4 -8.9M780.9 300.5l-26.9 -1.9M753.9 298.6l-1.2 -8.9M758.4 298.9l-1.2 -8.9M793.7 300.5l-16.6 -21.3M777.1 279.2l5.9 -6.8M779.9 282.7l5.9 -6.8M806.5 300.5l-26.9 -2.5M779.6 297.9l-1.0 -9.0M819.3 300.5l-17.4 -20.6M801.9 279.9l5.6 -7.1M832.1 300.5l-25.3 -9.5M806.8 291.0l1.4 -8.9M844.9 300.5l-21.0 -17.0M823.9 283.5l4.1 -8.0M857.7 300.5l-23.6 -13.2M834.1 287.3l2.7 -8.6M870.5 300.5l-22.3 -15.2M848.2 285.2l3.5 -8.3M153.5 290.6l-25.4 -9.1M128.1 281.5l1.3 -8.9M132.3 283.0l1.3 -8.9M166.3 290.6l-26.8 -3.4M139.5 287.2l-0.7 -9.0M179.1 290.6l-24.5 -11.3M154.6 279.2l2.1 -8.8M191.9 290.6l-24.3 -11.7M167.6 278.8l2.2 -8.7M204.7 290.6l-26.8 -3.5M177.9 287.0l-0.6 -9.0M217.5 290.6l-26.6 -4.8M191.0 285.7l-0.2 -9.0M230.3 290.6l-25.7 -8.2M204.6 282.3l1.0 -8.9M243.1 290.6l-26.9 -1.8M216.2 288.8l-1.2 -8.9M220.7 289.1l-1.2 -8.9M255.9 290.6l-26.9 -2.2M229.0 288.4l-1.1 -8.9M233.5 288.8l-1.1 -8.9M268.7 290.6l-24.3 -11.7M244.4 278.8l2.2 -8.7M248.5 280.8l2.2 -8.7M281.5 290.6l-26.9 -2.7M254.7 287.9l-0.9 -9.0M294.3 290.6l-25.0 -10.1M269.3 280.4l1.6 -8.9M307.1 290.6l-24.0 -12.3M283.1 278.3l2.4 -8.7M319.9 290.6l-25.5 -8.7M294.4 281.8l1.2 -8.9M332.8 290.6l-26.3 -6.0M306.4 284.5l0.2 -9.0M345.6 290.6l-23.4 -13.6M322.2 277.0l2.9 -8.5M358.4 290.6l-20.0 -18.2M338.4 272.4l4.6 -7.7M371.2 290.6l-26.4 -5.8M344.8 284.8l0.1 -9.0M384.0 290.6l-19.9 -18.2M364.0 272.3l4.6 -7.7M396.8 290.6l-26.8 -3.2M370.0 287.4l-0.7 -9.0M409.6 290.6l-18.7 -19.5M390.9 271.1l5.1 -7.4M422.4 290.6l-27.0 -0.5M395.4 290.0l-1.6 -8.9M399.9 290.1l-1.6 -8.9M435.2 290.6l-19.6 -18.5M415.5 272.0l4.7 -7.7M448.0 290.6l-26.3 -6.1M421.7 284.4l0.3 -9.0M460.8 290.6l-17.8 -20.3M443.0 270.3l5.4 -7.2M445.9 273.6l5.4 -7.2M473.6 290.6l-18.7 -19.5M454.9 271.1l5.1 -7.4M486.4 290.6l-22.7 -14.7M463.7 275.9l3.3 -8.4M467.5 278.3l3.3 -8.4M499.2 290.6l-18.2 -20.0M481.0 270.6l5.3 -7.3M484.1 273.9l5.3 -7.3M512.0 290.6l-26.4 -5.6M485.6 284.9l0.1 -9.0M524.8 290.6l-10.3 -25.0M514.5 265.6l7.5 -5.0M537.6 290.6l-8.9 -25.5M528.7 265.1l7.7 -4.6M550.4 290.6l-25.2 -9.6M525.2 281.0l1.4 -8.9M563.2 290.6l-21.1 -16.9M542.2 273.7l4.1 -8.0M576.0 290.6l-8.4 -25.6M567.6 264.9l7.8 -4.5M588.8 290.6l-6.7 -26.2M582.1 264.4l8.1 -3.9M583.2 268.8l8.1 -3.9M601.6 290.6l-14.6 -22.7M587.0 267.9l6.4 -6.3M589.4 271.7l6.4 -6.3M614.4 290.6l-15.5 -22.1M598.9 268.5l6.2 -6.5M627.2 290.6l-22.0 -15.7M605.3 274.8l3.7 -8.2M640.0 290.6l-21.4 -16.5M618.6 274.1l4.0 -8.1M652.8 290.6l-11.2 -24.5M641.6 266.0l7.3 -5.3M665.6 290.6l-18.1 -20.0M647.5 270.5l5.3 -7.2M678.4 290.6l-26.0 -7.4M652.5 283.1l0.7 -9.0M691.2 290.6l-22.3 -15.2M669.0 275.3l3.5 -8.3M704.1 290.6l-20.1 -18.1M684.0 272.5l4.6 -7.8M687.3 275.5l4.6 -7.8M716.9 290.6l-24.8 -10.6M692.0 280.0l1.8 -8.8M729.7 290.6l-25.5 -8.8M704.1 281.7l1.2 -8.9M742.5 290.6l-26.3 -6.3M716.2 284.2l0.3 -9.0M755.3 290.6l-24.4 -11.5M730.9 279.0l2.1 -8.7M768.1 290.6l-19.4 -18.8M748.7 271.8l4.8 -7.6M780.9 290.6l-15.1 -22.4M765.8 268.2l6.3 -6.4M793.7 290.6l-26.2 -6.6M767.5 284.0l0.4 -9.0M806.5 290.6l-25.0 -10.2M781.5 280.3l1.7 -8.8M785.7 282.0l1.7 -8.8M819.3 290.6l-22.5 -15.0M796.8 275.6l3.4 -8.3M832.1 290.6l-25.1 -10.0M807.0 280.5l1.6 -8.9M844.9 290.6l-25.6 -8.6M819.3 282.0l1.1 -8.9M857.7 290.6l-18.0 -20.1M839.7 270.5l5.4 -7.2M870.5 290.6l-26.4 -5.8M844.1 284.8l0.1 -9.0M153.5 280.6l-26.1 -6.9M127.4 273.7l0.5 -9.0M166.3 280.6l-20.1 -18.1M146.2 262.6l4.6 -7.8M179.1 280.6l-22.2 -15.3M156.9 265.3l3.5 -8.3M191.9 280.6l-26.4 5.7M165.5 286.3l-3.6 -8.2M204.7 280.6l-21.1 -16.8M183.6 263.8l4.1 -8.0M217.5 280.6l-26.3 -6.1M191.2 274.6l0.2 -9.0M230.3 280.6l-26.0 -7.2M204.3 273.4l0.6 -9.0M243.1 280.6l-27.0 1.2M216.2 281.9l-2.2 -8.7M255.9 280.6l-24.8 -10.7M231.1 269.9l1.8 -8.8M268.7 280.6l-21.8 -15.9M246.9 264.7l3.8 -8.2M281.5 280.6l-24.2 -11.9M257.3 268.8l2.3 -8.7M294.3 280.6l-19.7 -18.5M274.6 262.2l4.7 -7.7M307.1 280.6l-23.4 -13.5M283.8 267.1l2.9 -8.5M287.7 269.4l2.9 -8.5M319.9 280.6l-21.9 -15.8M298.0 264.9l3.7 -8.2M332.8 280.6l-16.5 -21.3M316.2 259.3l5.9 -6.8M345.6 280.6l-23.7 -12.9M321.9 267.7l2.6 -8.6M358.4 280.6l-22.5 -14.9M335.9 265.7l3.4 -8.3M339.6 268.2l3.4 -8.3M371.2 280.6l-20.0 -18.1M351.1 262.5l4.6 -7.7M384.0 280.6l-27.0 -0.0M357.0 280.6l-1.8 -8.8M396.8 280.6l-19.3 -18.8M377.4 261.8l4.9 -7.6M409.6 280.6l-22.2 -15.4M387.4 265.3l3.5 -8.3M391.1 267.8l3.5 -8.3M422.4 280.6l-16.8 -21.1M405.5 259.5l5.8 -6.9M435.2 280.6l-26.5 -5.4M408.7 275.3l-0.0 -9.0M448.0 280.6l-22.7 -14.6M425.3 266.0l3.3 -8.4M460.8 280.6l-17.5 -20.6M443.3 260.1l5.6 -7.1M473.6 280.6l-19.3 -18.9M454.3 261.7l4.9 -7.6M486.4 280.6l-25.5 -8.8M460.9 271.8l1.2 -8.9M499.2 280.6l-19.9 -18.2M479.3 262.4l4.6 -7.7M482.6 265.4l4.6 -7.7M512.0 280.6l-20.6 -17.4M491.4 263.2l4.3 -7.9M494.8 266.1l4.3 -7.9M524.8 280.6l-24.4 -11.6M500.4 269.1l2.2 -8.7M537.6 280.6l-24.1 -12.2M513.5 268.5l2.4 -8.7M517.5 270.5l2.4 -8.7M550.4 280.6l-14.5 -22.8M535.9 257.9l6.5 -6.3M538.3 261.7l6.5 -6.3M563.2 280.6l-14.8 -22.6M548.4 258.0l6.4 -6.3M550.9 261.8l6.4 -6.3M576.0 280.6l-3.2 -26.8M572.8 253.8l8.5 -2.8M588.8 280.6l-11.1 -24.6M577.7 256.0l7.3 -5.3M579.6 260.1l7.3 -5.3M601.6 280.6l-11.9 -24.2M589.7 256.4l7.1 -5.5M614.4 280.6l-15.3 -22.3M599.1 258.4l6.2 -6.5M627.2 280.6l-20.4 -17.7M606.8 262.9l4.4 -7.8M640.0 280.6l-24.7 -11.0M615.4 269.6l1.9 -8.8M652.8 280.6l-6.7 -26.2M646.1 254.5l8.1 -3.9M665.6 280.6l-24.7 -10.9M641.0 269.7l1.9 -8.8M678.4 280.6l-9.7 -25.2M668.8 255.4l7.6 -4.8M691.2 280.6l-21.1 -16.9M670.2 263.8l4.1 -8.0M673.7 266.6l4.1 -8.0M704.1 280.6l-6.9 -26.1M697.2 254.5l8.1 -4.0M716.9 280.6l-21.8 -15.9M695.0 264.8l3.7 -8.2M698.7 267.4l3.7 -8.2M729.7 280.6l-9.8 -25.1M719.8 255.5l7.6 -4.9M721.5 259.7l7.6 -4.9M742.5 280.6l-13.4 -23.4M729.0 257.2l6.8 -6.0M755.3 280.6l-16.3 -21.5M738.9 259.2l5.9 -6.8M741.6 262.7l5.9 -6.8M768.1 280.6l-25.6 -8.6M742.5 272.0l1.1 -8.9M780.9 280.6l-12.6 -23.9M768.3 256.8l7.0 -5.7M793.7 280.6l-22.1 -15.5M771.6 265.1l3.6 -8.3M806.5 280.6l-23.2 -13.8M783.3 266.8l3.0 -8.5M819.3 280.6l-24.9 -10.5M794.4 270.1l1.8 -8.8M832.1 280.6l-14.2 -23.0M817.9 257.6l6.6 -6.2M844.9 280.6l-21.2 -16.8M823.7 263.9l4.1 -8.0M857.7 280.6l-19.5 -18.7M838.2 261.9l4.8 -7.6M870.5 280.6l-21.6 -16.2M848.9 264.4l3.9 -8.1M852.5 267.1l3.9 -8.1M153.5 270.7l-23.1 -14.1M130.4 256.7l3.1 -8.5M134.3 259.0l3.1 -8.5M166.3 270.7l-26.0 -7.4M140.3 263.3l0.7 -9.0M144.7 264.6l0.7 -9.0M179.1 270.7l-25.8 -8.1M153.3 262.6l0.9 -9.0M157.6 264.0l0.9 -9.0M191.9 270.7l-26.0 -7.4M165.9 263.3l0.7 -9.0M204.7 270.7l-26.3 -6.3M178.5 264.5l0.3 -9.0M217.5 270.7l-18.6 -19.5M198.9 251.2l5.1 -7.4M230.3 270.7l-25.4 -9.1M204.9 261.7l1.3 -8.9M243.1 270.7l-26.7 -4.1M216.4 266.6l-0.4 -9.0M255.9 270.7l-24.0 -12.3M231.9 258.4l2.4 -8.7M268.7 270.7l-26.8 3.3M241.9 274.0l-2.9 -8.5M246.4 273.5l-2.9 -8.5M281.5 270.7l-26.3 -6.2M255.3 264.5l0.3 -9.0M294.3 270.7l-17.0 -20.9M277.3 249.8l5.7 -7.0M307.1 270.7l-26.4 -5.9M280.8 264.8l0.2 -9.0M319.9 270.7l-22.2 -15.4M297.7 255.4l3.5 -8.3M332.8 270.7l-24.5 -11.4M308.3 259.4l2.1 -8.8M345.6 270.7l-27.0 -1.4M318.6 269.4l-1.4 -8.9M323.1 269.6l-1.4 -8.9M358.4 270.7l-26.1 -6.9M332.3 263.8l0.5 -9.0M371.2 270.7l-21.0 -16.9M350.1 253.8l4.1 -8.0M384.0 270.7l-21.1 -16.8M362.8 253.9l4.1 -8.0M396.8 270.7l-23.4 -13.6M373.4 257.2l2.9 -8.5M409.6 270.7l-17.2 -20.8M392.3 249.9l5.6 -7.0M422.4 270.7l-21.0 -16.9M401.4 253.8l4.1 -8.0M435.2 270.7l-26.0 -7.4M409.2 263.3l0.7 -9.0M413.5 264.6l0.7 -9.0M448.0 270.7l-25.8 -8.0M422.2 262.8l0.9 -9.0M460.8 270.7l-21.2 -16.7M439.6 254.0l4.1 -8.0M443.1 256.8l4.1 -8.0M473.6 270.7l-20.7 -17.3M452.9 253.4l4.3 -7.9M486.4 270.7l-22.7 -14.6M463.7 256.1l3.3 -8.4M499.2 270.7l-15.9 -21.8M483.3 248.9l6.1 -6.7M512.0 270.7l-14.5 -22.8M497.5 248.0l6.5 -6.3M524.8 270.7l-21.0 -17.0M503.8 253.7l4.2 -8.0M537.6 270.7l-6.4 -26.2M531.3 244.5l8.1 -3.8M550.4 270.7l-24.0 -12.4M526.4 258.3l2.4 -8.7M563.2 270.7l-5.1 -26.5M558.1 244.2l8.3 -3.4M576.0 270.7l-3.5 -26.8M572.5 243.9l8.5 -2.9M573.1 248.4l8.5 -2.9M588.8 270.7l-23.9 -12.6M565.0 258.1l2.5 -8.6M601.6 270.7l-19.5 -18.7M582.2 252.0l4.8 -7.6M614.4 270.7l-23.6 -13.1M590.8 257.6l2.7 -8.6M627.2 270.7l-18.5 -19.7M608.8 251.0l5.2 -7.3M640.0 270.7l-20.0 -18.2M620.1 252.5l4.6 -7.7M652.8 270.7l-19.6 -18.6M633.2 252.1l4.8 -7.6M636.5 255.2l4.8 -7.6M665.6 270.7l-19.2 -18.9M646.4 251.8l4.9 -7.5M678.4 270.7l-21.0 -17.0M657.5 253.7l4.2 -8.0M661.0 256.5l4.2 -8.0M691.2 270.7l-7.3 -26.0M683.9 244.7l8.0 -4.1M685.1 249.1l8.0 -4.1M704.1 270.7l-21.1 -16.9M683.0 253.8l4.1 -8.0M716.9 270.7l-18.9 -19.3M698.0 251.4l5.1 -7.5M729.7 270.7l-22.0 -15.7M707.7 255.1l3.6 -8.2M742.5 270.7l-17.0 -20.9M725.4 249.8l5.7 -7.0M728.3 253.3l5.7 -7.0M755.3 270.7l-10.9 -24.7M744.4 246.0l7.3 -5.2M768.1 270.7l-11.4 -24.5M756.7 246.2l7.2 -5.4M780.9 270.7l-19.0 -19.2M761.9 251.5l5.0 -7.5M793.7 270.7l-4.5 -26.6M789.2 244.1l8.4 -3.2M806.5 270.7l-4.2 -26.7M802.3 244.0l8.4 -3.1M803.0 248.5l8.4 -3.1M819.3 270.7l-22.2 -15.3M797.1 255.4l3.5 -8.3M832.1 270.7l-23.8 -12.7M808.3 258.0l2.6 -8.6M844.9 270.7l-3.6 -26.8M841.3 244.0l8.5 -3.0M857.7 270.7l-18.2 -20.0M839.5 250.8l5.3 -7.3M870.5 270.7l-24.6 -11.1M845.9 259.6l2.0 -8.8M153.5 260.8l-25.1 -10.0M128.4 250.8l1.6 -8.9M132.6 252.4l1.6 -8.9M166.3 260.8l-26.7 -3.7M139.6 257.1l-0.6 -9.0M144.0 257.7l-0.6 -9.0M179.1 260.8l-21.4 -16.4M157.7 244.4l3.9 -8.1M161.2 247.1l3.9 -8.1M191.9 260.8l-18.7 -19.5M173.3 241.3l5.1 -7.4M204.7 260.8l-20.8 -17.2M183.9 243.6l4.2 -7.9M217.5 260.8l-19.8 -18.3M197.7 242.5l4.7 -7.7M230.3 260.8l-20.2 -17.9M210.1 242.9l4.5 -7.8M213.4 245.9l4.5 -7.8M243.1 260.8l-26.8 -3.3M216.3 257.5l-0.7 -9.0M220.8 258.0l-0.7 -9.0M255.9 260.8l-26.8 -3.4M229.1 257.4l-0.7 -9.0M233.6 257.9l-0.7 -9.0M268.7 260.8l-17.6 -20.5M251.2 240.3l5.5 -7.1M281.5 260.8l-26.5 -5.0M255.0 255.8l-0.1 -9.0M294.3 260.8l-26.5 -5.1M267.8 255.7l-0.1 -9.0M272.2 256.6l-0.1 -9.0M307.1 260.8l-25.7 -8.4M281.5 252.4l1.0 -8.9M319.9 260.8l-23.6 -13.2M296.4 247.6l2.7 -8.6M332.8 260.8l-19.8 -18.3M312.9 242.5l4.7 -7.7M345.6 260.8l-25.9 -7.7M319.7 253.1l0.8 -9.0M324.0 254.4l0.8 -9.0M358.4 260.8l-13.4 -23.5M345.0 237.3l6.8 -5.9M371.2 260.8l-26.2 -6.4M344.9 254.4l0.3 -9.0M349.3 255.5l0.3 -9.0M384.0 260.8l-18.8 -19.3M365.1 241.5l5.1 -7.4M396.8 260.8l-15.1 -22.4M381.7 238.4l6.3 -6.4M409.6 260.8l-21.1 -16.8M388.4 244.0l4.1 -8.0M392.0 246.8l4.1 -8.0M422.4 260.8l-18.3 -19.8M404.1 241.0l5.3 -7.3M435.2 260.8l-19.2 -19.0M416.0 241.8l4.9 -7.5M448.0 260.8l-11.8 -24.3M436.2 236.5l7.1 -5.5M460.8 260.8l-16.6 -21.3M444.2 239.5l5.8 -6.8M473.6 260.8l-21.5 -16.3M452.0 244.5l3.9 -8.1M486.4 260.8l-16.4 -21.5M470.0 239.3l5.9 -6.8M499.2 260.8l-25.3 -9.3M473.9 251.5l1.4 -8.9M512.0 260.8l-19.5 -18.7M492.5 242.1l4.8 -7.6M495.8 245.2l4.8 -7.6M524.8 260.8l-6.9 -26.1M517.9 234.7l8.1 -4.0M537.6 260.8l-21.4 -16.5M516.2 244.3l4.0 -8.1M550.4 260.8l-13.2 -23.6M537.2 237.2l6.8 -5.9M563.2 260.8l-24.9 -10.6M538.4 250.2l1.8 -8.8M576.0 260.8l-18.6 -19.6M557.5 241.2l5.2 -7.4M588.8 260.8l-14.3 -22.9M574.5 237.9l6.5 -6.2M601.6 260.8l-12.6 -23.9M589.1 236.9l7.0 -5.7M614.4 260.8l-17.4 -20.7M597.1 240.1l5.6 -7.1M627.2 260.8l-21.0 -16.9M606.2 243.9l4.1 -8.0M609.7 246.7l4.1 -8.0M640.0 260.8l-0.8 -27.0M639.3 233.8l8.8 -2.0M639.4 238.3l8.8 -2.0M652.8 260.8l-11.7 -24.3M641.2 236.5l7.2 -5.4M665.6 260.8l-20.0 -18.1M645.6 242.7l4.6 -7.8M678.4 260.8l-0.1 -27.0M678.4 233.8l8.8 -1.8M691.2 260.8l-19.1 -19.1M672.2 241.7l5.0 -7.5M704.1 260.8l-13.3 -23.5M690.7 237.3l6.8 -5.9M693.0 241.2l6.8 -5.9M716.9 260.8l-19.5 -18.7M697.4 242.1l4.8 -7.6M729.7 260.8l-15.8 -21.9M713.8 238.9l6.1 -6.6M742.5 260.8l-7.2 -26.0M735.3 234.8l8.0 -4.1M736.5 239.1l8.0 -4.1M755.3 260.8l-12.5 -23.9M742.8 236.9l7.0 -5.7M768.1 260.8l-2.9 -26.8M765.2 234.0l8.6 -2.7M780.9 260.8l-20.6 -17.4M760.2 243.4l4.3 -7.9M763.7 246.3l4.3 -7.9M793.7 260.8l-13.5 -23.4M780.1 237.4l6.7 -6.0M806.5 260.8l-9.8 -25.1M796.7 235.7l7.6 -4.9M798.3 239.8l7.6 -4.9M819.3 260.8l-4.0 -26.7M815.3 234.1l8.5 -3.1M832.1 260.8l-17.6 -20.5M814.5 240.3l5.5 -7.1M844.9 260.8l0.7 -27.0M845.6 233.8l8.9 -1.6M857.7 260.8l-17.2 -20.8M840.5 240.0l5.7 -7.0M843.4 243.4l5.7 -7.0M870.5 260.8l-12.7 -23.9M857.8 236.9l6.9 -5.7M153.5 250.9l-26.9 2.5M126.6 253.4l-2.6 -8.6M166.3 250.9l-25.5 -8.8M140.8 242.0l1.2 -8.9M179.1 250.9l-21.7 -16.0M157.4 234.9l3.8 -8.2M161.0 237.5l3.8 -8.2M191.9 250.9l-21.6 -16.2M170.3 234.7l3.9 -8.1M204.7 250.9l-24.2 -12.0M180.5 238.9l2.3 -8.7M217.5 250.9l-24.4 -11.5M193.1 239.4l2.1 -8.7M230.3 250.9l-20.2 -17.9M210.1 232.9l4.5 -7.8M213.5 235.9l4.5 -7.8M243.1 250.9l-26.7 3.8M216.4 254.6l-3.0 -8.5M255.9 250.9l-18.5 -19.6M237.4 231.2l5.2 -7.4M268.7 250.9l-26.8 -3.3M241.9 247.6l-0.7 -9.0M246.4 248.1l-0.7 -9.0M281.5 250.9l-25.4 -9.1M256.1 241.8l1.3 -8.9M294.3 250.9l-24.4 -11.7M270.0 239.2l2.2 -8.7M274.0 241.2l2.2 -8.7M307.1 250.9l-15.1 -22.4M292.0 228.5l6.3 -6.4M319.9 250.9l-26.8 -3.4M293.2 247.5l-0.7 -9.0M332.8 250.9l-24.2 -12.1M308.6 238.8l2.3 -8.7M312.6 240.8l2.3 -8.7M345.6 250.9l-26.0 -7.3M319.6 243.6l0.7 -9.0M358.4 250.9l-26.8 -3.6M331.6 247.3l-0.6 -9.0M371.2 250.9l-25.8 -8.0M345.4 242.9l0.9 -9.0M384.0 250.9l-16.2 -21.6M367.8 229.3l6.0 -6.7M370.5 232.9l6.0 -6.7M396.8 250.9l-14.2 -23.0M382.6 227.9l6.6 -6.2M385.0 231.7l6.6 -6.2M409.6 250.9l-10.4 -24.9M399.2 226.0l7.5 -5.1M400.9 230.1l7.5 -5.1M422.4 250.9l-20.4 -17.7M402.0 233.2l4.4 -7.8M435.2 250.9l-17.7 -20.4M417.5 230.5l5.5 -7.1M448.0 250.9l-24.7 -11.0M423.3 239.9l1.9 -8.8M427.4 241.7l1.9 -8.8M460.8 250.9l-19.7 -18.5M441.1 232.4l4.7 -7.7M473.6 250.9l-8.3 -25.7M465.3 225.2l7.8 -4.4M486.4 250.9l-11.7 -24.3M474.7 226.6l7.2 -5.5M499.2 250.9l-20.2 -17.9M479.0 233.0l4.5 -7.8M512.0 250.9l-20.7 -17.4M491.3 233.5l4.3 -7.9M524.8 250.9l-16.0 -21.7M508.8 229.2l6.0 -6.7M511.4 232.8l6.0 -6.7M537.6 250.9l-24.9 -10.5M512.7 240.4l1.8 -8.8M550.4 250.9l-10.2 -25.0M540.2 225.9l7.5 -5.0M541.9 230.1l7.5 -5.0M563.2 250.9l-11.0 -24.7M552.2 226.2l7.3 -5.2M576.0 250.9l-23.8 -12.7M552.2 238.1l2.6 -8.6M588.8 250.9l-22.4 -15.1M566.5 235.7l3.5 -8.3M570.2 238.3l3.5 -8.3M601.6 250.9l-20.9 -17.1M580.7 233.8l4.2 -8.0M614.4 250.9l-17.5 -20.6M597.0 230.3l5.6 -7.1M627.2 250.9l-1.3 -27.0M626.0 223.9l8.7 -2.2M626.2 228.4l8.7 -2.2M640.0 250.9l-18.2 -19.9M621.8 230.9l5.3 -7.3M652.8 250.9l-15.7 -22.0M637.2 228.9l6.1 -6.6M639.8 232.5l6.1 -6.6M665.6 250.9l-12.7 -23.8M653.0 227.0l6.9 -5.7M678.4 250.9l1.7 -26.9M680.1 223.9l8.9 -1.3M691.2 250.9l-1.5 -27.0M689.8 223.9l8.7 -2.3M690.0 228.4l8.7 -2.3M704.1 250.9l-6.9 -26.1M697.2 224.8l8.1 -4.0M698.3 229.1l8.1 -4.0M716.9 250.9l0.2 -27.0M717.0 223.9l8.8 -1.7M717.0 228.4l8.8 -1.7M729.7 250.9l-11.6 -24.4M718.1 226.5l7.2 -5.4M720.0 230.6l7.2 -5.4M742.5 250.9l-12.3 -24.0M730.1 226.9l7.0 -5.6M732.2 230.9l7.0 -5.6M755.3 250.9l6.7 -26.2M761.9 224.7l9.0 0.4M768.1 250.9l1.8 -26.9M769.9 223.9l8.9 -1.2M780.9 250.9l-15.2 -22.3M765.7 228.6l6.3 -6.5M793.7 250.9l4.7 -26.6M798.4 224.3l9.0 -0.2M806.5 250.9l6.2 -26.3M812.7 224.6l9.0 0.3M819.3 250.9l-13.8 -23.2M805.5 227.7l6.7 -6.1M832.1 250.9l-3.5 -26.8M828.6 224.1l8.5 -2.9M844.9 250.9l-13.3 -23.5M831.6 227.4l6.8 -5.9M857.7 250.9l-8.3 -25.7M849.4 225.2l7.8 -4.4M850.8 229.5l7.8 -4.4M870.5 250.9l3.0 -26.8M873.5 224.1l9.0 -0.8M873.0 228.5l9.0 -0.8M153.5 241.0l-26.9 -2.8M126.6 238.1l-0.9 -9.0M166.3 241.0l-20.6 -17.4M145.7 223.5l4.3 -7.9M179.1 241.0l-22.7 -14.7M156.4 226.3l3.3 -8.4M191.9 241.0l-20.8 -17.2M171.1 223.8l4.2 -7.9M174.6 226.6l4.2 -7.9M204.7 241.0l-27.0 0.5M177.7 241.4l-2.0 -8.8M217.5 241.0l-20.5 -17.6M197.0 223.4l4.4 -7.9M230.3 241.0l-22.7 -14.7M207.7 226.3l3.3 -8.4M243.1 241.0l-18.6 -19.6M224.6 221.4l5.2 -7.4M255.9 241.0l-16.9 -21.1M239.1 219.9l5.8 -6.9M268.7 241.0l-26.0 -7.4M242.8 233.5l0.7 -9.0M247.1 234.8l0.7 -9.0M281.5 241.0l-23.7 -13.0M257.9 227.9l2.7 -8.6M261.8 230.1l2.7 -8.6M294.3 241.0l-19.6 -18.5M274.7 222.4l4.7 -7.6M278.0 225.5l4.7 -7.6M307.1 241.0l-21.2 -16.7M286.0 224.2l4.1 -8.0M319.9 241.0l-27.0 -0.8M293.0 240.2l-1.5 -8.9M332.8 241.0l-14.6 -22.7M318.1 218.3l6.4 -6.3M320.6 222.0l6.4 -6.3M345.6 241.0l-26.5 -5.4M319.1 235.5l0.0 -9.0M323.5 236.4l0.0 -9.0M358.4 241.0l-24.7 -11.0M333.7 230.0l2.0 -8.8M337.8 231.8l2.0 -8.8M371.2 241.0l-26.5 -5.3M344.7 235.7l-0.0 -9.0M349.1 236.6l-0.0 -9.0M384.0 241.0l-24.7 -10.9M359.3 230.0l1.9 -8.8M396.8 241.0l-10.9 -24.7M385.9 216.2l7.4 -5.2M387.7 220.4l7.4 -5.2M409.6 241.0l-24.0 -12.3M385.5 228.6l2.4 -8.7M422.4 241.0l-10.0 -25.1M412.4 215.9l7.5 -4.9M435.2 241.0l-24.0 -12.3M411.1 228.6l2.4 -8.7M415.2 230.7l2.4 -8.7M448.0 241.0l-17.4 -20.7M430.6 220.3l5.6 -7.1M433.5 223.7l5.6 -7.1M460.8 241.0l-7.7 -25.9M453.1 215.1l7.9 -4.2M473.6 241.0l-20.3 -17.7M453.2 223.2l4.4 -7.8M456.6 226.2l4.4 -7.8M486.4 241.0l-5.3 -26.5M481.1 214.5l8.3 -3.5M482.0 218.9l8.3 -3.5M499.2 241.0l-18.6 -19.6M480.6 221.4l5.2 -7.4M512.0 241.0l-10.9 -24.7M501.1 216.3l7.3 -5.2M502.9 220.4l7.3 -5.2M524.8 241.0l-19.0 -19.2M505.8 221.7l5.0 -7.5M537.6 241.0l-22.6 -14.7M515.0 226.2l3.3 -8.4M550.4 241.0l-9.6 -25.2M540.8 215.7l7.6 -4.8M542.4 219.9l7.6 -4.8M563.2 241.0l-21.6 -16.2M541.6 224.7l3.9 -8.1M576.0 241.0l-21.1 -16.9M555.0 224.1l4.1 -8.0M558.5 226.9l4.1 -8.0M588.8 241.0l-21.8 -16.0M567.1 225.0l3.8 -8.2M601.6 241.0l-21.5 -16.4M580.2 224.6l3.9 -8.1M614.4 241.0l-12.9 -23.7M601.5 217.3l6.9 -5.8M603.7 221.2l6.9 -5.8M627.2 241.0l-20.8 -17.2M606.4 223.8l4.2 -8.0M640.0 241.0l-19.1 -19.1M620.9 221.9l5.0 -7.5M624.1 225.1l5.0 -7.5M652.8 241.0l-0.3 -27.0M652.5 214.0l8.8 -1.9M665.6 241.0l-3.9 -26.7M661.8 214.2l8.5 -3.0M662.4 218.7l8.5 -3.0M678.4 241.0l-2.5 -26.9M676.0 214.1l8.6 -2.6M691.2 241.0l9.2 -25.4M700.5 215.6l8.9 1.3M704.1 241.0l-1.9 -26.9M702.1 214.0l8.7 -2.4M716.9 241.0l7.6 -25.9M724.4 215.0l9.0 0.7M729.7 241.0l-11.2 -24.6M718.4 216.4l7.3 -5.3M742.5 241.0l2.9 -26.8M745.3 214.1l9.0 -0.9M755.3 241.0l1.6 -27.0M756.8 214.0l8.9 -1.3M768.1 241.0l10.8 -24.8M778.8 216.2l8.8 1.9M780.9 241.0l-13.2 -23.6M767.7 217.4l6.8 -5.9M793.7 241.0l-0.8 -27.0M792.8 214.0l8.8 -2.1M806.5 241.0l-1.1 -27.0M805.4 214.0l8.7 -2.2M805.6 218.5l8.7 -2.2M819.3 241.0l-12.3 -24.0M807.0 216.9l7.0 -5.6M809.0 220.9l7.0 -5.6M832.1 241.0l9.2 -25.4M841.3 215.6l8.9 1.3M839.8 219.8l8.9 1.3M844.9 241.0l7.4 -26.0M852.3 215.0l9.0 0.7M857.7 241.0l13.1 -23.6M870.8 217.4l8.6 2.7M868.7 221.3l8.6 2.7M870.5 241.0l-5.2 -26.5M865.3 214.5l8.3 -3.5M866.2 218.9l8.3 -3.5M153.5 231.0l-17.7 -20.4M135.8 210.7l5.5 -7.2M166.3 231.0l-26.0 -7.2M140.3 223.9l0.6 -9.0M179.1 231.0l-26.7 -3.7M152.4 227.4l-0.6 -9.0M156.8 228.0l-0.6 -9.0M191.9 231.0l-27.0 1.0M164.9 232.1l-2.1 -8.7M204.7 231.0l-18.1 -20.0M186.6 211.0l5.3 -7.3M189.6 214.4l5.3 -7.3M217.5 231.0l-25.0 -10.3M192.6 220.8l1.7 -8.8M230.3 231.0l-21.6 -16.1M208.7 214.9l3.8 -8.1M212.3 217.6l3.8 -8.1M243.1 231.0l-23.2 -13.8M219.9 217.3l2.9 -8.5M223.8 219.6l2.9 -8.5M255.9 231.0l-25.2 -9.6M230.7 221.4l1.5 -8.9M268.7 231.0l-17.7 -20.4M251.1 210.6l5.5 -7.1M281.5 231.0l-26.1 -6.8M255.4 224.2l0.5 -9.0M259.8 225.4l0.5 -9.0M294.3 231.0l-26.5 -5.3M267.9 225.7l-0.0 -9.0M307.1 231.0l-21.0 -17.0M286.2 214.0l4.2 -8.0M319.9 231.0l-26.3 -6.3M293.7 224.8l0.3 -9.0M332.8 231.0l-20.1 -18.0M312.6 213.0l4.5 -7.8M345.6 231.0l-25.1 -9.9M320.4 221.1l1.6 -8.9M358.4 231.0l-14.9 -22.5M343.4 208.5l6.4 -6.4M371.2 231.0l-18.3 -19.9M352.9 211.2l5.3 -7.3M384.0 231.0l-23.8 -12.7M360.1 218.4l2.5 -8.6M396.8 231.0l-23.4 -13.5M373.4 217.5l2.9 -8.5M409.6 231.0l-5.4 -26.5M404.2 204.6l8.3 -3.5M422.4 231.0l-24.1 -12.2M398.3 218.8l2.4 -8.7M435.2 231.0l-8.3 -25.7M426.8 205.4l7.8 -4.4M448.0 231.0l-16.8 -21.2M431.2 209.9l5.8 -6.9M460.8 231.0l-14.6 -22.7M446.2 208.3l6.4 -6.3M448.6 212.1l6.4 -6.3M473.6 231.0l-12.7 -23.9M460.9 207.2l6.9 -5.7M486.4 231.0l-2.0 -26.9M484.4 204.1l8.7 -2.5M484.7 208.6l8.7 -2.5M499.2 231.0l-23.9 -12.6M475.3 218.5l2.5 -8.6M512.0 231.0l-23.7 -12.9M488.3 218.1l2.6 -8.6M524.8 231.0l-22.1 -15.6M502.7 215.5l3.6 -8.2M537.6 231.0l-23.5 -13.3M514.1 217.7l2.8 -8.6M518.0 219.9l2.8 -8.6M550.4 231.0l-19.7 -18.5M530.7 212.6l4.7 -7.7M534.0 215.7l4.7 -7.7M563.2 231.0l-20.7 -17.3M542.5 213.7l4.3 -7.9M545.9 216.6l4.3 -7.9M576.0 231.0l-17.6 -20.4M558.4 210.6l5.5 -7.1M588.8 231.0l-18.0 -20.1M570.8 210.9l5.4 -7.2M573.8 214.3l5.4 -7.2M601.6 231.0l-14.2 -22.9M587.4 208.1l6.5 -6.2M614.4 231.0l-21.7 -16.0M592.7 215.0l3.8 -8.2M596.3 217.7l3.8 -8.2M627.2 231.0l-5.1 -26.5M622.2 204.5l8.3 -3.4M640.0 231.0l2.1 -26.9M642.1 204.1l8.9 -1.1M652.8 231.0l-17.9 -20.2M634.9 210.9l5.4 -7.2M665.6 231.0l1.7 -26.9M667.4 204.1l8.9 -1.2M678.4 231.0l-3.9 -26.7M674.5 204.3l8.5 -3.1M675.2 208.8l8.5 -3.1M691.2 231.0l9.3 -25.4M700.5 205.7l8.9 1.3M699.0 209.9l8.9 1.3M704.1 231.0l5.9 -26.3M710.0 204.7l9.0 0.2M716.9 231.0l6.6 -26.2M723.4 204.9l9.0 0.4M722.3 209.2l9.0 0.4M729.7 231.0l12.3 -24.0M742.0 207.0l8.7 2.4M742.5 231.0l-7.8 -25.8M734.6 205.2l7.9 -4.3M755.3 231.0l0.2 -27.0M755.5 204.0l8.8 -1.7M768.1 231.0l10.8 -24.7M778.9 206.3l8.8 1.9M780.9 231.0l4.3 -26.7M785.1 204.4l9.0 -0.4M793.7 231.0l0.5 -27.0M794.2 204.0l8.9 -1.6M806.5 231.0l9.3 -25.3M815.8 205.7l8.9 1.4M814.3 209.9l8.9 1.4M819.3 231.0l12.1 -24.1M831.4 206.9l8.7 2.3M832.1 231.0l7.9 -25.8M840.0 205.2l9.0 0.9M844.9 231.0l17.1 -20.9M862.0 210.1l8.0 4.2M857.7 231.0l-5.5 -26.4M852.2 204.6l8.3 -3.6M853.1 209.0l8.3 -3.6M870.5 231.0l3.1 -26.8M873.6 204.2l9.0 -0.8M153.5 221.1l-22.2 -15.3M131.3 205.8l3.5 -8.3M166.3 221.1l-22.4 -15.1M143.9 206.0l3.4 -8.3M179.1 221.1l-20.0 -18.1M159.1 203.0l4.6 -7.7M162.4 206.0l4.6 -7.7M191.9 221.1l-27.0 0.3M164.9 221.4l-1.9 -8.8M204.7 221.1l-17.9 -20.2M186.8 200.9l5.4 -7.2M217.5 221.1l-23.9 -12.5M193.6 208.6l2.5 -8.7M230.3 221.1l-17.7 -20.4M212.6 200.7l5.5 -7.1M215.6 204.1l5.5 -7.1M243.1 221.1l-27.0 0.1M216.1 221.2l-1.8 -8.8M255.9 221.1l-17.4 -20.6M238.5 200.5l5.6 -7.1M268.7 221.1l-20.8 -17.2M248.0 203.9l4.2 -7.9M281.5 221.1l-24.4 -11.7M257.2 209.5l2.2 -8.7M294.3 221.1l-26.1 -7.0M268.3 214.1l0.5 -9.0M307.1 221.1l-25.1 -10.0M282.1 211.1l1.6 -8.9M319.9 221.1l-25.0 -10.2M294.9 210.9l1.7 -8.8M332.8 221.1l-24.9 -10.4M307.8 210.7l1.7 -8.8M345.6 221.1l-25.7 -8.2M319.8 212.9l1.0 -8.9M324.1 214.3l1.0 -8.9M358.4 221.1l-24.8 -10.7M333.6 210.4l1.9 -8.8M337.7 212.2l1.9 -8.8M371.2 221.1l-22.7 -14.7M348.5 206.5l3.3 -8.4M384.0 221.1l-16.6 -21.3M367.4 199.8l5.9 -6.8M396.8 221.1l-17.0 -21.0M379.8 200.1l5.7 -7.0M409.6 221.1l-20.2 -17.9M389.4 203.2l4.5 -7.8M422.4 221.1l-15.3 -22.2M407.1 198.9l6.2 -6.5M435.2 221.1l-10.1 -25.0M425.1 196.1l7.5 -5.0M448.0 221.1l-15.5 -22.1M432.5 199.0l6.2 -6.5M435.1 202.7l6.2 -6.5M460.8 221.1l-7.8 -25.8M453.0 195.3l7.9 -4.3M473.6 221.1l-8.9 -25.5M464.7 195.6l7.7 -4.6M486.4 221.1l-19.5 -18.7M466.9 202.5l4.8 -7.6M499.2 221.1l-14.3 -22.9M484.9 198.2l6.5 -6.2M512.0 221.1l-7.3 -26.0M504.7 195.1l8.0 -4.1M524.8 221.1l-7.5 -25.9M517.3 195.2l8.0 -4.2M537.6 221.1l-19.2 -19.0M518.5 202.1l4.9 -7.5M521.6 205.3l4.9 -7.5M550.4 221.1l-25.1 -10.0M525.3 211.1l1.6 -8.9M563.2 221.1l-24.7 -10.9M538.5 210.3l1.9 -8.8M576.0 221.1l-25.8 -7.8M550.2 213.3l0.8 -9.0M554.5 214.6l0.8 -9.0M588.8 221.1l-16.7 -21.2M572.1 199.9l5.8 -6.9M601.6 221.1l-4.7 -26.6M596.9 194.5l8.4 -3.3M597.7 199.0l8.4 -3.3M614.4 221.1l-17.3 -20.7M597.1 200.4l5.6 -7.0M627.2 221.1l-22.8 -14.4M604.4 206.7l3.2 -8.4M640.0 221.1l-14.0 -23.1M626.1 198.0l6.6 -6.1M652.8 221.1l-11.9 -24.2M640.9 196.9l7.1 -5.5M665.6 221.1l-14.5 -22.8M651.1 198.4l6.5 -6.3M678.4 221.1l-4.3 -26.7M674.2 194.5l8.4 -3.2M691.2 221.1l-2.3 -26.9M688.9 194.2l8.6 -2.6M704.1 221.1l-9.9 -25.1M694.1 196.0l7.5 -4.9M716.9 221.1l6.6 -26.2M723.5 194.9l9.0 0.4M729.7 221.1l-1.4 -27.0M728.3 194.2l8.7 -2.2M742.5 221.1l-5.7 -26.4M736.8 194.7l8.2 -3.6M755.3 221.1l-15.3 -22.2M739.9 198.9l6.2 -6.5M768.1 221.1l-1.0 -27.0M767.1 194.1l8.8 -2.1M780.9 221.1l-15.2 -22.3M765.6 198.8l6.3 -6.5M793.7 221.1l-2.5 -26.9M791.2 194.2l8.6 -2.6M806.5 221.1l8.0 -25.8M814.5 195.3l9.0 0.9M819.3 221.1l-13.5 -23.4M805.8 197.8l6.7 -6.0M832.1 221.1l-0.8 -27.0M831.3 194.1l8.8 -2.1M831.4 198.6l8.8 -2.1M844.9 221.1l-11.1 -24.6M833.8 196.5l7.3 -5.3M857.7 221.1l-9.0 -25.4M848.7 195.7l7.7 -4.6M870.5 221.1l-10.7 -24.8M859.8 196.3l7.4 -5.1M153.5 211.2l-19.4 -18.7M134.1 192.5l4.8 -7.6M137.3 195.6l4.8 -7.6M166.3 211.2l-24.9 -10.4M141.4 200.8l1.7 -8.8M179.1 211.2l-20.1 -18.1M159.1 193.1l4.6 -7.8M162.4 196.1l4.6 -7.8M191.9 211.2l-26.0 -7.2M165.9 204.0l0.6 -9.0M204.7 211.2l-22.7 -14.6M182.0 196.6l3.3 -8.4M217.5 211.2l-25.7 -8.2M191.8 203.0l1.0 -8.9M196.1 204.3l1.0 -8.9M230.3 211.2l-22.6 -14.8M207.7 196.4l3.3 -8.4M243.1 211.2l-20.2 -17.9M222.9 193.3l4.5 -7.8M255.9 211.2l-12.9 -23.7M243.1 187.5l6.9 -5.8M268.7 211.2l-26.3 -6.2M242.5 205.0l0.3 -9.0M281.5 211.2l-24.3 -11.7M257.2 199.5l2.2 -8.7M261.3 201.4l2.2 -8.7M294.3 211.2l-21.3 -16.6M273.0 194.6l4.0 -8.1M307.1 211.2l-15.9 -21.8M291.2 189.4l6.1 -6.7M319.9 211.2l-20.7 -17.3M299.2 193.9l4.3 -7.9M332.8 211.2l-20.8 -17.2M311.9 194.0l4.2 -8.0M345.6 211.2l-9.2 -25.4M336.3 185.8l7.7 -4.7M337.9 190.1l7.7 -4.7M358.4 211.2l-22.0 -15.6M336.3 195.6l3.6 -8.2M340.0 198.2l3.6 -8.2M371.2 211.2l-5.4 -26.5M365.8 184.7l8.3 -3.5M366.7 189.1l8.3 -3.5M384.0 211.2l-14.7 -22.7M369.3 188.5l6.4 -6.3M396.8 211.2l-15.3 -22.3M381.5 188.9l6.3 -6.5M409.6 211.2l1.2 -27.0M410.8 184.2l8.9 -1.4M410.6 188.7l8.9 -1.4M422.4 211.2l-15.8 -21.9M406.6 189.3l6.1 -6.6M435.2 211.2l-12.9 -23.7M422.3 187.5l6.9 -5.8M448.0 211.2l3.9 -26.7M451.9 184.5l9.0 -0.5M451.2 188.9l9.0 -0.5M460.8 211.2l4.4 -26.6M465.1 184.6l9.0 -0.4M473.6 211.2l-11.2 -24.6M462.4 186.6l7.3 -5.3M486.4 211.2l-9.8 -25.2M476.6 186.0l7.6 -4.9M499.2 211.2l-1.2 -27.0M498.0 184.2l8.7 -2.2M512.0 211.2l-17.0 -20.9M495.0 190.3l5.7 -7.0M524.8 211.2l-15.6 -22.0M509.2 189.2l6.1 -6.6M537.6 211.2l-13.0 -23.7M524.7 187.5l6.9 -5.8M526.8 191.5l6.9 -5.8M550.4 211.2l-26.0 -7.4M524.4 203.8l0.7 -9.0M563.2 211.2l-17.8 -20.3M545.4 190.9l5.4 -7.2M576.0 211.2l-25.8 -8.1M550.3 203.1l0.9 -9.0M588.8 211.2l-22.8 -14.5M566.0 196.7l3.2 -8.4M601.6 211.2l-20.3 -17.8M581.3 193.4l4.5 -7.8M614.4 211.2l-13.9 -23.1M600.5 188.1l6.6 -6.1M627.2 211.2l-22.6 -14.7M604.6 196.5l3.3 -8.4M608.4 198.9l3.3 -8.4M640.0 211.2l-13.4 -23.5M626.7 187.7l6.8 -5.9M652.8 211.2l-16.3 -21.5M636.5 189.7l5.9 -6.8M665.6 211.2l-9.1 -25.4M656.5 185.8l7.7 -4.7M658.0 190.0l7.7 -4.7M678.4 211.2l-10.8 -24.8M667.7 186.4l7.4 -5.2M669.5 190.6l7.4 -5.2M691.2 211.2l-22.7 -14.7M668.6 196.5l3.3 -8.4M672.4 199.0l3.3 -8.4M704.1 211.2l-13.5 -23.4M690.6 187.8l6.7 -6.0M692.8 191.7l6.7 -6.0M716.9 211.2l-12.3 -24.0M704.5 187.2l7.0 -5.6M729.7 211.2l-8.5 -25.6M721.2 185.6l7.8 -4.5M722.6 189.8l7.8 -4.5M742.5 211.2l-0.2 -27.0M742.3 184.2l8.8 -1.9M755.3 211.2l-6.1 -26.3M749.2 184.9l8.2 -3.7M750.2 189.3l8.2 -3.7M768.1 211.2l-1.1 -27.0M767.0 184.2l8.7 -2.2M767.1 188.7l8.7 -2.2M780.9 211.2l-1.9 -26.9M779.0 184.3l8.7 -2.4M779.3 188.8l8.7 -2.4M793.7 211.2l-12.9 -23.7M780.7 187.5l6.9 -5.8M806.5 211.2l1.4 -27.0M807.9 184.2l8.9 -1.3M819.3 211.2l3.7 -26.7M823.0 184.5l9.0 -0.6M822.3 188.9l9.0 -0.6M832.1 211.2l-15.7 -22.0M816.4 189.2l6.1 -6.6M819.0 192.9l6.1 -6.6M844.9 211.2l-5.0 -26.5M839.9 184.7l8.3 -3.4M857.7 211.2l-14.0 -23.1M843.7 188.1l6.6 -6.1M846.0 192.0l6.6 -6.1M870.5 211.2l-1.4 -27.0M869.1 184.2l8.7 -2.3M153.5 201.3l-22.8 -14.5M130.7 186.8l3.2 -8.4M166.3 201.3l-19.9 -18.2M146.4 183.0l4.6 -7.7M179.1 201.3l-24.5 -11.3M154.6 190.0l2.1 -8.8M158.7 191.9l2.1 -8.8M191.9 201.3l-23.9 -12.6M168.0 188.7l2.5 -8.6M172.0 190.8l2.5 -8.6M204.7 201.3l-26.3 -6.3M178.4 195.0l0.3 -9.0M182.8 196.1l0.3 -9.0M217.5 201.3l-26.9 -1.9M190.6 199.4l-1.2 -8.9M230.3 201.3l-21.3 -16.6M209.1 184.6l4.0 -8.1M212.6 187.4l4.0 -8.1M243.1 201.3l-24.3 -11.8M218.8 189.5l2.2 -8.7M222.9 191.5l2.2 -8.7M255.9 201.3l-26.4 -5.7M229.5 195.6l0.1 -9.0M233.9 196.5l0.1 -9.0M268.7 201.3l-21.8 -15.9M246.9 185.4l3.7 -8.2M281.5 201.3l-16.3 -21.5M265.2 179.8l5.9 -6.8M294.3 201.3l-18.0 -20.1M276.3 181.2l5.4 -7.2M307.1 201.3l-20.8 -17.2M286.3 184.1l4.2 -8.0M319.9 201.3l-16.5 -21.4M303.5 179.9l5.9 -6.8M306.2 183.5l5.9 -6.8M332.8 201.3l-10.3 -25.0M322.5 176.3l7.5 -5.0M345.6 201.3l-12.3 -24.0M333.2 177.2l7.0 -5.6M358.4 201.3l-4.8 -26.6M353.5 174.7l8.4 -3.3M371.2 201.3l-9.7 -25.2M361.5 176.1l7.6 -4.8M384.0 201.3l-5.9 -26.3M378.1 174.9l8.2 -3.7M379.0 179.3l8.2 -3.7M396.8 201.3l-4.1 -26.7M392.7 174.6l8.4 -3.1M393.3 179.0l8.4 -3.1M409.6 201.3l3.4 -26.8M413.0 174.5l9.0 -0.7M422.4 201.3l1.3 -27.0M423.7 174.3l8.9 -1.4M435.2 201.3l-13.5 -23.4M421.7 177.9l6.7 -6.0M448.0 201.3l-10.9 -24.7M437.1 176.6l7.4 -5.2M460.8 201.3l7.9 -25.8M468.7 175.5l9.0 0.9M467.4 179.8l9.0 0.9M473.6 201.3l7.7 -25.9M481.3 175.4l9.0 0.8M486.4 201.3l-12.9 -23.7M473.5 177.6l6.9 -5.8M499.2 201.3l-9.6 -25.2M489.6 176.0l7.6 -4.8M512.0 201.3l-19.3 -18.9M492.7 182.4l4.9 -7.6M496.0 185.5l4.9 -7.6M524.8 201.3l-23.7 -12.8M501.1 188.4l2.6 -8.6M537.6 201.3l-22.2 -15.3M515.4 185.9l3.5 -8.3M519.1 188.5l3.5 -8.3M550.4 201.3l-13.9 -23.2M536.5 178.1l6.6 -6.1M563.2 201.3l-25.9 -7.5M537.3 193.7l0.7 -9.0M576.0 201.3l-15.2 -22.3M560.8 179.0l6.3 -6.5M563.3 182.7l6.3 -6.5M588.8 201.3l-17.4 -20.6M571.4 180.7l5.6 -7.1M574.3 184.1l5.6 -7.1M601.6 201.3l-19.8 -18.3M581.8 183.0l4.7 -7.7M614.4 201.3l-13.5 -23.4M601.0 177.9l6.7 -6.0M627.2 201.3l-24.3 -11.7M602.9 189.5l2.2 -8.7M607.0 191.5l2.2 -8.7M640.0 201.3l-26.0 -7.2M614.0 194.1l0.6 -9.0M652.8 201.3l-24.6 -11.2M628.3 190.1l2.0 -8.8M632.4 191.9l2.0 -8.8M665.6 201.3l-19.6 -18.5M646.0 182.8l4.7 -7.7M678.4 201.3l-17.2 -20.8M661.3 180.5l5.7 -7.0M664.1 183.9l5.7 -7.0M691.2 201.3l-24.8 -10.7M666.5 190.5l1.9 -8.8M704.1 201.3l-14.2 -22.9M689.8 178.3l6.5 -6.2M692.2 182.2l6.5 -6.2M716.9 201.3l-24.4 -11.5M692.4 189.8l2.1 -8.7M729.7 201.3l-7.2 -26.0M722.5 175.2l8.0 -4.1M723.7 179.6l8.0 -4.1M742.5 201.3l-8.4 -25.7M734.1 175.6l7.8 -4.5M755.3 201.3l-10.6 -24.9M744.7 176.4l7.4 -5.1M768.1 201.3l-21.9 -15.8M746.1 185.5l3.7 -8.2M749.8 188.1l3.7 -8.2M780.9 201.3l-20.7 -17.4M760.2 183.9l4.3 -7.9M793.7 201.3l-21.3 -16.6M772.4 184.7l4.0 -8.1M806.5 201.3l-10.5 -24.9M795.9 176.4l7.4 -5.1M797.7 180.6l7.4 -5.1M819.3 201.3l-23.8 -12.7M795.5 188.5l2.6 -8.6M832.1 201.3l-22.9 -14.2M809.1 187.0l3.1 -8.4M844.9 201.3l-18.8 -19.4M826.1 181.9l5.1 -7.4M857.7 201.3l-15.5 -22.1M842.2 179.2l6.2 -6.5M870.5 201.3l0.8 -27.0M871.3 174.3l8.9 -1.5M153.5 191.4l-23.2 -13.9M130.3 177.5l3.0 -8.5M166.3 191.4l-27.0 -0.5M139.3 190.9l-1.6 -8.8M143.8 191.0l-1.6 -8.8M179.1 191.4l-26.5 -5.1M152.6 186.2l-0.1 -9.0M157.0 187.1l-0.1 -9.0M191.9 191.4l-26.1 -6.8M165.8 184.6l0.5 -9.0M204.7 191.4l-20.1 -18.0M184.6 173.3l4.5 -7.8M217.5 191.4l-27.0 -0.8M190.5 190.5l-1.5 -8.9M230.3 191.4l-23.4 -13.4M206.9 178.0l2.8 -8.6M210.8 180.2l2.8 -8.6M243.1 191.4l-13.0 -23.7M230.1 167.7l6.9 -5.8M255.9 191.4l-19.9 -18.3M236.1 173.1l4.6 -7.7M239.4 176.1l4.6 -7.7M268.7 191.4l-16.9 -21.0M251.8 170.3l5.7 -6.9M254.6 173.8l5.7 -6.9M281.5 191.4l-23.4 -13.5M258.1 177.9l2.8 -8.5M294.3 191.4l-13.3 -23.5M281.1 167.8l6.8 -5.9M283.3 171.8l6.8 -5.9M307.1 191.4l-18.6 -19.6M288.5 171.8l5.1 -7.4M319.9 191.4l-24.7 -10.8M295.2 180.5l1.9 -8.8M332.8 191.4l-11.6 -24.4M321.2 167.0l7.2 -5.4M345.6 191.4l-5.4 -26.5M340.2 164.9l8.3 -3.5M358.4 191.4l-8.4 -25.7M349.9 165.7l7.8 -4.5M371.2 191.4l-11.8 -24.3M359.3 167.1l7.1 -5.5M384.0 191.4l1.0 -27.0M385.0 164.4l8.9 -1.5M396.8 191.4l-8.3 -25.7M388.4 165.7l7.8 -4.4M409.6 191.4l-10.3 -25.0M399.3 166.4l7.5 -5.0M422.4 191.4l10.3 -25.0M432.6 166.4l8.8 1.7M430.9 170.6l8.8 1.7M435.2 191.4l6.1 -26.3M441.3 165.1l9.0 0.3M440.3 169.4l9.0 0.3M448.0 191.4l16.0 -21.7M464.0 169.6l8.2 3.8M461.4 173.3l8.2 3.8M460.8 191.4l10.7 -24.8M471.5 166.6l8.8 1.8M473.6 191.4l0.1 -27.0M473.7 164.4l8.8 -1.8M473.7 168.9l8.8 -1.8M486.4 191.4l-0.8 -27.0M485.6 164.4l8.8 -2.0M499.2 191.4l-6.6 -26.2M492.6 165.2l8.1 -3.9M493.7 169.5l8.1 -3.9M512.0 191.4l-3.3 -26.8M508.7 164.6l8.5 -2.9M509.2 169.0l8.5 -2.9M524.8 191.4l-25.7 -8.1M499.1 183.2l0.9 -9.0M537.6 191.4l-12.4 -24.0M525.3 167.4l7.0 -5.6M550.4 191.4l-27.0 -0.4M523.4 190.9l-1.7 -8.8M563.2 191.4l-18.7 -19.5M544.6 171.8l5.1 -7.4M576.0 191.4l-24.7 -10.9M551.3 180.4l1.9 -8.8M555.4 182.3l1.9 -8.8M588.8 191.4l-25.7 -8.3M563.1 183.1l1.0 -8.9M567.4 184.5l1.0 -8.9M601.6 191.4l-26.9 1.9M574.7 193.3l-2.4 -8.7M614.4 191.4l-26.2 -6.5M588.2 184.8l0.4 -9.0M627.2 191.4l-26.3 -6.1M600.9 185.2l0.3 -9.0M605.3 186.2l0.3 -9.0M640.0 191.4l-21.2 -16.7M618.8 174.7l4.0 -8.0M622.4 177.4l4.0 -8.0M652.8 191.4l-16.6 -21.3M636.2 170.1l5.8 -6.8M665.6 191.4l-26.9 -1.9M638.7 189.5l-1.2 -8.9M643.2 189.8l-1.2 -8.9M678.4 191.4l-19.4 -18.8M659.0 172.6l4.8 -7.6M691.2 191.4l-26.9 -2.5M664.4 188.9l-1.0 -8.9M704.1 191.4l-18.5 -19.7M685.6 171.7l5.2 -7.4M716.9 191.4l-26.7 -3.8M690.1 187.5l-0.5 -9.0M729.7 191.4l-20.9 -17.1M708.8 174.2l4.2 -8.0M712.3 177.1l4.2 -8.0M742.5 191.4l-26.5 -5.0M715.9 186.4l-0.1 -9.0M755.3 191.4l-21.0 -17.0M734.3 174.3l4.2 -8.0M768.1 191.4l-20.7 -17.4M747.4 174.0l4.3 -7.9M780.9 191.4l-17.7 -20.4M763.1 171.0l5.5 -7.2M766.1 174.4l5.5 -7.2M793.7 191.4l-23.3 -13.6M770.4 177.7l2.9 -8.5M806.5 191.4l-25.9 -7.6M780.6 183.8l0.7 -9.0M819.3 191.4l-26.4 -5.7M792.9 185.7l0.1 -9.0M832.1 191.4l-20.4 -17.7M811.7 173.7l4.4 -7.8M844.9 191.4l-11.4 -24.5M833.5 166.9l7.2 -5.4M835.4 171.0l7.2 -5.4M857.7 191.4l-19.6 -18.5M838.1 172.8l4.7 -7.6M841.3 175.9l4.7 -7.6M870.5 191.4l-20.5 -17.5M850.0 173.8l4.4 -7.9M853.4 176.8l4.4 -7.9M153.5 181.4l-23.4 -13.5M130.1 167.9l2.9 -8.5M166.3 181.4l-20.5 -17.6M145.8 163.9l4.4 -7.9M149.2 166.8l4.4 -7.9M179.1 181.4l-23.3 -13.6M155.8 167.9l2.9 -8.5M159.7 170.1l2.9 -8.5M191.9 181.4l-25.1 -10.0M166.8 171.5l1.6 -8.9M171.0 173.1l1.6 -8.9M204.7 181.4l-25.5 -8.8M179.2 172.6l1.2 -8.9M217.5 181.4l-24.8 -10.7M192.7 170.8l1.8 -8.8M230.3 181.4l-20.3 -17.8M210.0 163.7l4.4 -7.8M243.1 181.4l-21.6 -16.2M221.5 165.2l3.9 -8.1M255.9 181.4l-19.1 -19.1M236.8 162.4l5.0 -7.5M268.7 181.4l-21.3 -16.6M247.4 164.9l4.0 -8.1M281.5 181.4l-22.5 -14.9M259.0 166.5l3.4 -8.3M262.8 169.0l3.4 -8.3M294.3 181.4l-15.7 -22.0M278.7 159.5l6.1 -6.6M307.1 181.4l-17.6 -20.4M289.5 161.0l5.5 -7.1M319.9 181.4l-12.3 -24.0M307.7 157.4l7.0 -5.6M309.7 161.4l7.0 -5.6M332.8 181.4l-12.6 -23.9M320.2 157.6l7.0 -5.7M345.6 181.4l-18.1 -20.0M327.4 161.4l5.3 -7.3M358.4 181.4l-14.9 -22.5M343.5 158.9l6.4 -6.4M371.2 181.4l-13.7 -23.3M357.5 158.2l6.7 -6.0M384.0 181.4l-9.1 -25.4M374.8 156.0l7.7 -4.7M376.4 160.3l7.7 -4.7M396.8 181.4l-4.4 -26.6M392.4 154.8l8.4 -3.2M409.6 181.4l4.0 -26.7M413.5 154.7l9.0 -0.5M422.4 181.4l-2.3 -26.9M420.0 154.5l8.6 -2.6M435.2 181.4l4.8 -26.6M439.9 154.9l9.0 -0.2M439.2 159.3l9.0 -0.2M448.0 181.4l11.4 -24.5M459.4 157.0l8.8 2.1M460.8 181.4l13.2 -23.5M474.0 157.9l8.6 2.8M471.8 161.8l8.6 2.8M473.6 181.4l0.5 -27.0M474.1 154.4l8.9 -1.6M486.4 181.4l3.7 -26.7M490.1 154.7l9.0 -0.6M499.2 181.4l-6.4 -26.2M492.8 155.2l8.1 -3.8M512.0 181.4l-13.2 -23.6M498.8 157.9l6.8 -5.9M524.8 181.4l-19.9 -18.3M504.9 163.2l4.6 -7.7M537.6 181.4l-19.4 -18.8M518.2 162.6l4.9 -7.6M521.5 165.8l4.9 -7.6M550.4 181.4l-26.5 -5.3M523.9 176.2l-0.0 -9.0M563.2 181.4l-24.1 -12.3M539.2 169.2l2.4 -8.7M576.0 181.4l-25.5 -9.0M550.6 172.5l1.2 -8.9M554.8 174.0l1.2 -8.9M588.8 181.4l-26.5 -5.2M562.3 176.3l-0.1 -9.0M566.7 177.1l-0.1 -9.0M601.6 181.4l-26.4 -5.7M575.2 175.7l0.1 -9.0M614.4 181.4l-25.4 -9.2M589.1 172.2l1.3 -8.9M627.2 181.4l-24.8 -10.7M602.4 170.7l1.8 -8.8M640.0 181.4l-26.7 -4.2M613.4 177.2l-0.4 -9.0M617.8 177.9l-0.4 -9.0M652.8 181.4l-26.2 -6.7M626.7 174.7l0.4 -9.0M631.0 175.9l0.4 -9.0M665.6 181.4l-26.3 -6.2M639.4 175.2l0.3 -9.0M678.4 181.4l-26.6 -4.7M651.9 176.8l-0.3 -9.0M691.2 181.4l-26.9 -1.7M664.3 179.7l-1.2 -8.9M668.8 180.0l-1.2 -8.9M704.1 181.4l-27.0 1.4M677.1 182.9l-2.3 -8.7M716.9 181.4l-24.5 -11.3M692.3 170.2l2.0 -8.8M729.7 181.4l-25.8 -7.9M703.8 173.5l0.9 -9.0M708.1 174.9l0.9 -9.0M742.5 181.4l-27.0 -0.5M715.5 180.9l-1.6 -8.9M755.3 181.4l-26.8 -3.6M728.5 177.8l-0.6 -9.0M733.0 178.4l-0.6 -9.0M768.1 181.4l-26.7 -4.1M741.4 177.4l-0.4 -9.0M745.8 178.0l-0.4 -9.0M780.9 181.4l-24.3 -11.8M756.6 169.6l2.2 -8.7M793.7 181.4l-22.5 -15.0M771.2 166.5l3.4 -8.3M806.5 181.4l-23.7 -13.0M782.8 168.4l2.7 -8.6M786.8 170.6l2.7 -8.6M819.3 181.4l-26.1 -7.0M793.2 174.4l0.5 -9.0M832.1 181.4l-26.2 -6.6M805.9 174.8l0.4 -9.0M844.9 181.4l-25.4 -9.0M819.4 172.4l1.3 -8.9M857.7 181.4l-24.9 -10.5M832.8 171.0l1.8 -8.8M870.5 181.4l-17.4 -20.6M853.1 160.8l5.6 -7.1M153.5 171.5l-22.2 -15.4M131.3 156.1l3.5 -8.3M166.3 171.5l-24.6 -11.2M141.8 160.3l2.0 -8.8M179.1 171.5l-20.3 -17.8M158.8 153.7l4.5 -7.8M191.9 171.5l-24.9 -10.5M167.0 161.0l1.8 -8.8M204.7 171.5l-24.6 -11.1M180.1 160.4l2.0 -8.8M184.2 162.2l2.0 -8.8M217.5 171.5l-23.2 -13.8M194.3 157.7l3.0 -8.5M198.2 160.0l3.0 -8.5M230.3 171.5l-22.0 -15.6M208.3 155.9l3.6 -8.2M243.1 171.5l-16.8 -21.1M226.3 150.4l5.8 -6.9M255.9 171.5l-21.4 -16.5M234.5 155.0l4.0 -8.1M238.1 157.8l4.0 -8.1M268.7 171.5l-15.5 -22.1M253.3 149.4l6.2 -6.5M281.5 171.5l-21.1 -16.9M260.5 154.6l4.1 -8.0M294.3 171.5l-12.1 -24.2M282.3 147.4l7.1 -5.5M284.3 151.4l7.1 -5.5M307.1 171.5l-10.7 -24.8M296.4 146.8l7.4 -5.2M319.9 171.5l-10.5 -24.9M309.5 146.6l7.4 -5.1M332.8 171.5l-10.4 -24.9M322.4 146.6l7.5 -5.0M345.6 171.5l-9.0 -25.4M336.5 146.1l7.7 -4.7M338.0 150.3l7.7 -4.7M358.4 171.5l-12.8 -23.8M345.6 147.7l6.9 -5.8M371.2 171.5l-7.4 -26.0M363.7 145.6l8.0 -4.2M384.0 171.5l-7.8 -25.8M376.2 145.7l7.9 -4.3M377.5 150.0l7.9 -4.3M396.8 171.5l4.0 -26.7M400.7 144.8l9.0 -0.5M400.1 149.3l9.0 -0.5M409.6 171.5l5.0 -26.5M414.5 145.0l9.0 -0.1M422.4 171.5l3.9 -26.7M426.3 144.8l9.0 -0.5M425.6 149.3l9.0 -0.5M435.2 171.5l14.7 -22.6M449.9 148.9l8.4 3.3M448.0 171.5l10.9 -24.7M458.9 146.8l8.8 1.9M460.8 171.5l11.6 -24.4M472.4 147.1l8.7 2.2M470.4 151.2l8.7 2.2M473.6 171.5l2.7 -26.9M476.3 144.7l9.0 -0.9M486.4 171.5l-3.3 -26.8M483.1 144.7l8.5 -2.9M499.2 171.5l0.5 -27.0M499.7 144.5l8.9 -1.6M512.0 171.5l-10.1 -25.0M501.9 146.5l7.5 -5.0M524.8 171.5l-21.1 -16.9M503.7 154.7l4.1 -8.0M507.2 157.5l4.1 -8.0M537.6 171.5l-21.7 -16.1M515.9 155.4l3.8 -8.2M550.4 171.5l-25.8 -7.8M524.6 163.7l0.8 -9.0M563.2 171.5l-26.5 -5.4M536.8 166.1l0.0 -9.0M576.0 171.5l-25.4 -9.1M550.6 162.5l1.3 -8.9M588.8 171.5l-26.6 -4.3M562.2 167.2l-0.4 -9.0M566.6 167.9l-0.4 -9.0M601.6 171.5l-26.9 -2.4M574.7 169.2l-1.0 -8.9M614.4 171.5l-25.8 -7.9M588.6 163.7l0.8 -9.0M592.9 165.0l0.8 -9.0M627.2 171.5l-27.0 1.1M600.3 172.6l-2.2 -8.7M604.8 172.4l-2.2 -8.7M640.0 171.5l-26.7 -4.3M613.4 167.2l-0.4 -9.0M652.8 171.5l-26.7 -4.2M626.2 167.3l-0.4 -9.0M665.6 171.5l-27.0 -0.2M638.6 171.3l-1.7 -8.8M678.4 171.5l-26.2 6.5M652.2 178.0l-3.9 -8.1M656.6 176.9l-3.9 -8.1M691.2 171.5l-27.0 0.7M664.3 172.2l-2.0 -8.8M704.1 171.5l-26.5 5.1M677.5 176.6l-3.4 -8.3M716.9 171.5l-27.0 1.2M689.9 172.7l-2.2 -8.7M729.7 171.5l-26.8 -3.1M702.8 168.4l-0.8 -9.0M707.3 168.9l-0.8 -9.0M742.5 171.5l-26.9 2.5M715.6 174.0l-2.6 -8.6M755.3 171.5l-26.7 4.0M728.6 175.5l-3.1 -8.5M768.1 171.5l-26.5 -5.4M741.6 166.1l0.0 -9.0M780.9 171.5l-27.0 0.2M753.9 171.7l-1.9 -8.8M793.7 171.5l-26.9 -1.8M766.7 169.8l-1.2 -8.9M806.5 171.5l-26.8 -3.5M779.7 168.1l-0.7 -9.0M819.3 171.5l-24.8 -10.6M794.5 160.9l1.8 -8.8M832.1 171.5l-25.4 -9.2M806.7 162.3l1.3 -8.9M844.9 171.5l-25.3 -9.4M819.6 162.1l1.4 -8.9M857.7 171.5l-22.8 -14.5M834.9 157.0l3.2 -8.4M838.7 159.4l3.2 -8.4M870.5 171.5l-22.3 -15.2M848.2 156.3l3.5 -8.3M851.9 158.8l3.5 -8.3M153.5 161.6l-21.0 -17.0M132.5 144.6l4.1 -8.0M166.3 161.6l-24.4 -11.6M141.9 150.0l2.2 -8.7M179.1 161.6l-25.0 -10.1M154.1 151.5l1.6 -8.9M191.9 161.6l-22.4 -15.1M169.5 146.5l3.4 -8.3M173.3 149.0l3.4 -8.3M204.7 161.6l-23.2 -13.9M181.6 147.7l3.0 -8.5M217.5 161.6l-25.3 -9.4M192.2 152.2l1.4 -8.9M230.3 161.6l-25.9 -7.7M204.4 153.9l0.8 -9.0M243.1 161.6l-25.5 -9.0M217.7 152.6l1.2 -8.9M255.9 161.6l-18.4 -19.8M237.5 141.8l5.2 -7.3M240.6 145.1l5.2 -7.3M268.7 161.6l-22.2 -15.3M246.5 146.3l3.5 -8.3M281.5 161.6l-19.5 -18.7M262.0 142.9l4.8 -7.6M294.3 161.6l-19.4 -18.8M275.0 142.8l4.9 -7.6M307.1 161.6l-14.5 -22.8M292.6 138.8l6.5 -6.3M319.9 161.6l-22.1 -15.5M297.9 146.1l3.6 -8.2M301.5 148.7l3.6 -8.2M332.8 161.6l-14.6 -22.7M318.1 138.9l6.4 -6.3M320.6 142.7l6.4 -6.3M345.6 161.6l-11.6 -24.4M333.9 137.2l7.2 -5.4M335.8 141.3l7.2 -5.4M358.4 161.6l-16.2 -21.6M342.2 140.0l6.0 -6.7M344.9 143.6l6.0 -6.7M371.2 161.6l-10.2 -25.0M361.0 136.6l7.5 -5.0M362.7 140.8l7.5 -5.0M384.0 161.6l-10.2 -25.0M373.8 136.6l7.5 -5.0M396.8 161.6l-7.9 -25.8M388.9 135.8l7.9 -4.3M390.2 140.1l7.9 -4.3M409.6 161.6l-6.0 -26.3M403.6 135.3l8.2 -3.7M422.4 161.6l-0.8 -27.0M421.6 134.6l8.8 -2.1M421.7 139.1l8.8 -2.1M435.2 161.6l-0.5 -27.0M434.7 134.6l8.8 -1.9M448.0 161.6l9.2 -25.4M457.1 136.2l8.9 1.3M455.6 140.4l8.9 1.3M460.8 161.6l8.2 -25.7M469.0 135.9l9.0 1.0M473.6 161.6l-6.9 -26.1M466.7 135.5l8.1 -4.0M486.4 161.6l-13.7 -23.2M472.6 138.4l6.7 -6.0M474.9 142.2l6.7 -6.0M499.2 161.6l-12.8 -23.7M486.3 137.9l6.9 -5.8M512.0 161.6l-21.5 -16.3M490.5 145.3l3.9 -8.1M524.8 161.6l-24.7 -10.9M500.1 150.7l1.9 -8.8M537.6 161.6l-22.7 -14.6M514.9 147.0l3.3 -8.4M550.4 161.6l-24.3 -11.7M526.1 149.9l2.2 -8.7M563.2 161.6l-26.5 -5.3M536.7 156.3l-0.0 -9.0M576.0 161.6l-27.0 -0.4M549.0 161.2l-1.7 -8.8M553.5 161.3l-1.7 -8.8M588.8 161.6l-26.9 -2.1M561.9 159.5l-1.1 -8.9M566.4 159.8l-1.1 -8.9M601.6 161.6l-26.6 4.6M575.0 166.2l-3.3 -8.4M614.4 161.6l-26.4 5.6M588.0 167.2l-3.6 -8.3M592.4 166.3l-3.6 -8.3M627.2 161.6l-27.0 0.6M600.2 162.2l-2.0 -8.8M640.0 161.6l-26.8 -3.3M613.2 158.3l-0.7 -9.0M617.7 158.9l-0.7 -9.0M652.8 161.6l-26.4 -5.5M626.4 156.1l0.0 -9.0M630.8 157.0l0.0 -9.0M665.6 161.6l-26.8 3.3M638.8 164.9l-2.9 -8.5M643.3 164.3l-2.9 -8.5M678.4 161.6l-26.7 4.1M651.8 165.7l-3.1 -8.4M691.2 161.6l-27.0 0.4M664.3 162.0l-1.9 -8.8M704.1 161.6l-27.0 0.6M677.1 162.2l-2.0 -8.8M716.9 161.6l-27.0 0.8M689.9 162.4l-2.1 -8.8M729.7 161.6l-26.9 2.2M702.8 163.8l-2.5 -8.6M707.2 163.5l-2.5 -8.6M742.5 161.6l-27.0 1.3M715.5 162.9l-2.2 -8.7M755.3 161.6l-26.9 1.7M728.3 163.3l-2.4 -8.7M768.1 161.6l-27.0 1.2M741.1 162.8l-2.2 -8.7M780.9 161.6l-26.7 -3.8M754.1 157.8l-0.5 -9.0M758.6 158.4l-0.5 -9.0M793.7 161.6l-26.8 -3.3M766.9 158.3l-0.7 -9.0M806.5 161.6l-25.4 -9.2M781.1 152.4l1.3 -8.9M785.3 153.9l1.3 -8.9M819.3 161.6l-26.5 -5.0M792.8 156.6l-0.1 -9.0M832.1 161.6l-26.9 -2.6M805.2 159.0l-0.9 -9.0M844.9 161.6l-27.0 -1.5M817.9 160.1l-1.3 -8.9M822.4 160.4l-1.3 -8.9M857.7 161.6l-26.2 -6.6M831.5 155.0l0.4 -9.0M835.9 156.1l0.4 -9.0M870.5 161.6l-20.7 -17.4M849.8 144.2l4.3 -7.9M853.3 147.1l4.3 -7.9M153.5 151.7l-23.1 -14.0M130.4 137.7l3.0 -8.5M166.3 151.7l-25.9 -7.6M140.4 144.1l0.8 -9.0M144.7 145.3l0.8 -9.0M179.1 151.7l-26.9 -2.3M152.2 149.4l-1.0 -8.9M191.9 151.7l-23.7 -12.9M168.2 138.8l2.6 -8.6M172.2 140.9l2.6 -8.6M204.7 151.7l-26.5 -5.4M178.3 146.3l-0.0 -9.0M217.5 151.7l-23.3 -13.7M194.2 138.0l2.9 -8.5M198.1 140.3l2.9 -8.5M230.3 151.7l-26.2 -6.4M204.1 145.3l0.3 -9.0M208.5 146.4l0.3 -9.0M243.1 151.7l-26.6 -4.4M216.5 147.3l-0.4 -9.0M255.9 151.7l-25.1 -9.9M230.8 141.8l1.6 -8.9M268.7 151.7l-25.6 -8.5M243.1 143.2l1.1 -8.9M281.5 151.7l-22.2 -15.3M259.3 136.4l3.5 -8.3M294.3 151.7l-19.8 -18.4M274.6 133.3l4.7 -7.7M307.1 151.7l-18.7 -19.5M288.4 132.2l5.1 -7.4M319.9 151.7l-21.3 -16.6M298.7 135.1l4.0 -8.1M332.8 151.7l-17.2 -20.8M315.5 130.9l5.6 -7.0M345.6 151.7l-19.9 -18.3M325.7 133.4l4.6 -7.7M358.4 151.7l-23.5 -13.3M334.9 138.3l2.8 -8.6M371.2 151.7l-15.6 -22.0M355.6 129.6l6.2 -6.6M358.2 133.3l6.2 -6.6M384.0 151.7l-14.5 -22.8M369.5 128.9l6.5 -6.3M396.8 151.7l-12.3 -24.0M384.5 127.6l7.0 -5.6M386.5 131.7l7.0 -5.6M409.6 151.7l-16.6 -21.3M393.0 130.4l5.8 -6.8M422.4 151.7l-8.6 -25.6M413.8 126.1l7.8 -4.5M435.2 151.7l-4.7 -26.6M430.5 125.1l8.4 -3.3M448.0 151.7l-0.8 -27.0M447.2 124.7l8.8 -2.1M460.8 151.7l-14.2 -22.9M446.6 128.7l6.5 -6.2M448.9 132.6l6.5 -6.2M473.6 151.7l-17.5 -20.6M456.1 131.1l5.5 -7.1M486.4 151.7l-16.6 -21.3M469.8 130.4l5.8 -6.9M499.2 151.7l-22.0 -15.7M477.2 136.0l3.7 -8.2M512.0 151.7l-21.7 -16.0M490.3 135.7l3.8 -8.2M524.8 151.7l-25.9 -7.5M498.9 144.2l0.7 -9.0M537.6 151.7l-26.5 -5.1M511.1 146.6l-0.1 -9.0M550.4 151.7l-25.8 -8.0M524.6 143.7l0.9 -9.0M563.2 151.7l-26.7 -4.2M536.5 147.5l-0.4 -9.0M576.0 151.7l-26.7 3.8M549.3 155.5l-3.0 -8.5M553.7 154.8l-3.0 -8.5M588.8 151.7l-26.7 3.9M562.1 155.6l-3.1 -8.5M601.6 151.7l-26.7 -3.9M574.9 147.8l-0.5 -9.0M579.4 148.4l-0.5 -9.0M614.4 151.7l-26.2 -6.4M588.2 145.3l0.3 -9.0M627.2 151.7l-25.9 -7.6M601.3 144.1l0.8 -9.0M640.0 151.7l-26.4 -5.5M613.6 146.1l0.1 -9.0M652.8 151.7l-26.3 -6.1M626.5 145.5l0.3 -9.0M630.9 146.6l0.3 -9.0M665.6 151.7l-26.9 2.2M638.7 153.9l-2.5 -8.6M643.2 153.5l-2.5 -8.6M678.4 151.7l-26.9 -2.5M651.6 149.2l-1.0 -8.9M691.2 151.7l-26.8 3.0M664.4 154.6l-2.8 -8.6M704.1 151.7l-26.2 6.6M677.9 158.2l-3.9 -8.1M682.2 157.1l-3.9 -8.1M716.9 151.7l-26.6 -4.4M690.2 147.3l-0.3 -9.0M729.7 151.7l-27.0 1.5M702.7 153.2l-2.3 -8.7M707.2 152.9l-2.3 -8.7M742.5 151.7l-27.0 -1.6M715.5 150.1l-1.3 -8.9M720.0 150.3l-1.3 -8.9M755.3 151.7l-26.8 -3.1M728.5 148.5l-0.8 -9.0M732.9 149.1l-0.8 -9.0M768.1 151.7l-25.4 -9.3M742.7 142.4l1.3 -8.9M780.9 151.7l-26.4 -5.7M754.5 146.0l0.1 -9.0M793.7 151.7l-25.5 -8.9M768.2 142.8l1.2 -8.9M806.5 151.7l-25.4 -9.1M781.1 142.5l1.3 -8.9M819.3 151.7l-25.4 -9.0M793.8 142.6l1.3 -8.9M832.1 151.7l-24.8 -10.7M807.3 141.0l1.8 -8.8M844.9 151.7l-26.0 -7.4M818.9 144.3l0.7 -9.0M823.2 145.6l0.7 -9.0M857.7 151.7l-24.8 -10.7M832.9 141.0l1.8 -8.8M870.5 151.7l-26.6 -4.4M843.9 147.3l-0.3 -9.0M153.5 141.8l-25.9 -7.7M127.6 134.1l0.8 -9.0M166.3 141.8l-26.9 -2.7M139.4 139.0l-0.9 -9.0M179.1 141.8l-26.0 -7.2M153.1 134.5l0.6 -9.0M157.4 135.7l0.6 -9.0M191.9 141.8l-26.0 -7.3M165.9 134.5l0.7 -9.0M170.2 135.7l0.7 -9.0M204.7 141.8l-25.4 -9.1M179.3 132.7l1.3 -8.9M217.5 141.8l-26.1 -6.9M191.4 134.9l0.5 -9.0M230.3 141.8l-25.9 -7.7M204.4 134.0l0.8 -9.0M208.8 135.3l0.8 -9.0M243.1 141.8l-26.4 -5.8M216.8 135.9l0.1 -9.0M255.9 141.8l-26.0 -7.4M230.0 134.4l0.7 -9.0M268.7 141.8l-26.1 -6.8M242.6 134.9l0.5 -9.0M281.5 141.8l-26.3 -6.0M255.2 135.7l0.2 -9.0M294.3 141.8l-25.1 -10.0M269.2 131.8l1.6 -8.9M307.1 141.8l-24.9 -10.3M282.2 131.4l1.7 -8.8M319.9 141.8l-24.6 -11.1M295.3 130.7l2.0 -8.8M332.8 141.8l-24.5 -11.5M308.3 130.3l2.1 -8.8M312.4 132.2l2.1 -8.8M345.6 141.8l-25.8 -7.8M319.7 133.9l0.8 -9.0M324.0 135.2l0.8 -9.0M358.4 141.8l-24.6 -11.2M333.8 130.6l2.0 -8.8M371.2 141.8l-23.0 -14.1M348.1 127.6l3.1 -8.5M384.0 141.8l-23.1 -14.0M360.9 127.8l3.0 -8.5M364.7 130.1l3.0 -8.5M396.8 141.8l-21.9 -15.8M374.9 126.0l3.7 -8.2M378.5 128.6l3.7 -8.2M409.6 141.8l-24.0 -12.4M385.6 129.3l2.5 -8.7M422.4 141.8l-23.7 -12.9M398.7 128.8l2.6 -8.6M402.6 131.0l2.6 -8.6M435.2 141.8l-22.2 -15.3M412.9 126.5l3.5 -8.3M448.0 141.8l-21.3 -16.7M426.7 125.1l4.0 -8.1M460.8 141.8l-21.3 -16.6M439.5 125.1l4.0 -8.1M473.6 141.8l-21.6 -16.2M452.0 125.6l3.8 -8.1M486.4 141.8l-25.7 -8.2M460.7 133.5l1.0 -8.9M499.2 141.8l-25.8 -8.0M473.4 133.8l0.9 -9.0M512.0 141.8l-25.5 -8.7M486.5 133.0l1.2 -8.9M524.8 141.8l-26.8 -3.4M498.0 138.4l-0.7 -9.0M537.6 141.8l-26.9 -2.2M510.7 139.5l-1.1 -8.9M550.4 141.8l-26.9 -2.4M523.5 139.4l-1.0 -8.9M563.2 141.8l-27.0 -0.1M536.2 141.6l-1.8 -8.8M576.0 141.8l-27.0 0.1M549.0 141.8l-1.8 -8.8M588.8 141.8l-26.8 -2.9M562.0 138.9l-0.8 -9.0M601.6 141.8l-26.9 -2.5M574.7 139.3l-1.0 -8.9M614.4 141.8l-27.0 -0.8M587.4 140.9l-1.5 -8.9M627.2 141.8l-27.0 -0.4M600.2 141.4l-1.7 -8.8M640.0 141.8l-26.9 -2.5M613.2 139.2l-1.0 -8.9M617.6 139.6l-1.0 -8.9M652.8 141.8l-26.8 2.9M626.0 144.6l-2.7 -8.6M665.6 141.8l-27.0 -0.1M638.6 141.7l-1.8 -8.8M678.4 141.8l-26.9 2.2M651.5 144.0l-2.5 -8.6M656.0 143.6l-2.5 -8.6M691.2 141.8l-26.9 -2.5M664.4 139.2l-1.0 -8.9M704.1 141.8l-27.0 -0.5M677.1 141.3l-1.7 -8.8M716.9 141.8l-26.9 1.8M689.9 143.6l-2.4 -8.7M729.7 141.8l-27.0 1.6M702.7 143.4l-2.3 -8.7M707.2 143.1l-2.3 -8.7M742.5 141.8l-26.9 -2.6M715.6 139.2l-1.0 -9.0M755.3 141.8l-27.0 0.2M728.3 142.0l-1.9 -8.8M732.8 141.9l-1.9 -8.8M768.1 141.8l-26.5 -5.3M741.6 136.5l-0.1 -9.0M746.0 137.4l-0.1 -9.0M780.9 141.8l-26.3 -6.1M754.6 135.6l0.2 -9.0M793.7 141.8l-27.0 -1.4M766.7 140.4l-1.3 -8.9M806.5 141.8l-26.6 -4.5M779.9 137.2l-0.3 -9.0M784.3 138.0l-0.3 -9.0M819.3 141.8l-26.4 -5.4M792.8 136.3l0.0 -9.0M832.1 141.8l-26.7 -4.1M805.4 137.7l-0.4 -9.0M844.9 141.8l-26.2 -6.6M818.7 135.1l0.4 -9.0M857.7 141.8l-26.4 -5.5M831.3 136.3l0.0 -9.0M835.7 137.2l0.0 -9.0M870.5 141.8l-26.1 -7.0M844.4 134.8l0.5 -9.0M153.5 131.8l-26.9 -2.6M126.6 129.2l-0.9 -9.0M131.1 129.7l-0.9 -9.0M166.3 131.8l-26.7 -3.7M139.6 128.1l-0.6 -9.0M179.1 131.8l-26.8 -3.6M152.4 128.2l-0.6 -9.0M156.8 128.8l-0.6 -9.0M191.9 131.8l-26.5 -5.0M165.4 126.8l-0.1 -9.0M204.7 131.8l-26.3 -6.1M178.4 125.7l0.2 -9.0M182.8 126.7l0.2 -9.0M217.5 131.8l-27.0 -1.4M190.6 130.4l-1.3 -8.9M195.0 130.7l-1.3 -8.9M230.3 131.8l-26.6 -4.6M203.7 127.2l-0.3 -9.0M208.1 128.0l-0.3 -9.0M243.1 131.8l-27.0 -1.0M216.1 130.8l-1.5 -8.9M220.6 131.0l-1.5 -8.9M255.9 131.8l-26.9 -2.7M229.1 129.1l-0.9 -9.0M268.7 131.8l-26.3 -6.2M242.4 125.7l0.3 -9.0M281.5 131.8l-26.9 -2.0M254.6 129.8l-1.1 -8.9M294.3 131.8l-26.5 -5.4M267.9 126.5l-0.0 -9.0M272.3 127.4l-0.0 -9.0M307.1 131.8l-26.5 -5.1M280.6 126.7l-0.1 -9.0M319.9 131.8l-26.8 -3.3M293.2 128.5l-0.7 -9.0M297.6 129.1l-0.7 -9.0M332.8 131.8l-26.4 -5.8M306.4 126.0l0.1 -9.0M345.6 131.8l-26.8 -2.9M318.7 128.9l-0.8 -9.0M358.4 131.8l-26.3 -6.2M332.1 125.6l0.3 -9.0M371.2 131.8l-26.9 -2.3M344.3 129.5l-1.0 -8.9M348.7 129.9l-1.0 -8.9M384.0 131.8l-26.9 -2.1M357.0 129.7l-1.1 -8.9M396.8 131.8l-26.1 -6.7M370.6 125.1l0.5 -9.0M409.6 131.8l-26.0 -7.2M383.5 124.6l0.6 -9.0M387.9 125.8l0.6 -9.0M422.4 131.8l-26.7 -4.2M395.7 127.6l-0.4 -9.0M435.2 131.8l-26.3 -6.1M408.9 125.8l0.2 -9.0M448.0 131.8l-26.8 -3.5M421.2 128.4l-0.6 -9.0M460.8 131.8l-25.4 -9.2M435.4 122.6l1.3 -8.9M473.6 131.8l-26.5 -5.3M447.1 126.6l-0.0 -9.0M486.4 131.8l-26.9 -1.7M459.4 130.1l-1.2 -8.9M499.2 131.8l-26.7 -3.8M472.5 128.1l-0.6 -9.0M512.0 131.8l-26.8 -3.4M485.2 128.5l-0.7 -9.0M524.8 131.8l-26.9 -2.2M497.9 129.6l-1.1 -8.9M537.6 131.8l-27.0 -0.5M510.6 131.4l-1.6 -8.8M550.4 131.8l-26.9 -2.0M523.5 129.9l-1.2 -8.9M528.0 130.2l-1.2 -8.9M563.2 131.8l-27.0 0.6M536.2 132.5l-2.0 -8.8M576.0 131.8l-27.0 1.6M549.1 133.4l-2.3 -8.7M588.8 131.8l-26.8 -3.3M562.0 128.6l-0.7 -9.0M566.5 129.1l-0.7 -9.0M601.6 131.8l-26.8 -3.5M574.9 128.3l-0.6 -9.0M614.4 131.8l-26.8 -3.3M587.6 128.5l-0.7 -9.0M592.1 129.1l-0.7 -9.0M627.2 131.8l-26.9 1.6M600.3 133.5l-2.3 -8.7M640.0 131.8l-26.8 -3.6M613.3 128.3l-0.6 -9.0M652.8 131.8l-27.0 1.4M625.9 133.3l-2.3 -8.7M665.6 131.8l-26.8 -3.5M638.9 128.4l-0.7 -9.0M678.4 131.8l-27.0 -0.7M651.5 131.1l-1.6 -8.9M691.2 131.8l-26.7 3.7M664.5 135.6l-3.0 -8.5M704.1 131.8l-26.9 2.6M677.2 134.5l-2.7 -8.6M681.7 134.0l-2.7 -8.6M716.9 131.8l-26.9 -1.9M689.9 129.9l-1.2 -8.9M729.7 131.8l-26.6 -4.9M703.1 127.0l-0.2 -9.0M742.5 131.8l-26.8 -3.4M715.7 128.5l-0.7 -9.0M720.1 129.0l-0.7 -9.0M755.3 131.8l-26.8 -3.6M728.5 128.3l-0.6 -9.0M733.0 128.9l-0.6 -9.0M768.1 131.8l-27.0 0.0M741.1 131.9l-1.8 -8.8M780.9 131.8l-26.8 -3.1M754.1 128.8l-0.8 -9.0M793.7 131.8l-26.1 -7.0M767.6 124.9l0.5 -9.0M806.5 131.8l-27.0 -1.4M779.5 130.4l-1.3 -8.9M819.3 131.8l-26.9 -2.0M792.4 129.8l-1.1 -8.9M796.8 130.2l-1.1 -8.9M832.1 131.8l-26.0 -7.3M806.1 124.5l0.7 -9.0M810.4 125.8l0.7 -9.0M844.9 131.8l-26.5 -5.3M818.4 126.5l-0.0 -9.0M857.7 131.8l-26.3 -6.3M831.4 125.5l0.3 -9.0M870.5 131.8l-26.4 -5.9M844.1 126.0l0.2 -9.0M153.5 121.9l-26.9 2.3M126.6 124.2l-2.5 -8.6M131.1 123.8l-2.5 -8.6M166.3 121.9l-26.8 3.2M139.5 125.1l-2.8 -8.5M179.1 121.9l-26.8 -3.4M152.3 118.5l-0.7 -9.0M191.9 121.9l-27.0 0.2M164.9 122.2l-1.9 -8.8M204.7 121.9l-27.0 0.5M177.7 122.4l-2.0 -8.8M217.5 121.9l-26.9 -1.7M190.6 120.2l-1.2 -8.9M230.3 121.9l-27.0 -1.6M203.4 120.3l-1.3 -8.9M243.1 121.9l-26.9 2.3M216.2 124.2l-2.5 -8.6M255.9 121.9l-27.0 -0.3M228.9 121.6l-1.7 -8.8M268.7 121.9l-27.0 -0.4M241.7 121.5l-1.7 -8.8M281.5 121.9l-26.8 -3.3M254.7 118.6l-0.7 -9.0M294.3 121.9l-27.0 1.0M267.4 123.0l-2.1 -8.7M271.9 122.8l-2.1 -8.7M307.1 121.9l-26.9 2.7M280.3 124.6l-2.7 -8.6M284.8 124.2l-2.7 -8.6M319.9 121.9l-27.0 0.7M293.0 122.6l-2.0 -8.8M297.5 122.5l-2.0 -8.8M332.8 121.9l-26.8 3.2M305.9 125.1l-2.8 -8.5M345.6 121.9l-26.9 2.3M318.6 124.2l-2.5 -8.6M358.4 121.9l-27.0 1.3M331.4 123.2l-2.2 -8.7M371.2 121.9l-27.0 -1.5M344.2 120.4l-1.3 -8.9M348.7 120.6l-1.3 -8.9M384.0 121.9l-26.9 2.5M357.1 124.5l-2.6 -8.6M361.6 124.0l-2.6 -8.6M396.8 121.9l-26.8 3.1M370.0 125.1l-2.8 -8.6M374.4 124.5l-2.8 -8.6M409.6 121.9l-26.8 -3.0M382.7 118.9l-0.8 -9.0M387.2 119.4l-0.8 -9.0M422.4 121.9l-26.9 2.1M395.5 124.1l-2.5 -8.6M435.2 121.9l-27.0 -0.6M408.2 121.3l-1.6 -8.9M448.0 121.9l-26.9 -1.8M421.0 120.1l-1.2 -8.9M460.8 121.9l-27.0 1.4M433.8 123.3l-2.3 -8.7M438.3 123.1l-2.3 -8.7M473.6 121.9l-26.8 -3.3M446.8 118.6l-0.7 -9.0M486.4 121.9l-26.8 -3.4M459.6 118.5l-0.7 -9.0M499.2 121.9l-27.0 -1.6M472.2 120.4l-1.3 -8.9M476.7 120.6l-1.3 -8.9M512.0 121.9l-27.0 0.6M485.0 122.5l-2.0 -8.8M524.8 121.9l-27.0 0.5M497.8 122.4l-1.9 -8.8M502.3 122.3l-1.9 -8.8M537.6 121.9l-26.8 3.1M510.8 125.0l-2.8 -8.6M550.4 121.9l-26.9 2.6M523.5 124.5l-2.6 -8.6M528.0 124.1l-2.6 -8.6M563.2 121.9l-26.9 2.3M536.3 124.2l-2.5 -8.6M576.0 121.9l-27.0 -0.8M549.0 121.1l-1.5 -8.9M553.5 121.2l-1.5 -8.9M588.8 121.9l-27.0 -0.9M561.8 121.0l-1.5 -8.9M601.6 121.9l-26.9 -2.1M574.7 119.8l-1.1 -8.9M614.4 121.9l-26.8 -3.1M587.6 118.9l-0.8 -9.0M627.2 121.9l-26.9 1.7M600.3 123.6l-2.4 -8.7M640.0 121.9l-27.0 1.3M613.1 123.3l-2.2 -8.7M617.6 123.0l-2.2 -8.7M652.8 121.9l-26.9 2.5M626.0 124.4l-2.6 -8.6M630.4 124.0l-2.6 -8.6M665.6 121.9l-26.8 3.2M638.8 125.1l-2.8 -8.5M678.4 121.9l-26.8 3.3M651.6 125.2l-2.9 -8.5M691.2 121.9l-27.0 -1.6M664.3 120.3l-1.3 -8.9M704.1 121.9l-26.9 1.7M677.1 123.6l-2.4 -8.7M716.9 121.9l-26.9 2.6M690.0 124.5l-2.6 -8.6M694.5 124.1l-2.6 -8.6M729.7 121.9l-27.0 -1.3M702.7 120.6l-1.4 -8.9M742.5 121.9l-27.0 -0.9M715.5 121.0l-1.5 -8.9M755.3 121.9l-26.5 -5.2M728.8 116.7l-0.1 -9.0M733.2 117.6l-0.1 -9.0M768.1 121.9l-26.6 -4.4M741.4 117.5l-0.3 -9.0M780.9 121.9l-27.0 -0.6M753.9 121.3l-1.6 -8.9M758.4 121.4l-1.6 -8.9M793.7 121.9l-27.0 -0.5M766.7 121.4l-1.6 -8.9M771.2 121.5l-1.6 -8.9M806.5 121.9l-26.8 -3.4M779.7 118.5l-0.7 -9.0M819.3 121.9l-26.4 -5.8M792.9 116.1l0.1 -9.0M832.1 121.9l-26.8 -3.5M805.3 118.4l-0.6 -9.0M809.8 119.0l-0.6 -9.0M844.9 121.9l-26.3 -5.9M818.6 116.0l0.2 -9.0M857.7 121.9l-26.2 -6.6M831.5 115.4l0.4 -9.0M870.5 121.9l-26.1 -7.1M844.4 114.9l0.6 -9.0M153.5 112.0l-27.0 -1.5M153.5 112.0V102.3M166.3 112.0l-27.0 0.4M166.3 112.0V102.3M179.1 112.0l-27.0 0.4M179.1 112.0V102.3M191.9 112.0l-27.0 0.7M191.9 112.0V102.3M204.7 112.0l-26.8 -3.5M204.7 112.0V102.3M217.5 112.0l-26.8 -3.0M217.5 112.0V102.3M230.3 112.0l-26.9 -2.8M230.3 112.0V102.3M243.1 112.0l-27.0 -1.1M243.1 112.0V102.3M255.9 112.0l-27.0 1.2M255.9 112.0V102.3M268.7 112.0l-26.9 -2.5M268.7 112.0V102.3M281.5 112.0l-27.0 -1.3M281.5 112.0V102.3M294.3 112.0l-26.9 2.8M294.3 112.0V102.3M307.1 112.0l-26.9 -2.6M307.1 112.0V102.3M319.9 112.0l-26.8 2.9M319.9 112.0V102.3M332.8 112.0l-27.0 -0.0M332.8 112.0V102.3M345.6 112.0l-26.8 -2.9M345.6 112.0V102.3M358.4 112.0l-26.9 -2.5M358.4 112.0V102.3M371.2 112.0l-27.0 0.1M371.2 112.0V102.3M384.0 112.0l-26.9 -2.3M384.0 112.0V102.3M396.8 112.0l-26.9 -2.2M396.8 112.0V102.3M409.6 112.0l-26.9 -2.0M409.6 112.0V102.3M422.4 112.0l-27.0 0.0M422.4 112.0V102.3M435.2 112.0l-26.8 -3.6M435.2 112.0V102.3M448.0 112.0l-27.0 -0.1M448.0 112.0V102.3M460.8 112.0l-27.0 0.5M460.8 112.0V102.3M473.6 112.0l-26.9 -2.0M473.6 112.0V102.3M486.4 112.0l-26.9 -2.6M486.4 112.0V102.3M499.2 112.0l-26.8 -3.5M499.2 112.0V102.3M512.0 112.0l-27.0 0.1M512.0 112.0V102.3M524.8 112.0l-26.8 2.9M524.8 112.0V102.3M537.6 112.0l-27.0 0.6M537.6 112.0V102.3M550.4 112.0l-27.0 0.7M550.4 112.0V102.3M563.2 112.0l-27.0 1.6M563.2 112.0V102.3M576.0 112.0l-26.9 -1.9M576.0 112.0V102.3M588.8 112.0l-26.8 3.6M588.8 112.0V102.3M601.6 112.0l-27.0 0.9M601.6 112.0V102.3M614.4 112.0l-26.9 2.4M614.4 112.0V102.3M627.2 112.0l-26.9 2.3M627.2 112.0V102.3M640.0 112.0l-26.8 3.2M640.0 112.0V102.3M652.8 112.0l-26.8 3.3M652.8 112.0V102.3M665.6 112.0l-27.0 -0.7M665.6 112.0V102.3M678.4 112.0l-26.9 -1.9M678.4 112.0V102.3M691.2 112.0l-27.0 1.3M691.2 112.0V102.3M704.1 112.0l-27.0 -1.3M704.1 112.0V102.3M716.9 112.0l-26.9 -2.6M716.9 112.0V102.3M729.7 112.0l-26.9 -1.9M729.7 112.0V102.3M742.5 112.0l-26.8 2.9M742.5 112.0V102.3M755.3 112.0l-27.0 -1.2M755.3 112.0V102.3M768.1 112.0l-27.0 0.8M768.1 112.0V102.3M780.9 112.0l-27.0 0.3M780.9 112.0V102.3M793.7 112.0l-26.7 -4.1M793.7 112.0V102.3M806.5 112.0l-27.0 0.5M806.5 112.0V102.3M819.3 112.0l-26.5 -5.4M819.3 112.0V102.3M832.1 112.0l-26.8 -3.5M832.1 112.0V102.3M844.9 112.0l-27.0 1.2M844.9 112.0V102.3M857.7 112.0l-27.0 -0.5M857.7 112.0V102.3M870.5 112.0l-27.0 0.1M870.5 112.0V102.3M153.5 102.1l-26.8 3.0M126.7 105.1l-2.8 -8.6M166.3 102.1l-26.9 2.5M139.4 104.6l-2.6 -8.6M179.1 102.1l-27.0 0.7M152.1 102.8l-2.0 -8.8M191.9 102.1l-26.9 2.4M165.0 104.5l-2.6 -8.6M204.7 102.1l-26.9 2.8M177.9 104.9l-2.7 -8.6M182.3 104.4l-2.7 -8.6M217.5 102.1l-26.8 3.5M190.7 105.5l-2.9 -8.5M230.3 102.1l-26.8 3.4M203.5 105.4l-2.9 -8.5M208.0 104.9l-2.9 -8.5M243.1 102.1l-26.8 3.5M216.4 105.6l-2.9 -8.5M255.9 102.1l-26.9 -1.9M229.0 100.2l-1.2 -8.9M268.7 102.1l-26.9 -2.0M241.8 100.1l-1.1 -8.9M246.3 100.4l-1.1 -8.9M281.5 102.1l-27.0 -0.3M254.5 101.8l-1.7 -8.8M259.0 101.8l-1.7 -8.8M294.3 102.1l-27.0 -0.1M267.3 102.0l-1.8 -8.8M307.1 102.1l-27.0 1.4M280.2 103.5l-2.3 -8.7M319.9 102.1l-27.0 -0.8M293.0 101.3l-1.5 -8.9M332.8 102.1l-26.9 2.2M305.8 104.3l-2.5 -8.6M345.6 102.1l-26.8 3.3M318.8 105.4l-2.9 -8.5M358.4 102.1l-27.0 -0.7M331.4 101.4l-1.6 -8.9M335.9 101.5l-1.6 -8.9M371.2 102.1l-27.0 1.1M344.2 103.2l-2.2 -8.7M384.0 102.1l-27.0 -1.2M357.0 100.9l-1.4 -8.9M396.8 102.1l-26.9 2.5M369.9 104.6l-2.6 -8.6M409.6 102.1l-26.7 -3.7M382.8 98.4l-0.6 -9.0M422.4 102.1l-26.8 -3.6M395.6 98.4l-0.6 -9.0M400.1 99.1l-0.6 -9.0M435.2 102.1l-26.9 2.4M408.3 104.4l-2.6 -8.6M448.0 102.1l-27.0 0.8M421.0 102.9l-2.1 -8.8M460.8 102.1l-27.0 -1.2M433.8 100.8l-1.4 -8.9M438.3 101.0l-1.4 -8.9M473.6 102.1l-27.0 -1.1M446.6 101.0l-1.4 -8.9M486.4 102.1l-27.0 0.9M459.4 103.0l-2.1 -8.8M463.9 102.8l-2.1 -8.8M499.2 102.1l-26.8 -3.1M472.4 99.0l-0.8 -9.0M476.8 99.5l-0.8 -9.0M512.0 102.1l-27.0 1.5M485.0 103.6l-2.3 -8.7M524.8 102.1l-27.0 1.2M497.8 103.3l-2.2 -8.7M537.6 102.1l-26.8 -2.9M510.8 99.2l-0.9 -9.0M550.4 102.1l-26.8 -3.4M523.6 98.6l-0.7 -9.0M563.2 102.1l-26.9 -2.4M536.3 99.7l-1.0 -8.9M540.8 100.1l-1.0 -8.9M576.0 102.1l-26.8 3.4M549.2 105.5l-2.9 -8.5M588.8 102.1l-26.9 -2.1M561.9 100.0l-1.1 -8.9M601.6 102.1l-27.0 0.8M574.6 102.9l-2.1 -8.8M614.4 102.1l-27.0 -0.8M587.4 101.3l-1.5 -8.9M627.2 102.1l-26.8 3.4M600.5 105.5l-2.9 -8.5M640.0 102.1l-26.7 3.7M613.3 105.8l-3.0 -8.5M617.7 105.1l-3.0 -8.5M652.8 102.1l-26.9 2.5M626.0 104.6l-2.6 -8.6M630.4 104.2l-2.6 -8.6M665.6 102.1l-27.0 0.2M638.6 102.3l-1.9 -8.8M643.1 102.3l-1.9 -8.8M678.4 102.1l-26.9 -2.4M651.6 99.6l-1.0 -8.9M691.2 102.1l-27.0 -0.3M664.3 101.7l-1.7 -8.8M704.1 102.1l-26.9 -1.9M677.1 100.2l-1.2 -8.9M716.9 102.1l-26.8 -3.0M690.0 99.1l-0.8 -9.0M729.7 102.1l-26.9 2.7M702.8 104.8l-2.7 -8.6M742.5 102.1l-27.0 -0.9M715.5 101.2l-1.5 -8.9M755.3 102.1l-26.8 3.0M728.4 105.0l-2.8 -8.6M768.1 102.1l-26.8 -3.2M741.3 98.9l-0.7 -9.0M780.9 102.1l-27.0 -0.4M753.9 101.7l-1.7 -8.8M793.7 102.1l-27.0 -1.0M766.7 101.0l-1.5 -8.9M806.5 102.1l-27.0 1.0M779.5 103.1l-2.1 -8.7M819.3 102.1l-27.0 0.2M792.3 102.2l-1.9 -8.8M832.1 102.1l-26.8 3.1M805.3 105.1l-2.8 -8.6M844.9 102.1l-27.0 -1.0M817.9 101.1l-1.5 -8.9M857.7 102.1l-26.8 -3.3M830.9 98.7l-0.7 -9.0M870.5 102.1l-27.0 1.4M843.5 103.5l-2.2 -8.7" fill="none" stroke="#000" stroke-opacity="0.8" stroke-width="0.8"/></g><rect x="153.5" y="102.3" width="717.0" height="307.3" fill="none" stroke="#000" stroke-width="1.4"/><text x="143.7" y="414.8" font-size="14.5" text-anchor="end" >0</text><text x="143.7" y="365.2" font-size="14.5" text-anchor="end" >5</text><text x="143.7" y="315.6" font-size="14.5" text-anchor="end" >10</text><text x="143.7" y="266.0" font-size="14.5" text-anchor="end" >15</text><text x="143.7" y="216.4" font-size="14.5" text-anchor="end" >20</text><text x="143.7" y="166.8" font-size="14.5" text-anchor="end" >25</text><text x="143.7" y="117.2" font-size="14.5" text-anchor="end" >30</text><text x="0" y="0" font-size="13.5" text-anchor="middle" transform="translate(153.5 432.7) rotate(-45)" dy="0.35em">30.00</text><text x="0" y="0" font-size="13.5" text-anchor="middle" transform="translate(204.7 432.7) rotate(-45)" dy="0.35em">30.12</text><text x="0" y="0" font-size="13.5" text-anchor="middle" transform="translate(255.9 432.7) rotate(-45)" dy="0.35em">31.00</text><text x="0" y="0" font-size="13.5" text-anchor="middle" transform="translate(307.1 432.7) rotate(-45)" dy="0.35em">31.12</text><text x="0" y="0" font-size="13.5" text-anchor="middle" transform="translate(358.4 432.7) rotate(-45)" dy="0.35em">01.00</text><text x="0" y="0" font-size="13.5" text-anchor="middle" transform="translate(409.6 432.7) rotate(-45)" dy="0.35em">01.12</text><text x="0" y="0" font-size="13.5" text-anchor="middle" transform="translate(460.8 432.7) rotate(-45)" dy="0.35em">02.00</text><text x="0" y="0" font-size="13.5" text-anchor="middle" transform="translate(512.0 432.7) rotate(-45)" dy="0.35em">02.12</text><text x="0" y="0" font-size="13.5" text-anchor="middle" transform="translate(563.2 432.7) rotate(-45)" dy="0.35em">03.00</text><text x="0" y="0" font-size="13.5" text-anchor="middle" transform="translate(614.4 432.7) rotate(-45)" dy="0.35em">03.12</text><text x="0" y="0" font-size="13.5" text-anchor="middle" transform="translate(665.6 432.7) rotate(-45)" dy="0.35em">04.00</text><text x="0" y="0" font-size="13.5" text-anchor="middle" transform="translate(716.9 432.7) rotate(-45)" dy="0.35em">04.12</text><text x="0" y="0" font-size="13.5" text-anchor="middle" transform="translate(768.1 432.7) rotate(-45)" dy="0.35em">05.00</text><text x="0" y="0" font-size="13.5" text-anchor="middle" transform="translate(819.3 432.7) rotate(-45)" dy="0.35em">05.12</text><text x="0" y="0" font-size="13.5" text-anchor="middle" transform="translate(870.5 432.7) rotate(-45)" dy="0.35em">06.00</text><rect x="943.0" y="112.90" width="19.7" height="3.25" fill="#faabab"/><rect x="943.0" y="115.85" width="19.7" height="3.25" fill="#ee8f8f"/><rect x="943.0" y="118.79" width="19.7" height="3.25" fill="#e47373"/><rect x="943.0" y="121.74" width="19.7" height="3.25" fill="#dc5757"/><rect x="943.0" y="124.69" width="19.7" height="3.25" fill="#d43d3d"/><rect x="943.0" y="127.63" width="19.7" height="3.25" fill="#cc2525"/><rect x="943.0" y="130.58" width="19.7" height="3.25" fill="#c61313"/><rect x="943.0" y="133.52" width="19.7" height="3.25" fill="#c20707"/><rect x="943.0" y="136.47" width="19.7" height="3.25" fill="#c20000"/><rect x="943.0" y="139.42" width="19.7" height="3.25" fill="#c80000"/><rect x="943.0" y="142.36" width="19.7" height="3.25" fill="#cd0000"/><rect x="943.0" y="145.31" width="19.7" height="3.25" fill="#d40000"/><rect x="943.0" y="148.26" width="19.7" height="3.25" fill="#dc0000"/><rect x="943.0" y="151.20" width="19.7" height="3.25" fill="#e40000"/><rect x="943.0" y="154.15" width="19.7" height="3.25" fill="#ec0000"/><rect x="943.0" y="157.10" width="19.7" height="3.25" fill="#f30000"/><rect x="943.0" y="160.04" width="19.7" height="3.25" fill="#fb0000"/><rect x="943.0" y="162.99" width="19.7" height="3.25" fill="#ff0700"/><rect x="943.0" y="165.94" width="19.7" height="3.25" fill="#ff1700"/><rect x="943.0" y="168.88" width="19.7" height="3.25" fill="#ff2800"/><rect x="943.0" y="171.83" width="19.7" height="3.25" fill="#ff3800"/><rect x="943.0" y="174.77" width="19.7" height="3.25" fill="#ff4800"/><rect x="943.0" y="177.72" width="19.7" height="3.25" fill="#ff5600"/><rect x="943.0" y="180.67" width="19.7" height="3.25" fill="#ff6200"/><rect x="943.0" y="183.61" width="19.7" height="3.25" fill="#ff6c00"/><rect x="943.0" y="186.56" width="19.7" height="3.25" fill="#ff7400"/><rect x="943.0" y="189.51" width="19.7" height="3.25" fill="#ff7b00"/><rect x="943.0" y="192.45" width="19.7" height="3.25" fill="#ff8200"/><rect x="943.0" y="195.40" width="19.7" height="3.25" fill="#ff8900"/><rect x="943.0" y="198.35" width="19.7" height="3.25" fill="#ff8f00"/><rect x="943.0" y="201.29" width="19.7" height="3.25" fill="#ff9600"/><rect x="943.0" y="204.24" width="19.7" height="3.25" fill="#ff9d00"/><rect x="943.0" y="207.18" width="19.7" height="3.25" fill="#ffa302"/><rect x="943.0" y="210.13" width="19.7" height="3.25" fill="#ffa906"/><rect x="943.0" y="213.08" width="19.7" height="3.25" fill="#ffaf0a"/><rect x="943.0" y="216.02" width="19.7" height="3.25" fill="#ffb50e"/><rect x="943.0" y="218.97" width="19.7" height="3.25" fill="#ffbd15"/><rect x="943.0" y="221.92" width="19.7" height="3.25" fill="#ffc820"/><rect x="943.0" y="224.86" width="19.7" height="3.25" fill="#ffd32b"/><rect x="943.0" y="227.81" width="19.7" height="3.25" fill="#ffdb3a"/><rect x="943.0" y="230.76" width="19.7" height="3.25" fill="#ffe250"/><rect x="943.0" y="233.70" width="19.7" height="3.25" fill="#ffe965"/><rect x="943.0" y="236.65" width="19.7" height="3.25" fill="#ffee7b"/><rect x="943.0" y="239.59" width="19.7" height="3.25" fill="#fff290"/><rect x="943.0" y="242.54" width="19.7" height="3.25" fill="#fff6a5"/><rect x="943.0" y="245.49" width="19.7" height="3.25" fill="#fff9b6"/><rect x="943.0" y="248.43" width="19.7" height="3.25" fill="#fffac1"/><rect x="943.0" y="251.38" width="19.7" height="3.25" fill="#fffccc"/><rect x="943.0" y="254.33" width="19.7" height="3.25" fill="#fffdd8"/><rect x="943.0" y="257.27" width="19.7" height="3.25" fill="#cee7f4"/><rect x="943.0" y="260.22" width="19.7" height="3.25" fill="#c5e3f2"/><rect x="943.0" y="263.17" width="19.7" height="3.25" fill="#bcdef1"/><rect x="943.0" y="266.11" width="19.7" height="3.25" fill="#b3d9ef"/><rect x="943.0" y="269.06" width="19.7" height="3.25" fill="#a9d4ee"/><rect x="943.0" y="272.01" width="19.7" height="3.25" fill="#9fcfed"/><rect x="943.0" y="274.95" width="19.7" height="3.25" fill="#95caec"/><rect x="943.0" y="277.90" width="19.7" height="3.25" fill="#84c5ed"/><rect x="943.0" y="280.84" width="19.7" height="3.25" fill="#6dbfef"/><rect x="943.0" y="283.79" width="19.7" height="3.25" fill="#57baf2"/><rect x="943.0" y="286.74" width="19.7" height="3.25" fill="#40b4f4"/><rect x="943.0" y="289.68" width="19.7" height="3.25" fill="#30b6f7"/><rect x="943.0" y="292.63" width="19.7" height="3.25" fill="#20b8fa"/><rect x="943.0" y="295.58" width="19.7" height="3.25" fill="#10bafc"/><rect x="943.0" y="298.52" width="19.7" height="3.25" fill="#00bcff"/><rect x="943.0" y="301.47" width="19.7" height="3.25" fill="#00b1ff"/><rect x="943.0" y="304.42" width="19.7" height="3.25" fill="#00a7ff"/><rect x="943.0" y="307.36" width="19.7" height="3.25" fill="#009dff"/><rect x="943.0" y="310.31" width="19.7" height="3.25" fill="#0395fe"/><rect x="943.0" y="313.25" width="19.7" height="3.25" fill="#098ffc"/><rect x="943.0" y="316.20" width="19.7" height="3.25" fill="#0f89fb"/><rect x="943.0" y="319.15" width="19.7" height="3.25" fill="#1583f9"/><rect x="943.0" y="322.09" width="19.7" height="3.25" fill="#1a7ff6"/><rect x="943.0" y="325.04" width="19.7" height="3.25" fill="#1e7df2"/><rect x="943.0" y="327.99" width="19.7" height="3.25" fill="#217bef"/><rect x="943.0" y="330.93" width="19.7" height="3.25" fill="#257aeb"/><rect x="943.0" y="333.88" width="19.7" height="3.25" fill="#2877e8"/><rect x="943.0" y="336.83" width="19.7" height="3.25" fill="#2b71e5"/><rect x="943.0" y="339.77" width="19.7" height="3.25" fill="#2e6be2"/><rect x="943.0" y="342.72" width="19.7" height="3.25" fill="#3165df"/><rect x="943.0" y="345.66" width="19.7" height="3.25" fill="#345fdc"/><rect x="943.0" y="348.61" width="19.7" height="3.25" fill="#375ad9"/><rect x="943.0" y="351.56" width="19.7" height="3.25" fill="#3352db"/><rect x="943.0" y="354.50" width="19.7" height="3.25" fill="#2d49e0"/><rect x="943.0" y="357.45" width="19.7" height="3.25" fill="#2640e4"/><rect x="943.0" y="360.40" width="19.7" height="3.25" fill="#2038e8"/><rect x="943.0" y="363.34" width="19.7" height="3.25" fill="#192eeb"/><rect x="943.0" y="366.29" width="19.7" height="3.25" fill="#1224ef"/><rect x="943.0" y="369.24" width="19.7" height="3.25" fill="#0c17f4"/><rect x="943.0" y="372.18" width="19.7" height="3.25" fill="#050afa"/><rect x="943.0" y="375.13" width="19.7" height="3.25" fill="#0302fd"/><rect x="943.0" y="378.08" width="19.7" height="3.25" fill="#1108f7"/><rect x="943.0" y="381.02" width="19.7" height="3.25" fill="#1e0ff1"/><rect x="943.0" y="383.97" width="19.7" height="3.25" fill="#2e13ed"/><rect x="943.0" y="386.91" width="19.7" height="3.25" fill="#3e17e9"/><rect x="943.0" y="389.86" width="19.7" height="3.25" fill="#4b1ae6"/><rect x="943.0" y="392.81" width="19.7" height="3.25" fill="#581de3"/><rect x="943.0" y="395.75" width="19.7" height="3.25" fill="#651fe1"/><path d="M943.0 115.85H962.7M943.0 118.79H962.7M943.0 121.74H962.7M943.0 124.69H962.7M943.0 127.63H962.7M943.0 130.58H962.7M943.0 133.52H962.7M943.0 136.47H962.7M943.0 139.42H962.7M943.0 142.36H962.7M943.0 145.31H962.7M943.0 148.26H962.7M943.0 151.20H962.7M943.0 154.15H962.7M943.0 157.10H962.7M943.0 160.04H962.7M943.0 162.99H962.7M943.0 165.94H962.7M943.0 168.88H962.7M943.0 171.83H962.7M943.0 174.77H962.7M943.0 177.72H962.7M943.0 180.67H962.7M943.0 183.61H962.7M943.0 186.56H962.7M943.0 189.51H962.7M943.0 192.45H962.7M943.0 195.40H962.7M943.0 198.35H962.7M943.0 201.29H962.7M943.0 204.24H962.7M943.0 207.18H962.7M943.0 210.13H962.7M943.0 213.08H962.7M943.0 216.02H962.7M943.0 218.97H962.7M943.0 221.92H962.7M943.0 224.86H962.7M943.0 227.81H962.7M943.0 230.76H962.7M943.0 233.70H962.7M943.0 236.65H962.7M943.0 239.59H962.7M943.0 242.54H962.7M943.0 245.49H962.7M943.0 248.43H962.7M943.0 251.38H962.7M943.0 254.33H962.7M943.0 257.27H962.7M943.0 260.22H962.7M943.0 263.17H962.7M943.0 266.11H962.7M943.0 269.06H962.7M943.0 272.01H962.7M943.0 274.95H962.7M943.0 277.90H962.7M943.0 280.84H962.7M943.0 283.79H962.7M943.0 286.74H962.7M943.0 289.68H962.7M943.0 292.63H962.7M943.0 295.58H962.7M943.0 298.52H962.7M943.0 301.47H962.7M943.0 304.42H962.7M943.0 307.36H962.7M943.0 310.31H962.7M943.0 313.25H962.7M943.0 316.20H962.7M943.0 319.15H962.7M943.0 322.09H962.7M943.0 325.04H962.7M943.0 327.99H962.7M943.0 330.93H962.7M943.0 333.88H962.7M943.0 336.83H962.7M943.0 339.77H962.7M943.0 342.72H962.7M943.0 345.66H962.7M943.0 348.61H962.7M943.0 351.56H962.7M943.0 354.50H962.7M943.0 357.45H962.7M943.0 360.40H962.7M943.0 363.34H962.7M943.0 366.29H962.7M943.0 369.24H962.7M943.0 372.18H962.7M943.0 375.13H962.7M943.0 378.08H962.7M943.0 381.02H962.7M943.0 383.97H962.7M943.0 386.91H962.7M943.0 389.86H962.7M943.0 392.81H962.7M943.0 395.75H962.7" stroke="#fff" stroke-opacity="0.3" stroke-width="0.6"/><text x="981.7" y="121.9" font-size="16.5" text-anchor="start" >35</text><text x="981.7" y="142.5" font-size="16.5" text-anchor="start" >28</text><text x="981.7" y="163.1" font-size="16.5" text-anchor="start" >21</text><text x="981.7" y="183.7" font-size="16.5" text-anchor="start" >14</text><text x="981.7" y="204.3" font-size="16.5" text-anchor="start" >7</text><text x="981.7" y="224.9" font-size="16.5" text-anchor="start" >0</text><text x="981.7" y="245.5" font-size="16.5" text-anchor="start" >-7</text><text x="981.7" y="266.1" font-size="16.5" text-anchor="start" >-14</text><text x="981.7" y="286.7" font-size="16.5" text-anchor="start" >-21</text><text x="981.7" y="307.3" font-size="16.5" text-anchor="start" >-28</text><text x="981.7" y="327.9" font-size="16.5" text-anchor="start" >-35</text><text x="981.7" y="348.5" font-size="16.5" text-anchor="start" >-42</text><text x="981.7" y="369.1" font-size="16.5" text-anchor="start" >-49</text><text x="981.7" y="389.7" font-size="16.5" text-anchor="start" >-56</text><line x1="165.50" y1="563.00" x2="165.50" y2="460.60" stroke="#000" stroke-width="0.8" stroke-dasharray="3.5 6.02"/><line x1="177.45" y1="563.00" x2="177.45" y2="460.60" stroke="#000" stroke-width="0.8" stroke-dasharray="3.5 6.02"/><line x1="189.40" y1="563.00" x2="189.40" y2="460.60" stroke="#000" stroke-width="0.8" stroke-dasharray="3.5 6.02"/><line x1="201.35" y1="563.00" x2="201.35" y2="460.60" stroke="#000" stroke-width="0.8" stroke-dasharray="3.5 6.02"/><line x1="213.30" y1="563.00" x2="213.30" y2="460.60" stroke="#000" stroke-width="0.8" stroke-dasharray="3.5 6.02"/><line x1="225.25" y1="563.00" x2="225.25" y2="460.60" stroke="#000" stroke-width="0.8" stroke-dasharray="3.5 6.02"/><line x1="237.20" y1="563.00" x2="237.20" y2="460.60" stroke="#000" stroke-width="0.8" stroke-dasharray="3.5 6.02"/><line x1="249.15" y1="563.00" x2="249.15" y2="460.60" stroke="#000" stroke-width="0.8" stroke-dasharray="3.5 6.02"/><line x1="261.10" y1="563.00" x2="261.10" y2="460.60" stroke="#000" stroke-width="0.8" stroke-dasharray="3.5 6.02"/><line x1="273.05" y1="563.00" x2="273.05" y2="460.60" stroke="#000" stroke-width="0.8" stroke-dasharray="3.5 6.02"/><line x1="285.00" y1="563.00" x2="285.00" y2="460.60" stroke="#000" stroke-width="0.8" stroke-dasharray="3.5 6.02"/><line x1="296.95" y1="563.00" x2="296.95" y2="460.60" stroke="#000" stroke-width="0.8" stroke-dasharray="3.5 6.02"/><line x1="308.90" y1="563.00" x2="308.90" y2="460.60" stroke="#000" stroke-width="0.8" stroke-dasharray="3.5 6.02"/><line x1="320.85" y1="563.00" x2="320.85" y2="460.60" stroke="#000" stroke-width="0.8" stroke-dasharray="3.5 6.02"/><line x1="332.80" y1="563.00" x2="332.80" y2="460.60" stroke="#000" stroke-width="0.8" stroke-dasharray="3.5 6.02"/><line x1="344.75" y1="563.00" x2="344.75" y2="460.60" stroke="#000" stroke-width="0.8" stroke-dasharray="3.5 6.02"/><line x1="356.70" y1="563.00" x2="356.70" y2="460.60" stroke="#000" stroke-width="0.8" stroke-dasharray="3.5 6.02"/><line x1="368.65" y1="563.00" x2="368.65" y2="460.60" stroke="#000" stroke-width="0.8" stroke-dasharray="3.5 6.02"/><line x1="380.60" y1="563.00" x2="380.60" y2="460.60" stroke="#000" stroke-width="0.8" stroke-dasharray="3.5 6.02"/><line x1="392.55" y1="563.00" x2="392.55" y2="460.60" stroke="#000" stroke-width="0.8" stroke-dasharray="3.5 6.02"/><line x1="404.50" y1="563.00" x2="404.50" y2="460.60" stroke="#000" stroke-width="0.8" stroke-dasharray="3.5 6.02"/><line x1="416.45" y1="563.00" x2="416.45" y2="460.60" stroke="#000" stroke-width="0.8" stroke-dasharray="3.5 6.02"/><line x1="428.40" y1="563.00" x2="428.40" y2="460.60" stroke="#000" stroke-width="0.8" stroke-dasharray="3.5 6.02"/><line x1="440.35" y1="563.00" x2="440.35" y2="460.60" stroke="#000" stroke-width="0.8" stroke-dasharray="3.5 6.02"/><line x1="452.30" y1="563.00" x2="452.30" y2="460.60" stroke="#000" stroke-width="0.8" stroke-dasharray="3.5 6.02"/><line x1="464.25" y1="563.00" x2="464.25" y2="460.60" stroke="#000" stroke-width="0.8" stroke-dasharray="3.5 6.02"/><line x1="476.20" y1="563.00" x2="476.20" y2="460.60" stroke="#000" stroke-width="0.8" stroke-dasharray="3.5 6.02"/><line x1="488.15" y1="563.00" x2="488.15" y2="460.60" stroke="#000" stroke-width="0.8" stroke-dasharray="3.5 6.02"/><line x1="500.10" y1="563.00" x2="500.10" y2="460.60" stroke="#000" stroke-width="0.8" stroke-dasharray="3.5 6.02"/><line x1="512.05" y1="563.00" x2="512.05" y2="460.60" stroke="#000" stroke-width="0.8" stroke-dasharray="3.5 6.02"/><line x1="524.00" y1="563.00" x2="524.00" y2="460.60" stroke="#000" stroke-width="0.8" stroke-dasharray="3.5 6.02"/><line x1="535.95" y1="563.00" x2="535.95" y2="460.60" stroke="#000" stroke-width="0.8" stroke-dasharray="3.5 6.02"/><line x1="547.90" y1="563.00" x2="547.90" y2="460.60" stroke="#000" stroke-width="0.8" stroke-dasharray="3.5 6.02"/><line x1="559.85" y1="563.00" x2="559.85" y2="460.60" stroke="#000" stroke-width="0.8" stroke-dasharray="3.5 6.02"/><line x1="571.80" y1="563.00" x2="571.80" y2="460.60" stroke="#000" stroke-width="0.8" stroke-dasharray="3.5 6.02"/><line x1="583.75" y1="563.00" x2="583.75" y2="460.60" stroke="#000" stroke-width="0.8" stroke-dasharray="3.5 6.02"/><line x1="595.70" y1="563.00" x2="595.70" y2="460.60" stroke="#000" stroke-width="0.8" stroke-dasharray="3.5 6.02"/><line x1="607.65" y1="563.00" x2="607.65" y2="460.60" stroke="#000" stroke-width="0.8" stroke-dasharray="3.5 6.02"/><line x1="619.60" y1="563.00" x2="619.60" y2="460.60" stroke="#000" stroke-width="0.8" stroke-dasharray="3.5 6.02"/><line x1="631.55" y1="563.00" x2="631.55" y2="460.60" stroke="#000" stroke-width="0.8" stroke-dasharray="3.5 6.02"/><line x1="643.50" y1="563.00" x2="643.50" y2="460.60" stroke="#000" stroke-width="0.8" stroke-dasharray="3.5 6.02"/><line x1="655.45" y1="563.00" x2="655.45" y2="460.60" stroke="#000" stroke-width="0.8" stroke-dasharray="3.5 6.02"/><line x1="667.40" y1="563.00" x2="667.40" y2="460.60" stroke="#000" stroke-width="0.8" stroke-dasharray="3.5 6.02"/><line x1="679.35" y1="563.00" x2="679.35" y2="460.60" stroke="#000" stroke-width="0.8" stroke-dasharray="3.5 6.02"/><line x1="691.30" y1="563.00" x2="691.30" y2="460.60" stroke="#000" stroke-width="0.8" stroke-dasharray="3.5 6.02"/><line x1="703.25" y1="563.00" x2="703.25" y2="460.60" stroke="#000" stroke-width="0.8" stroke-dasharray="3.5 6.02"/><line x1="715.20" y1="563.00" x2="715.20" y2="460.60" stroke="#000" stroke-width="0.8" stroke-dasharray="3.5 6.02"/><line x1="727.15" y1="563.00" x2="727.15" y2="460.60" stroke="#000" stroke-width="0.8" stroke-dasharray="3.5 6.02"/><line x1="739.10" y1="563.00" x2="739.10" y2="460.60" stroke="#000" stroke-width="0.8" stroke-dasharray="3.5 6.02"/><line x1="751.05" y1="563.00" x2="751.05" y2="460.60" stroke="#000" stroke-width="0.8" stroke-dasharray="3.5 6.02"/><line x1="763.00" y1="563.00" x2="763.00" y2="460.60" stroke="#000" stroke-width="0.8" stroke-dasharray="3.5 6.02"/><line x1="774.95" y1="563.00" x2="774.95" y2="460.60" stroke="#000" stroke-width="0.8" stroke-dasharray="3.5 6.02"/><line x1="786.90" y1="563.00" x2="786.90" y2="460.60" stroke="#000" stroke-width="0.8" stroke-dasharray="3.5 6.02"/><line x1="798.85" y1="563.00" x2="798.85" y2="460.60" stroke="#000" stroke-width="0.8" stroke-dasharray="3.5 6.02"/><line x1="810.80" y1="563.00" x2="810.80" y2="460.60" stroke="#000" stroke-width="0.8" stroke-dasharray="3.5 6.02"/><line x1="822.75" y1="563.00" x2="822.75" y2="460.60" stroke="#000" stroke-width="0.8" stroke-dasharray="3.5 6.02"/><line x1="834.70" y1="563.00" x2="834.70" y2="460.60" stroke="#000" stroke-width="0.8" stroke-dasharray="3.5 6.02"/><line x1="869.50" y1="548.37" x2="153.50" y2="548.37" stroke="#000" stroke-width="0.8" stroke-dasharray="3.5 6.02"/><line x1="869.50" y1="533.74" x2="153.50" y2="533.74" stroke="#000" stroke-width="0.8" stroke-dasharray="3.5 6.02"/><line x1="869.50" y1="519.11" x2="153.50" y2="519.11" stroke="#000" stroke-width="0.8" stroke-dasharray="3.5 6.02"/><line x1="869.50" y1="504.49" x2="153.50" y2="504.49" stroke="#000" stroke-width="0.8" stroke-dasharray="3.5 6.02"/><line x1="869.50" y1="489.86" x2="153.50" y2="489.86" stroke="#000" stroke-width="0.8" stroke-dasharray="3.5 6.02"/><line x1="869.50" y1="475.23" x2="153.50" y2="475.23" stroke="#000" stroke-width="0.8" stroke-dasharray="3.5 6.02"/><rect x="153.5" y="460.6" width="717.0" height="102.4" fill="none" stroke="#000" stroke-width="1.4"/><line x1="139.50" y1="563.00" x2="153.50" y2="563.00" stroke="#000" stroke-width="1.3"/><line x1="870.50" y1="563.00" x2="884.50" y2="563.00" stroke="#000" stroke-width="1.3"/><text x="133.2" y="566.5" font-size="9.8" text-anchor="end" >999</text><line x1="146.50" y1="558.12" x2="153.50" y2="558.12" stroke="#000" stroke-width="0.8"/><line x1="870.50" y1="558.12" x2="877.50" y2="558.12" stroke="#000" stroke-width="0.8"/><line x1="146.50" y1="553.25" x2="153.50" y2="553.25" stroke="#000" stroke-width="0.8"/><line x1="870.50" y1="553.25" x2="877.50" y2="553.25" stroke="#000" stroke-width="0.8"/><line x1="139.50" y1="548.37" x2="153.50" y2="548.37" stroke="#000" stroke-width="1.3"/><line x1="870.50" y1="548.37" x2="884.50" y2="548.37" stroke="#000" stroke-width="1.3"/><text x="0" y="0" font-size="9.8" text-anchor="end" transform="translate(133.7 551.9) scale(0.9 1)">1002</text><line x1="146.50" y1="543.50" x2="153.50" y2="543.50" stroke="#000" stroke-width="0.8"/><line x1="870.50" y1="543.50" x2="877.50" y2="543.50" stroke="#000" stroke-width="0.8"/><line x1="146.50" y1="538.62" x2="153.50" y2="538.62" stroke="#000" stroke-width="0.8"/><line x1="870.50" y1="538.62" x2="877.50" y2="538.62" stroke="#000" stroke-width="0.8"/><line x1="139.50" y1="533.74" x2="153.50" y2="533.74" stroke="#000" stroke-width="1.3"/><line x1="870.50" y1="533.74" x2="884.50" y2="533.74" stroke="#000" stroke-width="1.3"/><text x="0" y="0" font-size="9.8" text-anchor="end" transform="translate(133.7 537.2) scale(0.9 1)">1005</text><line x1="146.50" y1="528.87" x2="153.50" y2="528.87" stroke="#000" stroke-width="0.8"/><line x1="870.50" y1="528.87" x2="877.50" y2="528.87" stroke="#000" stroke-width="0.8"/><line x1="146.50" y1="523.99" x2="153.50" y2="523.99" stroke="#000" stroke-width="0.8"/><line x1="870.50" y1="523.99" x2="877.50" y2="523.99" stroke="#000" stroke-width="0.8"/><line x1="139.50" y1="519.11" x2="153.50" y2="519.11" stroke="#000" stroke-width="1.3"/><line x1="870.50" y1="519.11" x2="884.50" y2="519.11" stroke="#000" stroke-width="1.3"/><text x="0" y="0" font-size="9.8" text-anchor="end" transform="translate(133.7 522.6) scale(0.9 1)">1008</text><line x1="146.50" y1="514.24" x2="153.50" y2="514.24" stroke="#000" stroke-width="0.8"/><line x1="870.50" y1="514.24" x2="877.50" y2="514.24" stroke="#000" stroke-width="0.8"/><line x1="146.50" y1="509.36" x2="153.50" y2="509.36" stroke="#000" stroke-width="0.8"/><line x1="870.50" y1="509.36" x2="877.50" y2="509.36" stroke="#000" stroke-width="0.8"/><line x1="139.50" y1="504.49" x2="153.50" y2="504.49" stroke="#000" stroke-width="1.3"/><line x1="870.50" y1="504.49" x2="884.50" y2="504.49" stroke="#000" stroke-width="1.3"/><text x="0" y="0" font-size="9.8" text-anchor="end" transform="translate(133.7 508.0) scale(0.9 1)">1011</text><line x1="146.50" y1="499.61" x2="153.50" y2="499.61" stroke="#000" stroke-width="0.8"/><line x1="870.50" y1="499.61" x2="877.50" y2="499.61" stroke="#000" stroke-width="0.8"/><line x1="146.50" y1="494.73" x2="153.50" y2="494.73" stroke="#000" stroke-width="0.8"/><line x1="870.50" y1="494.73" x2="877.50" y2="494.73" stroke="#000" stroke-width="0.8"/><line x1="139.50" y1="489.86" x2="153.50" y2="489.86" stroke="#000" stroke-width="1.3"/><line x1="870.50" y1="489.86" x2="884.50" y2="489.86" stroke="#000" stroke-width="1.3"/><text x="0" y="0" font-size="9.8" text-anchor="end" transform="translate(133.7 493.4) scale(0.9 1)">1014</text><line x1="146.50" y1="484.98" x2="153.50" y2="484.98" stroke="#000" stroke-width="0.8"/><line x1="870.50" y1="484.98" x2="877.50" y2="484.98" stroke="#000" stroke-width="0.8"/><line x1="146.50" y1="480.10" x2="153.50" y2="480.10" stroke="#000" stroke-width="0.8"/><line x1="870.50" y1="480.10" x2="877.50" y2="480.10" stroke="#000" stroke-width="0.8"/><line x1="139.50" y1="475.23" x2="153.50" y2="475.23" stroke="#000" stroke-width="1.3"/><line x1="870.50" y1="475.23" x2="884.50" y2="475.23" stroke="#000" stroke-width="1.3"/><text x="0" y="0" font-size="9.8" text-anchor="end" transform="translate(133.7 478.7) scale(0.9 1)">1017</text><line x1="146.50" y1="470.35" x2="153.50" y2="470.35" stroke="#000" stroke-width="0.8"/><line x1="870.50" y1="470.35" x2="877.50" y2="470.35" stroke="#000" stroke-width="0.8"/><line x1="146.50" y1="465.48" x2="153.50" y2="465.48" stroke="#000" stroke-width="0.8"/><line x1="870.50" y1="465.48" x2="877.50" y2="465.48" stroke="#000" stroke-width="0.8"/><line x1="139.50" y1="460.60" x2="153.50" y2="460.60" stroke="#000" stroke-width="1.3"/><line x1="870.50" y1="460.60" x2="884.50" y2="460.60" stroke="#000" stroke-width="1.3"/><text x="0" y="0" font-size="9.8" text-anchor="end" transform="translate(133.7 464.1) scale(0.9 1)">1020</text><line x1="165.50" y1="563.00" x2="165.50" y2="576.70" stroke="#000" stroke-width="1.2"/><line x1="177.45" y1="563.00" x2="177.45" y2="576.70" stroke="#000" stroke-width="1.2"/><line x1="189.40" y1="563.00" x2="189.40" y2="576.70" stroke="#000" stroke-width="1.2"/><line x1="201.35" y1="563.00" x2="201.35" y2="576.70" stroke="#000" stroke-width="1.2"/><line x1="213.30" y1="563.00" x2="213.30" y2="576.70" stroke="#000" stroke-width="1.2"/><line x1="225.25" y1="563.00" x2="225.25" y2="576.70" stroke="#000" stroke-width="1.2"/><line x1="237.20" y1="563.00" x2="237.20" y2="576.70" stroke="#000" stroke-width="1.2"/><line x1="249.15" y1="563.00" x2="249.15" y2="576.70" stroke="#000" stroke-width="1.2"/><line x1="261.10" y1="563.00" x2="261.10" y2="576.70" stroke="#000" stroke-width="1.2"/><line x1="273.05" y1="563.00" x2="273.05" y2="576.70" stroke="#000" stroke-width="1.2"/><line x1="285.00" y1="563.00" x2="285.00" y2="576.70" stroke="#000" stroke-width="1.2"/><line x1="296.95" y1="563.00" x2="296.95" y2="576.70" stroke="#000" stroke-width="1.2"/><line x1="308.90" y1="563.00" x2="308.90" y2="576.70" stroke="#000" stroke-width="1.2"/><line x1="320.85" y1="563.00" x2="320.85" y2="576.70" stroke="#000" stroke-width="1.2"/><line x1="332.80" y1="563.00" x2="332.80" y2="576.70" stroke="#000" stroke-width="1.2"/><line x1="344.75" y1="563.00" x2="344.75" y2="576.70" stroke="#000" stroke-width="1.2"/><line x1="356.70" y1="563.00" x2="356.70" y2="576.70" stroke="#000" stroke-width="1.2"/><line x1="368.65" y1="563.00" x2="368.65" y2="576.70" stroke="#000" stroke-width="1.2"/><line x1="380.60" y1="563.00" x2="380.60" y2="576.70" stroke="#000" stroke-width="1.2"/><line x1="392.55" y1="563.00" x2="392.55" y2="576.70" stroke="#000" stroke-width="1.2"/><line x1="404.50" y1="563.00" x2="404.50" y2="576.70" stroke="#000" stroke-width="1.2"/><line x1="416.45" y1="563.00" x2="416.45" y2="576.70" stroke="#000" stroke-width="1.2"/><line x1="428.40" y1="563.00" x2="428.40" y2="576.70" stroke="#000" stroke-width="1.2"/><line x1="440.35" y1="563.00" x2="440.35" y2="576.70" stroke="#000" stroke-width="1.2"/><line x1="452.30" y1="563.00" x2="452.30" y2="576.70" stroke="#000" stroke-width="1.2"/><line x1="464.25" y1="563.00" x2="464.25" y2="576.70" stroke="#000" stroke-width="1.2"/><line x1="476.20" y1="563.00" x2="476.20" y2="576.70" stroke="#000" stroke-width="1.2"/><line x1="488.15" y1="563.00" x2="488.15" y2="576.70" stroke="#000" stroke-width="1.2"/><line x1="500.10" y1="563.00" x2="500.10" y2="576.70" stroke="#000" stroke-width="1.2"/><line x1="512.05" y1="563.00" x2="512.05" y2="576.70" stroke="#000" stroke-width="1.2"/><line x1="524.00" y1="563.00" x2="524.00" y2="576.70" stroke="#000" stroke-width="1.2"/><line x1="535.95" y1="563.00" x2="535.95" y2="576.70" stroke="#000" stroke-width="1.2"/><line x1="547.90" y1="563.00" x2="547.90" y2="576.70" stroke="#000" stroke-width="1.2"/><line x1="559.85" y1="563.00" x2="559.85" y2="576.70" stroke="#000" stroke-width="1.2"/><line x1="571.80" y1="563.00" x2="571.80" y2="576.70" stroke="#000" stroke-width="1.2"/><line x1="583.75" y1="563.00" x2="583.75" y2="576.70" stroke="#000" stroke-width="1.2"/><line x1="595.70" y1="563.00" x2="595.70" y2="576.70" stroke="#000" stroke-width="1.2"/><line x1="607.65" y1="563.00" x2="607.65" y2="576.70" stroke="#000" stroke-width="1.2"/><line x1="619.60" y1="563.00" x2="619.60" y2="576.70" stroke="#000" stroke-width="1.2"/><line x1="631.55" y1="563.00" x2="631.55" y2="576.70" stroke="#000" stroke-width="1.2"/><line x1="643.50" y1="563.00" x2="643.50" y2="576.70" stroke="#000" stroke-width="1.2"/><line x1="655.45" y1="563.00" x2="655.45" y2="576.70" stroke="#000" stroke-width="1.2"/><line x1="667.40" y1="563.00" x2="667.40" y2="576.70" stroke="#000" stroke-width="1.2"/><line x1="679.35" y1="563.00" x2="679.35" y2="576.70" stroke="#000" stroke-width="1.2"/><line x1="691.30" y1="563.00" x2="691.30" y2="576.70" stroke="#000" stroke-width="1.2"/><line x1="703.25" y1="563.00" x2="703.25" y2="576.70" stroke="#000" stroke-width="1.2"/><line x1="715.20" y1="563.00" x2="715.20" y2="576.70" stroke="#000" stroke-width="1.2"/><line x1="727.15" y1="563.00" x2="727.15" y2="576.70" stroke="#000" stroke-width="1.2"/><line x1="739.10" y1="563.00" x2="739.10" y2="576.70" stroke="#000" stroke-width="1.2"/><line x1="751.05" y1="563.00" x2="751.05" y2="576.70" stroke="#000" stroke-width="1.2"/><line x1="763.00" y1="563.00" x2="763.00" y2="576.70" stroke="#000" stroke-width="1.2"/><line x1="774.95" y1="563.00" x2="774.95" y2="576.70" stroke="#000" stroke-width="1.2"/><line x1="786.90" y1="563.00" x2="786.90" y2="576.70" stroke="#000" stroke-width="1.2"/><line x1="798.85" y1="563.00" x2="798.85" y2="576.70" stroke="#000" stroke-width="1.2"/><line x1="810.80" y1="563.00" x2="810.80" y2="576.70" stroke="#000" stroke-width="1.2"/><line x1="822.75" y1="563.00" x2="822.75" y2="576.70" stroke="#000" stroke-width="1.2"/><line x1="834.70" y1="563.00" x2="834.70" y2="576.70" stroke="#000" stroke-width="1.2"/><text x="0" y="0" font-size="13.5" text-anchor="middle" transform="translate(168.9 589.4) rotate(-45)" dy="0.35em">30.00</text><text x="0" y="0" font-size="13.5" text-anchor="middle" transform="translate(216.7 589.4) rotate(-45)" dy="0.35em">30.12</text><text x="0" y="0" font-size="13.5" text-anchor="middle" transform="translate(264.5 589.4) rotate(-45)" dy="0.35em">31.00</text><text x="0" y="0" font-size="13.5" text-anchor="middle" transform="translate(312.3 589.4) rotate(-45)" dy="0.35em">31.12</text><text x="0" y="0" font-size="13.5" text-anchor="middle" transform="translate(360.1 589.4) rotate(-45)" dy="0.35em">01.00</text><text x="0" y="0" font-size="13.5" text-anchor="middle" transform="translate(407.9 589.4) rotate(-45)" dy="0.35em">01.12</text><text x="0" y="0" font-size="13.5" text-anchor="middle" transform="translate(455.7 589.4) rotate(-45)" dy="0.35em">02.00</text><text x="0" y="0" font-size="13.5" text-anchor="middle" transform="translate(503.5 589.4) rotate(-45)" dy="0.35em">02.12</text><text x="0" y="0" font-size="13.5" text-anchor="middle" transform="translate(551.3 589.4) rotate(-45)" dy="0.35em">03.00</text><text x="0" y="0" font-size="13.5" text-anchor="middle" transform="translate(599.1 589.4) rotate(-45)" dy="0.35em">03.12</text><text x="0" y="0" font-size="13.5" text-anchor="middle" transform="translate(646.9 589.4) rotate(-45)" dy="0.35em">04.00</text><text x="0" y="0" font-size="13.5" text-anchor="middle" transform="translate(694.7 589.4) rotate(-45)" dy="0.35em">04.12</text><text x="0" y="0" font-size="13.5" text-anchor="middle" transform="translate(742.5 589.4) rotate(-45)" dy="0.35em">05.00</text><text x="0" y="0" font-size="13.5" text-anchor="middle" transform="translate(790.3 589.4) rotate(-45)" dy="0.35em">05.12</text><text x="0" y="0" font-size="13.5" text-anchor="middle" transform="translate(838.1 589.4) rotate(-45)" dy="0.35em">06.00</text><text x="0" y="0" font-size="25" text-anchor="middle" transform="translate(99.6 511.8) rotate(-90)" textLength="65.8" lengthAdjust="spacingAndGlyphs">PMSL</text><polyline fill="none" stroke="#0000ff" stroke-width="1.1" stroke-linejoin="round" points="165.5,533.6 177.4,531.7 189.4,532.6 201.3,539.2 213.3,545.6 225.2,546.1 237.2,546.6 249.1,549.5 261.1,550.2 273.1,547.5 285.0,548.3 296.9,547.5 308.9,547.5 320.9,543.6 332.8,539.2 344.8,535.6 356.7,530.4 368.6,523.8 380.6,515.5 392.5,507.0 404.5,501.4 416.4,494.6 428.4,488.4 440.3,485.3 452.3,480.1 464.2,478.2 476.2,474.5 488.1,477.5 500.1,481.9 512.0,489.2 524.0,493.3 536.0,498.9 547.9,501.4 559.8,501.4 571.8,500.9 583.8,503.1 595.7,504.1 607.6,503.8 619.6,505.8 631.5,506.8 643.5,504.3 655.5,501.9 667.4,502.4 679.4,506.3 691.3,510.2 703.2,511.2 715.2,512.9 727.1,514.8 739.1,514.3 751.0,511.6 763.0,509.4 774.9,511.2 786.9,512.6 798.8,511.4 810.8,511.4 822.8,513.6 834.7,512.4"/><line x1="165.50" y1="716.60" x2="165.50" y2="614.30" stroke="#000" stroke-width="0.8" stroke-dasharray="3.5 6.02"/><line x1="177.45" y1="716.60" x2="177.45" y2="614.30" stroke="#000" stroke-width="0.8" stroke-dasharray="3.5 6.02"/><line x1="189.40" y1="716.60" x2="189.40" y2="614.30" stroke="#000" stroke-width="0.8" stroke-dasharray="3.5 6.02"/><line x1="201.35" y1="716.60" x2="201.35" y2="614.30" stroke="#000" stroke-width="0.8" stroke-dasharray="3.5 6.02"/><line x1="213.30" y1="716.60" x2="213.30" y2="614.30" stroke="#000" stroke-width="0.8" stroke-dasharray="3.5 6.02"/><line x1="225.25" y1="716.60" x2="225.25" y2="614.30" stroke="#000" stroke-width="0.8" stroke-dasharray="3.5 6.02"/><line x1="237.20" y1="716.60" x2="237.20" y2="614.30" stroke="#000" stroke-width="0.8" stroke-dasharray="3.5 6.02"/><line x1="249.15" y1="716.60" x2="249.15" y2="614.30" stroke="#000" stroke-width="0.8" stroke-dasharray="3.5 6.02"/><line x1="261.10" y1="716.60" x2="261.10" y2="614.30" stroke="#000" stroke-width="0.8" stroke-dasharray="3.5 6.02"/><line x1="273.05" y1="716.60" x2="273.05" y2="614.30" stroke="#000" stroke-width="0.8" stroke-dasharray="3.5 6.02"/><line x1="285.00" y1="716.60" x2="285.00" y2="614.30" stroke="#000" stroke-width="0.8" stroke-dasharray="3.5 6.02"/><line x1="296.95" y1="716.60" x2="296.95" y2="614.30" stroke="#000" stroke-width="0.8" stroke-dasharray="3.5 6.02"/><line x1="308.90" y1="716.60" x2="308.90" y2="614.30" stroke="#000" stroke-width="0.8" stroke-dasharray="3.5 6.02"/><line x1="320.85" y1="716.60" x2="320.85" y2="614.30" stroke="#000" stroke-width="0.8" stroke-dasharray="3.5 6.02"/><line x1="332.80" y1="716.60" x2="332.80" y2="614.30" stroke="#000" stroke-width="0.8" stroke-dasharray="3.5 6.02"/><line x1="344.75" y1="716.60" x2="344.75" y2="614.30" stroke="#000" stroke-width="0.8" stroke-dasharray="3.5 6.02"/><line x1="356.70" y1="716.60" x2="356.70" y2="614.30" stroke="#000" stroke-width="0.8" stroke-dasharray="3.5 6.02"/><line x1="368.65" y1="716.60" x2="368.65" y2="614.30" stroke="#000" stroke-width="0.8" stroke-dasharray="3.5 6.02"/><line x1="380.60" y1="716.60" x2="380.60" y2="614.30" stroke="#000" stroke-width="0.8" stroke-dasharray="3.5 6.02"/><line x1="392.55" y1="716.60" x2="392.55" y2="614.30" stroke="#000" stroke-width="0.8" stroke-dasharray="3.5 6.02"/><line x1="404.50" y1="716.60" x2="404.50" y2="614.30" stroke="#000" stroke-width="0.8" stroke-dasharray="3.5 6.02"/><line x1="416.45" y1="716.60" x2="416.45" y2="614.30" stroke="#000" stroke-width="0.8" stroke-dasharray="3.5 6.02"/><line x1="428.40" y1="716.60" x2="428.40" y2="614.30" stroke="#000" stroke-width="0.8" stroke-dasharray="3.5 6.02"/><line x1="440.35" y1="716.60" x2="440.35" y2="614.30" stroke="#000" stroke-width="0.8" stroke-dasharray="3.5 6.02"/><line x1="452.30" y1="716.60" x2="452.30" y2="614.30" stroke="#000" stroke-width="0.8" stroke-dasharray="3.5 6.02"/><line x1="464.25" y1="716.60" x2="464.25" y2="614.30" stroke="#000" stroke-width="0.8" stroke-dasharray="3.5 6.02"/><line x1="476.20" y1="716.60" x2="476.20" y2="614.30" stroke="#000" stroke-width="0.8" stroke-dasharray="3.5 6.02"/><line x1="488.15" y1="716.60" x2="488.15" y2="614.30" stroke="#000" stroke-width="0.8" stroke-dasharray="3.5 6.02"/><line x1="500.10" y1="716.60" x2="500.10" y2="614.30" stroke="#000" stroke-width="0.8" stroke-dasharray="3.5 6.02"/><line x1="512.05" y1="716.60" x2="512.05" y2="614.30" stroke="#000" stroke-width="0.8" stroke-dasharray="3.5 6.02"/><line x1="524.00" y1="716.60" x2="524.00" y2="614.30" stroke="#000" stroke-width="0.8" stroke-dasharray="3.5 6.02"/><line x1="535.95" y1="716.60" x2="535.95" y2="614.30" stroke="#000" stroke-width="0.8" stroke-dasharray="3.5 6.02"/><line x1="547.90" y1="716.60" x2="547.90" y2="614.30" stroke="#000" stroke-width="0.8" stroke-dasharray="3.5 6.02"/><line x1="559.85" y1="716.60" x2="559.85" y2="614.30" stroke="#000" stroke-width="0.8" stroke-dasharray="3.5 6.02"/><line x1="571.80" y1="716.60" x2="571.80" y2="614.30" stroke="#000" stroke-width="0.8" stroke-dasharray="3.5 6.02"/><line x1="583.75" y1="716.60" x2="583.75" y2="614.30" stroke="#000" stroke-width="0.8" stroke-dasharray="3.5 6.02"/><line x1="595.70" y1="716.60" x2="595.70" y2="614.30" stroke="#000" stroke-width="0.8" stroke-dasharray="3.5 6.02"/><line x1="607.65" y1="716.60" x2="607.65" y2="614.30" stroke="#000" stroke-width="0.8" stroke-dasharray="3.5 6.02"/><line x1="619.60" y1="716.60" x2="619.60" y2="614.30" stroke="#000" stroke-width="0.8" stroke-dasharray="3.5 6.02"/><line x1="631.55" y1="716.60" x2="631.55" y2="614.30" stroke="#000" stroke-width="0.8" stroke-dasharray="3.5 6.02"/><line x1="643.50" y1="716.60" x2="643.50" y2="614.30" stroke="#000" stroke-width="0.8" stroke-dasharray="3.5 6.02"/><line x1="655.45" y1="716.60" x2="655.45" y2="614.30" stroke="#000" stroke-width="0.8" stroke-dasharray="3.5 6.02"/><line x1="667.40" y1="716.60" x2="667.40" y2="614.30" stroke="#000" stroke-width="0.8" stroke-dasharray="3.5 6.02"/><line x1="679.35" y1="716.60" x2="679.35" y2="614.30" stroke="#000" stroke-width="0.8" stroke-dasharray="3.5 6.02"/><line x1="691.30" y1="716.60" x2="691.30" y2="614.30" stroke="#000" stroke-width="0.8" stroke-dasharray="3.5 6.02"/><line x1="703.25" y1="716.60" x2="703.25" y2="614.30" stroke="#000" stroke-width="0.8" stroke-dasharray="3.5 6.02"/><line x1="715.20" y1="716.60" x2="715.20" y2="614.30" stroke="#000" stroke-width="0.8" stroke-dasharray="3.5 6.02"/><line x1="727.15" y1="716.60" x2="727.15" y2="614.30" stroke="#000" stroke-width="0.8" stroke-dasharray="3.5 6.02"/><line x1="739.10" y1="716.60" x2="739.10" y2="614.30" stroke="#000" stroke-width="0.8" stroke-dasharray="3.5 6.02"/><line x1="751.05" y1="716.60" x2="751.05" y2="614.30" stroke="#000" stroke-width="0.8" stroke-dasharray="3.5 6.02"/><line x1="763.00" y1="716.60" x2="763.00" y2="614.30" stroke="#000" stroke-width="0.8" stroke-dasharray="3.5 6.02"/><line x1="774.95" y1="716.60" x2="774.95" y2="614.30" stroke="#000" stroke-width="0.8" stroke-dasharray="3.5 6.02"/><line x1="786.90" y1="716.60" x2="786.90" y2="614.30" stroke="#000" stroke-width="0.8" stroke-dasharray="3.5 6.02"/><line x1="798.85" y1="716.60" x2="798.85" y2="614.30" stroke="#000" stroke-width="0.8" stroke-dasharray="3.5 6.02"/><line x1="810.80" y1="716.60" x2="810.80" y2="614.30" stroke="#000" stroke-width="0.8" stroke-dasharray="3.5 6.02"/><line x1="822.75" y1="716.60" x2="822.75" y2="614.30" stroke="#000" stroke-width="0.8" stroke-dasharray="3.5 6.02"/><line x1="834.70" y1="716.60" x2="834.70" y2="614.30" stroke="#000" stroke-width="0.8" stroke-dasharray="3.5 6.02"/><line x1="869.50" y1="696.14" x2="153.40" y2="696.14" stroke="#000" stroke-width="0.8" stroke-dasharray="3.5 6.02"/><line x1="869.50" y1="675.68" x2="153.40" y2="675.68" stroke="#000" stroke-width="0.8" stroke-dasharray="3.5 6.02"/><line x1="869.50" y1="655.22" x2="153.40" y2="655.22" stroke="#000" stroke-width="0.8" stroke-dasharray="3.5 6.02"/><line x1="869.50" y1="634.76" x2="153.40" y2="634.76" stroke="#000" stroke-width="0.8" stroke-dasharray="3.5 6.02"/><rect x="153.4" y="614.3" width="717.1" height="102.3" fill="none" stroke="#000" stroke-width="1.4"/><line x1="139.40" y1="716.60" x2="153.40" y2="716.60" stroke="#000" stroke-width="1.3"/><line x1="870.50" y1="716.60" x2="884.50" y2="716.60" stroke="#000" stroke-width="1.3"/><text x="133.1" y="720.1" font-size="9.8" text-anchor="end" >4.0</text><line x1="146.40" y1="712.51" x2="153.40" y2="712.51" stroke="#000" stroke-width="0.8"/><line x1="870.50" y1="712.51" x2="877.50" y2="712.51" stroke="#000" stroke-width="0.8"/><line x1="146.40" y1="708.42" x2="153.40" y2="708.42" stroke="#000" stroke-width="0.8"/><line x1="870.50" y1="708.42" x2="877.50" y2="708.42" stroke="#000" stroke-width="0.8"/><line x1="146.40" y1="704.32" x2="153.40" y2="704.32" stroke="#000" stroke-width="0.8"/><line x1="870.50" y1="704.32" x2="877.50" y2="704.32" stroke="#000" stroke-width="0.8"/><line x1="146.40" y1="700.23" x2="153.40" y2="700.23" stroke="#000" stroke-width="0.8"/><line x1="870.50" y1="700.23" x2="877.50" y2="700.23" stroke="#000" stroke-width="0.8"/><line x1="139.40" y1="696.14" x2="153.40" y2="696.14" stroke="#000" stroke-width="1.3"/><line x1="870.50" y1="696.14" x2="884.50" y2="696.14" stroke="#000" stroke-width="1.3"/><text x="133.1" y="699.6" font-size="9.8" text-anchor="end" >5.0</text><line x1="146.40" y1="692.05" x2="153.40" y2="692.05" stroke="#000" stroke-width="0.8"/><line x1="870.50" y1="692.05" x2="877.50" y2="692.05" stroke="#000" stroke-width="0.8"/><line x1="146.40" y1="687.96" x2="153.40" y2="687.96" stroke="#000" stroke-width="0.8"/><line x1="870.50" y1="687.96" x2="877.50" y2="687.96" stroke="#000" stroke-width="0.8"/><line x1="146.40" y1="683.86" x2="153.40" y2="683.86" stroke="#000" stroke-width="0.8"/><line x1="870.50" y1="683.86" x2="877.50" y2="683.86" stroke="#000" stroke-width="0.8"/><line x1="146.40" y1="679.77" x2="153.40" y2="679.77" stroke="#000" stroke-width="0.8"/><line x1="870.50" y1="679.77" x2="877.50" y2="679.77" stroke="#000" stroke-width="0.8"/><line x1="139.40" y1="675.68" x2="153.40" y2="675.68" stroke="#000" stroke-width="1.3"/><line x1="870.50" y1="675.68" x2="884.50" y2="675.68" stroke="#000" stroke-width="1.3"/><text x="133.1" y="679.2" font-size="9.8" text-anchor="end" >6.0</text><line x1="146.40" y1="671.59" x2="153.40" y2="671.59" stroke="#000" stroke-width="0.8"/><line x1="870.50" y1="671.59" x2="877.50" y2="671.59" stroke="#000" stroke-width="0.8"/><line x1="146.40" y1="667.50" x2="153.40" y2="667.50" stroke="#000" stroke-width="0.8"/><line x1="870.50" y1="667.50" x2="877.50" y2="667.50" stroke="#000" stroke-width="0.8"/><line x1="146.40" y1="663.40" x2="153.40" y2="663.40" stroke="#000" stroke-width="0.8"/><line x1="870.50" y1="663.40" x2="877.50" y2="663.40" stroke="#000" stroke-width="0.8"/><line x1="146.40" y1="659.31" x2="153.40" y2="659.31" stroke="#000" stroke-width="0.8"/><line x1="870.50" y1="659.31" x2="877.50" y2="659.31" stroke="#000" stroke-width="0.8"/><line x1="139.40" y1="655.22" x2="153.40" y2="655.22" stroke="#000" stroke-width="1.3"/><line x1="870.50" y1="655.22" x2="884.50" y2="655.22" stroke="#000" stroke-width="1.3"/><text x="133.1" y="658.7" font-size="9.8" text-anchor="end" >7.0</text><line x1="146.40" y1="651.13" x2="153.40" y2="651.13" stroke="#000" stroke-width="0.8"/><line x1="870.50" y1="651.13" x2="877.50" y2="651.13" stroke="#000" stroke-width="0.8"/><line x1="146.40" y1="647.04" x2="153.40" y2="647.04" stroke="#000" stroke-width="0.8"/><line x1="870.50" y1="647.04" x2="877.50" y2="647.04" stroke="#000" stroke-width="0.8"/><line x1="146.40" y1="642.94" x2="153.40" y2="642.94" stroke="#000" stroke-width="0.8"/><line x1="870.50" y1="642.94" x2="877.50" y2="642.94" stroke="#000" stroke-width="0.8"/><line x1="146.40" y1="638.85" x2="153.40" y2="638.85" stroke="#000" stroke-width="0.8"/><line x1="870.50" y1="638.85" x2="877.50" y2="638.85" stroke="#000" stroke-width="0.8"/><line x1="139.40" y1="634.76" x2="153.40" y2="634.76" stroke="#000" stroke-width="1.3"/><line x1="870.50" y1="634.76" x2="884.50" y2="634.76" stroke="#000" stroke-width="1.3"/><text x="133.1" y="638.3" font-size="9.8" text-anchor="end" >8.0</text><line x1="146.40" y1="630.67" x2="153.40" y2="630.67" stroke="#000" stroke-width="0.8"/><line x1="870.50" y1="630.67" x2="877.50" y2="630.67" stroke="#000" stroke-width="0.8"/><line x1="146.40" y1="626.58" x2="153.40" y2="626.58" stroke="#000" stroke-width="0.8"/><line x1="870.50" y1="626.58" x2="877.50" y2="626.58" stroke="#000" stroke-width="0.8"/><line x1="146.40" y1="622.48" x2="153.40" y2="622.48" stroke="#000" stroke-width="0.8"/><line x1="870.50" y1="622.48" x2="877.50" y2="622.48" stroke="#000" stroke-width="0.8"/><line x1="146.40" y1="618.39" x2="153.40" y2="618.39" stroke="#000" stroke-width="0.8"/><line x1="870.50" y1="618.39" x2="877.50" y2="618.39" stroke="#000" stroke-width="0.8"/><line x1="139.40" y1="614.30" x2="153.40" y2="614.30" stroke="#000" stroke-width="1.3"/><line x1="870.50" y1="614.30" x2="884.50" y2="614.30" stroke="#000" stroke-width="1.3"/><text x="133.1" y="617.8" font-size="9.8" text-anchor="end" >9.0</text><line x1="165.50" y1="716.60" x2="165.50" y2="730.30" stroke="#000" stroke-width="1.2"/><line x1="177.45" y1="716.60" x2="177.45" y2="730.30" stroke="#000" stroke-width="1.2"/><line x1="189.40" y1="716.60" x2="189.40" y2="730.30" stroke="#000" stroke-width="1.2"/><line x1="201.35" y1="716.60" x2="201.35" y2="730.30" stroke="#000" stroke-width="1.2"/><line x1="213.30" y1="716.60" x2="213.30" y2="730.30" stroke="#000" stroke-width="1.2"/><line x1="225.25" y1="716.60" x2="225.25" y2="730.30" stroke="#000" stroke-width="1.2"/><line x1="237.20" y1="716.60" x2="237.20" y2="730.30" stroke="#000" stroke-width="1.2"/><line x1="249.15" y1="716.60" x2="249.15" y2="730.30" stroke="#000" stroke-width="1.2"/><line x1="261.10" y1="716.60" x2="261.10" y2="730.30" stroke="#000" stroke-width="1.2"/><line x1="273.05" y1="716.60" x2="273.05" y2="730.30" stroke="#000" stroke-width="1.2"/><line x1="285.00" y1="716.60" x2="285.00" y2="730.30" stroke="#000" stroke-width="1.2"/><line x1="296.95" y1="716.60" x2="296.95" y2="730.30" stroke="#000" stroke-width="1.2"/><line x1="308.90" y1="716.60" x2="308.90" y2="730.30" stroke="#000" stroke-width="1.2"/><line x1="320.85" y1="716.60" x2="320.85" y2="730.30" stroke="#000" stroke-width="1.2"/><line x1="332.80" y1="716.60" x2="332.80" y2="730.30" stroke="#000" stroke-width="1.2"/><line x1="344.75" y1="716.60" x2="344.75" y2="730.30" stroke="#000" stroke-width="1.2"/><line x1="356.70" y1="716.60" x2="356.70" y2="730.30" stroke="#000" stroke-width="1.2"/><line x1="368.65" y1="716.60" x2="368.65" y2="730.30" stroke="#000" stroke-width="1.2"/><line x1="380.60" y1="716.60" x2="380.60" y2="730.30" stroke="#000" stroke-width="1.2"/><line x1="392.55" y1="716.60" x2="392.55" y2="730.30" stroke="#000" stroke-width="1.2"/><line x1="404.50" y1="716.60" x2="404.50" y2="730.30" stroke="#000" stroke-width="1.2"/><line x1="416.45" y1="716.60" x2="416.45" y2="730.30" stroke="#000" stroke-width="1.2"/><line x1="428.40" y1="716.60" x2="428.40" y2="730.30" stroke="#000" stroke-width="1.2"/><line x1="440.35" y1="716.60" x2="440.35" y2="730.30" stroke="#000" stroke-width="1.2"/><line x1="452.30" y1="716.60" x2="452.30" y2="730.30" stroke="#000" stroke-width="1.2"/><line x1="464.25" y1="716.60" x2="464.25" y2="730.30" stroke="#000" stroke-width="1.2"/><line x1="476.20" y1="716.60" x2="476.20" y2="730.30" stroke="#000" stroke-width="1.2"/><line x1="488.15" y1="716.60" x2="488.15" y2="730.30" stroke="#000" stroke-width="1.2"/><line x1="500.10" y1="716.60" x2="500.10" y2="730.30" stroke="#000" stroke-width="1.2"/><line x1="512.05" y1="716.60" x2="512.05" y2="730.30" stroke="#000" stroke-width="1.2"/><line x1="524.00" y1="716.60" x2="524.00" y2="730.30" stroke="#000" stroke-width="1.2"/><line x1="535.95" y1="716.60" x2="535.95" y2="730.30" stroke="#000" stroke-width="1.2"/><line x1="547.90" y1="716.60" x2="547.90" y2="730.30" stroke="#000" stroke-width="1.2"/><line x1="559.85" y1="716.60" x2="559.85" y2="730.30" stroke="#000" stroke-width="1.2"/><line x1="571.80" y1="716.60" x2="571.80" y2="730.30" stroke="#000" stroke-width="1.2"/><line x1="583.75" y1="716.60" x2="583.75" y2="730.30" stroke="#000" stroke-width="1.2"/><line x1="595.70" y1="716.60" x2="595.70" y2="730.30" stroke="#000" stroke-width="1.2"/><line x1="607.65" y1="716.60" x2="607.65" y2="730.30" stroke="#000" stroke-width="1.2"/><line x1="619.60" y1="716.60" x2="619.60" y2="730.30" stroke="#000" stroke-width="1.2"/><line x1="631.55" y1="716.60" x2="631.55" y2="730.30" stroke="#000" stroke-width="1.2"/><line x1="643.50" y1="716.60" x2="643.50" y2="730.30" stroke="#000" stroke-width="1.2"/><line x1="655.45" y1="716.60" x2="655.45" y2="730.30" stroke="#000" stroke-width="1.2"/><line x1="667.40" y1="716.60" x2="667.40" y2="730.30" stroke="#000" stroke-width="1.2"/><line x1="679.35" y1="716.60" x2="679.35" y2="730.30" stroke="#000" stroke-width="1.2"/><line x1="691.30" y1="716.60" x2="691.30" y2="730.30" stroke="#000" stroke-width="1.2"/><line x1="703.25" y1="716.60" x2="703.25" y2="730.30" stroke="#000" stroke-width="1.2"/><line x1="715.20" y1="716.60" x2="715.20" y2="730.30" stroke="#000" stroke-width="1.2"/><line x1="727.15" y1="716.60" x2="727.15" y2="730.30" stroke="#000" stroke-width="1.2"/><line x1="739.10" y1="716.60" x2="739.10" y2="730.30" stroke="#000" stroke-width="1.2"/><line x1="751.05" y1="716.60" x2="751.05" y2="730.30" stroke="#000" stroke-width="1.2"/><line x1="763.00" y1="716.60" x2="763.00" y2="730.30" stroke="#000" stroke-width="1.2"/><line x1="774.95" y1="716.60" x2="774.95" y2="730.30" stroke="#000" stroke-width="1.2"/><line x1="786.90" y1="716.60" x2="786.90" y2="730.30" stroke="#000" stroke-width="1.2"/><line x1="798.85" y1="716.60" x2="798.85" y2="730.30" stroke="#000" stroke-width="1.2"/><line x1="810.80" y1="716.60" x2="810.80" y2="730.30" stroke="#000" stroke-width="1.2"/><line x1="822.75" y1="716.60" x2="822.75" y2="730.30" stroke="#000" stroke-width="1.2"/><line x1="834.70" y1="716.60" x2="834.70" y2="730.30" stroke="#000" stroke-width="1.2"/><text x="0" y="0" font-size="13.5" text-anchor="middle" transform="translate(168.9 743.0) rotate(-45)" dy="0.35em">30.00</text><text x="0" y="0" font-size="13.5" text-anchor="middle" transform="translate(216.7 743.0) rotate(-45)" dy="0.35em">30.12</text><text x="0" y="0" font-size="13.5" text-anchor="middle" transform="translate(264.5 743.0) rotate(-45)" dy="0.35em">31.00</text><text x="0" y="0" font-size="13.5" text-anchor="middle" transform="translate(312.3 743.0) rotate(-45)" dy="0.35em">31.12</text><text x="0" y="0" font-size="13.5" text-anchor="middle" transform="translate(360.1 743.0) rotate(-45)" dy="0.35em">01.00</text><text x="0" y="0" font-size="13.5" text-anchor="middle" transform="translate(407.9 743.0) rotate(-45)" dy="0.35em">01.12</text><text x="0" y="0" font-size="13.5" text-anchor="middle" transform="translate(455.7 743.0) rotate(-45)" dy="0.35em">02.00</text><text x="0" y="0" font-size="13.5" text-anchor="middle" transform="translate(503.5 743.0) rotate(-45)" dy="0.35em">02.12</text><text x="0" y="0" font-size="13.5" text-anchor="middle" transform="translate(551.3 743.0) rotate(-45)" dy="0.35em">03.00</text><text x="0" y="0" font-size="13.5" text-anchor="middle" transform="translate(599.1 743.0) rotate(-45)" dy="0.35em">03.12</text><text x="0" y="0" font-size="13.5" text-anchor="middle" transform="translate(646.9 743.0) rotate(-45)" dy="0.35em">04.00</text><text x="0" y="0" font-size="13.5" text-anchor="middle" transform="translate(694.7 743.0) rotate(-45)" dy="0.35em">04.12</text><text x="0" y="0" font-size="13.5" text-anchor="middle" transform="translate(742.5 743.0) rotate(-45)" dy="0.35em">05.00</text><text x="0" y="0" font-size="13.5" text-anchor="middle" transform="translate(790.3 743.0) rotate(-45)" dy="0.35em">05.12</text><text x="0" y="0" font-size="13.5" text-anchor="middle" transform="translate(838.1 743.0) rotate(-45)" dy="0.35em">06.00</text><text x="0" y="0" font-size="25" text-anchor="middle" transform="translate(106.3 665.5) rotate(-90)" textLength="138.7" lengthAdjust="spacingAndGlyphs">TEMP at 2 M</text><polyline fill="none" stroke="#ff0000" stroke-width="1.1" stroke-linejoin="round" points="165.5,666.6 177.4,674.9 189.4,673.2 201.3,676.2 213.3,676.2 225.2,660.5 237.2,642.5 249.1,640.3 261.1,665.7 273.1,675.9 285.0,678.6 296.9,675.4 308.9,682.8 320.9,674.9 332.8,670.8 344.8,697.2 356.7,691.3 368.6,683.7 380.6,677.6 392.5,675.4 404.5,673.5 416.4,674.9 428.4,677.6 440.3,673.7 452.3,671.8 464.2,663.5 476.2,669.6 488.1,670.3 500.1,656.1 512.0,665.4 524.0,665.4 536.0,667.9 547.9,677.9 559.8,682.5 571.8,679.8 583.8,676.4 595.7,669.3 607.6,661.3 619.6,654.4 631.5,656.4 643.5,664.9 655.5,663.5 667.4,664.9 679.4,648.3 691.3,653.7 703.2,635.1 715.2,634.7 727.1,655.2 739.1,648.6 751.0,655.4 763.0,660.8 774.9,671.0 786.9,633.4 798.8,634.2 810.8,653.5 822.8,632.0 834.7,649.6"/><rect x="228.70" y="950.58" width="13.0" height="1.52" fill="#00ff00"/><rect x="241.30" y="827.37" width="13.0" height="124.73" fill="#00ff00"/><rect x="253.90" y="924.72" width="13.0" height="27.38" fill="#00ff00"/><rect x="266.50" y="949.06" width="13.0" height="3.04" fill="#00ff00"/><rect x="279.10" y="949.06" width="13.0" height="3.04" fill="#00ff00"/><rect x="291.70" y="947.92" width="13.0" height="4.18" fill="#00ff00"/><rect x="329.50" y="947.16" width="13.0" height="4.94" fill="#00ff00"/><rect x="342.10" y="949.06" width="13.0" height="3.04" fill="#00ff00"/><rect x="354.70" y="949.82" width="13.0" height="2.28" fill="#00ff00"/><rect x="367.30" y="936.13" width="13.0" height="15.97" fill="#00ff00"/><rect x="379.90" y="951.72" width="13.0" height="0.38" fill="#00ff00"/><line x1="159.40" y1="952.10" x2="159.40" y2="819.00" stroke="#000" stroke-width="0.8" stroke-dasharray="3.5 6.02"/><line x1="172.00" y1="952.10" x2="172.00" y2="819.00" stroke="#000" stroke-width="0.8" stroke-dasharray="3.5 6.02"/><line x1="184.60" y1="952.10" x2="184.60" y2="819.00" stroke="#000" stroke-width="0.8" stroke-dasharray="3.5 6.02"/><line x1="197.20" y1="952.10" x2="197.20" y2="819.00" stroke="#000" stroke-width="0.8" stroke-dasharray="3.5 6.02"/><line x1="209.80" y1="952.10" x2="209.80" y2="819.00" stroke="#000" stroke-width="0.8" stroke-dasharray="3.5 6.02"/><line x1="222.40" y1="952.10" x2="222.40" y2="819.00" stroke="#000" stroke-width="0.8" stroke-dasharray="3.5 6.02"/><line x1="235.00" y1="952.10" x2="235.00" y2="819.00" stroke="#000" stroke-width="0.8" stroke-dasharray="3.5 6.02"/><line x1="247.60" y1="952.10" x2="247.60" y2="819.00" stroke="#000" stroke-width="0.8" stroke-dasharray="3.5 6.02"/><line x1="260.20" y1="952.10" x2="260.20" y2="819.00" stroke="#000" stroke-width="0.8" stroke-dasharray="3.5 6.02"/><line x1="272.80" y1="952.10" x2="272.80" y2="819.00" stroke="#000" stroke-width="0.8" stroke-dasharray="3.5 6.02"/><line x1="285.40" y1="952.10" x2="285.40" y2="819.00" stroke="#000" stroke-width="0.8" stroke-dasharray="3.5 6.02"/><line x1="298.00" y1="952.10" x2="298.00" y2="819.00" stroke="#000" stroke-width="0.8" stroke-dasharray="3.5 6.02"/><line x1="310.60" y1="952.10" x2="310.60" y2="819.00" stroke="#000" stroke-width="0.8" stroke-dasharray="3.5 6.02"/><line x1="323.20" y1="952.10" x2="323.20" y2="819.00" stroke="#000" stroke-width="0.8" stroke-dasharray="3.5 6.02"/><line x1="335.80" y1="952.10" x2="335.80" y2="819.00" stroke="#000" stroke-width="0.8" stroke-dasharray="3.5 6.02"/><line x1="348.40" y1="952.10" x2="348.40" y2="819.00" stroke="#000" stroke-width="0.8" stroke-dasharray="3.5 6.02"/><line x1="361.00" y1="952.10" x2="361.00" y2="819.00" stroke="#000" stroke-width="0.8" stroke-dasharray="3.5 6.02"/><line x1="373.60" y1="952.10" x2="373.60" y2="819.00" stroke="#000" stroke-width="0.8" stroke-dasharray="3.5 6.02"/><line x1="386.20" y1="952.10" x2="386.20" y2="819.00" stroke="#000" stroke-width="0.8" stroke-dasharray="3.5 6.02"/><line x1="398.80" y1="952.10" x2="398.80" y2="819.00" stroke="#000" stroke-width="0.8" stroke-dasharray="3.5 6.02"/><line x1="411.40" y1="952.10" x2="411.40" y2="819.00" stroke="#000" stroke-width="0.8" stroke-dasharray="3.5 6.02"/><line x1="424.00" y1="952.10" x2="424.00" y2="819.00" stroke="#000" stroke-width="0.8" stroke-dasharray="3.5 6.02"/><line x1="436.60" y1="952.10" x2="436.60" y2="819.00" stroke="#000" stroke-width="0.8" stroke-dasharray="3.5 6.02"/><line x1="449.20" y1="952.10" x2="449.20" y2="819.00" stroke="#000" stroke-width="0.8" stroke-dasharray="3.5 6.02"/><line x1="461.80" y1="952.10" x2="461.80" y2="819.00" stroke="#000" stroke-width="0.8" stroke-dasharray="3.5 6.02"/><line x1="474.40" y1="952.10" x2="474.40" y2="819.00" stroke="#000" stroke-width="0.8" stroke-dasharray="3.5 6.02"/><line x1="487.00" y1="952.10" x2="487.00" y2="819.00" stroke="#000" stroke-width="0.8" stroke-dasharray="3.5 6.02"/><line x1="499.60" y1="952.10" x2="499.60" y2="819.00" stroke="#000" stroke-width="0.8" stroke-dasharray="3.5 6.02"/><line x1="512.20" y1="952.10" x2="512.20" y2="819.00" stroke="#000" stroke-width="0.8" stroke-dasharray="3.5 6.02"/><line x1="524.80" y1="952.10" x2="524.80" y2="819.00" stroke="#000" stroke-width="0.8" stroke-dasharray="3.5 6.02"/><line x1="537.40" y1="952.10" x2="537.40" y2="819.00" stroke="#000" stroke-width="0.8" stroke-dasharray="3.5 6.02"/><line x1="550.00" y1="952.10" x2="550.00" y2="819.00" stroke="#000" stroke-width="0.8" stroke-dasharray="3.5 6.02"/><line x1="562.60" y1="952.10" x2="562.60" y2="819.00" stroke="#000" stroke-width="0.8" stroke-dasharray="3.5 6.02"/><line x1="575.20" y1="952.10" x2="575.20" y2="819.00" stroke="#000" stroke-width="0.8" stroke-dasharray="3.5 6.02"/><line x1="587.80" y1="952.10" x2="587.80" y2="819.00" stroke="#000" stroke-width="0.8" stroke-dasharray="3.5 6.02"/><line x1="600.40" y1="952.10" x2="600.40" y2="819.00" stroke="#000" stroke-width="0.8" stroke-dasharray="3.5 6.02"/><line x1="613.00" y1="952.10" x2="613.00" y2="819.00" stroke="#000" stroke-width="0.8" stroke-dasharray="3.5 6.02"/><line x1="625.60" y1="952.10" x2="625.60" y2="819.00" stroke="#000" stroke-width="0.8" stroke-dasharray="3.5 6.02"/><line x1="638.20" y1="952.10" x2="638.20" y2="819.00" stroke="#000" stroke-width="0.8" stroke-dasharray="3.5 6.02"/><line x1="650.80" y1="952.10" x2="650.80" y2="819.00" stroke="#000" stroke-width="0.8" stroke-dasharray="3.5 6.02"/><line x1="663.40" y1="952.10" x2="663.40" y2="819.00" stroke="#000" stroke-width="0.8" stroke-dasharray="3.5 6.02"/><line x1="676.00" y1="952.10" x2="676.00" y2="819.00" stroke="#000" stroke-width="0.8" stroke-dasharray="3.5 6.02"/><line x1="688.60" y1="952.10" x2="688.60" y2="819.00" stroke="#000" stroke-width="0.8" stroke-dasharray="3.5 6.02"/><line x1="701.20" y1="952.10" x2="701.20" y2="819.00" stroke="#000" stroke-width="0.8" stroke-dasharray="3.5 6.02"/><line x1="713.80" y1="952.10" x2="713.80" y2="819.00" stroke="#000" stroke-width="0.8" stroke-dasharray="3.5 6.02"/><line x1="726.40" y1="952.10" x2="726.40" y2="819.00" stroke="#000" stroke-width="0.8" stroke-dasharray="3.5 6.02"/><line x1="739.00" y1="952.10" x2="739.00" y2="819.00" stroke="#000" stroke-width="0.8" stroke-dasharray="3.5 6.02"/><line x1="751.60" y1="952.10" x2="751.60" y2="819.00" stroke="#000" stroke-width="0.8" stroke-dasharray="3.5 6.02"/><line x1="764.20" y1="952.10" x2="764.20" y2="819.00" stroke="#000" stroke-width="0.8" stroke-dasharray="3.5 6.02"/><line x1="776.80" y1="952.10" x2="776.80" y2="819.00" stroke="#000" stroke-width="0.8" stroke-dasharray="3.5 6.02"/><line x1="789.40" y1="952.10" x2="789.40" y2="819.00" stroke="#000" stroke-width="0.8" stroke-dasharray="3.5 6.02"/><line x1="802.00" y1="952.10" x2="802.00" y2="819.00" stroke="#000" stroke-width="0.8" stroke-dasharray="3.5 6.02"/><line x1="814.60" y1="952.10" x2="814.60" y2="819.00" stroke="#000" stroke-width="0.8" stroke-dasharray="3.5 6.02"/><line x1="827.20" y1="952.10" x2="827.20" y2="819.00" stroke="#000" stroke-width="0.8" stroke-dasharray="3.5 6.02"/><line x1="839.80" y1="952.10" x2="839.80" y2="819.00" stroke="#000" stroke-width="0.8" stroke-dasharray="3.5 6.02"/><line x1="852.40" y1="952.10" x2="852.40" y2="819.00" stroke="#000" stroke-width="0.8" stroke-dasharray="3.5 6.02"/><line x1="865.00" y1="952.10" x2="865.00" y2="819.00" stroke="#000" stroke-width="0.8" stroke-dasharray="3.5 6.02"/><line x1="869.40" y1="933.09" x2="153.40" y2="933.09" stroke="#000" stroke-width="0.8" stroke-dasharray="3.5 6.02"/><line x1="869.40" y1="914.07" x2="153.40" y2="914.07" stroke="#000" stroke-width="0.8" stroke-dasharray="3.5 6.02"/><line x1="869.40" y1="895.06" x2="153.40" y2="895.06" stroke="#000" stroke-width="0.8" stroke-dasharray="3.5 6.02"/><line x1="869.40" y1="876.04" x2="153.40" y2="876.04" stroke="#000" stroke-width="0.8" stroke-dasharray="3.5 6.02"/><line x1="869.40" y1="857.03" x2="153.40" y2="857.03" stroke="#000" stroke-width="0.8" stroke-dasharray="3.5 6.02"/><line x1="869.40" y1="838.01" x2="153.40" y2="838.01" stroke="#000" stroke-width="0.8" stroke-dasharray="3.5 6.02"/><rect x="153.4" y="819.0" width="717.0" height="133.1" fill="none" stroke="#000" stroke-width="1.4"/><line x1="139.40" y1="952.10" x2="153.40" y2="952.10" stroke="#000" stroke-width="1.3"/><line x1="870.40" y1="952.10" x2="884.40" y2="952.10" stroke="#000" stroke-width="1.3"/><text x="133.1" y="955.6" font-size="9.8" text-anchor="end" >0.0</text><line x1="146.40" y1="948.30" x2="153.40" y2="948.30" stroke="#000" stroke-width="0.8"/><line x1="870.40" y1="948.30" x2="877.40" y2="948.30" stroke="#000" stroke-width="0.8"/><line x1="146.40" y1="944.49" x2="153.40" y2="944.49" stroke="#000" stroke-width="0.8"/><line x1="870.40" y1="944.49" x2="877.40" y2="944.49" stroke="#000" stroke-width="0.8"/><line x1="146.40" y1="940.69" x2="153.40" y2="940.69" stroke="#000" stroke-width="0.8"/><line x1="870.40" y1="940.69" x2="877.40" y2="940.69" stroke="#000" stroke-width="0.8"/><line x1="146.40" y1="936.89" x2="153.40" y2="936.89" stroke="#000" stroke-width="0.8"/><line x1="870.40" y1="936.89" x2="877.40" y2="936.89" stroke="#000" stroke-width="0.8"/><line x1="139.40" y1="933.09" x2="153.40" y2="933.09" stroke="#000" stroke-width="1.3"/><line x1="870.40" y1="933.09" x2="884.40" y2="933.09" stroke="#000" stroke-width="1.3"/><text x="133.1" y="936.6" font-size="9.8" text-anchor="end" >0.5</text><line x1="146.40" y1="929.28" x2="153.40" y2="929.28" stroke="#000" stroke-width="0.8"/><line x1="870.40" y1="929.28" x2="877.40" y2="929.28" stroke="#000" stroke-width="0.8"/><line x1="146.40" y1="925.48" x2="153.40" y2="925.48" stroke="#000" stroke-width="0.8"/><line x1="870.40" y1="925.48" x2="877.40" y2="925.48" stroke="#000" stroke-width="0.8"/><line x1="146.40" y1="921.68" x2="153.40" y2="921.68" stroke="#000" stroke-width="0.8"/><line x1="870.40" y1="921.68" x2="877.40" y2="921.68" stroke="#000" stroke-width="0.8"/><line x1="146.40" y1="917.87" x2="153.40" y2="917.87" stroke="#000" stroke-width="0.8"/><line x1="870.40" y1="917.87" x2="877.40" y2="917.87" stroke="#000" stroke-width="0.8"/><line x1="139.40" y1="914.07" x2="153.40" y2="914.07" stroke="#000" stroke-width="1.3"/><line x1="870.40" y1="914.07" x2="884.40" y2="914.07" stroke="#000" stroke-width="1.3"/><text x="133.1" y="917.6" font-size="9.8" text-anchor="end" >1.0</text><line x1="146.40" y1="910.27" x2="153.40" y2="910.27" stroke="#000" stroke-width="0.8"/><line x1="870.40" y1="910.27" x2="877.40" y2="910.27" stroke="#000" stroke-width="0.8"/><line x1="146.40" y1="906.47" x2="153.40" y2="906.47" stroke="#000" stroke-width="0.8"/><line x1="870.40" y1="906.47" x2="877.40" y2="906.47" stroke="#000" stroke-width="0.8"/><line x1="146.40" y1="902.66" x2="153.40" y2="902.66" stroke="#000" stroke-width="0.8"/><line x1="870.40" y1="902.66" x2="877.40" y2="902.66" stroke="#000" stroke-width="0.8"/><line x1="146.40" y1="898.86" x2="153.40" y2="898.86" stroke="#000" stroke-width="0.8"/><line x1="870.40" y1="898.86" x2="877.40" y2="898.86" stroke="#000" stroke-width="0.8"/><line x1="139.40" y1="895.06" x2="153.40" y2="895.06" stroke="#000" stroke-width="1.3"/><line x1="870.40" y1="895.06" x2="884.40" y2="895.06" stroke="#000" stroke-width="1.3"/><text x="133.1" y="898.6" font-size="9.8" text-anchor="end" >1.5</text><line x1="146.40" y1="891.25" x2="153.40" y2="891.25" stroke="#000" stroke-width="0.8"/><line x1="870.40" y1="891.25" x2="877.40" y2="891.25" stroke="#000" stroke-width="0.8"/><line x1="146.40" y1="887.45" x2="153.40" y2="887.45" stroke="#000" stroke-width="0.8"/><line x1="870.40" y1="887.45" x2="877.40" y2="887.45" stroke="#000" stroke-width="0.8"/><line x1="146.40" y1="883.65" x2="153.40" y2="883.65" stroke="#000" stroke-width="0.8"/><line x1="870.40" y1="883.65" x2="877.40" y2="883.65" stroke="#000" stroke-width="0.8"/><line x1="146.40" y1="879.85" x2="153.40" y2="879.85" stroke="#000" stroke-width="0.8"/><line x1="870.40" y1="879.85" x2="877.40" y2="879.85" stroke="#000" stroke-width="0.8"/><line x1="139.40" y1="876.04" x2="153.40" y2="876.04" stroke="#000" stroke-width="1.3"/><line x1="870.40" y1="876.04" x2="884.40" y2="876.04" stroke="#000" stroke-width="1.3"/><text x="133.1" y="879.5" font-size="9.8" text-anchor="end" >2.0</text><line x1="146.40" y1="872.24" x2="153.40" y2="872.24" stroke="#000" stroke-width="0.8"/><line x1="870.40" y1="872.24" x2="877.40" y2="872.24" stroke="#000" stroke-width="0.8"/><line x1="146.40" y1="868.44" x2="153.40" y2="868.44" stroke="#000" stroke-width="0.8"/><line x1="870.40" y1="868.44" x2="877.40" y2="868.44" stroke="#000" stroke-width="0.8"/><line x1="146.40" y1="864.63" x2="153.40" y2="864.63" stroke="#000" stroke-width="0.8"/><line x1="870.40" y1="864.63" x2="877.40" y2="864.63" stroke="#000" stroke-width="0.8"/><line x1="146.40" y1="860.83" x2="153.40" y2="860.83" stroke="#000" stroke-width="0.8"/><line x1="870.40" y1="860.83" x2="877.40" y2="860.83" stroke="#000" stroke-width="0.8"/><line x1="139.40" y1="857.03" x2="153.40" y2="857.03" stroke="#000" stroke-width="1.3"/><line x1="870.40" y1="857.03" x2="884.40" y2="857.03" stroke="#000" stroke-width="1.3"/><text x="133.1" y="860.5" font-size="9.8" text-anchor="end" >2.5</text><line x1="146.40" y1="853.23" x2="153.40" y2="853.23" stroke="#000" stroke-width="0.8"/><line x1="870.40" y1="853.23" x2="877.40" y2="853.23" stroke="#000" stroke-width="0.8"/><line x1="146.40" y1="849.42" x2="153.40" y2="849.42" stroke="#000" stroke-width="0.8"/><line x1="870.40" y1="849.42" x2="877.40" y2="849.42" stroke="#000" stroke-width="0.8"/><line x1="146.40" y1="845.62" x2="153.40" y2="845.62" stroke="#000" stroke-width="0.8"/><line x1="870.40" y1="845.62" x2="877.40" y2="845.62" stroke="#000" stroke-width="0.8"/><line x1="146.40" y1="841.82" x2="153.40" y2="841.82" stroke="#000" stroke-width="0.8"/><line x1="870.40" y1="841.82" x2="877.40" y2="841.82" stroke="#000" stroke-width="0.8"/><line x1="139.40" y1="838.01" x2="153.40" y2="838.01" stroke="#000" stroke-width="1.3"/><line x1="870.40" y1="838.01" x2="884.40" y2="838.01" stroke="#000" stroke-width="1.3"/><text x="133.1" y="841.5" font-size="9.8" text-anchor="end" >3.0</text><line x1="146.40" y1="834.21" x2="153.40" y2="834.21" stroke="#000" stroke-width="0.8"/><line x1="870.40" y1="834.21" x2="877.40" y2="834.21" stroke="#000" stroke-width="0.8"/><line x1="146.40" y1="830.41" x2="153.40" y2="830.41" stroke="#000" stroke-width="0.8"/><line x1="870.40" y1="830.41" x2="877.40" y2="830.41" stroke="#000" stroke-width="0.8"/><line x1="146.40" y1="826.61" x2="153.40" y2="826.61" stroke="#000" stroke-width="0.8"/><line x1="870.40" y1="826.61" x2="877.40" y2="826.61" stroke="#000" stroke-width="0.8"/><line x1="146.40" y1="822.80" x2="153.40" y2="822.80" stroke="#000" stroke-width="0.8"/><line x1="870.40" y1="822.80" x2="877.40" y2="822.80" stroke="#000" stroke-width="0.8"/><line x1="139.40" y1="819.00" x2="153.40" y2="819.00" stroke="#000" stroke-width="1.3"/><line x1="870.40" y1="819.00" x2="884.40" y2="819.00" stroke="#000" stroke-width="1.3"/><text x="133.1" y="822.5" font-size="9.8" text-anchor="end" >3.5</text><line x1="159.40" y1="952.10" x2="159.40" y2="965.80" stroke="#000" stroke-width="1.2"/><line x1="172.00" y1="952.10" x2="172.00" y2="965.80" stroke="#000" stroke-width="1.2"/><line x1="184.60" y1="952.10" x2="184.60" y2="965.80" stroke="#000" stroke-width="1.2"/><line x1="197.20" y1="952.10" x2="197.20" y2="965.80" stroke="#000" stroke-width="1.2"/><line x1="209.80" y1="952.10" x2="209.80" y2="965.80" stroke="#000" stroke-width="1.2"/><line x1="222.40" y1="952.10" x2="222.40" y2="965.80" stroke="#000" stroke-width="1.2"/><line x1="235.00" y1="952.10" x2="235.00" y2="965.80" stroke="#000" stroke-width="1.2"/><line x1="247.60" y1="952.10" x2="247.60" y2="965.80" stroke="#000" stroke-width="1.2"/><line x1="260.20" y1="952.10" x2="260.20" y2="965.80" stroke="#000" stroke-width="1.2"/><line x1="272.80" y1="952.10" x2="272.80" y2="965.80" stroke="#000" stroke-width="1.2"/><line x1="285.40" y1="952.10" x2="285.40" y2="965.80" stroke="#000" stroke-width="1.2"/><line x1="298.00" y1="952.10" x2="298.00" y2="965.80" stroke="#000" stroke-width="1.2"/><line x1="310.60" y1="952.10" x2="310.60" y2="965.80" stroke="#000" stroke-width="1.2"/><line x1="323.20" y1="952.10" x2="323.20" y2="965.80" stroke="#000" stroke-width="1.2"/><line x1="335.80" y1="952.10" x2="335.80" y2="965.80" stroke="#000" stroke-width="1.2"/><line x1="348.40" y1="952.10" x2="348.40" y2="965.80" stroke="#000" stroke-width="1.2"/><line x1="361.00" y1="952.10" x2="361.00" y2="965.80" stroke="#000" stroke-width="1.2"/><line x1="373.60" y1="952.10" x2="373.60" y2="965.80" stroke="#000" stroke-width="1.2"/><line x1="386.20" y1="952.10" x2="386.20" y2="965.80" stroke="#000" stroke-width="1.2"/><line x1="398.80" y1="952.10" x2="398.80" y2="965.80" stroke="#000" stroke-width="1.2"/><line x1="411.40" y1="952.10" x2="411.40" y2="965.80" stroke="#000" stroke-width="1.2"/><line x1="424.00" y1="952.10" x2="424.00" y2="965.80" stroke="#000" stroke-width="1.2"/><line x1="436.60" y1="952.10" x2="436.60" y2="965.80" stroke="#000" stroke-width="1.2"/><line x1="449.20" y1="952.10" x2="449.20" y2="965.80" stroke="#000" stroke-width="1.2"/><line x1="461.80" y1="952.10" x2="461.80" y2="965.80" stroke="#000" stroke-width="1.2"/><line x1="474.40" y1="952.10" x2="474.40" y2="965.80" stroke="#000" stroke-width="1.2"/><line x1="487.00" y1="952.10" x2="487.00" y2="965.80" stroke="#000" stroke-width="1.2"/><line x1="499.60" y1="952.10" x2="499.60" y2="965.80" stroke="#000" stroke-width="1.2"/><line x1="512.20" y1="952.10" x2="512.20" y2="965.80" stroke="#000" stroke-width="1.2"/><line x1="524.80" y1="952.10" x2="524.80" y2="965.80" stroke="#000" stroke-width="1.2"/><line x1="537.40" y1="952.10" x2="537.40" y2="965.80" stroke="#000" stroke-width="1.2"/><line x1="550.00" y1="952.10" x2="550.00" y2="965.80" stroke="#000" stroke-width="1.2"/><line x1="562.60" y1="952.10" x2="562.60" y2="965.80" stroke="#000" stroke-width="1.2"/><line x1="575.20" y1="952.10" x2="575.20" y2="965.80" stroke="#000" stroke-width="1.2"/><line x1="587.80" y1="952.10" x2="587.80" y2="965.80" stroke="#000" stroke-width="1.2"/><line x1="600.40" y1="952.10" x2="600.40" y2="965.80" stroke="#000" stroke-width="1.2"/><line x1="613.00" y1="952.10" x2="613.00" y2="965.80" stroke="#000" stroke-width="1.2"/><line x1="625.60" y1="952.10" x2="625.60" y2="965.80" stroke="#000" stroke-width="1.2"/><line x1="638.20" y1="952.10" x2="638.20" y2="965.80" stroke="#000" stroke-width="1.2"/><line x1="650.80" y1="952.10" x2="650.80" y2="965.80" stroke="#000" stroke-width="1.2"/><line x1="663.40" y1="952.10" x2="663.40" y2="965.80" stroke="#000" stroke-width="1.2"/><line x1="676.00" y1="952.10" x2="676.00" y2="965.80" stroke="#000" stroke-width="1.2"/><line x1="688.60" y1="952.10" x2="688.60" y2="965.80" stroke="#000" stroke-width="1.2"/><line x1="701.20" y1="952.10" x2="701.20" y2="965.80" stroke="#000" stroke-width="1.2"/><line x1="713.80" y1="952.10" x2="713.80" y2="965.80" stroke="#000" stroke-width="1.2"/><line x1="726.40" y1="952.10" x2="726.40" y2="965.80" stroke="#000" stroke-width="1.2"/><line x1="739.00" y1="952.10" x2="739.00" y2="965.80" stroke="#000" stroke-width="1.2"/><line x1="751.60" y1="952.10" x2="751.60" y2="965.80" stroke="#000" stroke-width="1.2"/><line x1="764.20" y1="952.10" x2="764.20" y2="965.80" stroke="#000" stroke-width="1.2"/><line x1="776.80" y1="952.10" x2="776.80" y2="965.80" stroke="#000" stroke-width="1.2"/><line x1="789.40" y1="952.10" x2="789.40" y2="965.80" stroke="#000" stroke-width="1.2"/><line x1="802.00" y1="952.10" x2="802.00" y2="965.80" stroke="#000" stroke-width="1.2"/><line x1="814.60" y1="952.10" x2="814.60" y2="965.80" stroke="#000" stroke-width="1.2"/><line x1="827.20" y1="952.10" x2="827.20" y2="965.80" stroke="#000" stroke-width="1.2"/><line x1="839.80" y1="952.10" x2="839.80" y2="965.80" stroke="#000" stroke-width="1.2"/><line x1="852.40" y1="952.10" x2="852.40" y2="965.80" stroke="#000" stroke-width="1.2"/><line x1="865.00" y1="952.10" x2="865.00" y2="965.80" stroke="#000" stroke-width="1.2"/><text x="0" y="0" font-size="13.5" text-anchor="middle" transform="translate(162.8 978.5) rotate(-45)" dy="0.35em">30.00</text><text x="0" y="0" font-size="13.5" text-anchor="middle" transform="translate(213.2 978.5) rotate(-45)" dy="0.35em">30.12</text><text x="0" y="0" font-size="13.5" text-anchor="middle" transform="translate(263.6 978.5) rotate(-45)" dy="0.35em">31.00</text><text x="0" y="0" font-size="13.5" text-anchor="middle" transform="translate(314.0 978.5) rotate(-45)" dy="0.35em">31.12</text><text x="0" y="0" font-size="13.5" text-anchor="middle" transform="translate(364.4 978.5) rotate(-45)" dy="0.35em">01.00</text><text x="0" y="0" font-size="13.5" text-anchor="middle" transform="translate(414.8 978.5) rotate(-45)" dy="0.35em">01.12</text><text x="0" y="0" font-size="13.5" text-anchor="middle" transform="translate(465.2 978.5) rotate(-45)" dy="0.35em">02.00</text><text x="0" y="0" font-size="13.5" text-anchor="middle" transform="translate(515.6 978.5) rotate(-45)" dy="0.35em">02.12</text><text x="0" y="0" font-size="13.5" text-anchor="middle" transform="translate(566.0 978.5) rotate(-45)" dy="0.35em">03.00</text><text x="0" y="0" font-size="13.5" text-anchor="middle" transform="translate(616.4 978.5) rotate(-45)" dy="0.35em">03.12</text><text x="0" y="0" font-size="13.5" text-anchor="middle" transform="translate(666.8 978.5) rotate(-45)" dy="0.35em">04.00</text><text x="0" y="0" font-size="13.5" text-anchor="middle" transform="translate(717.2 978.5) rotate(-45)" dy="0.35em">04.12</text><text x="0" y="0" font-size="13.5" text-anchor="middle" transform="translate(767.6 978.5) rotate(-45)" dy="0.35em">05.00</text><text x="0" y="0" font-size="13.5" text-anchor="middle" transform="translate(818.0 978.5) rotate(-45)" dy="0.35em">05.12</text><text x="0" y="0" font-size="13.5" text-anchor="middle" transform="translate(868.4 978.5) rotate(-45)" dy="0.35em">06.00</text><text x="0" y="0" font-size="25" text-anchor="middle" transform="translate(101.1 885.5) rotate(-90)" textLength="146.4" lengthAdjust="spacingAndGlyphs">PRECIP, mm</text></svg></body></html>
